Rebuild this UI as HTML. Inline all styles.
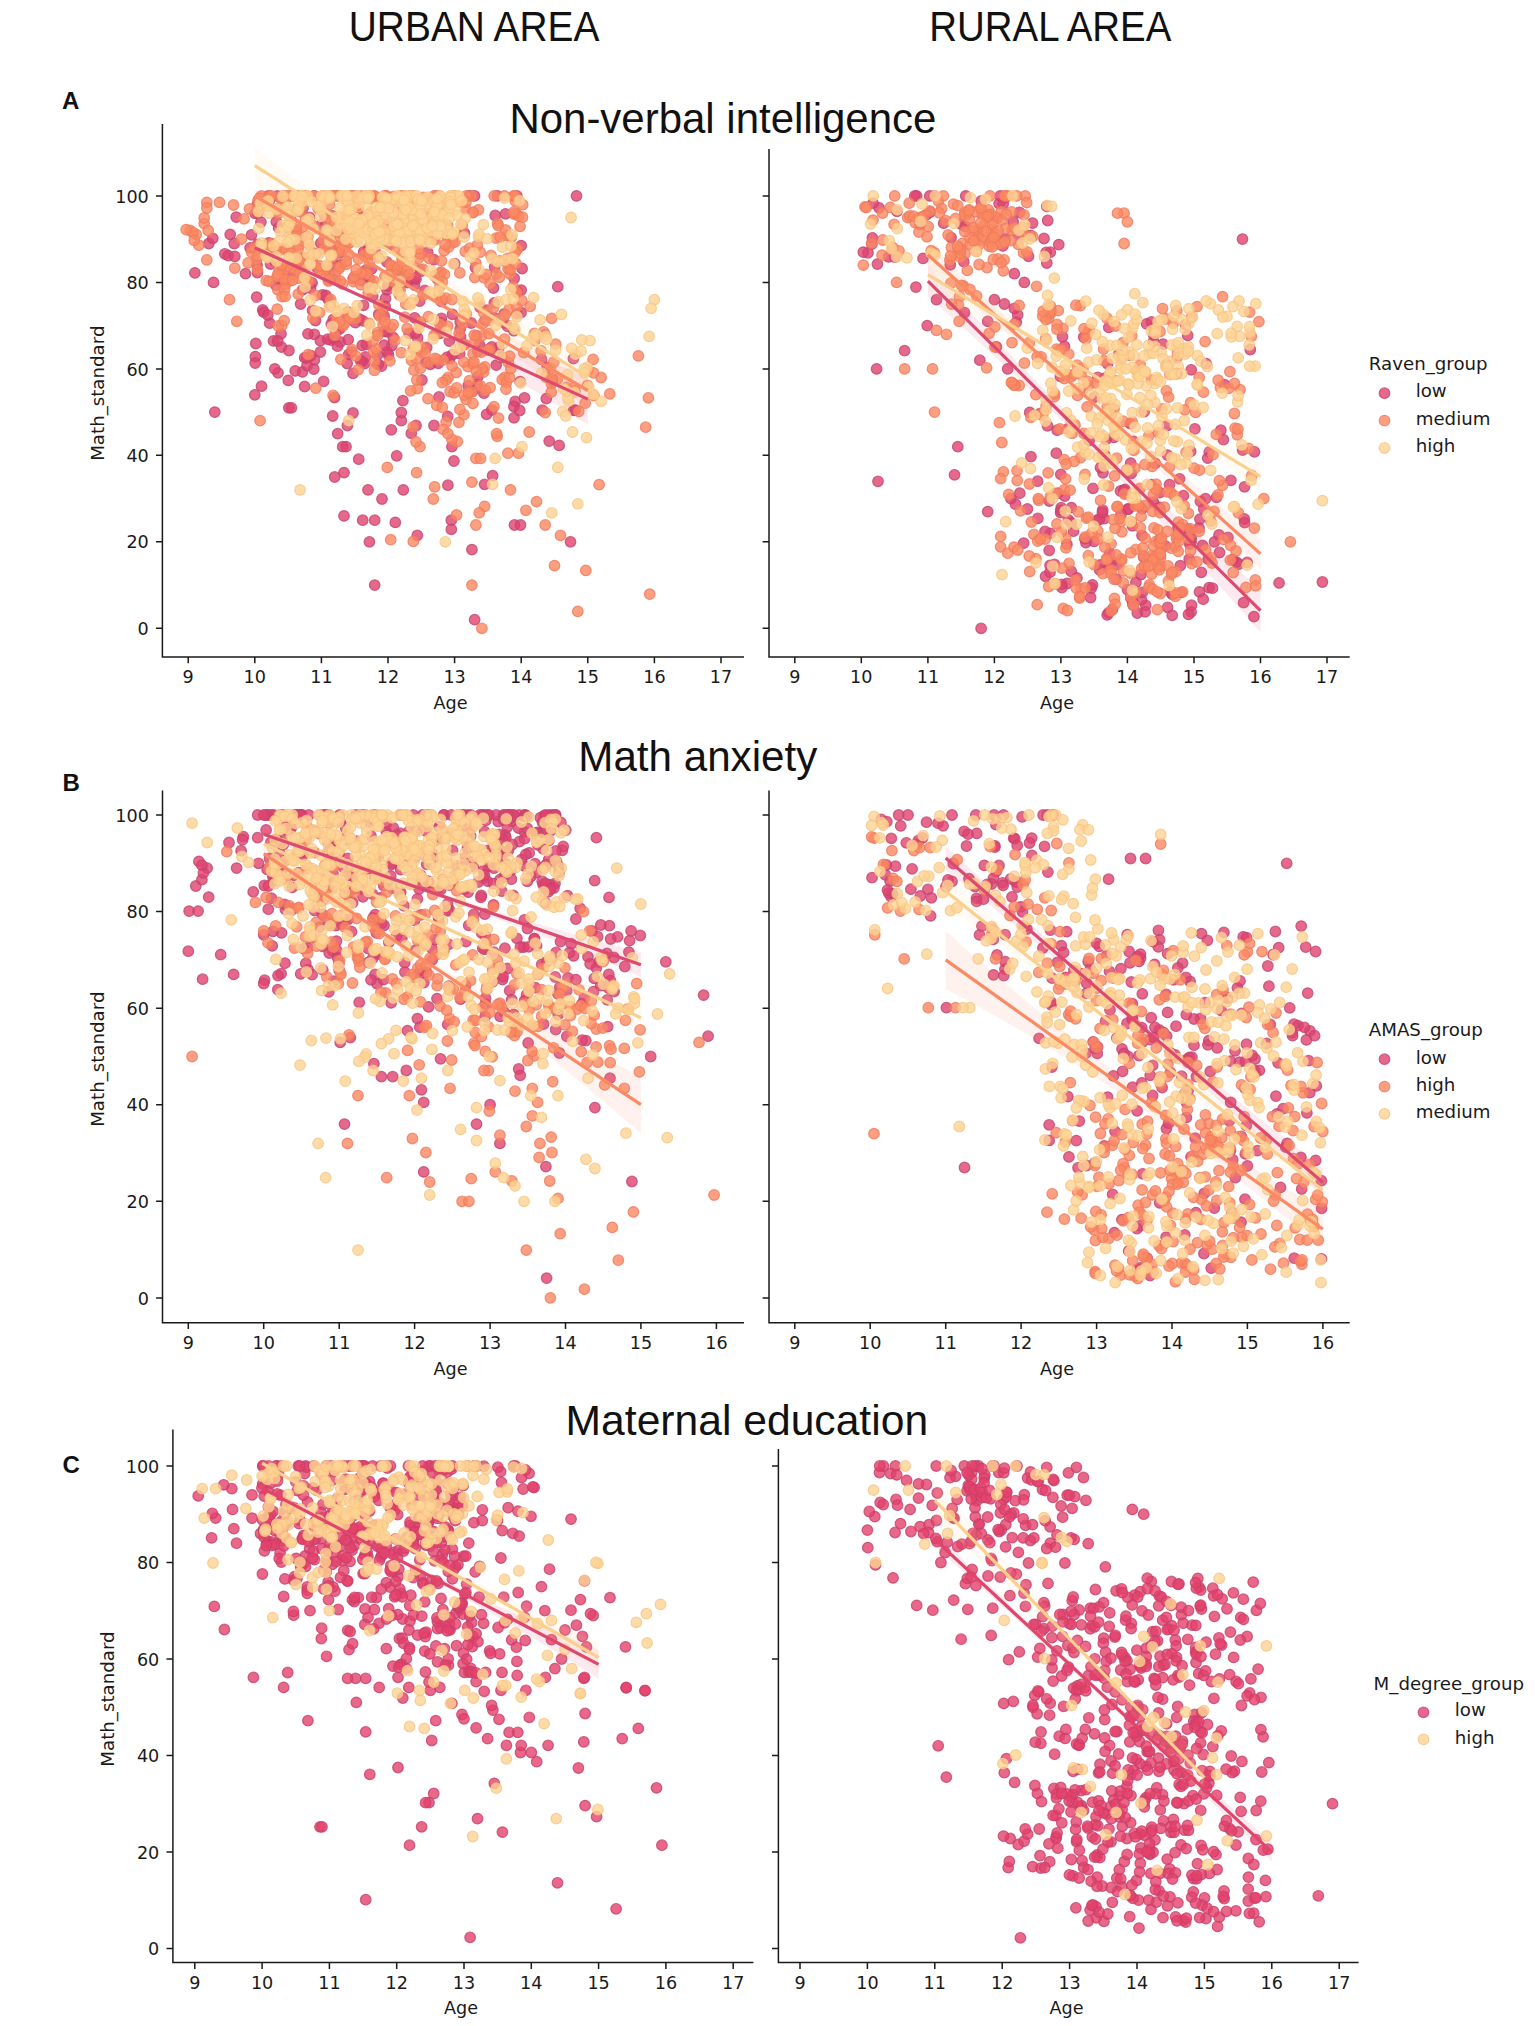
<!DOCTYPE html>
<html lang="en"><head><meta charset="utf-8"><title>Math achievement by age: urban and rural area</title>
<style>html,body{margin:0;padding:0;background:#fff}svg{display:block}text{font-family:"DejaVu Sans","Liberation Sans",sans-serif;font-size:17.6px;fill:#1a1a1a}.pts circle{r:5.3px;fill-opacity:.8;stroke-opacity:.8;stroke-width:1.2px}.h{font-family:"Liberation Sans",sans-serif;font-size:42.2px;fill:#111}.b{font-size:18.2px}.l{font-family:"Liberation Sans",sans-serif;font-weight:bold;font-size:24px;fill:#111}</style></head><body>
<svg width="1535" height="2026" viewBox="0 0 1535 2026" role="img" aria-label="Scatter plots of Math_standard by Age for urban and rural areas">
<rect width="1535" height="2026" fill="#fff"/>
<g class="h">
<text class="h" x="348.8" y="41.2" textLength="250.6" lengthAdjust="spacingAndGlyphs">URBAN AREA</text>
<text class="h" x="929.2" y="41.2" textLength="242.2" lengthAdjust="spacingAndGlyphs">RURAL AREA</text>
</g>
<!-- panel AL -->
<g class="pts">
<g fill="#e0426e" stroke="#c2456f">
<circle cx="491.8" cy="410" r="5.3"/><circle cx="347.4" cy="425.5" r="5.3"/><circle cx="333.3" cy="319.3" r="5.3"/><circle cx="451.3" cy="520.2" r="5.3"/><circle cx="447.7" cy="416.4" r="5.3"/><circle cx="449.6" cy="358.7" r="5.3"/><circle cx="254.8" cy="394.8" r="5.3"/><circle cx="468.2" cy="385.6" r="5.3"/>
<circle cx="522.1" cy="268.5" r="5.3"/><circle cx="401.3" cy="420.7" r="5.3"/><circle cx="245.5" cy="273.7" r="5.3"/><circle cx="333" cy="245.8" r="5.3"/><circle cx="340.6" cy="325.9" r="5.3"/><circle cx="469.3" cy="195.9" r="5.3"/><circle cx="515.2" cy="401.3" r="5.3"/><circle cx="385.5" cy="298.4" r="5.3"/>
<circle cx="337.6" cy="231.9" r="5.3"/><circle cx="260.9" cy="222.1" r="5.3"/><circle cx="386.8" cy="261.8" r="5.3"/><circle cx="387" cy="289.8" r="5.3"/><circle cx="559.2" cy="445.4" r="5.3"/><circle cx="362.2" cy="345.4" r="5.3"/><circle cx="213.5" cy="282.4" r="5.3"/><circle cx="362.5" cy="361.8" r="5.3"/>
<circle cx="355.3" cy="322.6" r="5.3"/><circle cx="291.1" cy="220.5" r="5.3"/><circle cx="359.5" cy="319.1" r="5.3"/><circle cx="498.7" cy="347.7" r="5.3"/><circle cx="409.1" cy="333.5" r="5.3"/><circle cx="494.3" cy="302.9" r="5.3"/><circle cx="507.6" cy="326.4" r="5.3"/><circle cx="414.5" cy="285" r="5.3"/>
<circle cx="314.4" cy="334.3" r="5.3"/><circle cx="552.6" cy="380.9" r="5.3"/><circle cx="276" cy="285.2" r="5.3"/><circle cx="255.8" cy="343.5" r="5.3"/><circle cx="331.3" cy="323.8" r="5.3"/><circle cx="320.4" cy="352" r="5.3"/><circle cx="321.3" cy="224.9" r="5.3"/><circle cx="477.3" cy="384.6" r="5.3"/>
<circle cx="493.5" cy="288" r="5.3"/><circle cx="339.8" cy="252.8" r="5.3"/><circle cx="372.7" cy="295.9" r="5.3"/><circle cx="541.5" cy="359.4" r="5.3"/><circle cx="401.3" cy="412.5" r="5.3"/><circle cx="368.2" cy="285.2" r="5.3"/><circle cx="484.6" cy="484.3" r="5.3"/><circle cx="304.6" cy="386.5" r="5.3"/>
<circle cx="434" cy="425.5" r="5.3"/><circle cx="372.6" cy="253.7" r="5.3"/><circle cx="363.5" cy="305.3" r="5.3"/><circle cx="387.2" cy="331.8" r="5.3"/><circle cx="282.1" cy="285" r="5.3"/><circle cx="257.4" cy="204.5" r="5.3"/><circle cx="302.4" cy="371.9" r="5.3"/><circle cx="382" cy="499" r="5.3"/>
<circle cx="320.4" cy="340.7" r="5.3"/><circle cx="441.4" cy="318.3" r="5.3"/><circle cx="346" cy="446.7" r="5.3"/><circle cx="344" cy="472.6" r="5.3"/><circle cx="340.2" cy="342" r="5.3"/><circle cx="514" cy="417.8" r="5.3"/><circle cx="262.7" cy="310" r="5.3"/><circle cx="324.3" cy="214.5" r="5.3"/>
<circle cx="486.6" cy="414.3" r="5.3"/><circle cx="471.9" cy="549.6" r="5.3"/><circle cx="377.8" cy="256.8" r="5.3"/><circle cx="297.4" cy="195.9" r="5.3"/><circle cx="269.4" cy="200.6" r="5.3"/><circle cx="255.3" cy="356.6" r="5.3"/><circle cx="276.3" cy="221.7" r="5.3"/><circle cx="344.6" cy="244.1" r="5.3"/>
<circle cx="486.8" cy="310.2" r="5.3"/><circle cx="316.9" cy="267.6" r="5.3"/><circle cx="358.7" cy="459.2" r="5.3"/><circle cx="364.6" cy="363.5" r="5.3"/><circle cx="314.4" cy="359.9" r="5.3"/><circle cx="504.6" cy="323.1" r="5.3"/><circle cx="288.3" cy="380.4" r="5.3"/><circle cx="374.7" cy="520.2" r="5.3"/>
<circle cx="391.3" cy="429.8" r="5.3"/><circle cx="332.7" cy="416" r="5.3"/><circle cx="330.1" cy="305.4" r="5.3"/><circle cx="451.9" cy="446.7" r="5.3"/><circle cx="420.7" cy="269.7" r="5.3"/><circle cx="255.2" cy="363.1" r="5.3"/><circle cx="277.2" cy="195.9" r="5.3"/><circle cx="363" cy="217.1" r="5.3"/>
<circle cx="520.1" cy="381.7" r="5.3"/><circle cx="379.4" cy="235" r="5.3"/><circle cx="353.2" cy="278.6" r="5.3"/><circle cx="460.5" cy="336.6" r="5.3"/><circle cx="331" cy="340" r="5.3"/><circle cx="441.3" cy="301.4" r="5.3"/><circle cx="347.6" cy="311.8" r="5.3"/><circle cx="411.3" cy="433.3" r="5.3"/>
<circle cx="255.1" cy="213.4" r="5.3"/><circle cx="388.5" cy="355" r="5.3"/><circle cx="333.9" cy="338.7" r="5.3"/><circle cx="417.6" cy="337.8" r="5.3"/><circle cx="387.4" cy="351.8" r="5.3"/><circle cx="381.5" cy="366.1" r="5.3"/><circle cx="310.8" cy="355.6" r="5.3"/><circle cx="348.2" cy="339.7" r="5.3"/>
<circle cx="504.1" cy="314" r="5.3"/><circle cx="335.7" cy="331.7" r="5.3"/><circle cx="491" cy="349.8" r="5.3"/><circle cx="375.3" cy="251.8" r="5.3"/><circle cx="387.7" cy="286" r="5.3"/><circle cx="463.8" cy="344.7" r="5.3"/><circle cx="365.9" cy="270.2" r="5.3"/><circle cx="322.5" cy="294.8" r="5.3"/>
<circle cx="337.5" cy="346.2" r="5.3"/><circle cx="288.4" cy="275.6" r="5.3"/><circle cx="453" cy="195.9" r="5.3"/><circle cx="263.7" cy="312.2" r="5.3"/><circle cx="420.8" cy="271.4" r="5.3"/><circle cx="274.8" cy="260.9" r="5.3"/><circle cx="251.5" cy="234.8" r="5.3"/><circle cx="347.2" cy="363.5" r="5.3"/>
<circle cx="385.2" cy="306.4" r="5.3"/><circle cx="407.3" cy="282.6" r="5.3"/><circle cx="416.6" cy="231.5" r="5.3"/><circle cx="376.1" cy="215.1" r="5.3"/><circle cx="521" cy="312.5" r="5.3"/><circle cx="234.2" cy="243.5" r="5.3"/><circle cx="441.1" cy="322.8" r="5.3"/><circle cx="514.2" cy="278.3" r="5.3"/>
<circle cx="355.8" cy="195.9" r="5.3"/><circle cx="517.5" cy="291.7" r="5.3"/><circle cx="546.3" cy="398.6" r="5.3"/><circle cx="471.2" cy="323" r="5.3"/><circle cx="521.2" cy="290.1" r="5.3"/><circle cx="362.7" cy="520.2" r="5.3"/><circle cx="513.8" cy="330.8" r="5.3"/><circle cx="545" cy="334.7" r="5.3"/>
<circle cx="270.5" cy="264" r="5.3"/><circle cx="439.2" cy="277.5" r="5.3"/><circle cx="262.5" cy="248.8" r="5.3"/><circle cx="273.5" cy="340.9" r="5.3"/><circle cx="281" cy="333.8" r="5.3"/><circle cx="475.5" cy="267.7" r="5.3"/><circle cx="477.9" cy="376.5" r="5.3"/><circle cx="433.9" cy="259.7" r="5.3"/>
<circle cx="327.8" cy="339.2" r="5.3"/><circle cx="281.5" cy="347.1" r="5.3"/><circle cx="208.8" cy="243.5" r="5.3"/><circle cx="306.7" cy="358" r="5.3"/><circle cx="278" cy="372.8" r="5.3"/><circle cx="549.2" cy="441.1" r="5.3"/><circle cx="353" cy="413" r="5.3"/><circle cx="365.5" cy="357" r="5.3"/>
<circle cx="290.8" cy="195.9" r="5.3"/><circle cx="437.8" cy="279.2" r="5.3"/><circle cx="514.5" cy="525" r="5.3"/><circle cx="440.1" cy="333.3" r="5.3"/><circle cx="274.8" cy="368.9" r="5.3"/><circle cx="286.4" cy="227.5" r="5.3"/><circle cx="294.2" cy="230" r="5.3"/><circle cx="277.7" cy="341" r="5.3"/>
<circle cx="257.1" cy="265.1" r="5.3"/><circle cx="403.3" cy="489.9" r="5.3"/><circle cx="573.7" cy="410.4" r="5.3"/><circle cx="328.3" cy="299.3" r="5.3"/><circle cx="417.3" cy="535.3" r="5.3"/><circle cx="395.3" cy="522.4" r="5.3"/><circle cx="307" cy="365.5" r="5.3"/><circle cx="464.4" cy="233.2" r="5.3"/>
<circle cx="452.5" cy="354.6" r="5.3"/><circle cx="424.8" cy="290.5" r="5.3"/><circle cx="288.9" cy="350.5" r="5.3"/><circle cx="520.5" cy="525" r="5.3"/><circle cx="257.5" cy="272.7" r="5.3"/><circle cx="521.2" cy="245.6" r="5.3"/><circle cx="496.2" cy="365.1" r="5.3"/><circle cx="194.9" cy="272.9" r="5.3"/>
<circle cx="573.4" cy="358.6" r="5.3"/><circle cx="224.8" cy="253.8" r="5.3"/><circle cx="331.8" cy="215.6" r="5.3"/><circle cx="447.9" cy="485.2" r="5.3"/><circle cx="309.6" cy="217.3" r="5.3"/><circle cx="308" cy="333.8" r="5.3"/><circle cx="439" cy="397" r="5.3"/><circle cx="344" cy="515.9" r="5.3"/>
<circle cx="335.1" cy="279.6" r="5.3"/><circle cx="304.7" cy="357.7" r="5.3"/><circle cx="378.2" cy="364.3" r="5.3"/><circle cx="302.6" cy="289.8" r="5.3"/><circle cx="363.7" cy="251.8" r="5.3"/><circle cx="228.2" cy="255.6" r="5.3"/><circle cx="323.6" cy="381.3" r="5.3"/><circle cx="474.5" cy="195.9" r="5.3"/>
<circle cx="421.9" cy="380" r="5.3"/><circle cx="366.4" cy="344.3" r="5.3"/><circle cx="513.9" cy="406.5" r="5.3"/><circle cx="402.9" cy="400.7" r="5.3"/><circle cx="250.1" cy="247.8" r="5.3"/><circle cx="430.4" cy="364.3" r="5.3"/><circle cx="332.1" cy="257.9" r="5.3"/><circle cx="342.7" cy="446.7" r="5.3"/>
<circle cx="351.7" cy="351.9" r="5.3"/><circle cx="257.6" cy="244.3" r="5.3"/><circle cx="516.9" cy="195.9" r="5.3"/><circle cx="414.7" cy="317.8" r="5.3"/><circle cx="295.2" cy="370.9" r="5.3"/><circle cx="329.5" cy="274" r="5.3"/><circle cx="453.9" cy="461" r="5.3"/><circle cx="494.7" cy="317.9" r="5.3"/>
<circle cx="576.5" cy="195.9" r="5.3"/><circle cx="492.6" cy="475.7" r="5.3"/><circle cx="451.3" cy="529.3" r="5.3"/><circle cx="391.9" cy="345.5" r="5.3"/><circle cx="339.5" cy="329.2" r="5.3"/><circle cx="426.7" cy="347.3" r="5.3"/><circle cx="285" cy="269.3" r="5.3"/><circle cx="488.6" cy="349.5" r="5.3"/>
<circle cx="212.8" cy="238.3" r="5.3"/><circle cx="505.5" cy="213.8" r="5.3"/><circle cx="305.9" cy="195.9" r="5.3"/><circle cx="326" cy="295.5" r="5.3"/><circle cx="377.5" cy="355.1" r="5.3"/><circle cx="495.2" cy="215.5" r="5.3"/><circle cx="557.8" cy="286.7" r="5.3"/><circle cx="269.7" cy="323.2" r="5.3"/>
<circle cx="312.1" cy="282.9" r="5.3"/><circle cx="415.6" cy="333.1" r="5.3"/><circle cx="334.5" cy="397.5" r="5.3"/><circle cx="288.8" cy="407.8" r="5.3"/><circle cx="570.5" cy="541.8" r="5.3"/><circle cx="427.7" cy="252.2" r="5.3"/><circle cx="374.7" cy="585.1" r="5.3"/><circle cx="485" cy="320.3" r="5.3"/>
<circle cx="267.8" cy="315" r="5.3"/><circle cx="369.4" cy="541.8" r="5.3"/><circle cx="236.2" cy="217.1" r="5.3"/><circle cx="419.6" cy="301.2" r="5.3"/><circle cx="542.2" cy="410.2" r="5.3"/><circle cx="524.5" cy="397.8" r="5.3"/><circle cx="516.9" cy="313.8" r="5.3"/><circle cx="472.6" cy="391.3" r="5.3"/>
<circle cx="479.5" cy="344.9" r="5.3"/><circle cx="384.1" cy="316.2" r="5.3"/><circle cx="266.5" cy="255.2" r="5.3"/><circle cx="230.2" cy="234.4" r="5.3"/><circle cx="348.7" cy="354.3" r="5.3"/><circle cx="368" cy="489.9" r="5.3"/><circle cx="315.4" cy="320.5" r="5.3"/><circle cx="271.5" cy="252.2" r="5.3"/>
<circle cx="348" cy="315.3" r="5.3"/><circle cx="497.3" cy="195.9" r="5.3"/><circle cx="438.2" cy="363.3" r="5.3"/><circle cx="334.7" cy="477" r="5.3"/><circle cx="268.2" cy="195.9" r="5.3"/><circle cx="574.9" cy="390.9" r="5.3"/><circle cx="350.3" cy="229.7" r="5.3"/><circle cx="501.9" cy="357.4" r="5.3"/>
<circle cx="312.6" cy="310.3" r="5.3"/><circle cx="476.6" cy="336" r="5.3"/><circle cx="483.9" cy="393.2" r="5.3"/><circle cx="384.3" cy="345.1" r="5.3"/><circle cx="460.2" cy="328.8" r="5.3"/><circle cx="416" cy="425.5" r="5.3"/><circle cx="337.7" cy="433.7" r="5.3"/><circle cx="396.7" cy="455.8" r="5.3"/>
<circle cx="460.2" cy="321.8" r="5.3"/><circle cx="547.1" cy="367.3" r="5.3"/><circle cx="257.8" cy="212.9" r="5.3"/><circle cx="491.8" cy="347" r="5.3"/><circle cx="377.7" cy="241.9" r="5.3"/><circle cx="575.5" cy="410.1" r="5.3"/><circle cx="452.4" cy="314.3" r="5.3"/><circle cx="360.5" cy="360.6" r="5.3"/>
<circle cx="314.1" cy="195.9" r="5.3"/><circle cx="303.1" cy="208.1" r="5.3"/><circle cx="480.1" cy="307.3" r="5.3"/><circle cx="261.5" cy="386.2" r="5.3"/><circle cx="384.3" cy="223.1" r="5.3"/><circle cx="449.3" cy="341.1" r="5.3"/><circle cx="406.2" cy="281.1" r="5.3"/><circle cx="384.2" cy="331.4" r="5.3"/>
<circle cx="426.2" cy="362.7" r="5.3"/><circle cx="291.4" cy="407.8" r="5.3"/><circle cx="371.6" cy="268.9" r="5.3"/><circle cx="474.6" cy="619.7" r="5.3"/><circle cx="459.7" cy="353.6" r="5.3"/><circle cx="234.8" cy="256.4" r="5.3"/><circle cx="320.8" cy="243.2" r="5.3"/><circle cx="368.6" cy="247.9" r="5.3"/>
<circle cx="416" cy="279" r="5.3"/><circle cx="390.5" cy="244.4" r="5.3"/><circle cx="353" cy="373.3" r="5.3"/><circle cx="362.9" cy="320.8" r="5.3"/><circle cx="447.2" cy="357.1" r="5.3"/><circle cx="494.6" cy="267" r="5.3"/><circle cx="477.8" cy="351.3" r="5.3"/><circle cx="341" cy="264.7" r="5.3"/>
<circle cx="360.3" cy="280.3" r="5.3"/><circle cx="256.7" cy="297.1" r="5.3"/><circle cx="415.1" cy="277.6" r="5.3"/><circle cx="393.2" cy="337.5" r="5.3"/><circle cx="313.8" cy="369.1" r="5.3"/><circle cx="454.7" cy="263.6" r="5.3"/><circle cx="369.7" cy="279.5" r="5.3"/><circle cx="397.3" cy="269.8" r="5.3"/>
<circle cx="403.6" cy="275.7" r="5.3"/><circle cx="278.6" cy="227.9" r="5.3"/><circle cx="300.6" cy="304" r="5.3"/><circle cx="304.4" cy="257.9" r="5.3"/><circle cx="519.7" cy="410.5" r="5.3"/><circle cx="325.9" cy="224.5" r="5.3"/><circle cx="334.9" cy="265.3" r="5.3"/><circle cx="268.8" cy="242.8" r="5.3"/>
<circle cx="351.9" cy="316.4" r="5.3"/><circle cx="214.8" cy="412.1" r="5.3"/><circle cx="310.5" cy="288" r="5.3"/><circle cx="378.7" cy="314.2" r="5.3"/>
</g>
<path d="M254.8 241.3 Q421.3 333.8 587.8 373.2 L587.8 425.1 Q421.3 313.1 254.8 254.3 Z" fill="#e0426e" fill-opacity=".11" stroke="none"/>
<g fill="#fb8861" stroke="#ef7a5c">
<circle cx="331.7" cy="235" r="5.3"/><circle cx="418.3" cy="258.4" r="5.3"/><circle cx="459.1" cy="333.6" r="5.3"/><circle cx="489.9" cy="349.4" r="5.3"/><circle cx="494" cy="406.7" r="5.3"/><circle cx="458.9" cy="422.3" r="5.3"/><circle cx="304.5" cy="195.9" r="5.3"/><circle cx="393.3" cy="266.1" r="5.3"/>
<circle cx="507.7" cy="263.4" r="5.3"/><circle cx="410.4" cy="195.9" r="5.3"/><circle cx="523.8" cy="352.5" r="5.3"/><circle cx="388.9" cy="205.9" r="5.3"/><circle cx="475.9" cy="263.1" r="5.3"/><circle cx="504.7" cy="377.4" r="5.3"/><circle cx="261.3" cy="195.9" r="5.3"/><circle cx="511.2" cy="237.4" r="5.3"/>
<circle cx="497.2" cy="436.3" r="5.3"/><circle cx="391" cy="327.6" r="5.3"/><circle cx="397.9" cy="286.9" r="5.3"/><circle cx="480.2" cy="252.2" r="5.3"/><circle cx="393.2" cy="324.6" r="5.3"/><circle cx="302.4" cy="205.1" r="5.3"/><circle cx="374.6" cy="361.3" r="5.3"/><circle cx="314.1" cy="195.9" r="5.3"/>
<circle cx="587.5" cy="385.3" r="5.3"/><circle cx="366.6" cy="195.9" r="5.3"/><circle cx="446.4" cy="235.5" r="5.3"/><circle cx="337.8" cy="195.9" r="5.3"/><circle cx="229.5" cy="299.7" r="5.3"/><circle cx="448.2" cy="377.3" r="5.3"/><circle cx="557.4" cy="379" r="5.3"/><circle cx="466.1" cy="399.4" r="5.3"/>
<circle cx="402" cy="259.2" r="5.3"/><circle cx="355.8" cy="318.6" r="5.3"/><circle cx="462.3" cy="225.5" r="5.3"/><circle cx="498.5" cy="418.1" r="5.3"/><circle cx="383.6" cy="240.4" r="5.3"/><circle cx="277.8" cy="289.8" r="5.3"/><circle cx="296.7" cy="270.1" r="5.3"/><circle cx="405.6" cy="271.5" r="5.3"/>
<circle cx="301.8" cy="266.3" r="5.3"/><circle cx="404.9" cy="317.2" r="5.3"/><circle cx="507.9" cy="453.2" r="5.3"/><circle cx="404.3" cy="195.9" r="5.3"/><circle cx="496.3" cy="274" r="5.3"/><circle cx="365.9" cy="273.8" r="5.3"/><circle cx="324.5" cy="269.8" r="5.3"/><circle cx="401.9" cy="254.4" r="5.3"/>
<circle cx="260.7" cy="246.7" r="5.3"/><circle cx="286.2" cy="206.8" r="5.3"/><circle cx="386.1" cy="195.9" r="5.3"/><circle cx="279.1" cy="268.4" r="5.3"/><circle cx="420.3" cy="253.9" r="5.3"/><circle cx="348.3" cy="243.5" r="5.3"/><circle cx="291.1" cy="267.7" r="5.3"/><circle cx="339.1" cy="268.4" r="5.3"/>
<circle cx="513.7" cy="195.9" r="5.3"/><circle cx="306.6" cy="195.9" r="5.3"/><circle cx="283.2" cy="199.3" r="5.3"/><circle cx="251.5" cy="252.1" r="5.3"/><circle cx="377.6" cy="332.7" r="5.3"/><circle cx="315.3" cy="295.5" r="5.3"/><circle cx="241.5" cy="239.1" r="5.3"/><circle cx="379.6" cy="316.2" r="5.3"/>
<circle cx="446.1" cy="422.1" r="5.3"/><circle cx="410.6" cy="195.9" r="5.3"/><circle cx="550.5" cy="368.6" r="5.3"/><circle cx="439.7" cy="324.1" r="5.3"/><circle cx="373.6" cy="351.8" r="5.3"/><circle cx="367.2" cy="273.9" r="5.3"/><circle cx="514" cy="214.1" r="5.3"/><circle cx="316.5" cy="253.3" r="5.3"/>
<circle cx="286.6" cy="208.6" r="5.3"/><circle cx="496.6" cy="433.7" r="5.3"/><circle cx="302.1" cy="236.5" r="5.3"/><circle cx="383" cy="308.4" r="5.3"/><circle cx="529.2" cy="432" r="5.3"/><circle cx="444.2" cy="250.6" r="5.3"/><circle cx="504.6" cy="339.1" r="5.3"/><circle cx="481.3" cy="336.2" r="5.3"/>
<circle cx="423.8" cy="349.3" r="5.3"/><circle cx="480.3" cy="385.7" r="5.3"/><circle cx="366.2" cy="253.9" r="5.3"/><circle cx="443.1" cy="360.1" r="5.3"/><circle cx="404.2" cy="264.1" r="5.3"/><circle cx="346.6" cy="199.1" r="5.3"/><circle cx="282.1" cy="249.2" r="5.3"/><circle cx="536.5" cy="501.6" r="5.3"/>
<circle cx="534.4" cy="333.5" r="5.3"/><circle cx="413.2" cy="348.9" r="5.3"/><circle cx="499.4" cy="277.3" r="5.3"/><circle cx="376" cy="348.8" r="5.3"/><circle cx="427.2" cy="213.7" r="5.3"/><circle cx="385.8" cy="235.5" r="5.3"/><circle cx="297.9" cy="245.6" r="5.3"/><circle cx="374.5" cy="195.9" r="5.3"/>
<circle cx="389.4" cy="239" r="5.3"/><circle cx="504.4" cy="195.9" r="5.3"/><circle cx="375" cy="237.5" r="5.3"/><circle cx="388.2" cy="277" r="5.3"/><circle cx="303.2" cy="274.1" r="5.3"/><circle cx="441.1" cy="272.1" r="5.3"/><circle cx="395.2" cy="340.2" r="5.3"/><circle cx="436.7" cy="359.3" r="5.3"/>
<circle cx="399.3" cy="221.2" r="5.3"/><circle cx="336.3" cy="195.9" r="5.3"/><circle cx="413.3" cy="541.4" r="5.3"/><circle cx="323.5" cy="195.9" r="5.3"/><circle cx="263.3" cy="249.7" r="5.3"/><circle cx="282.4" cy="272.5" r="5.3"/><circle cx="256.6" cy="259.6" r="5.3"/><circle cx="403.6" cy="222.2" r="5.3"/>
<circle cx="450.1" cy="391.5" r="5.3"/><circle cx="297.7" cy="198" r="5.3"/><circle cx="412.6" cy="266" r="5.3"/><circle cx="293" cy="268.1" r="5.3"/><circle cx="645.7" cy="427.2" r="5.3"/><circle cx="343.7" cy="236.1" r="5.3"/><circle cx="280.9" cy="198.2" r="5.3"/><circle cx="325.9" cy="198" r="5.3"/>
<circle cx="430.9" cy="234.6" r="5.3"/><circle cx="534.8" cy="340.7" r="5.3"/><circle cx="649.7" cy="594.1" r="5.3"/><circle cx="439.6" cy="296.5" r="5.3"/><circle cx="244.1" cy="218.8" r="5.3"/><circle cx="518.5" cy="453.2" r="5.3"/><circle cx="593.1" cy="359.4" r="5.3"/><circle cx="484.7" cy="366.9" r="5.3"/>
<circle cx="428.6" cy="362.1" r="5.3"/><circle cx="236.8" cy="321.3" r="5.3"/><circle cx="515.2" cy="201" r="5.3"/><circle cx="464" cy="414.7" r="5.3"/><circle cx="288.8" cy="251.8" r="5.3"/><circle cx="601.1" cy="377.5" r="5.3"/><circle cx="332.2" cy="195.9" r="5.3"/><circle cx="464.5" cy="395" r="5.3"/>
<circle cx="369.3" cy="263" r="5.3"/><circle cx="267.4" cy="248.6" r="5.3"/><circle cx="379.7" cy="198.5" r="5.3"/><circle cx="393.3" cy="281.7" r="5.3"/><circle cx="349.9" cy="242.4" r="5.3"/><circle cx="281.7" cy="325.5" r="5.3"/><circle cx="206.8" cy="202.4" r="5.3"/><circle cx="351.4" cy="223.3" r="5.3"/>
<circle cx="288.5" cy="226" r="5.3"/><circle cx="372.7" cy="285.4" r="5.3"/><circle cx="434.7" cy="275.9" r="5.3"/><circle cx="442.4" cy="205.5" r="5.3"/><circle cx="471.8" cy="195.9" r="5.3"/><circle cx="335.1" cy="273.9" r="5.3"/><circle cx="516.6" cy="248.4" r="5.3"/><circle cx="648.4" cy="397.8" r="5.3"/>
<circle cx="516" cy="213.6" r="5.3"/><circle cx="234.8" cy="268.1" r="5.3"/><circle cx="435.8" cy="195.9" r="5.3"/><circle cx="585.8" cy="570.4" r="5.3"/><circle cx="382.4" cy="242.7" r="5.3"/><circle cx="447.7" cy="326.1" r="5.3"/><circle cx="474.9" cy="341.9" r="5.3"/><circle cx="425.4" cy="222" r="5.3"/>
<circle cx="502.2" cy="379.7" r="5.3"/><circle cx="506.4" cy="382.5" r="5.3"/><circle cx="431.9" cy="223.1" r="5.3"/><circle cx="374.4" cy="370.4" r="5.3"/><circle cx="365.7" cy="229.5" r="5.3"/><circle cx="418.7" cy="248.4" r="5.3"/><circle cx="578.8" cy="411.4" r="5.3"/><circle cx="411" cy="209.8" r="5.3"/>
<circle cx="443.8" cy="208.3" r="5.3"/><circle cx="300.6" cy="201.6" r="5.3"/><circle cx="249.5" cy="208.9" r="5.3"/><circle cx="443.3" cy="429.4" r="5.3"/><circle cx="413.9" cy="370.2" r="5.3"/><circle cx="434.1" cy="335.4" r="5.3"/><circle cx="457.3" cy="441.5" r="5.3"/><circle cx="400.1" cy="289.9" r="5.3"/>
<circle cx="308.3" cy="243.8" r="5.3"/><circle cx="365.3" cy="198" r="5.3"/><circle cx="278.6" cy="213.3" r="5.3"/><circle cx="313" cy="252.9" r="5.3"/><circle cx="484.6" cy="506.4" r="5.3"/><circle cx="446" cy="380.2" r="5.3"/><circle cx="391.6" cy="266.5" r="5.3"/><circle cx="506" cy="389.1" r="5.3"/>
<circle cx="302.2" cy="227.5" r="5.3"/><circle cx="453.3" cy="236.3" r="5.3"/><circle cx="509.5" cy="377.5" r="5.3"/><circle cx="555.7" cy="344.1" r="5.3"/><circle cx="433.3" cy="499" r="5.3"/><circle cx="282.1" cy="296.7" r="5.3"/><circle cx="441.5" cy="260.8" r="5.3"/><circle cx="374.8" cy="237.2" r="5.3"/>
<circle cx="330.7" cy="299.4" r="5.3"/><circle cx="421.2" cy="352" r="5.3"/><circle cx="391.1" cy="265.4" r="5.3"/><circle cx="258" cy="200.4" r="5.3"/><circle cx="423.5" cy="197.5" r="5.3"/><circle cx="471.6" cy="391.9" r="5.3"/><circle cx="467.9" cy="366.6" r="5.3"/><circle cx="342.4" cy="283.9" r="5.3"/>
<circle cx="497.6" cy="223.5" r="5.3"/><circle cx="298.4" cy="278.2" r="5.3"/><circle cx="510.1" cy="274" r="5.3"/><circle cx="336.3" cy="253.3" r="5.3"/><circle cx="465.5" cy="209.2" r="5.3"/><circle cx="364.2" cy="255.2" r="5.3"/><circle cx="566.4" cy="387.3" r="5.3"/><circle cx="452.7" cy="242.7" r="5.3"/>
<circle cx="299.8" cy="272.7" r="5.3"/><circle cx="389.4" cy="217.5" r="5.3"/><circle cx="454.1" cy="392.8" r="5.3"/><circle cx="448.7" cy="247.1" r="5.3"/><circle cx="397.5" cy="268" r="5.3"/><circle cx="509" cy="309.1" r="5.3"/><circle cx="489.3" cy="320.2" r="5.3"/><circle cx="346.8" cy="312.6" r="5.3"/>
<circle cx="327.4" cy="195.9" r="5.3"/><circle cx="525.9" cy="510.3" r="5.3"/><circle cx="420" cy="446.7" r="5.3"/><circle cx="585.2" cy="403.2" r="5.3"/><circle cx="484.1" cy="277.8" r="5.3"/><circle cx="260.1" cy="420.7" r="5.3"/><circle cx="340.2" cy="245.1" r="5.3"/><circle cx="285.5" cy="284.3" r="5.3"/>
<circle cx="323.3" cy="230.5" r="5.3"/><circle cx="494.2" cy="195.9" r="5.3"/><circle cx="396.5" cy="250.5" r="5.3"/><circle cx="277" cy="276.7" r="5.3"/><circle cx="312.8" cy="318.1" r="5.3"/><circle cx="406.9" cy="269.4" r="5.3"/><circle cx="465.3" cy="251.5" r="5.3"/><circle cx="399.2" cy="238.9" r="5.3"/>
<circle cx="204.2" cy="223.6" r="5.3"/><circle cx="439.9" cy="273.5" r="5.3"/><circle cx="508.1" cy="268.8" r="5.3"/><circle cx="297.5" cy="195.9" r="5.3"/><circle cx="434.8" cy="240" r="5.3"/><circle cx="328.4" cy="281" r="5.3"/><circle cx="444.4" cy="274.3" r="5.3"/><circle cx="473.1" cy="212.4" r="5.3"/>
<circle cx="344.7" cy="323" r="5.3"/><circle cx="390.7" cy="539.7" r="5.3"/><circle cx="323.4" cy="273.5" r="5.3"/><circle cx="413.2" cy="426.9" r="5.3"/><circle cx="400.8" cy="195.9" r="5.3"/><circle cx="380.2" cy="225.3" r="5.3"/><circle cx="530.2" cy="306.4" r="5.3"/><circle cx="442" cy="298.9" r="5.3"/>
<circle cx="488.8" cy="333.7" r="5.3"/><circle cx="488.2" cy="350.1" r="5.3"/><circle cx="466.4" cy="195.9" r="5.3"/><circle cx="517.1" cy="249.3" r="5.3"/><circle cx="298.2" cy="249" r="5.3"/><circle cx="208.2" cy="230.5" r="5.3"/><circle cx="411.7" cy="209" r="5.3"/><circle cx="514.7" cy="195.9" r="5.3"/>
<circle cx="490.1" cy="387.6" r="5.3"/><circle cx="254.8" cy="247.9" r="5.3"/><circle cx="483.6" cy="372.1" r="5.3"/><circle cx="329" cy="279.5" r="5.3"/><circle cx="266.3" cy="280.7" r="5.3"/><circle cx="306.1" cy="280.2" r="5.3"/><circle cx="472.9" cy="403.4" r="5.3"/><circle cx="341.9" cy="251.1" r="5.3"/>
<circle cx="482.4" cy="369" r="5.3"/><circle cx="336.9" cy="317.9" r="5.3"/><circle cx="373.1" cy="341.1" r="5.3"/><circle cx="515.3" cy="252.2" r="5.3"/><circle cx="344.4" cy="234.7" r="5.3"/><circle cx="588" cy="370.3" r="5.3"/><circle cx="553.8" cy="362" r="5.3"/><circle cx="282.9" cy="195.9" r="5.3"/>
<circle cx="429.4" cy="258.7" r="5.3"/><circle cx="411.5" cy="360.3" r="5.3"/><circle cx="466.4" cy="313.8" r="5.3"/><circle cx="491" cy="255.3" r="5.3"/><circle cx="339.1" cy="220" r="5.3"/><circle cx="351.4" cy="318.2" r="5.3"/><circle cx="428" cy="398.7" r="5.3"/><circle cx="190.2" cy="230.5" r="5.3"/>
<circle cx="399.6" cy="231.8" r="5.3"/><circle cx="410.4" cy="195.9" r="5.3"/><circle cx="358.4" cy="259.1" r="5.3"/><circle cx="373.3" cy="255.2" r="5.3"/><circle cx="339.9" cy="266.9" r="5.3"/><circle cx="554.5" cy="565.6" r="5.3"/><circle cx="312.2" cy="224.9" r="5.3"/><circle cx="405.8" cy="304.2" r="5.3"/>
<circle cx="273" cy="256.7" r="5.3"/><circle cx="298.7" cy="206.8" r="5.3"/><circle cx="510.2" cy="269.5" r="5.3"/><circle cx="204.2" cy="218" r="5.3"/><circle cx="455.1" cy="241.9" r="5.3"/><circle cx="508.4" cy="362.3" r="5.3"/><circle cx="451.9" cy="439.3" r="5.3"/><circle cx="475.9" cy="458.4" r="5.3"/>
<circle cx="498.3" cy="225.7" r="5.3"/><circle cx="319.9" cy="270.5" r="5.3"/><circle cx="286.6" cy="212" r="5.3"/><circle cx="417.4" cy="388.6" r="5.3"/><circle cx="299.6" cy="210.9" r="5.3"/><circle cx="372.4" cy="221.1" r="5.3"/><circle cx="434" cy="238.7" r="5.3"/><circle cx="289.1" cy="195.9" r="5.3"/>
<circle cx="279.7" cy="207.4" r="5.3"/><circle cx="410.6" cy="390.8" r="5.3"/><circle cx="386.9" cy="242.1" r="5.3"/><circle cx="404" cy="215.4" r="5.3"/><circle cx="196.2" cy="234.4" r="5.3"/><circle cx="439.4" cy="195.9" r="5.3"/><circle cx="192.9" cy="232.7" r="5.3"/><circle cx="277.1" cy="248.6" r="5.3"/>
<circle cx="297.8" cy="262" r="5.3"/><circle cx="361.3" cy="273.2" r="5.3"/><circle cx="474.2" cy="335.1" r="5.3"/><circle cx="473" cy="354" r="5.3"/><circle cx="428.4" cy="316.6" r="5.3"/><circle cx="374.7" cy="196.4" r="5.3"/><circle cx="408.8" cy="274.9" r="5.3"/><circle cx="435.1" cy="358.4" r="5.3"/>
<circle cx="387.3" cy="467.4" r="5.3"/><circle cx="401.3" cy="352.7" r="5.3"/><circle cx="329.5" cy="204.4" r="5.3"/><circle cx="269.1" cy="281.4" r="5.3"/><circle cx="350.8" cy="195.9" r="5.3"/><circle cx="520.1" cy="226.4" r="5.3"/><circle cx="456.7" cy="387.8" r="5.3"/><circle cx="522.7" cy="204.7" r="5.3"/>
<circle cx="386.4" cy="195.9" r="5.3"/><circle cx="465.9" cy="202.2" r="5.3"/><circle cx="409.7" cy="198.4" r="5.3"/><circle cx="472.6" cy="363.7" r="5.3"/><circle cx="447.6" cy="224.8" r="5.3"/><circle cx="509.7" cy="356.1" r="5.3"/><circle cx="541.1" cy="350.9" r="5.3"/><circle cx="409.6" cy="225.9" r="5.3"/>
<circle cx="398.7" cy="288" r="5.3"/><circle cx="291.6" cy="195.9" r="5.3"/><circle cx="269.8" cy="195.9" r="5.3"/><circle cx="319.6" cy="312.6" r="5.3"/><circle cx="186.2" cy="229.6" r="5.3"/><circle cx="499.9" cy="260.8" r="5.3"/><circle cx="349.4" cy="318.4" r="5.3"/><circle cx="293.3" cy="195.9" r="5.3"/>
<circle cx="464.8" cy="344.6" r="5.3"/><circle cx="233.5" cy="205" r="5.3"/><circle cx="384.9" cy="276.1" r="5.3"/><circle cx="372.3" cy="251.7" r="5.3"/><circle cx="277.2" cy="309.1" r="5.3"/><circle cx="318.2" cy="209" r="5.3"/><circle cx="297.8" cy="261.3" r="5.3"/><circle cx="593.9" cy="395.5" r="5.3"/>
<circle cx="289.4" cy="280.9" r="5.3"/><circle cx="353.4" cy="281.6" r="5.3"/><circle cx="299.6" cy="258.6" r="5.3"/><circle cx="406.9" cy="226.4" r="5.3"/><circle cx="507.1" cy="235.6" r="5.3"/><circle cx="340.3" cy="281.1" r="5.3"/><circle cx="345.6" cy="230.6" r="5.3"/><circle cx="490.1" cy="283.7" r="5.3"/>
<circle cx="545.2" cy="525" r="5.3"/><circle cx="505.2" cy="314.8" r="5.3"/><circle cx="346.2" cy="264.3" r="5.3"/><circle cx="257.4" cy="269.7" r="5.3"/><circle cx="284.1" cy="270.1" r="5.3"/><circle cx="516" cy="263.6" r="5.3"/><circle cx="328.6" cy="247.8" r="5.3"/><circle cx="388.2" cy="200.8" r="5.3"/>
<circle cx="291.1" cy="230.2" r="5.3"/><circle cx="428" cy="224" r="5.3"/><circle cx="436.5" cy="333.4" r="5.3"/><circle cx="294" cy="257.9" r="5.3"/><circle cx="334.9" cy="335.3" r="5.3"/><circle cx="389.2" cy="274.5" r="5.3"/><circle cx="358.2" cy="369.7" r="5.3"/><circle cx="516.9" cy="292.8" r="5.3"/>
<circle cx="416.8" cy="380" r="5.3"/><circle cx="440" cy="285.8" r="5.3"/><circle cx="496.1" cy="238.1" r="5.3"/><circle cx="343" cy="325.8" r="5.3"/><circle cx="339.7" cy="321.8" r="5.3"/><circle cx="423" cy="295.3" r="5.3"/><circle cx="638.4" cy="355.9" r="5.3"/><circle cx="545.2" cy="412.5" r="5.3"/>
<circle cx="286.6" cy="195.9" r="5.3"/><circle cx="456.2" cy="372.5" r="5.3"/><circle cx="303.7" cy="276.3" r="5.3"/><circle cx="573.6" cy="388" r="5.3"/><circle cx="369.3" cy="253.7" r="5.3"/><circle cx="312.4" cy="260.3" r="5.3"/><circle cx="445" cy="244.5" r="5.3"/><circle cx="442.3" cy="382.6" r="5.3"/>
<circle cx="377.6" cy="335.4" r="5.3"/><circle cx="309" cy="256.5" r="5.3"/><circle cx="420.5" cy="368.2" r="5.3"/><circle cx="328.4" cy="215.2" r="5.3"/><circle cx="389" cy="238.4" r="5.3"/><circle cx="322.9" cy="195.9" r="5.3"/><circle cx="219.5" cy="202.4" r="5.3"/><circle cx="206.8" cy="208" r="5.3"/>
<circle cx="385.8" cy="217.4" r="5.3"/><circle cx="422.9" cy="269.2" r="5.3"/><circle cx="260.3" cy="206.8" r="5.3"/><circle cx="272" cy="243.6" r="5.3"/><circle cx="368.2" cy="292.9" r="5.3"/><circle cx="348.4" cy="254.4" r="5.3"/><circle cx="424.1" cy="202.4" r="5.3"/><circle cx="510.5" cy="489.9" r="5.3"/>
<circle cx="500.2" cy="237.1" r="5.3"/><circle cx="469.8" cy="248.2" r="5.3"/><circle cx="302.2" cy="195.9" r="5.3"/><circle cx="299.5" cy="211.7" r="5.3"/><circle cx="463.8" cy="362.1" r="5.3"/><circle cx="328.7" cy="223.5" r="5.3"/><circle cx="412.6" cy="195.9" r="5.3"/><circle cx="354.2" cy="276.6" r="5.3"/>
<circle cx="545.9" cy="377.1" r="5.3"/><circle cx="476.2" cy="371.2" r="5.3"/><circle cx="599.1" cy="484.7" r="5.3"/><circle cx="378.9" cy="304.8" r="5.3"/><circle cx="361.5" cy="230.5" r="5.3"/><circle cx="323.6" cy="239.8" r="5.3"/><circle cx="551.4" cy="383.8" r="5.3"/><circle cx="510.8" cy="368.5" r="5.3"/>
<circle cx="340.3" cy="237.5" r="5.3"/><circle cx="499.1" cy="320.1" r="5.3"/><circle cx="266.7" cy="203.3" r="5.3"/><circle cx="308.9" cy="281.2" r="5.3"/><circle cx="410.1" cy="197.2" r="5.3"/><circle cx="433.2" cy="235" r="5.3"/><circle cx="442.3" cy="282" r="5.3"/><circle cx="420" cy="324.1" r="5.3"/>
<circle cx="475.9" cy="525" r="5.3"/><circle cx="374.1" cy="281.1" r="5.3"/><circle cx="436.8" cy="405.4" r="5.3"/><circle cx="551.7" cy="318.3" r="5.3"/><circle cx="425.1" cy="352.7" r="5.3"/><circle cx="311.3" cy="257.7" r="5.3"/><circle cx="479.2" cy="512.8" r="5.3"/><circle cx="257.5" cy="255.8" r="5.3"/>
<circle cx="477.4" cy="245.1" r="5.3"/><circle cx="516.8" cy="307.1" r="5.3"/><circle cx="206.8" cy="259.9" r="5.3"/><circle cx="315.8" cy="388.1" r="5.3"/><circle cx="284.3" cy="279" r="5.3"/><circle cx="259.6" cy="198.1" r="5.3"/><circle cx="406.9" cy="197.5" r="5.3"/><circle cx="442.3" cy="407.3" r="5.3"/>
<circle cx="577.8" cy="611.4" r="5.3"/><circle cx="272.9" cy="256.7" r="5.3"/><circle cx="383.1" cy="324.5" r="5.3"/><circle cx="356.1" cy="269.6" r="5.3"/><circle cx="459.3" cy="201.9" r="5.3"/><circle cx="507.6" cy="258.3" r="5.3"/><circle cx="410.7" cy="303" r="5.3"/><circle cx="299.3" cy="260.1" r="5.3"/>
<circle cx="380.1" cy="241.5" r="5.3"/><circle cx="324.2" cy="248.9" r="5.3"/><circle cx="394" cy="196.5" r="5.3"/><circle cx="394.2" cy="210.5" r="5.3"/><circle cx="416" cy="441.9" r="5.3"/><circle cx="283.9" cy="247.8" r="5.3"/><circle cx="374.1" cy="237.3" r="5.3"/><circle cx="370.4" cy="198.5" r="5.3"/>
<circle cx="438.4" cy="228.7" r="5.3"/><circle cx="276.1" cy="247.5" r="5.3"/><circle cx="292.4" cy="280.3" r="5.3"/><circle cx="277.9" cy="209.9" r="5.3"/><circle cx="560.5" cy="535.3" r="5.3"/><circle cx="518.9" cy="216.1" r="5.3"/><circle cx="346.3" cy="223.7" r="5.3"/><circle cx="435" cy="202.3" r="5.3"/>
<circle cx="513.9" cy="212" r="5.3"/><circle cx="420.6" cy="346.3" r="5.3"/><circle cx="305.5" cy="218.9" r="5.3"/><circle cx="414.1" cy="198.6" r="5.3"/><circle cx="346.3" cy="261.2" r="5.3"/><circle cx="278" cy="273.9" r="5.3"/><circle cx="478.5" cy="209.8" r="5.3"/><circle cx="505.6" cy="230" r="5.3"/>
<circle cx="319.8" cy="265.9" r="5.3"/><circle cx="353.4" cy="195.9" r="5.3"/><circle cx="513.1" cy="286.8" r="5.3"/><circle cx="369.1" cy="323.4" r="5.3"/><circle cx="415.6" cy="198.8" r="5.3"/><circle cx="469.4" cy="380.7" r="5.3"/><circle cx="333.1" cy="395.3" r="5.3"/><circle cx="402.7" cy="261.3" r="5.3"/>
<circle cx="328.2" cy="243.9" r="5.3"/><circle cx="399.4" cy="294.8" r="5.3"/><circle cx="411.7" cy="238.4" r="5.3"/><circle cx="296.3" cy="230.8" r="5.3"/><circle cx="435.1" cy="208" r="5.3"/><circle cx="551.2" cy="392.2" r="5.3"/><circle cx="385.1" cy="321.2" r="5.3"/><circle cx="395.5" cy="275.6" r="5.3"/>
<circle cx="493.6" cy="307.5" r="5.3"/><circle cx="326.6" cy="266.4" r="5.3"/><circle cx="347.1" cy="212.8" r="5.3"/><circle cx="480.6" cy="458.4" r="5.3"/><circle cx="459.9" cy="409.4" r="5.3"/><circle cx="298.2" cy="207.5" r="5.3"/><circle cx="248.1" cy="262.9" r="5.3"/><circle cx="198.9" cy="245.2" r="5.3"/>
<circle cx="418" cy="237.1" r="5.3"/><circle cx="258.1" cy="212.1" r="5.3"/><circle cx="481.3" cy="352.2" r="5.3"/><circle cx="278.1" cy="325.8" r="5.3"/><circle cx="296.1" cy="226.5" r="5.3"/><circle cx="417.2" cy="349.4" r="5.3"/><circle cx="426.4" cy="239.1" r="5.3"/><circle cx="471.9" cy="482.1" r="5.3"/>
<circle cx="407.1" cy="328.5" r="5.3"/><circle cx="194.2" cy="240.4" r="5.3"/><circle cx="357.3" cy="205.4" r="5.3"/><circle cx="358.1" cy="238.8" r="5.3"/><circle cx="291.1" cy="253.1" r="5.3"/><circle cx="287.5" cy="265.9" r="5.3"/><circle cx="445.9" cy="298.1" r="5.3"/><circle cx="284.6" cy="289.3" r="5.3"/>
<circle cx="333.4" cy="195.9" r="5.3"/><circle cx="552.4" cy="379" r="5.3"/><circle cx="307.9" cy="236.9" r="5.3"/><circle cx="483.9" cy="313" r="5.3"/><circle cx="456.6" cy="515" r="5.3"/><circle cx="474.8" cy="277.6" r="5.3"/><circle cx="281.6" cy="264.8" r="5.3"/><circle cx="468.5" cy="392.5" r="5.3"/>
<circle cx="285.1" cy="296.4" r="5.3"/><circle cx="522.5" cy="217.2" r="5.3"/><circle cx="521.9" cy="300.7" r="5.3"/><circle cx="370.4" cy="195.9" r="5.3"/><circle cx="543.5" cy="331.8" r="5.3"/><circle cx="416.6" cy="472.6" r="5.3"/><circle cx="434.6" cy="486.9" r="5.3"/><circle cx="351.9" cy="349.7" r="5.3"/>
<circle cx="310.2" cy="264.6" r="5.3"/><circle cx="414.2" cy="203.7" r="5.3"/><circle cx="424.9" cy="229.9" r="5.3"/><circle cx="481.9" cy="628.3" r="5.3"/><circle cx="361.2" cy="195.9" r="5.3"/><circle cx="298.2" cy="294.1" r="5.3"/><circle cx="358.4" cy="207.6" r="5.3"/><circle cx="371.2" cy="211.8" r="5.3"/>
<circle cx="334.9" cy="224.1" r="5.3"/><circle cx="483" cy="323.4" r="5.3"/><circle cx="271.1" cy="195.9" r="5.3"/><circle cx="452" cy="299.5" r="5.3"/><circle cx="360.8" cy="284.6" r="5.3"/><circle cx="389.9" cy="360.9" r="5.3"/><circle cx="471.9" cy="585.1" r="5.3"/><circle cx="308.2" cy="354.6" r="5.3"/>
<circle cx="384.2" cy="195.9" r="5.3"/><circle cx="447.9" cy="433.7" r="5.3"/><circle cx="395.6" cy="200.4" r="5.3"/><circle cx="331.7" cy="257.6" r="5.3"/><circle cx="593.5" cy="372.9" r="5.3"/><circle cx="416.1" cy="358.5" r="5.3"/><circle cx="474" cy="362" r="5.3"/><circle cx="340.9" cy="359.3" r="5.3"/>
<circle cx="434.1" cy="195.9" r="5.3"/><circle cx="459.8" cy="272.9" r="5.3"/><circle cx="390.4" cy="223.8" r="5.3"/><circle cx="420.4" cy="321.8" r="5.3"/><circle cx="462.5" cy="324" r="5.3"/><circle cx="355.7" cy="355.9" r="5.3"/><circle cx="472.8" cy="212.5" r="5.3"/><circle cx="284.2" cy="320.6" r="5.3"/>
<circle cx="609.8" cy="393.9" r="5.3"/><circle cx="486.1" cy="274.4" r="5.3"/><circle cx="452.1" cy="366.1" r="5.3"/><circle cx="485.3" cy="390.3" r="5.3"/>
</g>
<path d="M254.8 189.4 Q421.3 299.2 587.8 373.2 L587.8 407.8 Q421.3 287.1 254.8 202.4 Z" fill="#fb8861" fill-opacity=".11" stroke="none"/>
<g fill="#fed395" stroke="#f7c582">
<circle cx="502.5" cy="343.9" r="5.3"/><circle cx="562.5" cy="411.7" r="5.3"/><circle cx="403.2" cy="218.9" r="5.3"/><circle cx="451.2" cy="195.9" r="5.3"/><circle cx="333.7" cy="305.7" r="5.3"/><circle cx="395.3" cy="213.4" r="5.3"/><circle cx="345.6" cy="195.9" r="5.3"/><circle cx="294.3" cy="195.9" r="5.3"/>
<circle cx="324.4" cy="199.7" r="5.3"/><circle cx="574.6" cy="392.4" r="5.3"/><circle cx="393.4" cy="228.5" r="5.3"/><circle cx="401.5" cy="197.9" r="5.3"/><circle cx="310" cy="264.1" r="5.3"/><circle cx="414" cy="196.3" r="5.3"/><circle cx="512.5" cy="325.4" r="5.3"/><circle cx="348.3" cy="200.3" r="5.3"/>
<circle cx="565.8" cy="416" r="5.3"/><circle cx="412.8" cy="237.5" r="5.3"/><circle cx="348.5" cy="224.6" r="5.3"/><circle cx="382.6" cy="196.8" r="5.3"/><circle cx="409.8" cy="248.8" r="5.3"/><circle cx="479.5" cy="302.3" r="5.3"/><circle cx="512" cy="234.9" r="5.3"/><circle cx="332.4" cy="326.5" r="5.3"/>
<circle cx="286.4" cy="208" r="5.3"/><circle cx="383.9" cy="239.4" r="5.3"/><circle cx="381.7" cy="256.1" r="5.3"/><circle cx="356.7" cy="195.9" r="5.3"/><circle cx="422.5" cy="232.7" r="5.3"/><circle cx="341.1" cy="195.9" r="5.3"/><circle cx="434" cy="213.5" r="5.3"/><circle cx="465.7" cy="313.2" r="5.3"/>
<circle cx="374.3" cy="235.9" r="5.3"/><circle cx="374.7" cy="217.4" r="5.3"/><circle cx="407.8" cy="224.1" r="5.3"/><circle cx="367.3" cy="219.9" r="5.3"/><circle cx="374.1" cy="214.4" r="5.3"/><circle cx="410.3" cy="195.9" r="5.3"/><circle cx="305" cy="286.9" r="5.3"/><circle cx="355.8" cy="221.8" r="5.3"/>
<circle cx="376.9" cy="244.3" r="5.3"/><circle cx="417.5" cy="220.1" r="5.3"/><circle cx="357.9" cy="232.3" r="5.3"/><circle cx="470.4" cy="257.1" r="5.3"/><circle cx="383.1" cy="197.8" r="5.3"/><circle cx="425.9" cy="231.8" r="5.3"/><circle cx="500.3" cy="355.5" r="5.3"/><circle cx="425.7" cy="241.6" r="5.3"/>
<circle cx="326.8" cy="265" r="5.3"/><circle cx="437.9" cy="213.9" r="5.3"/><circle cx="347.8" cy="205.5" r="5.3"/><circle cx="302.3" cy="201.4" r="5.3"/><circle cx="412.9" cy="210.6" r="5.3"/><circle cx="441.6" cy="232.5" r="5.3"/><circle cx="403.6" cy="220.2" r="5.3"/><circle cx="455.7" cy="209.8" r="5.3"/>
<circle cx="587" cy="367.3" r="5.3"/><circle cx="360.5" cy="219.9" r="5.3"/><circle cx="328.8" cy="195.9" r="5.3"/><circle cx="369.1" cy="195.9" r="5.3"/><circle cx="343" cy="213.2" r="5.3"/><circle cx="453.7" cy="232.2" r="5.3"/><circle cx="432.5" cy="293.1" r="5.3"/><circle cx="455.7" cy="195.9" r="5.3"/>
<circle cx="366.4" cy="206.6" r="5.3"/><circle cx="372.2" cy="241.9" r="5.3"/><circle cx="502.5" cy="247.1" r="5.3"/><circle cx="397.1" cy="219.8" r="5.3"/><circle cx="342.8" cy="195.9" r="5.3"/><circle cx="285.8" cy="231.4" r="5.3"/><circle cx="452.4" cy="195.9" r="5.3"/><circle cx="415.7" cy="213.8" r="5.3"/>
<circle cx="377.4" cy="210.3" r="5.3"/><circle cx="432.8" cy="216" r="5.3"/><circle cx="266" cy="255.6" r="5.3"/><circle cx="546.1" cy="336.4" r="5.3"/><circle cx="261.4" cy="242.9" r="5.3"/><circle cx="326.5" cy="230.2" r="5.3"/><circle cx="307.3" cy="195.9" r="5.3"/><circle cx="561.4" cy="314.4" r="5.3"/>
<circle cx="433.4" cy="319.3" r="5.3"/><circle cx="654.4" cy="299.7" r="5.3"/><circle cx="405.6" cy="251.4" r="5.3"/><circle cx="348.1" cy="220.3" r="5.3"/><circle cx="336.9" cy="311.4" r="5.3"/><circle cx="422.8" cy="226.6" r="5.3"/><circle cx="478.5" cy="236.3" r="5.3"/><circle cx="435.6" cy="231.1" r="5.3"/>
<circle cx="302.8" cy="195.9" r="5.3"/><circle cx="320.8" cy="208.7" r="5.3"/><circle cx="532.9" cy="337.6" r="5.3"/><circle cx="442.9" cy="215.6" r="5.3"/><circle cx="412" cy="230" r="5.3"/><circle cx="366.8" cy="335.1" r="5.3"/><circle cx="327.4" cy="230.3" r="5.3"/><circle cx="404.2" cy="228.5" r="5.3"/>
<circle cx="412.7" cy="214.2" r="5.3"/><circle cx="331.6" cy="255.2" r="5.3"/><circle cx="575.5" cy="354.2" r="5.3"/><circle cx="435.3" cy="221.6" r="5.3"/><circle cx="392.4" cy="205.9" r="5.3"/><circle cx="422.8" cy="203.5" r="5.3"/><circle cx="304.5" cy="277.6" r="5.3"/><circle cx="367.7" cy="215.4" r="5.3"/>
<circle cx="325.9" cy="195.9" r="5.3"/><circle cx="276.6" cy="261.1" r="5.3"/><circle cx="433.2" cy="338.9" r="5.3"/><circle cx="417.4" cy="207.9" r="5.3"/><circle cx="363.2" cy="198.2" r="5.3"/><circle cx="479.1" cy="234.5" r="5.3"/><circle cx="383.4" cy="284.2" r="5.3"/><circle cx="420.9" cy="229.9" r="5.3"/>
<circle cx="427.6" cy="197.1" r="5.3"/><circle cx="307.9" cy="253.8" r="5.3"/><circle cx="455.2" cy="349.9" r="5.3"/><circle cx="395.6" cy="232.2" r="5.3"/><circle cx="458.7" cy="195.9" r="5.3"/><circle cx="347.7" cy="203.5" r="5.3"/><circle cx="426.3" cy="206.4" r="5.3"/><circle cx="261.2" cy="245.8" r="5.3"/>
<circle cx="445.3" cy="541.8" r="5.3"/><circle cx="533.7" cy="297.6" r="5.3"/><circle cx="416.3" cy="211.2" r="5.3"/><circle cx="498.2" cy="301.7" r="5.3"/><circle cx="395.2" cy="216" r="5.3"/><circle cx="313.6" cy="229.1" r="5.3"/><circle cx="443.6" cy="203" r="5.3"/><circle cx="436.6" cy="216.3" r="5.3"/>
<circle cx="412.2" cy="209.6" r="5.3"/><circle cx="396.4" cy="225.4" r="5.3"/><circle cx="310.2" cy="264" r="5.3"/><circle cx="269" cy="213" r="5.3"/><circle cx="355.2" cy="239.6" r="5.3"/><circle cx="327.7" cy="195.9" r="5.3"/><circle cx="360.5" cy="226.1" r="5.3"/><circle cx="300.7" cy="195.9" r="5.3"/>
<circle cx="370.8" cy="243.3" r="5.3"/><circle cx="382.6" cy="228.9" r="5.3"/><circle cx="463.1" cy="301.5" r="5.3"/><circle cx="397.8" cy="199.3" r="5.3"/><circle cx="446.5" cy="227.4" r="5.3"/><circle cx="397.3" cy="233.3" r="5.3"/><circle cx="353.5" cy="233.1" r="5.3"/><circle cx="268.2" cy="200.8" r="5.3"/>
<circle cx="492" cy="258.7" r="5.3"/><circle cx="446" cy="213.7" r="5.3"/><circle cx="307" cy="237.2" r="5.3"/><circle cx="409.5" cy="259.9" r="5.3"/><circle cx="409.8" cy="252.5" r="5.3"/><circle cx="288.4" cy="258.1" r="5.3"/><circle cx="282.4" cy="225.5" r="5.3"/><circle cx="464.3" cy="309.3" r="5.3"/>
<circle cx="446.5" cy="233.4" r="5.3"/><circle cx="394.2" cy="217.4" r="5.3"/><circle cx="406.9" cy="231.4" r="5.3"/><circle cx="403.5" cy="239.2" r="5.3"/><circle cx="288.3" cy="226.3" r="5.3"/><circle cx="405.8" cy="200.6" r="5.3"/><circle cx="448.6" cy="231" r="5.3"/><circle cx="361" cy="227.2" r="5.3"/>
<circle cx="435.7" cy="213.7" r="5.3"/><circle cx="479.1" cy="269.9" r="5.3"/><circle cx="651.1" cy="308.3" r="5.3"/><circle cx="416.8" cy="195.9" r="5.3"/><circle cx="546.6" cy="339.3" r="5.3"/><circle cx="410.3" cy="304.9" r="5.3"/><circle cx="541.6" cy="373.1" r="5.3"/><circle cx="581.1" cy="351.1" r="5.3"/>
<circle cx="309.1" cy="219.1" r="5.3"/><circle cx="294.8" cy="239.6" r="5.3"/><circle cx="418" cy="200.5" r="5.3"/><circle cx="450.3" cy="196.2" r="5.3"/><circle cx="505.9" cy="299.7" r="5.3"/><circle cx="447.3" cy="230.1" r="5.3"/><circle cx="376.5" cy="224.3" r="5.3"/><circle cx="397.3" cy="290.8" r="5.3"/>
<circle cx="356.2" cy="219.6" r="5.3"/><circle cx="357.1" cy="242.1" r="5.3"/><circle cx="460.4" cy="347.2" r="5.3"/><circle cx="306.9" cy="220.8" r="5.3"/><circle cx="351.7" cy="209" r="5.3"/><circle cx="436.7" cy="206.3" r="5.3"/><circle cx="298.2" cy="199.9" r="5.3"/><circle cx="367.7" cy="226.1" r="5.3"/>
<circle cx="369.2" cy="287.8" r="5.3"/><circle cx="590" cy="340.7" r="5.3"/><circle cx="294.7" cy="195.9" r="5.3"/><circle cx="450.3" cy="197.6" r="5.3"/><circle cx="389.6" cy="240.7" r="5.3"/><circle cx="577.8" cy="503.8" r="5.3"/><circle cx="340.1" cy="207.9" r="5.3"/><circle cx="449.2" cy="210.6" r="5.3"/>
<circle cx="440.2" cy="196.8" r="5.3"/><circle cx="568.7" cy="401.1" r="5.3"/><circle cx="353.9" cy="312.4" r="5.3"/><circle cx="404.5" cy="207.8" r="5.3"/><circle cx="400.1" cy="281.5" r="5.3"/><circle cx="383.8" cy="208.1" r="5.3"/><circle cx="375.7" cy="242.3" r="5.3"/><circle cx="276.3" cy="256.8" r="5.3"/>
<circle cx="586.5" cy="437.6" r="5.3"/><circle cx="353.8" cy="224.2" r="5.3"/><circle cx="298.5" cy="203.1" r="5.3"/><circle cx="282.9" cy="196.4" r="5.3"/><circle cx="571.6" cy="348.2" r="5.3"/><circle cx="358.4" cy="236.1" r="5.3"/><circle cx="395.7" cy="240.6" r="5.3"/><circle cx="649.1" cy="336.4" r="5.3"/>
<circle cx="404.5" cy="202.5" r="5.3"/><circle cx="287.6" cy="206.8" r="5.3"/><circle cx="567.5" cy="374.8" r="5.3"/><circle cx="517" cy="316.7" r="5.3"/><circle cx="399.5" cy="233.5" r="5.3"/><circle cx="355.5" cy="219.1" r="5.3"/><circle cx="403.2" cy="241.9" r="5.3"/><circle cx="345.5" cy="239.1" r="5.3"/>
<circle cx="349.5" cy="221.6" r="5.3"/><circle cx="402" cy="242.9" r="5.3"/><circle cx="315.7" cy="311" r="5.3"/><circle cx="452.3" cy="234.2" r="5.3"/><circle cx="420.3" cy="205.2" r="5.3"/><circle cx="403.2" cy="214" r="5.3"/><circle cx="361.6" cy="219.9" r="5.3"/><circle cx="572.5" cy="432" r="5.3"/>
<circle cx="387.5" cy="277.1" r="5.3"/><circle cx="320.9" cy="216.4" r="5.3"/><circle cx="344.1" cy="308.3" r="5.3"/><circle cx="260.3" cy="203.3" r="5.3"/><circle cx="584.2" cy="368.9" r="5.3"/><circle cx="410.2" cy="354.5" r="5.3"/><circle cx="431" cy="231.1" r="5.3"/><circle cx="416.4" cy="225.6" r="5.3"/>
<circle cx="336.6" cy="217.2" r="5.3"/><circle cx="441" cy="222.9" r="5.3"/><circle cx="384.8" cy="233.6" r="5.3"/><circle cx="302.3" cy="196.5" r="5.3"/><circle cx="280.2" cy="232.1" r="5.3"/><circle cx="277" cy="209.3" r="5.3"/><circle cx="359.9" cy="236.7" r="5.3"/><circle cx="593.3" cy="394.4" r="5.3"/>
<circle cx="405.8" cy="195.9" r="5.3"/><circle cx="477.9" cy="297.8" r="5.3"/><circle cx="296.2" cy="258.2" r="5.3"/><circle cx="510.8" cy="289.7" r="5.3"/><circle cx="520.7" cy="383.1" r="5.3"/><circle cx="430.9" cy="243" r="5.3"/><circle cx="378.5" cy="258.2" r="5.3"/><circle cx="464.2" cy="315.5" r="5.3"/>
<circle cx="336.5" cy="230.7" r="5.3"/><circle cx="422.9" cy="219.1" r="5.3"/><circle cx="258.8" cy="228.4" r="5.3"/><circle cx="497.6" cy="261.8" r="5.3"/><circle cx="384.9" cy="198.8" r="5.3"/><circle cx="588.6" cy="386.7" r="5.3"/><circle cx="358.6" cy="223.6" r="5.3"/><circle cx="415.5" cy="346.6" r="5.3"/>
<circle cx="419.9" cy="231.3" r="5.3"/><circle cx="330.6" cy="255.7" r="5.3"/><circle cx="360.7" cy="240.9" r="5.3"/><circle cx="492.6" cy="484.3" r="5.3"/><circle cx="413.2" cy="299.8" r="5.3"/><circle cx="437.6" cy="228.3" r="5.3"/><circle cx="438.5" cy="290.8" r="5.3"/><circle cx="487" cy="238.7" r="5.3"/>
<circle cx="440.2" cy="195.9" r="5.3"/><circle cx="581.7" cy="339.9" r="5.3"/><circle cx="392.6" cy="198.8" r="5.3"/><circle cx="375.5" cy="236.4" r="5.3"/><circle cx="318.4" cy="206.5" r="5.3"/><circle cx="290.7" cy="239.5" r="5.3"/><circle cx="375.1" cy="289" r="5.3"/><circle cx="290" cy="222.5" r="5.3"/>
<circle cx="289.4" cy="215.4" r="5.3"/><circle cx="309.4" cy="244.3" r="5.3"/><circle cx="397.1" cy="195.9" r="5.3"/><circle cx="453.4" cy="263.9" r="5.3"/><circle cx="359" cy="202.9" r="5.3"/><circle cx="441.2" cy="229" r="5.3"/><circle cx="446.1" cy="332.2" r="5.3"/><circle cx="410.6" cy="241.9" r="5.3"/>
<circle cx="347.9" cy="228.9" r="5.3"/><circle cx="383.6" cy="239.5" r="5.3"/><circle cx="363.8" cy="232.7" r="5.3"/><circle cx="397.6" cy="223.8" r="5.3"/><circle cx="298.7" cy="208.4" r="5.3"/><circle cx="279.7" cy="240.7" r="5.3"/><circle cx="321.8" cy="195.9" r="5.3"/><circle cx="367.3" cy="195.9" r="5.3"/>
<circle cx="567.7" cy="398.3" r="5.3"/><circle cx="408" cy="206.6" r="5.3"/><circle cx="378.3" cy="237.2" r="5.3"/><circle cx="450.3" cy="201.7" r="5.3"/><circle cx="465.1" cy="218.3" r="5.3"/><circle cx="483.4" cy="224.7" r="5.3"/><circle cx="463.5" cy="316.3" r="5.3"/><circle cx="437.7" cy="234" r="5.3"/>
<circle cx="348.7" cy="420.7" r="5.3"/><circle cx="423.1" cy="219.9" r="5.3"/><circle cx="421.1" cy="213.9" r="5.3"/><circle cx="510.9" cy="246.2" r="5.3"/><circle cx="340.5" cy="224.5" r="5.3"/><circle cx="386.4" cy="198.2" r="5.3"/><circle cx="412.9" cy="225.5" r="5.3"/><circle cx="514.9" cy="329.2" r="5.3"/>
<circle cx="375.7" cy="228.7" r="5.3"/><circle cx="436.4" cy="214.8" r="5.3"/><circle cx="566.3" cy="391" r="5.3"/><circle cx="405.8" cy="209.8" r="5.3"/><circle cx="380.6" cy="232.3" r="5.3"/><circle cx="418.4" cy="199.2" r="5.3"/><circle cx="369.9" cy="324.7" r="5.3"/><circle cx="521.9" cy="446.7" r="5.3"/>
<circle cx="297.6" cy="210.5" r="5.3"/><circle cx="287" cy="214.3" r="5.3"/><circle cx="527" cy="345.6" r="5.3"/><circle cx="386.4" cy="218.7" r="5.3"/><circle cx="551.8" cy="512.8" r="5.3"/><circle cx="418.9" cy="328.1" r="5.3"/><circle cx="434.2" cy="201.4" r="5.3"/><circle cx="536.4" cy="334.5" r="5.3"/>
<circle cx="401.8" cy="296.6" r="5.3"/><circle cx="383.6" cy="206.5" r="5.3"/><circle cx="267.3" cy="257.6" r="5.3"/><circle cx="555.5" cy="350" r="5.3"/><circle cx="461" cy="224.2" r="5.3"/><circle cx="427.2" cy="228.3" r="5.3"/><circle cx="513.2" cy="298.8" r="5.3"/><circle cx="376.3" cy="207.4" r="5.3"/>
<circle cx="437.4" cy="204.7" r="5.3"/><circle cx="371.3" cy="248.6" r="5.3"/><circle cx="370.9" cy="226.5" r="5.3"/><circle cx="329.9" cy="197.9" r="5.3"/><circle cx="405.2" cy="340.7" r="5.3"/><circle cx="379.5" cy="237.3" r="5.3"/><circle cx="258.5" cy="211.4" r="5.3"/><circle cx="313.2" cy="254.5" r="5.3"/>
<circle cx="368" cy="229.7" r="5.3"/><circle cx="404" cy="199.9" r="5.3"/><circle cx="373.2" cy="227.9" r="5.3"/><circle cx="310.2" cy="300.2" r="5.3"/><circle cx="440.4" cy="226.4" r="5.3"/><circle cx="495.2" cy="458.4" r="5.3"/><circle cx="461.5" cy="200.9" r="5.3"/><circle cx="375.4" cy="234.1" r="5.3"/>
<circle cx="363.2" cy="197" r="5.3"/><circle cx="442.3" cy="214.9" r="5.3"/><circle cx="384.4" cy="214.4" r="5.3"/><circle cx="318.9" cy="253.9" r="5.3"/><circle cx="431.1" cy="270.8" r="5.3"/><circle cx="504.8" cy="260.2" r="5.3"/><circle cx="464" cy="237" r="5.3"/><circle cx="512.5" cy="258.6" r="5.3"/>
<circle cx="457.2" cy="215.3" r="5.3"/><circle cx="436.9" cy="198.5" r="5.3"/><circle cx="432.4" cy="226" r="5.3"/><circle cx="377.8" cy="221.4" r="5.3"/><circle cx="451" cy="204.4" r="5.3"/><circle cx="372.9" cy="223.9" r="5.3"/><circle cx="429.5" cy="291.9" r="5.3"/><circle cx="421.7" cy="200.8" r="5.3"/>
<circle cx="394" cy="225.6" r="5.3"/><circle cx="473.9" cy="253" r="5.3"/><circle cx="418.8" cy="239.1" r="5.3"/><circle cx="267.7" cy="205.9" r="5.3"/><circle cx="563.7" cy="389" r="5.3"/><circle cx="287.9" cy="242.3" r="5.3"/><circle cx="557.8" cy="467.4" r="5.3"/><circle cx="393.5" cy="212.8" r="5.3"/>
<circle cx="347.4" cy="195.9" r="5.3"/><circle cx="504.5" cy="198.1" r="5.3"/><circle cx="329.8" cy="240.8" r="5.3"/><circle cx="329.4" cy="307" r="5.3"/><circle cx="495.7" cy="325.4" r="5.3"/><circle cx="540.1" cy="319.9" r="5.3"/><circle cx="571.1" cy="217.5" r="5.3"/><circle cx="311.4" cy="201.5" r="5.3"/>
<circle cx="396.2" cy="241.2" r="5.3"/><circle cx="434.4" cy="211.9" r="5.3"/><circle cx="388.5" cy="208.4" r="5.3"/><circle cx="584.6" cy="372.8" r="5.3"/><circle cx="357.2" cy="305.6" r="5.3"/><circle cx="300.1" cy="489.9" r="5.3"/><circle cx="289.2" cy="257.9" r="5.3"/><circle cx="368" cy="198" r="5.3"/>
<circle cx="374" cy="223.6" r="5.3"/><circle cx="273.5" cy="245.8" r="5.3"/><circle cx="419.9" cy="240.3" r="5.3"/><circle cx="379.2" cy="232" r="5.3"/><circle cx="449.4" cy="218.1" r="5.3"/><circle cx="349.1" cy="210.1" r="5.3"/><circle cx="380.6" cy="207.5" r="5.3"/><circle cx="601.1" cy="401.3" r="5.3"/>
<circle cx="397.2" cy="224.4" r="5.3"/><circle cx="519.5" cy="200.6" r="5.3"/><circle cx="415.4" cy="346.2" r="5.3"/>
</g>
<path d="M254.8 148.3 Q421.3 275.5 587.8 355.9 L587.8 399.1 Q421.3 267.7 254.8 182.9 Z" fill="#fed395" fill-opacity=".11" stroke="none"/>
</g>
<path d="M254.8 247.8 L587.8 399.1" stroke="#dc4a6f" stroke-width="3.2" fill="none"/>
<path d="M254.8 195.9 L587.8 390.5" stroke="#f98a63" stroke-width="3.2" fill="none"/>
<path d="M254.8 165.6 L587.8 377.5" stroke="#fbd08f" stroke-width="3.2" fill="none"/>
<path d="M162.4 124 V656.9 H744" fill="none" stroke="#1a1a1a" stroke-width="1.5"/>
<path d="M188.2 656.9v6.4M254.8 656.9v6.4M321.4 656.9v6.4M388 656.9v6.4M454.6 656.9v6.4M521.2 656.9v6.4M587.8 656.9v6.4M654.4 656.9v6.4M721 656.9v6.4M162.4 628.3h-6.4M162.4 541.8h-6.4M162.4 455.3h-6.4M162.4 368.9h-6.4M162.4 282.4h-6.4M162.4 195.9h-6.4" stroke="#1a1a1a" stroke-width="1.5" fill="none"/>
<g text-anchor="middle">
<text x="188.2" y="683.1">9</text>
<text x="254.8" y="683.1">10</text>
<text x="321.4" y="683.1">11</text>
<text x="388" y="683.1">12</text>
<text x="454.6" y="683.1">13</text>
<text x="521.2" y="683.1">14</text>
<text x="587.8" y="683.1">15</text>
<text x="654.4" y="683.1">16</text>
<text x="721" y="683.1">17</text>
</g>
<g text-anchor="end">
<text x="148.8" y="634.9">0</text>
<text x="148.8" y="548.4">20</text>
<text x="148.8" y="461.9">40</text>
<text x="148.8" y="375.5">60</text>
<text x="148.8" y="289">80</text>
<text x="148.8" y="202.5">100</text>
</g>
<!-- panel AR -->
<g class="pts">
<g fill="#e0426e" stroke="#c2456f">
<circle cx="1250.3" cy="349.5" r="5.3"/><circle cx="1097.7" cy="377.4" r="5.3"/><circle cx="1172.2" cy="615.3" r="5.3"/><circle cx="1187.9" cy="528.9" r="5.3"/><circle cx="871.9" cy="244.1" r="5.3"/><circle cx="1185.4" cy="324.6" r="5.3"/><circle cx="1170.5" cy="592" r="5.3"/><circle cx="1146.6" cy="323.9" r="5.3"/>
<circle cx="1061.2" cy="507.7" r="5.3"/><circle cx="1060.6" cy="512.5" r="5.3"/><circle cx="1029.7" cy="412.4" r="5.3"/><circle cx="1068.4" cy="519.8" r="5.3"/><circle cx="1047.5" cy="425.8" r="5.3"/><circle cx="916.7" cy="195.9" r="5.3"/><circle cx="1191.2" cy="369.8" r="5.3"/><circle cx="1244.3" cy="519" r="5.3"/>
<circle cx="1104.1" cy="518.7" r="5.3"/><circle cx="1145.7" cy="605.3" r="5.3"/><circle cx="1032.6" cy="223.1" r="5.3"/><circle cx="967.4" cy="213.6" r="5.3"/><circle cx="1102.7" cy="510.2" r="5.3"/><circle cx="1243.6" cy="602.7" r="5.3"/><circle cx="1067.7" cy="428.8" r="5.3"/><circle cx="1016.3" cy="322.2" r="5.3"/>
<circle cx="1118.7" cy="354.2" r="5.3"/><circle cx="957.8" cy="446.7" r="5.3"/><circle cx="1104.8" cy="378.1" r="5.3"/><circle cx="919.9" cy="224.4" r="5.3"/><circle cx="943.7" cy="223.2" r="5.3"/><circle cx="1024.3" cy="282.4" r="5.3"/><circle cx="1179.6" cy="478.8" r="5.3"/><circle cx="1054.5" cy="564.3" r="5.3"/>
<circle cx="1236.5" cy="562.2" r="5.3"/><circle cx="923" cy="258.4" r="5.3"/><circle cx="1191.1" cy="611.9" r="5.3"/><circle cx="1061.9" cy="584.3" r="5.3"/><circle cx="1145.8" cy="564.6" r="5.3"/><circle cx="1049.3" cy="501" r="5.3"/><circle cx="1142" cy="535.3" r="5.3"/><circle cx="1005.4" cy="197.5" r="5.3"/>
<circle cx="979.8" cy="360.2" r="5.3"/><circle cx="1113.9" cy="437.4" r="5.3"/><circle cx="1071.3" cy="571.4" r="5.3"/><circle cx="1159.7" cy="492.6" r="5.3"/><circle cx="951.1" cy="237.6" r="5.3"/><circle cx="1224.5" cy="384.7" r="5.3"/><circle cx="1127.9" cy="509" r="5.3"/><circle cx="1189.2" cy="559.1" r="5.3"/>
<circle cx="1214.5" cy="541.9" r="5.3"/><circle cx="1153.3" cy="327.6" r="5.3"/><circle cx="1209.1" cy="587.7" r="5.3"/><circle cx="1017.7" cy="314.8" r="5.3"/><circle cx="1050.3" cy="252.2" r="5.3"/><circle cx="1004.4" cy="304" r="5.3"/><circle cx="1155.2" cy="463.4" r="5.3"/><circle cx="1097.6" cy="520" r="5.3"/>
<circle cx="1107.6" cy="363.8" r="5.3"/><circle cx="1104.7" cy="454.9" r="5.3"/><circle cx="963.8" cy="261.7" r="5.3"/><circle cx="1071.4" cy="507.6" r="5.3"/><circle cx="1067.3" cy="583.5" r="5.3"/><circle cx="1141.4" cy="599.7" r="5.3"/><circle cx="1046.7" cy="206.3" r="5.3"/><circle cx="1191.1" cy="541.9" r="5.3"/>
<circle cx="1090.6" cy="597.5" r="5.3"/><circle cx="1015.5" cy="504.2" r="5.3"/><circle cx="1083.7" cy="337.1" r="5.3"/><circle cx="872.4" cy="237.8" r="5.3"/><circle cx="1117.2" cy="564.4" r="5.3"/><circle cx="1212.5" cy="588.2" r="5.3"/><circle cx="1219.5" cy="552.5" r="5.3"/><circle cx="1200.4" cy="501.3" r="5.3"/>
<circle cx="1180.3" cy="565.7" r="5.3"/><circle cx="1194.9" cy="428.8" r="5.3"/><circle cx="965.1" cy="226.6" r="5.3"/><circle cx="1030.9" cy="456.7" r="5.3"/><circle cx="1167.6" cy="607.3" r="5.3"/><circle cx="894.9" cy="257.2" r="5.3"/><circle cx="964.5" cy="312.6" r="5.3"/><circle cx="1128.4" cy="509.2" r="5.3"/>
<circle cx="1062.5" cy="336.8" r="5.3"/><circle cx="879.1" cy="207.8" r="5.3"/><circle cx="954.5" cy="474.8" r="5.3"/><circle cx="1050" cy="565.3" r="5.3"/><circle cx="1145.2" cy="611.8" r="5.3"/><circle cx="930.3" cy="212" r="5.3"/><circle cx="1159.4" cy="507.4" r="5.3"/><circle cx="1005.2" cy="239" r="5.3"/>
<circle cx="1191.5" cy="605.2" r="5.3"/><circle cx="1120.5" cy="491" r="5.3"/><circle cx="1153.5" cy="341.4" r="5.3"/><circle cx="1163" cy="344.1" r="5.3"/><circle cx="1023.7" cy="543.1" r="5.3"/><circle cx="996.4" cy="346.8" r="5.3"/><circle cx="1056.3" cy="453.2" r="5.3"/><circle cx="1103" cy="472.8" r="5.3"/>
<circle cx="1037.6" cy="481.2" r="5.3"/><circle cx="1209.3" cy="451.8" r="5.3"/><circle cx="1223.4" cy="439.7" r="5.3"/><circle cx="1045.5" cy="576.3" r="5.3"/><circle cx="1188.5" cy="614.4" r="5.3"/><circle cx="1220.8" cy="430.2" r="5.3"/><circle cx="1010.9" cy="498.5" r="5.3"/><circle cx="1127.5" cy="589.7" r="5.3"/>
<circle cx="1206.2" cy="363.6" r="5.3"/><circle cx="1142.2" cy="508.7" r="5.3"/><circle cx="1199" cy="528" r="5.3"/><circle cx="1191.2" cy="537.8" r="5.3"/><circle cx="1028.5" cy="256.3" r="5.3"/><circle cx="1125.6" cy="493.6" r="5.3"/><circle cx="1242.6" cy="450.1" r="5.3"/><circle cx="1238.9" cy="564.1" r="5.3"/>
<circle cx="926.4" cy="214.8" r="5.3"/><circle cx="1279.1" cy="582.9" r="5.3"/><circle cx="1027.4" cy="509" r="5.3"/><circle cx="1172.4" cy="594.4" r="5.3"/><circle cx="1165.2" cy="545.8" r="5.3"/><circle cx="1060.9" cy="510.3" r="5.3"/><circle cx="1014.3" cy="273.7" r="5.3"/><circle cx="1058.8" cy="244.6" r="5.3"/>
<circle cx="897" cy="211.3" r="5.3"/><circle cx="1060.4" cy="376.4" r="5.3"/><circle cx="1232.8" cy="559.5" r="5.3"/><circle cx="1050.4" cy="533.4" r="5.3"/><circle cx="1199.5" cy="591.9" r="5.3"/><circle cx="1166.5" cy="364.5" r="5.3"/><circle cx="1050" cy="572.2" r="5.3"/><circle cx="1030.6" cy="235.4" r="5.3"/>
<circle cx="1007.7" cy="368.9" r="5.3"/><circle cx="1130.7" cy="597.5" r="5.3"/><circle cx="914.8" cy="195.9" r="5.3"/><circle cx="1190.7" cy="451.3" r="5.3"/><circle cx="1187.7" cy="335.4" r="5.3"/><circle cx="1322.4" cy="582" r="5.3"/><circle cx="934.3" cy="195.9" r="5.3"/><circle cx="1014.3" cy="308.3" r="5.3"/>
<circle cx="1066.9" cy="544.3" r="5.3"/><circle cx="1108.8" cy="327.4" r="5.3"/><circle cx="1089.2" cy="440.3" r="5.3"/><circle cx="1060.8" cy="474.3" r="5.3"/><circle cx="1108.6" cy="612.9" r="5.3"/><circle cx="961.1" cy="224" r="5.3"/><circle cx="1112.4" cy="609.4" r="5.3"/><circle cx="1013.1" cy="221.4" r="5.3"/>
<circle cx="1073.5" cy="531.2" r="5.3"/><circle cx="1205.5" cy="498.7" r="5.3"/><circle cx="1046.8" cy="263" r="5.3"/><circle cx="929.7" cy="195.9" r="5.3"/><circle cx="1199.9" cy="519.1" r="5.3"/><circle cx="1099.3" cy="519.5" r="5.3"/><circle cx="1189.9" cy="530.8" r="5.3"/><circle cx="1091.4" cy="588" r="5.3"/>
<circle cx="1132.4" cy="601.2" r="5.3"/><circle cx="1003.2" cy="203.9" r="5.3"/><circle cx="1045" cy="531.3" r="5.3"/><circle cx="1040" cy="413.6" r="5.3"/><circle cx="936.5" cy="299.7" r="5.3"/><circle cx="1046.1" cy="252.3" r="5.3"/><circle cx="1133.6" cy="441.4" r="5.3"/><circle cx="1167.3" cy="425.5" r="5.3"/>
<circle cx="999.1" cy="203.6" r="5.3"/><circle cx="1018.4" cy="234.8" r="5.3"/><circle cx="1099.6" cy="569.9" r="5.3"/><circle cx="1244.5" cy="486.8" r="5.3"/><circle cx="1106" cy="439.4" r="5.3"/><circle cx="888.6" cy="256.9" r="5.3"/><circle cx="1000.3" cy="195.9" r="5.3"/><circle cx="1244.7" cy="522.7" r="5.3"/>
<circle cx="1111.8" cy="561.2" r="5.3"/><circle cx="1177" cy="373.5" r="5.3"/><circle cx="1102.4" cy="512.5" r="5.3"/><circle cx="1142.4" cy="592.3" r="5.3"/><circle cx="965.7" cy="195.9" r="5.3"/><circle cx="1216.5" cy="497.3" r="5.3"/><circle cx="1002.9" cy="245.9" r="5.3"/><circle cx="1227.9" cy="537.5" r="5.3"/>
<circle cx="1159.3" cy="540.8" r="5.3"/><circle cx="1076.9" cy="577.9" r="5.3"/><circle cx="950.3" cy="264.8" r="5.3"/><circle cx="1094" cy="541.4" r="5.3"/><circle cx="1183.4" cy="495.7" r="5.3"/><circle cx="1044" cy="238.5" r="5.3"/><circle cx="1203.2" cy="599.2" r="5.3"/><circle cx="1047.7" cy="220.5" r="5.3"/>
<circle cx="1137.3" cy="613" r="5.3"/><circle cx="1085.9" cy="542.6" r="5.3"/><circle cx="1116.3" cy="579.2" r="5.3"/><circle cx="1132.4" cy="525.8" r="5.3"/><circle cx="1019.6" cy="212.3" r="5.3"/><circle cx="994.4" cy="299.7" r="5.3"/><circle cx="1144.2" cy="411.7" r="5.3"/><circle cx="1133" cy="605" r="5.3"/>
<circle cx="1130.3" cy="423.5" r="5.3"/><circle cx="1254.5" cy="451.8" r="5.3"/><circle cx="1219" cy="534.9" r="5.3"/><circle cx="878" cy="481.3" r="5.3"/><circle cx="1167.4" cy="455.1" r="5.3"/><circle cx="1064.7" cy="496" r="5.3"/><circle cx="1189.8" cy="544.1" r="5.3"/><circle cx="868" cy="252.8" r="5.3"/>
<circle cx="981.1" cy="628.3" r="5.3"/><circle cx="1151.5" cy="322" r="5.3"/><circle cx="1082.6" cy="389.9" r="5.3"/><circle cx="1094.4" cy="397.2" r="5.3"/><circle cx="876.6" cy="368.9" r="5.3"/><circle cx="1135.9" cy="582.5" r="5.3"/><circle cx="1061.9" cy="587.5" r="5.3"/><circle cx="904.6" cy="350.7" r="5.3"/>
<circle cx="1084.8" cy="538.7" r="5.3"/><circle cx="877.4" cy="264.1" r="5.3"/><circle cx="1131.3" cy="473.3" r="5.3"/><circle cx="1049.2" cy="550.3" r="5.3"/><circle cx="987.7" cy="511.6" r="5.3"/><circle cx="1230.9" cy="480.3" r="5.3"/><circle cx="1123.8" cy="490.3" r="5.3"/><circle cx="915.9" cy="287.1" r="5.3"/>
<circle cx="1242.5" cy="239.1" r="5.3"/><circle cx="1100.3" cy="564.9" r="5.3"/><circle cx="1201.3" cy="572.3" r="5.3"/><circle cx="987.7" cy="321.3" r="5.3"/><circle cx="1181.4" cy="592.3" r="5.3"/><circle cx="1203.7" cy="508.9" r="5.3"/><circle cx="1247.2" cy="562.5" r="5.3"/><circle cx="981.2" cy="201" r="5.3"/>
<circle cx="1058" cy="493.1" r="5.3"/><circle cx="863.3" cy="252.1" r="5.3"/><circle cx="1124.9" cy="489.5" r="5.3"/><circle cx="1253.9" cy="616.6" r="5.3"/><circle cx="1071.1" cy="522.9" r="5.3"/><circle cx="1202.6" cy="545.5" r="5.3"/><circle cx="1121" cy="514.4" r="5.3"/><circle cx="1092.5" cy="584.9" r="5.3"/>
<circle cx="1064.5" cy="346.3" r="5.3"/><circle cx="1207.7" cy="458.1" r="5.3"/><circle cx="1107.2" cy="614.9" r="5.3"/><circle cx="1140.9" cy="574.7" r="5.3"/><circle cx="1178" cy="527.8" r="5.3"/><circle cx="1151.3" cy="484.6" r="5.3"/><circle cx="1153.7" cy="335" r="5.3"/><circle cx="1019.8" cy="493.2" r="5.3"/>
<circle cx="873" cy="203.2" r="5.3"/><circle cx="1130.7" cy="463.1" r="5.3"/><circle cx="1057.2" cy="430.2" r="5.3"/><circle cx="1153.3" cy="502.1" r="5.3"/><circle cx="1108.6" cy="568" r="5.3"/><circle cx="1037.8" cy="518.3" r="5.3"/><circle cx="1093" cy="488.3" r="5.3"/><circle cx="1169.5" cy="484.6" r="5.3"/>
<circle cx="1100.5" cy="467.6" r="5.3"/><circle cx="1143.6" cy="557" r="5.3"/><circle cx="1159.5" cy="539.7" r="5.3"/><circle cx="1208.2" cy="559.2" r="5.3"/><circle cx="1109.7" cy="553.5" r="5.3"/><circle cx="927.2" cy="325.6" r="5.3"/>
</g>
<path d="M927.9 265.9 Q1094.2 450.6 1260.5 589 L1260.5 632.2 Q1094.2 441.1 927.9 296.2 Z" fill="#e0426e" fill-opacity=".11" stroke="none"/>
<g fill="#fb8861" stroke="#ef7a5c">
<circle cx="1004.1" cy="259.8" r="5.3"/><circle cx="1048.4" cy="318.3" r="5.3"/><circle cx="1032.7" cy="236.4" r="5.3"/><circle cx="1114.5" cy="598.4" r="5.3"/><circle cx="1178.4" cy="522.2" r="5.3"/><circle cx="965" cy="253.5" r="5.3"/><circle cx="1000.6" cy="546.8" r="5.3"/><circle cx="1065.6" cy="538.1" r="5.3"/>
<circle cx="1230.3" cy="560.1" r="5.3"/><circle cx="953.5" cy="204.1" r="5.3"/><circle cx="907.7" cy="217.6" r="5.3"/><circle cx="1149.4" cy="584.9" r="5.3"/><circle cx="1024.8" cy="235.5" r="5.3"/><circle cx="1145.1" cy="538.2" r="5.3"/><circle cx="1042.7" cy="316.1" r="5.3"/><circle cx="1210.8" cy="521.1" r="5.3"/>
<circle cx="1169.9" cy="374.4" r="5.3"/><circle cx="980.8" cy="240.1" r="5.3"/><circle cx="997.1" cy="218" r="5.3"/><circle cx="1071.3" cy="376.5" r="5.3"/><circle cx="1025.2" cy="195.9" r="5.3"/><circle cx="1078.2" cy="511.8" r="5.3"/><circle cx="1121" cy="358.1" r="5.3"/><circle cx="957.8" cy="253.6" r="5.3"/>
<circle cx="1079.6" cy="368.5" r="5.3"/><circle cx="959.6" cy="296.5" r="5.3"/><circle cx="1106.5" cy="558.7" r="5.3"/><circle cx="1063.3" cy="608.5" r="5.3"/><circle cx="1140.3" cy="527.7" r="5.3"/><circle cx="1160.4" cy="566" r="5.3"/><circle cx="1036.6" cy="286.3" r="5.3"/><circle cx="978.2" cy="234.5" r="5.3"/>
<circle cx="1043.4" cy="412.2" r="5.3"/><circle cx="1056.5" cy="349.1" r="5.3"/><circle cx="1035.8" cy="394.6" r="5.3"/><circle cx="1086.4" cy="518.2" r="5.3"/><circle cx="964.9" cy="212.4" r="5.3"/><circle cx="994.5" cy="240.7" r="5.3"/><circle cx="1254.4" cy="528.1" r="5.3"/><circle cx="980.6" cy="208.7" r="5.3"/>
<circle cx="1089.5" cy="329.3" r="5.3"/><circle cx="1171.1" cy="548.2" r="5.3"/><circle cx="1173.2" cy="323.3" r="5.3"/><circle cx="1080.3" cy="305.6" r="5.3"/><circle cx="1121.7" cy="560.2" r="5.3"/><circle cx="1156.1" cy="484.2" r="5.3"/><circle cx="1117.6" cy="506.3" r="5.3"/><circle cx="1153.4" cy="494.4" r="5.3"/>
<circle cx="1012" cy="229.8" r="5.3"/><circle cx="1121.3" cy="558.9" r="5.3"/><circle cx="1012" cy="342.7" r="5.3"/><circle cx="1156" cy="489.4" r="5.3"/><circle cx="1001.4" cy="211.7" r="5.3"/><circle cx="1033.9" cy="534.3" r="5.3"/><circle cx="991.8" cy="231" r="5.3"/><circle cx="1008.7" cy="494.4" r="5.3"/>
<circle cx="963.4" cy="285.9" r="5.3"/><circle cx="1155.9" cy="555.4" r="5.3"/><circle cx="1029.3" cy="342.7" r="5.3"/><circle cx="1019.2" cy="385.5" r="5.3"/><circle cx="936.5" cy="330.4" r="5.3"/><circle cx="1007.8" cy="553.2" r="5.3"/><circle cx="977.9" cy="229.5" r="5.3"/><circle cx="932.5" cy="368.9" r="5.3"/>
<circle cx="1064.5" cy="489.6" r="5.3"/><circle cx="1222.5" cy="485.4" r="5.3"/><circle cx="1229.9" cy="371.6" r="5.3"/><circle cx="1149" cy="587.5" r="5.3"/><circle cx="1005.9" cy="195.9" r="5.3"/><circle cx="1152.1" cy="466.4" r="5.3"/><circle cx="1164.4" cy="507.1" r="5.3"/><circle cx="1075.9" cy="305.2" r="5.3"/>
<circle cx="986.6" cy="367.8" r="5.3"/><circle cx="1191.7" cy="563.5" r="5.3"/><circle cx="1107" cy="318.2" r="5.3"/><circle cx="1190.5" cy="550.9" r="5.3"/><circle cx="865" cy="206.8" r="5.3"/><circle cx="950.8" cy="283.2" r="5.3"/><circle cx="992.5" cy="228.9" r="5.3"/><circle cx="1175.5" cy="596.3" r="5.3"/>
<circle cx="1124.5" cy="494" r="5.3"/><circle cx="1024.4" cy="363.1" r="5.3"/><circle cx="934.5" cy="412.1" r="5.3"/><circle cx="976.4" cy="251.3" r="5.3"/><circle cx="1123.3" cy="583" r="5.3"/><circle cx="1210.7" cy="557.7" r="5.3"/><circle cx="962.5" cy="243.4" r="5.3"/><circle cx="1251.8" cy="475.5" r="5.3"/>
<circle cx="1054.4" cy="396.6" r="5.3"/><circle cx="964.8" cy="215.4" r="5.3"/><circle cx="1141.7" cy="568.3" r="5.3"/><circle cx="1157.8" cy="567.6" r="5.3"/><circle cx="1131.4" cy="521.8" r="5.3"/><circle cx="1015.1" cy="385.2" r="5.3"/><circle cx="1087.5" cy="333.5" r="5.3"/><circle cx="1121.9" cy="531.9" r="5.3"/>
<circle cx="1160.5" cy="557.7" r="5.3"/><circle cx="1141.1" cy="516.4" r="5.3"/><circle cx="1003.3" cy="270.9" r="5.3"/><circle cx="976.5" cy="295.8" r="5.3"/><circle cx="1228.7" cy="388.3" r="5.3"/><circle cx="909.7" cy="216" r="5.3"/><circle cx="1014" cy="547.1" r="5.3"/><circle cx="1152.7" cy="511.3" r="5.3"/>
<circle cx="1197" cy="306.6" r="5.3"/><circle cx="1133.8" cy="450.3" r="5.3"/><circle cx="1240.1" cy="389.7" r="5.3"/><circle cx="1135.9" cy="549.3" r="5.3"/><circle cx="1168.4" cy="581.1" r="5.3"/><circle cx="960.2" cy="257.2" r="5.3"/><circle cx="1003.4" cy="471.8" r="5.3"/><circle cx="1088.6" cy="385.4" r="5.3"/>
<circle cx="1017" cy="470.7" r="5.3"/><circle cx="915.3" cy="222.8" r="5.3"/><circle cx="1045.1" cy="539.1" r="5.3"/><circle cx="920.2" cy="217.4" r="5.3"/><circle cx="1064.2" cy="378.5" r="5.3"/><circle cx="1058.3" cy="350.8" r="5.3"/><circle cx="1054.6" cy="393.9" r="5.3"/><circle cx="1255.3" cy="580" r="5.3"/>
<circle cx="918.9" cy="232.1" r="5.3"/><circle cx="1061.4" cy="349.9" r="5.3"/><circle cx="1011.6" cy="211.8" r="5.3"/><circle cx="1035.9" cy="558.7" r="5.3"/><circle cx="994.9" cy="347.1" r="5.3"/><circle cx="1223.4" cy="539.4" r="5.3"/><circle cx="863.3" cy="265.1" r="5.3"/><circle cx="946.5" cy="334.3" r="5.3"/>
<circle cx="1159.9" cy="509.4" r="5.3"/><circle cx="1014" cy="324.3" r="5.3"/><circle cx="1077.2" cy="365.2" r="5.3"/><circle cx="958.5" cy="304.9" r="5.3"/><circle cx="1041.1" cy="356.8" r="5.3"/><circle cx="977.6" cy="231.9" r="5.3"/><circle cx="1096.3" cy="383.1" r="5.3"/><circle cx="1019.2" cy="305.4" r="5.3"/>
<circle cx="1000.7" cy="536.4" r="5.3"/><circle cx="981.4" cy="213.5" r="5.3"/><circle cx="934.4" cy="252.6" r="5.3"/><circle cx="994.9" cy="326.9" r="5.3"/><circle cx="1061.4" cy="531.7" r="5.3"/><circle cx="999.4" cy="422.7" r="5.3"/><circle cx="1212.1" cy="563.1" r="5.3"/><circle cx="1175.9" cy="571.7" r="5.3"/>
<circle cx="1037.7" cy="541.1" r="5.3"/><circle cx="1121.2" cy="521.5" r="5.3"/><circle cx="989.2" cy="217" r="5.3"/><circle cx="938.5" cy="201" r="5.3"/><circle cx="1085.2" cy="537" r="5.3"/><circle cx="1136.7" cy="370.7" r="5.3"/><circle cx="1158.5" cy="432.9" r="5.3"/><circle cx="1068.7" cy="354.2" r="5.3"/>
<circle cx="1152.6" cy="589.1" r="5.3"/><circle cx="1151.7" cy="574.1" r="5.3"/><circle cx="1048.7" cy="586.5" r="5.3"/><circle cx="1126.9" cy="469.7" r="5.3"/><circle cx="1075" cy="425" r="5.3"/><circle cx="1084.1" cy="433.3" r="5.3"/><circle cx="1087.1" cy="406.9" r="5.3"/><circle cx="1106.7" cy="559.7" r="5.3"/>
<circle cx="1245.9" cy="587.4" r="5.3"/><circle cx="987" cy="267.7" r="5.3"/><circle cx="1160.1" cy="512.7" r="5.3"/><circle cx="975.7" cy="211.9" r="5.3"/><circle cx="1023.5" cy="252.8" r="5.3"/><circle cx="923.5" cy="216.2" r="5.3"/><circle cx="995.8" cy="217.3" r="5.3"/><circle cx="1123.1" cy="421.2" r="5.3"/>
<circle cx="1230.6" cy="545.3" r="5.3"/><circle cx="1166.1" cy="318.9" r="5.3"/><circle cx="1152.1" cy="555.3" r="5.3"/><circle cx="1156" cy="541.3" r="5.3"/><circle cx="1129.6" cy="355.4" r="5.3"/><circle cx="951.4" cy="247.5" r="5.3"/><circle cx="1081.1" cy="588.8" r="5.3"/><circle cx="1237.3" cy="434.8" r="5.3"/>
<circle cx="984.1" cy="213.8" r="5.3"/><circle cx="969.1" cy="209.8" r="5.3"/><circle cx="909.2" cy="203.2" r="5.3"/><circle cx="973.2" cy="230.9" r="5.3"/><circle cx="1124.1" cy="213.2" r="5.3"/><circle cx="1111.1" cy="543.8" r="5.3"/><circle cx="1177.5" cy="352.1" r="5.3"/><circle cx="1020.5" cy="510.8" r="5.3"/>
<circle cx="1124.1" cy="243.5" r="5.3"/><circle cx="1151.3" cy="380" r="5.3"/><circle cx="894.7" cy="195.9" r="5.3"/><circle cx="1140.1" cy="488.3" r="5.3"/><circle cx="1258.9" cy="321.7" r="5.3"/><circle cx="1017.8" cy="550" r="5.3"/><circle cx="949.8" cy="260" r="5.3"/><circle cx="1160.4" cy="593.5" r="5.3"/>
<circle cx="950.6" cy="255.8" r="5.3"/><circle cx="1029.7" cy="571.6" r="5.3"/><circle cx="1042.5" cy="415.4" r="5.3"/><circle cx="1176.6" cy="538.7" r="5.3"/><circle cx="1234.4" cy="413.5" r="5.3"/><circle cx="1002.1" cy="220.2" r="5.3"/><circle cx="1159.2" cy="569.8" r="5.3"/><circle cx="1171.5" cy="574.1" r="5.3"/>
<circle cx="1116.7" cy="458.2" r="5.3"/><circle cx="1103.6" cy="349.1" r="5.3"/><circle cx="1050.4" cy="313.7" r="5.3"/><circle cx="1153.7" cy="546" r="5.3"/><circle cx="1152.3" cy="560.4" r="5.3"/><circle cx="1079.6" cy="598.1" r="5.3"/><circle cx="970.1" cy="244.1" r="5.3"/><circle cx="969.9" cy="289.5" r="5.3"/>
<circle cx="1056.9" cy="523.9" r="5.3"/><circle cx="1205.1" cy="341.6" r="5.3"/><circle cx="1235.1" cy="428.1" r="5.3"/><circle cx="890.3" cy="207.4" r="5.3"/><circle cx="1016.7" cy="195.9" r="5.3"/><circle cx="1051.1" cy="310.7" r="5.3"/><circle cx="1050.4" cy="496.5" r="5.3"/><circle cx="1072.1" cy="433.3" r="5.3"/>
<circle cx="990.9" cy="214.1" r="5.3"/><circle cx="1069" cy="563.5" r="5.3"/><circle cx="1100.6" cy="500.4" r="5.3"/><circle cx="1026.7" cy="202.6" r="5.3"/><circle cx="988.4" cy="209.8" r="5.3"/><circle cx="1103.7" cy="360.6" r="5.3"/><circle cx="967.3" cy="270.4" r="5.3"/><circle cx="1076.4" cy="588.2" r="5.3"/>
<circle cx="1170.9" cy="492.6" r="5.3"/><circle cx="1199.2" cy="377.5" r="5.3"/><circle cx="1238.4" cy="512.9" r="5.3"/><circle cx="1116.2" cy="554.9" r="5.3"/><circle cx="1157.2" cy="591.8" r="5.3"/><circle cx="1005.4" cy="228.7" r="5.3"/><circle cx="1115" cy="528.3" r="5.3"/><circle cx="1038.7" cy="500.3" r="5.3"/>
<circle cx="1144.9" cy="505.7" r="5.3"/><circle cx="961.7" cy="285.5" r="5.3"/><circle cx="866.3" cy="207.5" r="5.3"/><circle cx="1018.3" cy="244.3" r="5.3"/><circle cx="1233.2" cy="572.5" r="5.3"/><circle cx="1046" cy="319.7" r="5.3"/><circle cx="1216.3" cy="434.4" r="5.3"/><circle cx="989.4" cy="246.4" r="5.3"/>
<circle cx="1155.9" cy="328.9" r="5.3"/><circle cx="1000.7" cy="478.7" r="5.3"/><circle cx="1038.3" cy="498.6" r="5.3"/><circle cx="1058.3" cy="310.6" r="5.3"/><circle cx="1062.9" cy="328.3" r="5.3"/><circle cx="1154" cy="527.9" r="5.3"/><circle cx="1055.5" cy="583.9" r="5.3"/><circle cx="1067.4" cy="610.5" r="5.3"/>
<circle cx="1137.7" cy="504.5" r="5.3"/><circle cx="1094" cy="564.5" r="5.3"/><circle cx="1006.4" cy="214.4" r="5.3"/><circle cx="1162.5" cy="308.6" r="5.3"/><circle cx="941.7" cy="208.4" r="5.3"/><circle cx="1117.5" cy="213.2" r="5.3"/><circle cx="1085.9" cy="338.9" r="5.3"/><circle cx="969.5" cy="237.1" r="5.3"/>
<circle cx="1160.5" cy="554.9" r="5.3"/><circle cx="873" cy="220.1" r="5.3"/><circle cx="1031.4" cy="522" r="5.3"/><circle cx="1199.2" cy="531.3" r="5.3"/><circle cx="969.3" cy="219.5" r="5.3"/><circle cx="1176.5" cy="537.7" r="5.3"/><circle cx="979.1" cy="264.5" r="5.3"/><circle cx="1119.9" cy="518.4" r="5.3"/>
<circle cx="1048.1" cy="472.8" r="5.3"/><circle cx="1153.1" cy="558.1" r="5.3"/><circle cx="882" cy="255.1" r="5.3"/><circle cx="984.4" cy="225" r="5.3"/><circle cx="1236" cy="551" r="5.3"/><circle cx="1158.1" cy="529.9" r="5.3"/><circle cx="1046.1" cy="406" r="5.3"/><circle cx="1219.4" cy="480.6" r="5.3"/>
<circle cx="1135.5" cy="505.9" r="5.3"/><circle cx="948.1" cy="235" r="5.3"/><circle cx="1169.6" cy="466.8" r="5.3"/><circle cx="1138.5" cy="505.4" r="5.3"/><circle cx="1160.5" cy="539.9" r="5.3"/><circle cx="1213" cy="454.7" r="5.3"/><circle cx="1175.7" cy="546.9" r="5.3"/><circle cx="1127.4" cy="221.8" r="5.3"/>
<circle cx="988.5" cy="214.7" r="5.3"/><circle cx="1130.8" cy="552.8" r="5.3"/><circle cx="959.1" cy="321.3" r="5.3"/><circle cx="987" cy="216.6" r="5.3"/><circle cx="978.9" cy="244.7" r="5.3"/><circle cx="1037.2" cy="604.6" r="5.3"/><circle cx="1196.8" cy="561.9" r="5.3"/><circle cx="1160.9" cy="547.6" r="5.3"/>
<circle cx="1188.4" cy="538.3" r="5.3"/><circle cx="1160" cy="542.5" r="5.3"/><circle cx="1011.8" cy="382.7" r="5.3"/><circle cx="1178.3" cy="551.3" r="5.3"/><circle cx="1070.1" cy="490.2" r="5.3"/><circle cx="1176.8" cy="310.6" r="5.3"/><circle cx="1114.1" cy="408.8" r="5.3"/><circle cx="983.4" cy="236.8" r="5.3"/>
<circle cx="960.2" cy="253.2" r="5.3"/><circle cx="904.6" cy="368.9" r="5.3"/><circle cx="1140.2" cy="364.9" r="5.3"/><circle cx="1088.3" cy="555.7" r="5.3"/><circle cx="1249.7" cy="312.1" r="5.3"/><circle cx="1050.4" cy="306.2" r="5.3"/><circle cx="1161.9" cy="408.8" r="5.3"/><circle cx="1134.8" cy="468.2" r="5.3"/>
<circle cx="1065.5" cy="478.8" r="5.3"/><circle cx="992.7" cy="224.9" r="5.3"/><circle cx="1144.9" cy="464.5" r="5.3"/><circle cx="899" cy="250.8" r="5.3"/><circle cx="1144.4" cy="565.7" r="5.3"/><circle cx="1048.2" cy="307.9" r="5.3"/><circle cx="1218" cy="494.9" r="5.3"/><circle cx="1013.8" cy="385.2" r="5.3"/>
<circle cx="1167.1" cy="531.4" r="5.3"/><circle cx="997.9" cy="259" r="5.3"/><circle cx="990.4" cy="242.4" r="5.3"/><circle cx="882.5" cy="213.2" r="5.3"/><circle cx="1045.7" cy="338.6" r="5.3"/><circle cx="968.9" cy="210.8" r="5.3"/><circle cx="951.7" cy="304.1" r="5.3"/><circle cx="1182.7" cy="524.6" r="5.3"/>
<circle cx="939.4" cy="212.8" r="5.3"/><circle cx="973.5" cy="240.7" r="5.3"/><circle cx="1075.3" cy="580" r="5.3"/><circle cx="1133.6" cy="605.1" r="5.3"/><circle cx="1132.3" cy="422.1" r="5.3"/><circle cx="1176.8" cy="357.9" r="5.3"/><circle cx="1135.6" cy="592.4" r="5.3"/><circle cx="998.3" cy="244" r="5.3"/>
<circle cx="1148.8" cy="435.9" r="5.3"/><circle cx="1263.8" cy="498.6" r="5.3"/><circle cx="991.8" cy="239.7" r="5.3"/><circle cx="1082.9" cy="368.4" r="5.3"/><circle cx="1022.8" cy="227.6" r="5.3"/><circle cx="1115.5" cy="380.6" r="5.3"/><circle cx="1111.3" cy="610.8" r="5.3"/><circle cx="896.6" cy="282.4" r="5.3"/>
<circle cx="1160" cy="331.5" r="5.3"/><circle cx="1220.4" cy="387.7" r="5.3"/><circle cx="1115.2" cy="604.1" r="5.3"/><circle cx="1102.9" cy="573.7" r="5.3"/><circle cx="995.7" cy="234" r="5.3"/><circle cx="1237.9" cy="429" r="5.3"/><circle cx="927" cy="236.8" r="5.3"/><circle cx="1152.7" cy="560.2" r="5.3"/>
<circle cx="1234.5" cy="383.5" r="5.3"/><circle cx="1199.5" cy="470.2" r="5.3"/><circle cx="1178.8" cy="541.1" r="5.3"/><circle cx="931.2" cy="250.6" r="5.3"/><circle cx="957.8" cy="205.6" r="5.3"/><circle cx="1214" cy="511.5" r="5.3"/><circle cx="1180" cy="527.8" r="5.3"/><circle cx="1161.5" cy="538" r="5.3"/>
<circle cx="1027" cy="251.9" r="5.3"/><circle cx="1167.6" cy="491.9" r="5.3"/><circle cx="1148.3" cy="566.3" r="5.3"/><circle cx="955.7" cy="218.5" r="5.3"/><circle cx="943.4" cy="195.9" r="5.3"/><circle cx="973.5" cy="227.7" r="5.3"/><circle cx="1049.8" cy="311.7" r="5.3"/><circle cx="1188.4" cy="513.3" r="5.3"/>
<circle cx="1123.3" cy="571" r="5.3"/><circle cx="1097.8" cy="531" r="5.3"/><circle cx="1029.2" cy="556" r="5.3"/><circle cx="1001.8" cy="442.5" r="5.3"/><circle cx="892.6" cy="247.3" r="5.3"/><circle cx="1290.4" cy="541.8" r="5.3"/><circle cx="1017.2" cy="480.6" r="5.3"/><circle cx="1131.7" cy="336" r="5.3"/>
<circle cx="993.3" cy="259.5" r="5.3"/><circle cx="1043.1" cy="311.2" r="5.3"/><circle cx="1073.9" cy="374.2" r="5.3"/><circle cx="1080.6" cy="457.5" r="5.3"/><circle cx="1061.9" cy="568.2" r="5.3"/><circle cx="1166.4" cy="390.8" r="5.3"/><circle cx="882.8" cy="240" r="5.3"/><circle cx="1104.8" cy="547.2" r="5.3"/>
<circle cx="1107.3" cy="407.1" r="5.3"/><circle cx="1024" cy="214.8" r="5.3"/><circle cx="1218.2" cy="380.2" r="5.3"/><circle cx="960.8" cy="249.6" r="5.3"/><circle cx="980.6" cy="223" r="5.3"/><circle cx="998.2" cy="231" r="5.3"/><circle cx="1030.8" cy="417.3" r="5.3"/><circle cx="1251.3" cy="336.3" r="5.3"/>
<circle cx="1123" cy="342.6" r="5.3"/><circle cx="1160.2" cy="553.5" r="5.3"/><circle cx="1186.1" cy="452.2" r="5.3"/><circle cx="1111.2" cy="570" r="5.3"/><circle cx="990" cy="195.9" r="5.3"/><circle cx="1191.6" cy="316.8" r="5.3"/><circle cx="1098.1" cy="539" r="5.3"/><circle cx="1108.6" cy="486.2" r="5.3"/>
<circle cx="1190.5" cy="529" r="5.3"/><circle cx="1255.7" cy="585.8" r="5.3"/><circle cx="1037.1" cy="356.9" r="5.3"/><circle cx="1074.2" cy="461.4" r="5.3"/><circle cx="1088.2" cy="517.2" r="5.3"/><circle cx="1111.5" cy="414.6" r="5.3"/><circle cx="1182.7" cy="591.9" r="5.3"/><circle cx="945.8" cy="220.7" r="5.3"/>
<circle cx="1064.6" cy="374.2" r="5.3"/><circle cx="980.9" cy="208" r="5.3"/><circle cx="1081" cy="374.5" r="5.3"/><circle cx="1000.9" cy="243.3" r="5.3"/><circle cx="992.3" cy="246.9" r="5.3"/><circle cx="1014.3" cy="227.8" r="5.3"/><circle cx="1194" cy="468.1" r="5.3"/><circle cx="1184.8" cy="409.8" r="5.3"/>
<circle cx="1113.2" cy="519.7" r="5.3"/><circle cx="1057.1" cy="324.3" r="5.3"/><circle cx="1115.6" cy="326" r="5.3"/><circle cx="959" cy="247.7" r="5.3"/><circle cx="913.4" cy="216.2" r="5.3"/><circle cx="1064.2" cy="459.6" r="5.3"/><circle cx="1007.8" cy="195.9" r="5.3"/><circle cx="1203.4" cy="392.2" r="5.3"/>
<circle cx="1029.4" cy="484" r="5.3"/><circle cx="1131" cy="597" r="5.3"/><circle cx="1168.6" cy="397.1" r="5.3"/><circle cx="989.1" cy="333.3" r="5.3"/><circle cx="894.1" cy="224.3" r="5.3"/><circle cx="1059.8" cy="428.9" r="5.3"/><circle cx="1001.1" cy="262.6" r="5.3"/><circle cx="1184.2" cy="505.7" r="5.3"/>
<circle cx="1040.4" cy="539" r="5.3"/><circle cx="1011.4" cy="382.4" r="5.3"/><circle cx="1077.5" cy="395.4" r="5.3"/><circle cx="1066.2" cy="464.1" r="5.3"/><circle cx="871.6" cy="243.2" r="5.3"/><circle cx="1010.9" cy="240.6" r="5.3"/><circle cx="929.5" cy="211" r="5.3"/><circle cx="1142.9" cy="547.9" r="5.3"/>
<circle cx="1130.7" cy="573.2" r="5.3"/><circle cx="985.8" cy="231.2" r="5.3"/><circle cx="1079.6" cy="596.5" r="5.3"/><circle cx="1085.1" cy="587.9" r="5.3"/><circle cx="1110.9" cy="573.3" r="5.3"/><circle cx="1168" cy="565.8" r="5.3"/><circle cx="1143.7" cy="555.9" r="5.3"/><circle cx="1114.6" cy="475.9" r="5.3"/>
<circle cx="1195.6" cy="412.4" r="5.3"/><circle cx="928.3" cy="226.6" r="5.3"/><circle cx="1174.5" cy="495.9" r="5.3"/><circle cx="957.5" cy="246.2" r="5.3"/><circle cx="1190.6" cy="402.7" r="5.3"/><circle cx="1114.1" cy="579.3" r="5.3"/><circle cx="964.8" cy="231.7" r="5.3"/><circle cx="1178.2" cy="533.9" r="5.3"/>
<circle cx="1004.8" cy="242" r="5.3"/><circle cx="1157.3" cy="609.6" r="5.3"/><circle cx="993.7" cy="237.3" r="5.3"/><circle cx="1085" cy="474.4" r="5.3"/><circle cx="1084" cy="328.7" r="5.3"/><circle cx="1172.3" cy="572.1" r="5.3"/><circle cx="1087.3" cy="381.1" r="5.3"/><circle cx="1091.9" cy="532.8" r="5.3"/>
<circle cx="1222.6" cy="296.6" r="5.3"/><circle cx="1116.9" cy="506.8" r="5.3"/><circle cx="1057" cy="329.3" r="5.3"/><circle cx="1205.7" cy="549.7" r="5.3"/><circle cx="1004.6" cy="195.9" r="5.3"/><circle cx="1175.3" cy="592.8" r="5.3"/><circle cx="1248.7" cy="448.4" r="5.3"/><circle cx="1055.3" cy="493.4" r="5.3"/>
<circle cx="1065.9" cy="547.9" r="5.3"/>
</g>
<path d="M927.9 241.7 Q1094.2 406.7 1260.5 538.8 L1260.5 569.1 Q1094.2 401.9 927.9 267.7 Z" fill="#fb8861" fill-opacity=".11" stroke="none"/>
<g fill="#fed395" stroke="#f7c582">
<circle cx="976.1" cy="251.6" r="5.3"/><circle cx="1134.8" cy="293.7" r="5.3"/><circle cx="1176.5" cy="345.9" r="5.3"/><circle cx="1149.7" cy="353.7" r="5.3"/><circle cx="1147.4" cy="484.3" r="5.3"/><circle cx="1054.3" cy="278.1" r="5.3"/><circle cx="1150.7" cy="456.7" r="5.3"/><circle cx="1018.8" cy="230.2" r="5.3"/>
<circle cx="1161.1" cy="352" r="5.3"/><circle cx="1119.6" cy="356.5" r="5.3"/><circle cx="1210.4" cy="303.6" r="5.3"/><circle cx="1046.7" cy="340" r="5.3"/><circle cx="1177.3" cy="441.7" r="5.3"/><circle cx="1188.8" cy="323.3" r="5.3"/><circle cx="1250" cy="332.8" r="5.3"/><circle cx="1047.4" cy="205.4" r="5.3"/>
<circle cx="1088.8" cy="362.1" r="5.3"/><circle cx="1185.1" cy="354" r="5.3"/><circle cx="1154.8" cy="383.5" r="5.3"/><circle cx="1169.2" cy="585.7" r="5.3"/><circle cx="1206.1" cy="300.9" r="5.3"/><circle cx="1048.4" cy="304.8" r="5.3"/><circle cx="1070.8" cy="320.9" r="5.3"/><circle cx="1241.8" cy="444.9" r="5.3"/>
<circle cx="1133.2" cy="493" r="5.3"/><circle cx="1091.4" cy="416.2" r="5.3"/><circle cx="1127.2" cy="470.2" r="5.3"/><circle cx="1103.5" cy="314.8" r="5.3"/><circle cx="1135.1" cy="427.2" r="5.3"/><circle cx="1090.2" cy="394" r="5.3"/><circle cx="1160.4" cy="440.3" r="5.3"/><circle cx="1162" cy="416.1" r="5.3"/>
<circle cx="1048.6" cy="487.7" r="5.3"/><circle cx="1192.6" cy="317" r="5.3"/><circle cx="935.1" cy="195.9" r="5.3"/><circle cx="1021.7" cy="462.8" r="5.3"/><circle cx="1057.2" cy="537.3" r="5.3"/><circle cx="1145.5" cy="371.9" r="5.3"/><circle cx="1132.5" cy="328.6" r="5.3"/><circle cx="1197.4" cy="355.7" r="5.3"/>
<circle cx="1137.4" cy="375.9" r="5.3"/><circle cx="1089.1" cy="562" r="5.3"/><circle cx="1172.6" cy="329.2" r="5.3"/><circle cx="1255.2" cy="366.1" r="5.3"/><circle cx="1194.1" cy="404.9" r="5.3"/><circle cx="1044.3" cy="256.4" r="5.3"/><circle cx="1171.8" cy="344.9" r="5.3"/><circle cx="1100.9" cy="434.2" r="5.3"/>
<circle cx="1243.9" cy="311.4" r="5.3"/><circle cx="1128.6" cy="351.8" r="5.3"/><circle cx="1184.3" cy="420.7" r="5.3"/><circle cx="1147.6" cy="427.9" r="5.3"/><circle cx="1169.6" cy="361.4" r="5.3"/><circle cx="985.5" cy="199.1" r="5.3"/><circle cx="1197.4" cy="385" r="5.3"/><circle cx="1144.1" cy="355.9" r="5.3"/>
<circle cx="870.6" cy="224" r="5.3"/><circle cx="1070.7" cy="419.8" r="5.3"/><circle cx="1151.3" cy="330.8" r="5.3"/><circle cx="1104" cy="466" r="5.3"/><circle cx="1120.8" cy="365.4" r="5.3"/><circle cx="1178.2" cy="366.4" r="5.3"/><circle cx="1142.8" cy="302.7" r="5.3"/><circle cx="1175.7" cy="305.4" r="5.3"/>
<circle cx="1178.4" cy="342.7" r="5.3"/><circle cx="1052" cy="367.2" r="5.3"/><circle cx="1030.5" cy="468.6" r="5.3"/><circle cx="1102.4" cy="398.7" r="5.3"/><circle cx="1174.6" cy="374.1" r="5.3"/><circle cx="1123.5" cy="357.1" r="5.3"/><circle cx="1085.4" cy="452.6" r="5.3"/><circle cx="1084.2" cy="479" r="5.3"/>
<circle cx="1139.8" cy="374.3" r="5.3"/><circle cx="1239.6" cy="336.4" r="5.3"/><circle cx="1166.3" cy="408.8" r="5.3"/><circle cx="1047.6" cy="295.4" r="5.3"/><circle cx="1035.9" cy="562.9" r="5.3"/><circle cx="1129.7" cy="570.5" r="5.3"/><circle cx="1239" cy="300.9" r="5.3"/><circle cx="1175.7" cy="459" r="5.3"/>
<circle cx="1115.4" cy="426" r="5.3"/><circle cx="1076.5" cy="524.3" r="5.3"/><circle cx="1134.9" cy="445.3" r="5.3"/><circle cx="1109.9" cy="345.5" r="5.3"/><circle cx="1142.2" cy="370.1" r="5.3"/><circle cx="1162" cy="319.6" r="5.3"/><circle cx="906.9" cy="257.9" r="5.3"/><circle cx="1136.9" cy="344.8" r="5.3"/>
<circle cx="1154.8" cy="402.4" r="5.3"/><circle cx="1103.5" cy="436.2" r="5.3"/><circle cx="1231.4" cy="336.8" r="5.3"/><circle cx="1200.8" cy="361.1" r="5.3"/><circle cx="1114.7" cy="432.8" r="5.3"/><circle cx="1068.8" cy="391.1" r="5.3"/><circle cx="1066.2" cy="524.3" r="5.3"/><circle cx="1103.5" cy="485" r="5.3"/>
<circle cx="1178.4" cy="354.2" r="5.3"/><circle cx="1146.3" cy="385.9" r="5.3"/><circle cx="1110.5" cy="371.5" r="5.3"/><circle cx="1100.2" cy="392" r="5.3"/><circle cx="1210.7" cy="470.4" r="5.3"/><circle cx="1156.7" cy="377.5" r="5.3"/><circle cx="1066.6" cy="412.8" r="5.3"/><circle cx="1133.8" cy="323.9" r="5.3"/>
<circle cx="1012.7" cy="195.9" r="5.3"/><circle cx="1093.5" cy="526.1" r="5.3"/><circle cx="1046" cy="409.9" r="5.3"/><circle cx="1181.8" cy="319.4" r="5.3"/><circle cx="1227" cy="316.4" r="5.3"/><circle cx="1077.7" cy="371.9" r="5.3"/><circle cx="1128.3" cy="384" r="5.3"/><circle cx="1141.5" cy="441.3" r="5.3"/>
<circle cx="1111.6" cy="383.3" r="5.3"/><circle cx="1051.7" cy="206.4" r="5.3"/><circle cx="1163.5" cy="434.5" r="5.3"/><circle cx="1183.7" cy="348.6" r="5.3"/><circle cx="1155.8" cy="329" r="5.3"/><circle cx="1132.3" cy="412.6" r="5.3"/><circle cx="1104.8" cy="381.1" r="5.3"/><circle cx="1185.3" cy="329.6" r="5.3"/>
<circle cx="1054.6" cy="583.5" r="5.3"/><circle cx="1138.8" cy="374.7" r="5.3"/><circle cx="1002" cy="574.7" r="5.3"/><circle cx="1237.6" cy="401.8" r="5.3"/><circle cx="1099.5" cy="436.6" r="5.3"/><circle cx="1083.7" cy="382.8" r="5.3"/><circle cx="1109" cy="410.3" r="5.3"/><circle cx="1064.3" cy="370.1" r="5.3"/>
<circle cx="1139.9" cy="397.6" r="5.3"/><circle cx="1091" cy="433" r="5.3"/><circle cx="1249.1" cy="344.9" r="5.3"/><circle cx="1052.6" cy="390.8" r="5.3"/><circle cx="1056.3" cy="356.1" r="5.3"/><circle cx="1042.8" cy="330.2" r="5.3"/><circle cx="1027.3" cy="348" r="5.3"/><circle cx="1135.6" cy="498" r="5.3"/>
<circle cx="1024.7" cy="225" r="5.3"/><circle cx="1128.4" cy="337.4" r="5.3"/><circle cx="1085.8" cy="301.2" r="5.3"/><circle cx="1186.1" cy="463.2" r="5.3"/><circle cx="1187.4" cy="454.1" r="5.3"/><circle cx="1238.1" cy="395.8" r="5.3"/><circle cx="1022.4" cy="243.1" r="5.3"/><circle cx="1115" cy="404.4" r="5.3"/>
<circle cx="1127.6" cy="309.7" r="5.3"/><circle cx="1233" cy="306.7" r="5.3"/><circle cx="1157.7" cy="379.6" r="5.3"/><circle cx="1153.3" cy="353.4" r="5.3"/><circle cx="1137.8" cy="383.5" r="5.3"/><circle cx="1110.7" cy="398.5" r="5.3"/><circle cx="1099" cy="310.2" r="5.3"/><circle cx="1180.7" cy="464.5" r="5.3"/>
<circle cx="1126.9" cy="394.3" r="5.3"/><circle cx="1222.2" cy="393.1" r="5.3"/><circle cx="1037.6" cy="363.4" r="5.3"/><circle cx="1065.4" cy="365" r="5.3"/><circle cx="1109.7" cy="373.9" r="5.3"/><circle cx="1181.2" cy="508.6" r="5.3"/><circle cx="1132.2" cy="367.4" r="5.3"/><circle cx="1046.2" cy="400.6" r="5.3"/>
<circle cx="970.4" cy="197.6" r="5.3"/><circle cx="1098.5" cy="457.4" r="5.3"/><circle cx="1218.4" cy="310" r="5.3"/><circle cx="922.1" cy="204" r="5.3"/><circle cx="1255.8" cy="303.7" r="5.3"/><circle cx="1065.3" cy="511.1" r="5.3"/><circle cx="1173.8" cy="440.8" r="5.3"/><circle cx="1078.3" cy="388.7" r="5.3"/>
<circle cx="1106.9" cy="381.2" r="5.3"/><circle cx="1207.9" cy="515.1" r="5.3"/><circle cx="896.6" cy="256.9" r="5.3"/><circle cx="1160.5" cy="381.3" r="5.3"/><circle cx="1099.2" cy="417.8" r="5.3"/><circle cx="1102.4" cy="341.7" r="5.3"/><circle cx="1147.7" cy="404.5" r="5.3"/><circle cx="1045.5" cy="421.1" r="5.3"/>
<circle cx="1105.5" cy="413.6" r="5.3"/><circle cx="1147" cy="443.2" r="5.3"/><circle cx="1211.9" cy="524.1" r="5.3"/><circle cx="891.6" cy="248.8" r="5.3"/><circle cx="889.3" cy="240.7" r="5.3"/><circle cx="1107.8" cy="382.3" r="5.3"/><circle cx="1165.8" cy="367.1" r="5.3"/><circle cx="1155.4" cy="333.3" r="5.3"/>
<circle cx="1112.6" cy="358.2" r="5.3"/><circle cx="1111.3" cy="460.3" r="5.3"/><circle cx="1124.5" cy="328.5" r="5.3"/><circle cx="1117" cy="417.5" r="5.3"/><circle cx="1060" cy="371.6" r="5.3"/><circle cx="1136.8" cy="319.3" r="5.3"/><circle cx="1077.5" cy="447.1" r="5.3"/><circle cx="1186.7" cy="348.8" r="5.3"/>
<circle cx="1120.7" cy="369.2" r="5.3"/><circle cx="1197.1" cy="384.1" r="5.3"/><circle cx="1141.4" cy="412" r="5.3"/><circle cx="1170.7" cy="374.7" r="5.3"/><circle cx="931.2" cy="253.1" r="5.3"/><circle cx="1150.9" cy="395.7" r="5.3"/><circle cx="1234.6" cy="506.7" r="5.3"/><circle cx="1072.9" cy="427.1" r="5.3"/>
<circle cx="897.3" cy="209.7" r="5.3"/><circle cx="1005.7" cy="521.7" r="5.3"/><circle cx="1139.3" cy="376.7" r="5.3"/><circle cx="1050.9" cy="383.2" r="5.3"/><circle cx="1052.4" cy="498.7" r="5.3"/><circle cx="1249.7" cy="366.1" r="5.3"/><circle cx="1091.8" cy="323.2" r="5.3"/><circle cx="1188.9" cy="308.6" r="5.3"/>
<circle cx="1251" cy="480.3" r="5.3"/><circle cx="1158.1" cy="321.4" r="5.3"/><circle cx="1126" cy="368.8" r="5.3"/><circle cx="1177.4" cy="407.9" r="5.3"/><circle cx="1144.8" cy="371.7" r="5.3"/><circle cx="1105.9" cy="397.8" r="5.3"/><circle cx="1133.5" cy="355.5" r="5.3"/><circle cx="934.9" cy="255.1" r="5.3"/>
<circle cx="1086.7" cy="348.2" r="5.3"/><circle cx="1107.2" cy="459" r="5.3"/><circle cx="1177" cy="501.8" r="5.3"/><circle cx="1258.1" cy="504.1" r="5.3"/><circle cx="1095.6" cy="334.4" r="5.3"/><circle cx="873.2" cy="195.9" r="5.3"/><circle cx="1108.4" cy="420.6" r="5.3"/><circle cx="1163.2" cy="358.6" r="5.3"/>
<circle cx="1132.5" cy="590.3" r="5.3"/><circle cx="1069.2" cy="432" r="5.3"/><circle cx="1188.9" cy="445.2" r="5.3"/><circle cx="1125.4" cy="440.1" r="5.3"/><circle cx="1233.6" cy="507" r="5.3"/><circle cx="1102.7" cy="454.8" r="5.3"/><circle cx="1174.1" cy="374.4" r="5.3"/><circle cx="1128.7" cy="384.9" r="5.3"/>
<circle cx="1249.5" cy="326.7" r="5.3"/><circle cx="1122.5" cy="350" r="5.3"/><circle cx="1188.5" cy="347" r="5.3"/><circle cx="1181.7" cy="373.6" r="5.3"/><circle cx="1117.8" cy="435.2" r="5.3"/><circle cx="1108" cy="537.2" r="5.3"/><circle cx="953.9" cy="223.3" r="5.3"/><circle cx="1034.4" cy="415.4" r="5.3"/>
<circle cx="1217.2" cy="333.7" r="5.3"/><circle cx="1029.8" cy="238.9" r="5.3"/><circle cx="1104.2" cy="447.5" r="5.3"/><circle cx="1089" cy="454.3" r="5.3"/><circle cx="1167.4" cy="366.6" r="5.3"/><circle cx="1154.8" cy="346.5" r="5.3"/><circle cx="1119.7" cy="380.4" r="5.3"/><circle cx="1052.7" cy="566.2" r="5.3"/>
<circle cx="1148.4" cy="345.4" r="5.3"/><circle cx="1112.6" cy="463.6" r="5.3"/><circle cx="1096.6" cy="359.9" r="5.3"/><circle cx="1117.4" cy="381.3" r="5.3"/><circle cx="1015" cy="416" r="5.3"/><circle cx="1171.8" cy="457.6" r="5.3"/><circle cx="1097.3" cy="423.7" r="5.3"/><circle cx="1130.3" cy="521.5" r="5.3"/>
<circle cx="1114.2" cy="426.3" r="5.3"/><circle cx="1104.6" cy="385.7" r="5.3"/><circle cx="1173.8" cy="315.9" r="5.3"/><circle cx="1121.5" cy="314.8" r="5.3"/><circle cx="1132" cy="498" r="5.3"/><circle cx="1083.9" cy="444.8" r="5.3"/><circle cx="1322.4" cy="500.7" r="5.3"/><circle cx="897.3" cy="228.6" r="5.3"/>
<circle cx="1160.6" cy="450.8" r="5.3"/><circle cx="1222.8" cy="317.1" r="5.3"/><circle cx="1203.2" cy="407.5" r="5.3"/><circle cx="1237.1" cy="326.5" r="5.3"/><circle cx="1113.9" cy="321.6" r="5.3"/><circle cx="1175.4" cy="424.4" r="5.3"/><circle cx="1207.4" cy="366.5" r="5.3"/><circle cx="1135" cy="314.2" r="5.3"/>
<circle cx="1116.9" cy="345.5" r="5.3"/><circle cx="1231.1" cy="333.2" r="5.3"/><circle cx="1247.2" cy="565.1" r="5.3"/><circle cx="1158.5" cy="425.6" r="5.3"/><circle cx="1131.4" cy="448.7" r="5.3"/><circle cx="920.7" cy="221.4" r="5.3"/><circle cx="1238.2" cy="357.9" r="5.3"/><circle cx="1188.1" cy="351.3" r="5.3"/>
</g>
<path d="M927.9 257.3 Q1094.2 379 1260.5 463.6 L1260.5 489.5 Q1094.2 372.1 927.9 291.9 Z" fill="#fed395" fill-opacity=".11" stroke="none"/>
</g>
<path d="M927.9 281.1 L1260.5 610.6" stroke="#dc4a6f" stroke-width="3.2" fill="none"/>
<path d="M927.9 254.7 L1260.5 553.9" stroke="#f98a63" stroke-width="3.2" fill="none"/>
<path d="M927.9 274.6 L1260.5 476.5" stroke="#fbd08f" stroke-width="3.2" fill="none"/>
<path d="M769 149 V656.9 H1349.7" fill="none" stroke="#1a1a1a" stroke-width="1.5"/>
<path d="M794.8 656.9v6.4M861.3 656.9v6.4M927.9 656.9v6.4M994.4 656.9v6.4M1060.9 656.9v6.4M1127.4 656.9v6.4M1194 656.9v6.4M1260.5 656.9v6.4M1327 656.9v6.4M769 628.3h-6.4M769 541.8h-6.4M769 455.3h-6.4M769 368.9h-6.4M769 282.4h-6.4M769 195.9h-6.4" stroke="#1a1a1a" stroke-width="1.5" fill="none"/>
<g text-anchor="middle">
<text x="794.8" y="683.1">9</text>
<text x="861.3" y="683.1">10</text>
<text x="927.9" y="683.1">11</text>
<text x="994.4" y="683.1">12</text>
<text x="1060.9" y="683.1">13</text>
<text x="1127.4" y="683.1">14</text>
<text x="1194" y="683.1">15</text>
<text x="1260.5" y="683.1">16</text>
<text x="1327" y="683.1">17</text>
</g>
<!-- panel BL -->
<g class="pts">
<g fill="#e0426e" stroke="#c2456f">
<circle cx="494" cy="868.2" r="5.3"/><circle cx="556.8" cy="1008.3" r="5.3"/><circle cx="420.5" cy="874.9" r="5.3"/><circle cx="422.7" cy="853.3" r="5.3"/><circle cx="284.6" cy="904.3" r="5.3"/><circle cx="467.7" cy="815" r="5.3"/><circle cx="236.6" cy="868.1" r="5.3"/><circle cx="594.7" cy="880.7" r="5.3"/>
<circle cx="550.8" cy="830.6" r="5.3"/><circle cx="299.5" cy="815" r="5.3"/><circle cx="294.3" cy="875.4" r="5.3"/><circle cx="518.7" cy="1069" r="5.3"/><circle cx="523.6" cy="947.2" r="5.3"/><circle cx="555" cy="883.5" r="5.3"/><circle cx="270.9" cy="842.5" r="5.3"/><circle cx="462.3" cy="867.4" r="5.3"/>
<circle cx="344.1" cy="886.9" r="5.3"/><circle cx="285.8" cy="860.1" r="5.3"/><circle cx="541.7" cy="964.4" r="5.3"/><circle cx="534.2" cy="939" r="5.3"/><circle cx="386.4" cy="831.9" r="5.3"/><circle cx="301.5" cy="815" r="5.3"/><circle cx="426.5" cy="972.3" r="5.3"/><circle cx="546.1" cy="864.6" r="5.3"/>
<circle cx="268" cy="815" r="5.3"/><circle cx="264.3" cy="885.5" r="5.3"/><circle cx="374.9" cy="877.2" r="5.3"/><circle cx="543.1" cy="884.5" r="5.3"/><circle cx="373.9" cy="1063.7" r="5.3"/><circle cx="253.2" cy="891.8" r="5.3"/><circle cx="485.5" cy="998.2" r="5.3"/><circle cx="346" cy="840.3" r="5.3"/>
<circle cx="377.1" cy="983.8" r="5.3"/><circle cx="285" cy="963.2" r="5.3"/><circle cx="458.9" cy="815" r="5.3"/><circle cx="596.4" cy="837.7" r="5.3"/><circle cx="545.4" cy="903" r="5.3"/><circle cx="345.7" cy="837.9" r="5.3"/><circle cx="373.1" cy="917.8" r="5.3"/><circle cx="396.3" cy="843.9" r="5.3"/>
<circle cx="273.8" cy="815" r="5.3"/><circle cx="504.9" cy="948.2" r="5.3"/><circle cx="510.7" cy="870.8" r="5.3"/><circle cx="543.1" cy="848.9" r="5.3"/><circle cx="555.2" cy="977" r="5.3"/><circle cx="462.9" cy="815" r="5.3"/><circle cx="507.6" cy="815.9" r="5.3"/><circle cx="359.2" cy="1002.3" r="5.3"/>
<circle cx="427.1" cy="815" r="5.3"/><circle cx="387.9" cy="834.8" r="5.3"/><circle cx="541.2" cy="832.6" r="5.3"/><circle cx="286.1" cy="825.6" r="5.3"/><circle cx="357.8" cy="818.7" r="5.3"/><circle cx="518.4" cy="1023.7" r="5.3"/><circle cx="273.8" cy="880.8" r="5.3"/><circle cx="362.7" cy="815" r="5.3"/>
<circle cx="488.6" cy="866.4" r="5.3"/><circle cx="415.2" cy="950.4" r="5.3"/><circle cx="457.4" cy="865.9" r="5.3"/><circle cx="500.2" cy="853.3" r="5.3"/><circle cx="329.5" cy="855.4" r="5.3"/><circle cx="326.5" cy="815" r="5.3"/><circle cx="414.6" cy="920.3" r="5.3"/><circle cx="315.4" cy="891.4" r="5.3"/>
<circle cx="272.2" cy="945.9" r="5.3"/><circle cx="483.8" cy="815" r="5.3"/><circle cx="585.8" cy="1040.6" r="5.3"/><circle cx="400.6" cy="869.5" r="5.3"/><circle cx="229" cy="842.5" r="5.3"/><circle cx="189.1" cy="911.1" r="5.3"/><circle cx="462" cy="829.2" r="5.3"/><circle cx="400.7" cy="892.3" r="5.3"/>
<circle cx="307.6" cy="947.9" r="5.3"/><circle cx="319.5" cy="927.1" r="5.3"/><circle cx="327.5" cy="853.3" r="5.3"/><circle cx="271.4" cy="815" r="5.3"/><circle cx="343.3" cy="867.2" r="5.3"/><circle cx="344.7" cy="920.8" r="5.3"/><circle cx="488.1" cy="850.4" r="5.3"/><circle cx="530.9" cy="876.4" r="5.3"/>
<circle cx="529.2" cy="852.9" r="5.3"/><circle cx="291.2" cy="827.9" r="5.3"/><circle cx="404.9" cy="972.1" r="5.3"/><circle cx="285.4" cy="909.3" r="5.3"/><circle cx="524.5" cy="919.8" r="5.3"/><circle cx="332.8" cy="950.6" r="5.3"/><circle cx="550.4" cy="815.9" r="5.3"/><circle cx="476.5" cy="1124.1" r="5.3"/>
<circle cx="463.1" cy="815" r="5.3"/><circle cx="281.2" cy="864.5" r="5.3"/><circle cx="629.6" cy="940.6" r="5.3"/><circle cx="391.1" cy="1002.9" r="5.3"/><circle cx="328.1" cy="842.7" r="5.3"/><circle cx="524.4" cy="831.9" r="5.3"/><circle cx="241.1" cy="850.7" r="5.3"/><circle cx="383.8" cy="885.7" r="5.3"/>
<circle cx="349.1" cy="889.6" r="5.3"/><circle cx="548.2" cy="823.5" r="5.3"/><circle cx="428.6" cy="1006.9" r="5.3"/><circle cx="584.3" cy="998.1" r="5.3"/><circle cx="568" cy="977.9" r="5.3"/><circle cx="312" cy="937.6" r="5.3"/><circle cx="392.7" cy="1076.7" r="5.3"/><circle cx="448.8" cy="986.1" r="5.3"/>
<circle cx="423.7" cy="1171.9" r="5.3"/><circle cx="526.6" cy="994.7" r="5.3"/><circle cx="542.4" cy="867.8" r="5.3"/><circle cx="319.9" cy="815.1" r="5.3"/><circle cx="563.2" cy="846.5" r="5.3"/><circle cx="608.8" cy="974.4" r="5.3"/><circle cx="464.1" cy="830.6" r="5.3"/><circle cx="279.4" cy="852.8" r="5.3"/>
<circle cx="542.5" cy="822.3" r="5.3"/><circle cx="440.5" cy="1058.8" r="5.3"/><circle cx="376.4" cy="875.4" r="5.3"/><circle cx="470.7" cy="836.1" r="5.3"/><circle cx="485.6" cy="1004.2" r="5.3"/><circle cx="330" cy="858.4" r="5.3"/><circle cx="322.8" cy="969.8" r="5.3"/><circle cx="708.1" cy="1036.2" r="5.3"/>
<circle cx="432.3" cy="949.1" r="5.3"/><circle cx="535.1" cy="863.7" r="5.3"/><circle cx="333.5" cy="981.2" r="5.3"/><circle cx="482.2" cy="815" r="5.3"/><circle cx="545.9" cy="1166.6" r="5.3"/><circle cx="614.1" cy="991.5" r="5.3"/><circle cx="594.3" cy="978.4" r="5.3"/><circle cx="233.6" cy="974.4" r="5.3"/>
<circle cx="365" cy="815" r="5.3"/><circle cx="417.4" cy="898.9" r="5.3"/><circle cx="526.8" cy="816.1" r="5.3"/><circle cx="448.7" cy="944.3" r="5.3"/><circle cx="340.3" cy="821.3" r="5.3"/><circle cx="565.8" cy="830.1" r="5.3"/><circle cx="473.8" cy="914.3" r="5.3"/><circle cx="349.7" cy="900" r="5.3"/>
<circle cx="438.3" cy="888.4" r="5.3"/><circle cx="352.6" cy="902.7" r="5.3"/><circle cx="505.1" cy="835" r="5.3"/><circle cx="384.1" cy="925.3" r="5.3"/><circle cx="302" cy="815" r="5.3"/><circle cx="272.8" cy="876.5" r="5.3"/><circle cx="484.8" cy="914.2" r="5.3"/><circle cx="467.5" cy="847.4" r="5.3"/>
<circle cx="326.1" cy="877.7" r="5.3"/><circle cx="471" cy="866.2" r="5.3"/><circle cx="376.2" cy="856.3" r="5.3"/><circle cx="483.6" cy="870.5" r="5.3"/><circle cx="512.3" cy="817.9" r="5.3"/><circle cx="381.6" cy="923.4" r="5.3"/><circle cx="305" cy="850.8" r="5.3"/><circle cx="318.3" cy="879.5" r="5.3"/>
<circle cx="339.1" cy="853.4" r="5.3"/><circle cx="301.9" cy="857.2" r="5.3"/><circle cx="542.2" cy="881.2" r="5.3"/><circle cx="521.6" cy="859.4" r="5.3"/><circle cx="198.1" cy="911.1" r="5.3"/><circle cx="400.2" cy="815" r="5.3"/><circle cx="498.2" cy="821.5" r="5.3"/><circle cx="513.8" cy="1014.4" r="5.3"/>
<circle cx="339.5" cy="815" r="5.3"/><circle cx="388.8" cy="942.3" r="5.3"/><circle cx="422.9" cy="944.2" r="5.3"/><circle cx="600.6" cy="985.7" r="5.3"/><circle cx="483.6" cy="878.2" r="5.3"/><circle cx="351.5" cy="931.6" r="5.3"/><circle cx="478.2" cy="882" r="5.3"/><circle cx="452.5" cy="833" r="5.3"/>
<circle cx="536.1" cy="872.5" r="5.3"/><circle cx="340.2" cy="1042.4" r="5.3"/><circle cx="485.8" cy="820.4" r="5.3"/><circle cx="325.6" cy="897.6" r="5.3"/><circle cx="452.9" cy="881.8" r="5.3"/><circle cx="454.2" cy="876.1" r="5.3"/><circle cx="555.7" cy="815" r="5.3"/><circle cx="370.2" cy="870.1" r="5.3"/>
<circle cx="243.4" cy="836.7" r="5.3"/><circle cx="502.5" cy="979.5" r="5.3"/><circle cx="281.5" cy="932.9" r="5.3"/><circle cx="375.7" cy="815" r="5.3"/><circle cx="423.8" cy="982.6" r="5.3"/><circle cx="549.4" cy="815" r="5.3"/><circle cx="552.9" cy="821.3" r="5.3"/><circle cx="439.1" cy="826.6" r="5.3"/>
<circle cx="465.5" cy="985.3" r="5.3"/><circle cx="484.6" cy="949.4" r="5.3"/><circle cx="556.5" cy="861.5" r="5.3"/><circle cx="519.4" cy="841.6" r="5.3"/><circle cx="308.1" cy="969.6" r="5.3"/><circle cx="509.7" cy="990.6" r="5.3"/><circle cx="499.1" cy="857.4" r="5.3"/><circle cx="406.3" cy="1070.5" r="5.3"/>
<circle cx="305.8" cy="963.5" r="5.3"/><circle cx="513.3" cy="895.5" r="5.3"/><circle cx="322.5" cy="914.5" r="5.3"/><circle cx="467.4" cy="838.4" r="5.3"/><circle cx="378" cy="954.1" r="5.3"/><circle cx="548.8" cy="840.7" r="5.3"/><circle cx="473.3" cy="866.3" r="5.3"/><circle cx="404.3" cy="867.8" r="5.3"/>
<circle cx="426.7" cy="864.3" r="5.3"/><circle cx="378.4" cy="856.7" r="5.3"/><circle cx="353" cy="889.4" r="5.3"/><circle cx="544.1" cy="815.7" r="5.3"/><circle cx="534.5" cy="938.6" r="5.3"/><circle cx="329.2" cy="953" r="5.3"/><circle cx="562.3" cy="850.4" r="5.3"/><circle cx="289.2" cy="819.4" r="5.3"/>
<circle cx="481.3" cy="895.4" r="5.3"/><circle cx="415.7" cy="830.6" r="5.3"/><circle cx="449.3" cy="909.6" r="5.3"/><circle cx="374.6" cy="875.9" r="5.3"/><circle cx="268.4" cy="886" r="5.3"/><circle cx="404" cy="905.8" r="5.3"/><circle cx="273.4" cy="873.7" r="5.3"/><circle cx="606.9" cy="953.5" r="5.3"/>
<circle cx="292.2" cy="887.4" r="5.3"/><circle cx="553.1" cy="815" r="5.3"/><circle cx="504.8" cy="851.8" r="5.3"/><circle cx="344.5" cy="1124.1" r="5.3"/><circle cx="401.9" cy="937.9" r="5.3"/><circle cx="383.6" cy="979.6" r="5.3"/><circle cx="425.6" cy="944.7" r="5.3"/><circle cx="375.1" cy="974.5" r="5.3"/>
<circle cx="198.9" cy="861.4" r="5.3"/><circle cx="327.3" cy="918.6" r="5.3"/><circle cx="447.9" cy="910.9" r="5.3"/><circle cx="468.2" cy="892.1" r="5.3"/><circle cx="580.2" cy="908.3" r="5.3"/><circle cx="545.2" cy="888.3" r="5.3"/><circle cx="485.1" cy="1016.4" r="5.3"/><circle cx="430.1" cy="862.4" r="5.3"/>
<circle cx="271.4" cy="898.2" r="5.3"/><circle cx="484.6" cy="831.7" r="5.3"/><circle cx="487.3" cy="881.1" r="5.3"/><circle cx="558.2" cy="1014.6" r="5.3"/><circle cx="496.2" cy="815" r="5.3"/><circle cx="479.8" cy="815" r="5.3"/><circle cx="498.3" cy="848.2" r="5.3"/><circle cx="504.6" cy="1012.7" r="5.3"/>
<circle cx="399.7" cy="894.2" r="5.3"/><circle cx="443.1" cy="879.1" r="5.3"/><circle cx="516.9" cy="938.3" r="5.3"/><circle cx="560.5" cy="941.7" r="5.3"/><circle cx="566.8" cy="1036.3" r="5.3"/><circle cx="264.6" cy="980.2" r="5.3"/><circle cx="560.9" cy="822.5" r="5.3"/><circle cx="512.1" cy="844.5" r="5.3"/>
<circle cx="594.9" cy="1107.6" r="5.3"/><circle cx="303.5" cy="948.6" r="5.3"/><circle cx="610.5" cy="980.6" r="5.3"/><circle cx="369.4" cy="821.6" r="5.3"/><circle cx="337.7" cy="957.9" r="5.3"/><circle cx="548.8" cy="859.3" r="5.3"/><circle cx="449.5" cy="885.2" r="5.3"/><circle cx="512.7" cy="815" r="5.3"/>
<circle cx="281.4" cy="871.3" r="5.3"/><circle cx="438.5" cy="917.8" r="5.3"/><circle cx="593.5" cy="991.6" r="5.3"/><circle cx="400.1" cy="833.2" r="5.3"/><circle cx="360.7" cy="889.2" r="5.3"/><circle cx="546.6" cy="1278.1" r="5.3"/><circle cx="345.7" cy="827.9" r="5.3"/><circle cx="277.8" cy="989.7" r="5.3"/>
<circle cx="508.6" cy="815" r="5.3"/><circle cx="373.3" cy="815" r="5.3"/><circle cx="430.7" cy="815" r="5.3"/><circle cx="607.2" cy="999.8" r="5.3"/><circle cx="509.2" cy="815" r="5.3"/><circle cx="281.9" cy="837.6" r="5.3"/><circle cx="501.7" cy="859.8" r="5.3"/><circle cx="322.5" cy="946.3" r="5.3"/>
<circle cx="360.6" cy="815" r="5.3"/><circle cx="467.7" cy="848.8" r="5.3"/><circle cx="582.1" cy="1040.2" r="5.3"/><circle cx="624.8" cy="966.5" r="5.3"/><circle cx="266.1" cy="829.9" r="5.3"/><circle cx="610" cy="1078.2" r="5.3"/><circle cx="376.6" cy="873.5" r="5.3"/><circle cx="519.1" cy="815" r="5.3"/>
<circle cx="511.7" cy="999.6" r="5.3"/><circle cx="525.1" cy="815" r="5.3"/><circle cx="421" cy="914.8" r="5.3"/><circle cx="291.8" cy="909.8" r="5.3"/><circle cx="300.7" cy="973.9" r="5.3"/><circle cx="520.4" cy="947.1" r="5.3"/><circle cx="325.9" cy="815" r="5.3"/><circle cx="437" cy="998.6" r="5.3"/>
<circle cx="528.1" cy="1043" r="5.3"/><circle cx="445.4" cy="837.3" r="5.3"/><circle cx="548.3" cy="891.8" r="5.3"/><circle cx="447.1" cy="833.3" r="5.3"/><circle cx="542.3" cy="832.5" r="5.3"/><circle cx="290.1" cy="908.1" r="5.3"/><circle cx="500.1" cy="1016.4" r="5.3"/><circle cx="465.5" cy="857.4" r="5.3"/>
<circle cx="471.5" cy="821.6" r="5.3"/><circle cx="372.6" cy="958.3" r="5.3"/><circle cx="487.4" cy="815" r="5.3"/><circle cx="525.8" cy="854.4" r="5.3"/><circle cx="420.2" cy="970.6" r="5.3"/><circle cx="268.3" cy="909.2" r="5.3"/><circle cx="592" cy="931" r="5.3"/><circle cx="500" cy="879.7" r="5.3"/>
<circle cx="386.4" cy="823.4" r="5.3"/><circle cx="471.2" cy="862.1" r="5.3"/><circle cx="350.3" cy="1037.6" r="5.3"/><circle cx="290.8" cy="827.7" r="5.3"/><circle cx="403.8" cy="850.7" r="5.3"/><circle cx="512" cy="821.3" r="5.3"/><circle cx="339.1" cy="969.8" r="5.3"/><circle cx="546.7" cy="961.7" r="5.3"/>
<circle cx="371" cy="979.8" r="5.3"/><circle cx="258.5" cy="863.3" r="5.3"/><circle cx="524.6" cy="1000.6" r="5.3"/><circle cx="640.3" cy="935.5" r="5.3"/><circle cx="524.9" cy="815" r="5.3"/><circle cx="558.6" cy="866.4" r="5.3"/><circle cx="511.1" cy="817.8" r="5.3"/><circle cx="650.7" cy="1056.5" r="5.3"/>
<circle cx="507.4" cy="968.5" r="5.3"/><circle cx="609.4" cy="925.7" r="5.3"/><circle cx="443.9" cy="815" r="5.3"/><circle cx="447.7" cy="1024.4" r="5.3"/><circle cx="423.7" cy="1102.3" r="5.3"/><circle cx="376.4" cy="932.9" r="5.3"/><circle cx="628.9" cy="952.1" r="5.3"/><circle cx="263.7" cy="983.5" r="5.3"/>
<circle cx="481.7" cy="933.1" r="5.3"/><circle cx="435.3" cy="840.4" r="5.3"/><circle cx="440.8" cy="889.5" r="5.3"/><circle cx="348" cy="858.5" r="5.3"/><circle cx="417.4" cy="1018.6" r="5.3"/><circle cx="488.9" cy="815" r="5.3"/><circle cx="274.9" cy="844.8" r="5.3"/><circle cx="336.3" cy="949.7" r="5.3"/>
<circle cx="188.3" cy="951.2" r="5.3"/><circle cx="443.7" cy="833.7" r="5.3"/><circle cx="537.7" cy="844.8" r="5.3"/><circle cx="614" cy="957.5" r="5.3"/><circle cx="323.5" cy="815" r="5.3"/><circle cx="381.4" cy="1076.7" r="5.3"/><circle cx="195.8" cy="886" r="5.3"/><circle cx="527.3" cy="828.5" r="5.3"/>
<circle cx="269.6" cy="858.5" r="5.3"/><circle cx="351" cy="869.1" r="5.3"/><circle cx="328.9" cy="884.8" r="5.3"/><circle cx="336.5" cy="941.1" r="5.3"/><circle cx="220.7" cy="954.6" r="5.3"/><circle cx="528.5" cy="946.8" r="5.3"/><circle cx="418.2" cy="878" r="5.3"/><circle cx="338.9" cy="963.5" r="5.3"/>
<circle cx="559.8" cy="987.1" r="5.3"/><circle cx="524.7" cy="838.7" r="5.3"/><circle cx="555.9" cy="851" r="5.3"/><circle cx="505.9" cy="837.6" r="5.3"/><circle cx="426.1" cy="831.2" r="5.3"/><circle cx="207.2" cy="868.1" r="5.3"/><circle cx="598.6" cy="962.1" r="5.3"/><circle cx="499.3" cy="966.9" r="5.3"/>
<circle cx="201.9" cy="879.7" r="5.3"/><circle cx="408.9" cy="831.4" r="5.3"/><circle cx="588" cy="956.8" r="5.3"/><circle cx="356.3" cy="888.1" r="5.3"/><circle cx="508.3" cy="850.5" r="5.3"/><circle cx="308.8" cy="815" r="5.3"/><circle cx="596.3" cy="968" r="5.3"/><circle cx="600.8" cy="925" r="5.3"/>
<circle cx="281.1" cy="973.7" r="5.3"/><circle cx="377.3" cy="952.4" r="5.3"/><circle cx="396.6" cy="935.5" r="5.3"/><circle cx="452.6" cy="850.3" r="5.3"/><circle cx="438.9" cy="921.6" r="5.3"/><circle cx="328.8" cy="991.9" r="5.3"/><circle cx="314.7" cy="910.6" r="5.3"/><circle cx="433" cy="858.6" r="5.3"/>
<circle cx="631.1" cy="930.9" r="5.3"/><circle cx="502.2" cy="838.7" r="5.3"/><circle cx="465.9" cy="941.6" r="5.3"/><circle cx="480.9" cy="897.3" r="5.3"/><circle cx="409" cy="862.4" r="5.3"/><circle cx="375.2" cy="914.7" r="5.3"/><circle cx="503.8" cy="820.2" r="5.3"/><circle cx="503.5" cy="815" r="5.3"/>
<circle cx="504.4" cy="876.1" r="5.3"/><circle cx="348" cy="875.4" r="5.3"/><circle cx="420.5" cy="974.4" r="5.3"/><circle cx="447.6" cy="904" r="5.3"/><circle cx="263.7" cy="934.8" r="5.3"/><circle cx="582" cy="1003.6" r="5.3"/><circle cx="550.4" cy="887.3" r="5.3"/><circle cx="428.1" cy="881.2" r="5.3"/>
<circle cx="501.8" cy="891.2" r="5.3"/><circle cx="282.6" cy="843.3" r="5.3"/><circle cx="266.3" cy="815" r="5.3"/><circle cx="537.3" cy="832.5" r="5.3"/><circle cx="493.3" cy="883.6" r="5.3"/><circle cx="395.4" cy="860.5" r="5.3"/><circle cx="348.1" cy="919.4" r="5.3"/><circle cx="513.4" cy="815" r="5.3"/>
<circle cx="314.3" cy="831" r="5.3"/><circle cx="373" cy="926.6" r="5.3"/><circle cx="567.5" cy="895.7" r="5.3"/><circle cx="296.8" cy="815" r="5.3"/><circle cx="314.5" cy="890.5" r="5.3"/><circle cx="368.4" cy="962.5" r="5.3"/><circle cx="393.3" cy="827.9" r="5.3"/><circle cx="389.4" cy="839.9" r="5.3"/>
<circle cx="535.8" cy="833.2" r="5.3"/><circle cx="665.8" cy="961.8" r="5.3"/><circle cx="330.8" cy="841.6" r="5.3"/><circle cx="460.6" cy="999.2" r="5.3"/><circle cx="540.4" cy="817.7" r="5.3"/><circle cx="524.6" cy="866.2" r="5.3"/><circle cx="329.1" cy="823.1" r="5.3"/><circle cx="524.4" cy="816.5" r="5.3"/>
<circle cx="335" cy="850.1" r="5.3"/><circle cx="429.5" cy="886.3" r="5.3"/><circle cx="527.3" cy="881.3" r="5.3"/><circle cx="499.9" cy="1143.4" r="5.3"/><circle cx="484.4" cy="875" r="5.3"/><circle cx="203.4" cy="872.9" r="5.3"/><circle cx="295.5" cy="815" r="5.3"/><circle cx="432.2" cy="959.9" r="5.3"/>
<circle cx="551.7" cy="958.8" r="5.3"/><circle cx="617.6" cy="936.8" r="5.3"/><circle cx="413.3" cy="815" r="5.3"/><circle cx="407.5" cy="1030.7" r="5.3"/><circle cx="520.2" cy="1075.3" r="5.3"/><circle cx="499.5" cy="834.3" r="5.3"/><circle cx="573.6" cy="955.9" r="5.3"/><circle cx="202.6" cy="979.2" r="5.3"/>
<circle cx="545.6" cy="815" r="5.3"/><circle cx="267.1" cy="869.4" r="5.3"/><circle cx="468.9" cy="831" r="5.3"/><circle cx="482.8" cy="948.2" r="5.3"/><circle cx="294.7" cy="815" r="5.3"/><circle cx="575.9" cy="919" r="5.3"/><circle cx="278" cy="975.6" r="5.3"/><circle cx="390.7" cy="875.9" r="5.3"/>
<circle cx="283.1" cy="844.8" r="5.3"/><circle cx="527.5" cy="928.5" r="5.3"/><circle cx="397" cy="835" r="5.3"/><circle cx="273" cy="931.4" r="5.3"/><circle cx="608.6" cy="988.2" r="5.3"/><circle cx="590.1" cy="963.8" r="5.3"/><circle cx="404.7" cy="962.7" r="5.3"/><circle cx="335.5" cy="840.5" r="5.3"/>
<circle cx="355.9" cy="815" r="5.3"/><circle cx="555.3" cy="815" r="5.3"/><circle cx="559" cy="872.4" r="5.3"/><circle cx="492.5" cy="981.9" r="5.3"/><circle cx="298.6" cy="872.7" r="5.3"/><circle cx="503.1" cy="976.5" r="5.3"/><circle cx="443.8" cy="815" r="5.3"/><circle cx="631.9" cy="1181.5" r="5.3"/>
<circle cx="703.6" cy="995.1" r="5.3"/><circle cx="470.7" cy="815" r="5.3"/><circle cx="364" cy="870.1" r="5.3"/><circle cx="429.1" cy="882.4" r="5.3"/><circle cx="304.1" cy="852.5" r="5.3"/><circle cx="399.6" cy="853.1" r="5.3"/><circle cx="396.7" cy="845.4" r="5.3"/><circle cx="381" cy="897.7" r="5.3"/>
<circle cx="549.9" cy="884.8" r="5.3"/><circle cx="414.6" cy="857.7" r="5.3"/><circle cx="432.2" cy="853.6" r="5.3"/><circle cx="555.7" cy="1029.6" r="5.3"/><circle cx="492.8" cy="849.1" r="5.3"/><circle cx="371" cy="836" r="5.3"/><circle cx="312.1" cy="974.7" r="5.3"/><circle cx="536.6" cy="945.8" r="5.3"/>
<circle cx="553.9" cy="888" r="5.3"/><circle cx="392.5" cy="888" r="5.3"/><circle cx="391.4" cy="862.9" r="5.3"/><circle cx="557.9" cy="993.9" r="5.3"/><circle cx="208.7" cy="897.1" r="5.3"/><circle cx="440.1" cy="827.3" r="5.3"/><circle cx="468.7" cy="925.3" r="5.3"/><circle cx="300.5" cy="815" r="5.3"/>
<circle cx="571.3" cy="943.8" r="5.3"/><circle cx="507.3" cy="826.8" r="5.3"/><circle cx="326.4" cy="864.6" r="5.3"/><circle cx="328.9" cy="815" r="5.3"/><circle cx="280.7" cy="815" r="5.3"/><circle cx="597.7" cy="936.6" r="5.3"/><circle cx="494" cy="852.4" r="5.3"/><circle cx="274.3" cy="875.2" r="5.3"/>
<circle cx="575.9" cy="979.6" r="5.3"/><circle cx="333.1" cy="873.9" r="5.3"/><circle cx="493.5" cy="904.9" r="5.3"/><circle cx="419.8" cy="1027.1" r="5.3"/><circle cx="485.3" cy="935.9" r="5.3"/><circle cx="426.2" cy="856.1" r="5.3"/><circle cx="391.2" cy="864.5" r="5.3"/><circle cx="467" cy="823.8" r="5.3"/>
<circle cx="276.5" cy="839.4" r="5.3"/><circle cx="464.7" cy="889.3" r="5.3"/><circle cx="505" cy="815" r="5.3"/><circle cx="469.9" cy="829.2" r="5.3"/><circle cx="462.3" cy="831.6" r="5.3"/><circle cx="569.4" cy="952.7" r="5.3"/><circle cx="511.4" cy="879.2" r="5.3"/><circle cx="422.4" cy="815" r="5.3"/>
<circle cx="423.3" cy="825.5" r="5.3"/><circle cx="518.5" cy="828" r="5.3"/><circle cx="257.7" cy="815" r="5.3"/><circle cx="286.6" cy="830.4" r="5.3"/><circle cx="566.8" cy="990.4" r="5.3"/><circle cx="342" cy="924.1" r="5.3"/><circle cx="609" cy="897.4" r="5.3"/><circle cx="559.4" cy="1053" r="5.3"/>
<circle cx="610.6" cy="939" r="5.3"/><circle cx="283" cy="815" r="5.3"/><circle cx="372.5" cy="894.1" r="5.3"/><circle cx="257.7" cy="837.7" r="5.3"/><circle cx="306.7" cy="837.2" r="5.3"/><circle cx="435" cy="939.7" r="5.3"/><circle cx="490.1" cy="1104.7" r="5.3"/><circle cx="296.3" cy="855.7" r="5.3"/>
<circle cx="607.7" cy="1026.6" r="5.3"/><circle cx="556.1" cy="952.3" r="5.3"/><circle cx="263.8" cy="815" r="5.3"/><circle cx="451.5" cy="879.5" r="5.3"/><circle cx="335.9" cy="925.5" r="5.3"/><circle cx="507.9" cy="815" r="5.3"/><circle cx="535.2" cy="987.6" r="5.3"/><circle cx="356.6" cy="841.2" r="5.3"/>
<circle cx="545.8" cy="883.6" r="5.3"/><circle cx="289.7" cy="820.6" r="5.3"/><circle cx="493.9" cy="952.1" r="5.3"/><circle cx="368.2" cy="948.6" r="5.3"/><circle cx="299.1" cy="844.3" r="5.3"/><circle cx="543.6" cy="1024.1" r="5.3"/><circle cx="201.9" cy="865.2" r="5.3"/><circle cx="352.5" cy="876" r="5.3"/>
<circle cx="451.4" cy="815" r="5.3"/><circle cx="362.9" cy="896.8" r="5.3"/><circle cx="419.1" cy="888.9" r="5.3"/><circle cx="437.6" cy="839.3" r="5.3"/><circle cx="506.6" cy="864.5" r="5.3"/><circle cx="550.4" cy="889.2" r="5.3"/><circle cx="329.8" cy="924.9" r="5.3"/><circle cx="454.9" cy="835.6" r="5.3"/>
<circle cx="242.6" cy="839.6" r="5.3"/><circle cx="421.4" cy="1089.8" r="5.3"/>
</g>
<path d="M263.7 828.5 Q452.3 903.2 640.9 952.6 L640.9 976.8 Q452.3 895.8 263.7 840.1 Z" fill="#e0426e" fill-opacity=".11" stroke="none"/>
<g fill="#fb8861" stroke="#ef7a5c">
<circle cx="412.4" cy="1138.5" r="5.3"/><circle cx="551.2" cy="1137.1" r="5.3"/><circle cx="514.5" cy="1035.6" r="5.3"/><circle cx="414.3" cy="977.4" r="5.3"/><circle cx="340.5" cy="973.1" r="5.3"/><circle cx="269.7" cy="866.7" r="5.3"/><circle cx="609.5" cy="1045.7" r="5.3"/><circle cx="594.2" cy="1015.1" r="5.3"/>
<circle cx="565.5" cy="984.7" r="5.3"/><circle cx="537.6" cy="1102.3" r="5.3"/><circle cx="570.5" cy="1006.7" r="5.3"/><circle cx="633.4" cy="1211.9" r="5.3"/><circle cx="424.4" cy="1027.3" r="5.3"/><circle cx="495.3" cy="1171.9" r="5.3"/><circle cx="358" cy="1095.6" r="5.3"/><circle cx="511.9" cy="1181" r="5.3"/>
<circle cx="289.4" cy="905.9" r="5.3"/><circle cx="354.4" cy="892.6" r="5.3"/><circle cx="618.3" cy="1260.2" r="5.3"/><circle cx="561" cy="1004.6" r="5.3"/><circle cx="357.4" cy="957.5" r="5.3"/><circle cx="321.9" cy="901" r="5.3"/><circle cx="386.7" cy="1177.7" r="5.3"/><circle cx="488.3" cy="1070.6" r="5.3"/>
<circle cx="604.7" cy="1084.9" r="5.3"/><circle cx="449.7" cy="1018.6" r="5.3"/><circle cx="537.9" cy="974.7" r="5.3"/><circle cx="381.5" cy="880.4" r="5.3"/><circle cx="392.4" cy="979" r="5.3"/><circle cx="597.9" cy="1062.2" r="5.3"/><circle cx="419.2" cy="1064.8" r="5.3"/><circle cx="550.4" cy="1297.9" r="5.3"/>
<circle cx="536.1" cy="1004.9" r="5.3"/><circle cx="462.1" cy="1201.3" r="5.3"/><circle cx="526.3" cy="1250.1" r="5.3"/><circle cx="332" cy="888.5" r="5.3"/><circle cx="610.2" cy="1062.7" r="5.3"/><circle cx="470.6" cy="980.6" r="5.3"/><circle cx="560.2" cy="1233.7" r="5.3"/><circle cx="564.9" cy="1024.9" r="5.3"/>
<circle cx="316.1" cy="922.4" r="5.3"/><circle cx="417.7" cy="968.2" r="5.3"/><circle cx="699" cy="1042.4" r="5.3"/><circle cx="472.6" cy="954.8" r="5.3"/><circle cx="374.7" cy="928.6" r="5.3"/><circle cx="473.9" cy="1043.3" r="5.3"/><circle cx="564.9" cy="967.8" r="5.3"/><circle cx="581.2" cy="1051.7" r="5.3"/>
<circle cx="428.2" cy="934.9" r="5.3"/><circle cx="417.7" cy="940.6" r="5.3"/><circle cx="489.8" cy="1012.4" r="5.3"/><circle cx="379.3" cy="933.6" r="5.3"/><circle cx="406.4" cy="851.5" r="5.3"/><circle cx="333.6" cy="947.2" r="5.3"/><circle cx="500" cy="1003.2" r="5.3"/><circle cx="624.3" cy="1048.4" r="5.3"/>
<circle cx="549.7" cy="1181" r="5.3"/><circle cx="314.6" cy="852.5" r="5.3"/><circle cx="449.9" cy="990.3" r="5.3"/><circle cx="596.2" cy="1029" r="5.3"/><circle cx="714.1" cy="1195" r="5.3"/><circle cx="603.3" cy="961.3" r="5.3"/><circle cx="299.1" cy="907.5" r="5.3"/><circle cx="577.2" cy="1009.1" r="5.3"/>
<circle cx="525.3" cy="1003.7" r="5.3"/><circle cx="440.1" cy="1006" r="5.3"/><circle cx="488.5" cy="1026.9" r="5.3"/><circle cx="460" cy="997.5" r="5.3"/><circle cx="493.4" cy="906.9" r="5.3"/><circle cx="226.8" cy="851.7" r="5.3"/><circle cx="473.2" cy="1020.1" r="5.3"/><circle cx="446.7" cy="1010.3" r="5.3"/>
<circle cx="386.7" cy="892.1" r="5.3"/><circle cx="534.2" cy="1055.9" r="5.3"/><circle cx="407.6" cy="1050.4" r="5.3"/><circle cx="349" cy="1034.8" r="5.3"/><circle cx="324.9" cy="865.1" r="5.3"/><circle cx="527.8" cy="1060.5" r="5.3"/><circle cx="584.4" cy="1289.2" r="5.3"/><circle cx="532.3" cy="1026.7" r="5.3"/>
<circle cx="438" cy="914.1" r="5.3"/><circle cx="489.3" cy="1111" r="5.3"/><circle cx="454.2" cy="1021.9" r="5.3"/><circle cx="440.2" cy="931.3" r="5.3"/><circle cx="436" cy="927.8" r="5.3"/><circle cx="311.1" cy="937.2" r="5.3"/><circle cx="475" cy="1045.7" r="5.3"/><circle cx="385.8" cy="992.8" r="5.3"/>
<circle cx="499.9" cy="1135.2" r="5.3"/><circle cx="347.5" cy="1143.4" r="5.3"/><circle cx="420.5" cy="1001.8" r="5.3"/><circle cx="407.3" cy="996.9" r="5.3"/><circle cx="558" cy="1198.4" r="5.3"/><circle cx="278.3" cy="902.4" r="5.3"/><circle cx="298.1" cy="908.2" r="5.3"/><circle cx="305.6" cy="841.1" r="5.3"/>
<circle cx="552.7" cy="1081.6" r="5.3"/><circle cx="436.6" cy="954.6" r="5.3"/><circle cx="432.8" cy="894.5" r="5.3"/><circle cx="275.6" cy="925.8" r="5.3"/><circle cx="345.1" cy="927.4" r="5.3"/><circle cx="380.9" cy="992.5" r="5.3"/><circle cx="429.7" cy="1182" r="5.3"/><circle cx="426.5" cy="1025.7" r="5.3"/>
<circle cx="367.2" cy="941.4" r="5.3"/><circle cx="541.6" cy="1016.2" r="5.3"/><circle cx="331.1" cy="921.4" r="5.3"/><circle cx="580.9" cy="1005.8" r="5.3"/><circle cx="296.7" cy="926.8" r="5.3"/><circle cx="380.9" cy="917.8" r="5.3"/><circle cx="316.7" cy="946.2" r="5.3"/><circle cx="548.6" cy="1005" r="5.3"/>
<circle cx="358.9" cy="961.4" r="5.3"/><circle cx="425.2" cy="914.3" r="5.3"/><circle cx="541.5" cy="989.6" r="5.3"/><circle cx="471.2" cy="1178.6" r="5.3"/><circle cx="308.1" cy="867.3" r="5.3"/><circle cx="486.4" cy="943.6" r="5.3"/><circle cx="429.9" cy="958.3" r="5.3"/><circle cx="549.6" cy="1008.5" r="5.3"/>
<circle cx="338.4" cy="983.6" r="5.3"/><circle cx="434.7" cy="910.3" r="5.3"/><circle cx="319.6" cy="833.8" r="5.3"/><circle cx="263.7" cy="930.9" r="5.3"/><circle cx="492.2" cy="1056.9" r="5.3"/><circle cx="451.7" cy="1060" r="5.3"/><circle cx="636.7" cy="983.6" r="5.3"/><circle cx="624.3" cy="1088.3" r="5.3"/>
<circle cx="416.6" cy="916.5" r="5.3"/><circle cx="579.1" cy="989.8" r="5.3"/><circle cx="562.4" cy="987.8" r="5.3"/><circle cx="611" cy="1049.2" r="5.3"/><circle cx="331.3" cy="942" r="5.3"/><circle cx="444" cy="950.8" r="5.3"/><circle cx="492.6" cy="969.5" r="5.3"/><circle cx="612.3" cy="1227.4" r="5.3"/>
<circle cx="437.1" cy="985.7" r="5.3"/><circle cx="539.1" cy="1157.4" r="5.3"/><circle cx="475.2" cy="1020.5" r="5.3"/><circle cx="514.9" cy="1030.9" r="5.3"/><circle cx="481.3" cy="1036.7" r="5.3"/><circle cx="532.3" cy="1088.3" r="5.3"/><circle cx="501.8" cy="1007.5" r="5.3"/><circle cx="517" cy="1031.7" r="5.3"/>
<circle cx="482.3" cy="1007.7" r="5.3"/><circle cx="591.3" cy="1001" r="5.3"/><circle cx="339.6" cy="960.9" r="5.3"/><circle cx="340.9" cy="974.3" r="5.3"/><circle cx="538.1" cy="1026.4" r="5.3"/><circle cx="425.9" cy="1152.5" r="5.3"/><circle cx="455.8" cy="964.9" r="5.3"/><circle cx="396.6" cy="983.4" r="5.3"/>
<circle cx="255.4" cy="902.4" r="5.3"/><circle cx="497.2" cy="959.9" r="5.3"/><circle cx="514.5" cy="984.8" r="5.3"/><circle cx="437.6" cy="978.9" r="5.3"/><circle cx="365.4" cy="942.2" r="5.3"/><circle cx="627.5" cy="1009.1" r="5.3"/><circle cx="585.1" cy="1008.5" r="5.3"/><circle cx="352.5" cy="983" r="5.3"/>
<circle cx="306.2" cy="869" r="5.3"/><circle cx="307.2" cy="826.3" r="5.3"/><circle cx="625.4" cy="1020.3" r="5.3"/><circle cx="559.4" cy="994.4" r="5.3"/><circle cx="409.3" cy="1095.6" r="5.3"/><circle cx="602.8" cy="1028.1" r="5.3"/><circle cx="583.6" cy="911.6" r="5.3"/><circle cx="510.6" cy="1032.3" r="5.3"/>
<circle cx="285.3" cy="879.2" r="5.3"/><circle cx="192.1" cy="1056.5" r="5.3"/><circle cx="554.7" cy="1008.2" r="5.3"/><circle cx="310.2" cy="933.2" r="5.3"/><circle cx="294.5" cy="948.1" r="5.3"/><circle cx="266.1" cy="897.4" r="5.3"/><circle cx="385.5" cy="958.3" r="5.3"/><circle cx="516.7" cy="973.6" r="5.3"/>
<circle cx="532.2" cy="1051.4" r="5.3"/><circle cx="497.9" cy="1004.4" r="5.3"/><circle cx="551.9" cy="1152.5" r="5.3"/><circle cx="403.9" cy="999.3" r="5.3"/><circle cx="529.1" cy="1009.9" r="5.3"/><circle cx="589.6" cy="930.9" r="5.3"/><circle cx="539.9" cy="1143.4" r="5.3"/><circle cx="453.3" cy="988.9" r="5.3"/>
<circle cx="333.8" cy="866.9" r="5.3"/><circle cx="456.8" cy="890.8" r="5.3"/><circle cx="529.1" cy="991" r="5.3"/><circle cx="305.5" cy="936.9" r="5.3"/><circle cx="450.1" cy="1088.3" r="5.3"/><circle cx="359.8" cy="967.3" r="5.3"/><circle cx="326.7" cy="976.8" r="5.3"/><circle cx="411.1" cy="974.7" r="5.3"/>
<circle cx="268" cy="942.9" r="5.3"/><circle cx="358.7" cy="956.7" r="5.3"/><circle cx="353.7" cy="947" r="5.3"/><circle cx="572.4" cy="1031.5" r="5.3"/><circle cx="331.1" cy="860.4" r="5.3"/><circle cx="468.9" cy="1201.3" r="5.3"/><circle cx="526.3" cy="1126.5" r="5.3"/><circle cx="640.1" cy="1029.8" r="5.3"/>
<circle cx="473.3" cy="919.6" r="5.3"/><circle cx="340.6" cy="915.7" r="5.3"/><circle cx="570.5" cy="1015.5" r="5.3"/><circle cx="376.5" cy="902" r="5.3"/><circle cx="384.9" cy="959.4" r="5.3"/><circle cx="532.3" cy="1115.8" r="5.3"/><circle cx="395.5" cy="915.8" r="5.3"/><circle cx="515" cy="1091.2" r="5.3"/>
<circle cx="315" cy="896.3" r="5.3"/><circle cx="429" cy="975.1" r="5.3"/><circle cx="485.3" cy="1051.4" r="5.3"/><circle cx="372.9" cy="919.6" r="5.3"/><circle cx="639.4" cy="1071.9" r="5.3"/><circle cx="326.4" cy="894.2" r="5.3"/><circle cx="596.1" cy="1046.9" r="5.3"/><circle cx="307.7" cy="953.4" r="5.3"/>
<circle cx="447.4" cy="1041" r="5.3"/><circle cx="420.7" cy="964.6" r="5.3"/><circle cx="553.7" cy="1047.8" r="5.3"/><circle cx="587.1" cy="1062.3" r="5.3"/><circle cx="475.2" cy="1032.3" r="5.3"/><circle cx="334.6" cy="863.7" r="5.3"/><circle cx="591" cy="1023.5" r="5.3"/><circle cx="465.1" cy="991" r="5.3"/>
<circle cx="542.9" cy="968.6" r="5.3"/><circle cx="324.9" cy="916.1" r="5.3"/><circle cx="487" cy="986.2" r="5.3"/><circle cx="610.6" cy="987.6" r="5.3"/><circle cx="355.2" cy="884.6" r="5.3"/><circle cx="484" cy="1070.5" r="5.3"/><circle cx="356" cy="950.5" r="5.3"/><circle cx="426.3" cy="965.3" r="5.3"/>
<circle cx="345.4" cy="894" r="5.3"/><circle cx="486.3" cy="990" r="5.3"/><circle cx="332" cy="913.6" r="5.3"/><circle cx="356.6" cy="918.4" r="5.3"/><circle cx="493.8" cy="939.3" r="5.3"/>
</g>
<path d="M263.7 844 Q452.3 989.8 640.9 1075.8 L640.9 1133.7 Q452.3 968.6 263.7 863.3 Z" fill="#fb8861" fill-opacity=".11" stroke="none"/>
<g fill="#fed395" stroke="#f7c582">
<circle cx="367.7" cy="867" r="5.3"/><circle cx="535.3" cy="943.2" r="5.3"/><circle cx="633.7" cy="996.8" r="5.3"/><circle cx="522.1" cy="1006" r="5.3"/><circle cx="473.5" cy="856.8" r="5.3"/><circle cx="431.9" cy="1049.3" r="5.3"/><circle cx="616.8" cy="868.1" r="5.3"/><circle cx="489.3" cy="1056.5" r="5.3"/>
<circle cx="426" cy="881.5" r="5.3"/><circle cx="543" cy="1053.6" r="5.3"/><circle cx="410.3" cy="837.6" r="5.3"/><circle cx="456.7" cy="832" r="5.3"/><circle cx="406.5" cy="815" r="5.3"/><circle cx="556.8" cy="901.8" r="5.3"/><circle cx="370.3" cy="963" r="5.3"/><circle cx="541.4" cy="1117.3" r="5.3"/>
<circle cx="458.4" cy="875.1" r="5.3"/><circle cx="426.9" cy="826.5" r="5.3"/><circle cx="346.6" cy="952.4" r="5.3"/><circle cx="555.3" cy="819.1" r="5.3"/><circle cx="324.4" cy="866.6" r="5.3"/><circle cx="547" cy="905" r="5.3"/><circle cx="388.6" cy="1038.8" r="5.3"/><circle cx="275.2" cy="839.7" r="5.3"/>
<circle cx="320.8" cy="967.8" r="5.3"/><circle cx="403" cy="866.2" r="5.3"/><circle cx="321" cy="944" r="5.3"/><circle cx="284.4" cy="861.6" r="5.3"/><circle cx="406" cy="981.7" r="5.3"/><circle cx="455.8" cy="916.9" r="5.3"/><circle cx="410.4" cy="987.7" r="5.3"/><circle cx="404.6" cy="849.9" r="5.3"/>
<circle cx="288.8" cy="913.5" r="5.3"/><circle cx="280.4" cy="829.3" r="5.3"/><circle cx="333.3" cy="851.8" r="5.3"/><circle cx="447.8" cy="884.6" r="5.3"/><circle cx="376.4" cy="879.1" r="5.3"/><circle cx="372.3" cy="856.7" r="5.3"/><circle cx="391.6" cy="837.7" r="5.3"/><circle cx="298.6" cy="838" r="5.3"/>
<circle cx="418.5" cy="930" r="5.3"/><circle cx="511.1" cy="933.3" r="5.3"/><circle cx="344.4" cy="892.2" r="5.3"/><circle cx="415.4" cy="871.7" r="5.3"/><circle cx="493.9" cy="891.2" r="5.3"/><circle cx="618.1" cy="1008.2" r="5.3"/><circle cx="592.9" cy="1054.9" r="5.3"/><circle cx="471.9" cy="887" r="5.3"/>
<circle cx="353.4" cy="846.5" r="5.3"/><circle cx="420" cy="845.6" r="5.3"/><circle cx="512.6" cy="910.7" r="5.3"/><circle cx="309.3" cy="936.1" r="5.3"/><circle cx="328.8" cy="879.7" r="5.3"/><circle cx="293.4" cy="939.5" r="5.3"/><circle cx="400.6" cy="918.6" r="5.3"/><circle cx="517" cy="862.9" r="5.3"/>
<circle cx="466.6" cy="842" r="5.3"/><circle cx="491" cy="838.4" r="5.3"/><circle cx="461" cy="887.1" r="5.3"/><circle cx="558.1" cy="963" r="5.3"/><circle cx="272.4" cy="847.6" r="5.3"/><circle cx="321.7" cy="930.7" r="5.3"/><circle cx="374" cy="949.6" r="5.3"/><circle cx="344.2" cy="884.9" r="5.3"/>
<circle cx="406.3" cy="917.8" r="5.3"/><circle cx="290" cy="855" r="5.3"/><circle cx="396.3" cy="920.9" r="5.3"/><circle cx="382" cy="973" r="5.3"/><circle cx="301.8" cy="822.7" r="5.3"/><circle cx="385.2" cy="877.1" r="5.3"/><circle cx="370.8" cy="856.5" r="5.3"/><circle cx="487.3" cy="978.5" r="5.3"/>
<circle cx="361.5" cy="840.6" r="5.3"/><circle cx="345.8" cy="874.5" r="5.3"/><circle cx="549.8" cy="958.7" r="5.3"/><circle cx="496" cy="847.2" r="5.3"/><circle cx="443.1" cy="954.3" r="5.3"/><circle cx="302.8" cy="880.4" r="5.3"/><circle cx="594.9" cy="1168.5" r="5.3"/><circle cx="440.8" cy="858.5" r="5.3"/>
<circle cx="412" cy="1038.8" r="5.3"/><circle cx="495.3" cy="1163.2" r="5.3"/><circle cx="327.3" cy="817.8" r="5.3"/><circle cx="471.3" cy="1005.5" r="5.3"/><circle cx="275.7" cy="872.9" r="5.3"/><circle cx="386.5" cy="843.9" r="5.3"/><circle cx="378.7" cy="819.3" r="5.3"/><circle cx="435.8" cy="832.5" r="5.3"/>
<circle cx="339.3" cy="840.7" r="5.3"/><circle cx="416.7" cy="937.1" r="5.3"/><circle cx="340.7" cy="840.3" r="5.3"/><circle cx="385.7" cy="838.7" r="5.3"/><circle cx="572.7" cy="1041.3" r="5.3"/><circle cx="399.2" cy="894.6" r="5.3"/><circle cx="531.3" cy="866.1" r="5.3"/><circle cx="320.4" cy="907.1" r="5.3"/>
<circle cx="554.1" cy="907.3" r="5.3"/><circle cx="357.5" cy="819.2" r="5.3"/><circle cx="309.8" cy="926.7" r="5.3"/><circle cx="447.8" cy="1070.5" r="5.3"/><circle cx="306.7" cy="820.5" r="5.3"/><circle cx="351.5" cy="815" r="5.3"/><circle cx="286" cy="828.4" r="5.3"/><circle cx="404.9" cy="854.8" r="5.3"/>
<circle cx="476.5" cy="1107.6" r="5.3"/><circle cx="443" cy="948.3" r="5.3"/><circle cx="316.3" cy="870.8" r="5.3"/><circle cx="492.7" cy="840.2" r="5.3"/><circle cx="494.7" cy="844.3" r="5.3"/><circle cx="342.9" cy="815" r="5.3"/><circle cx="377.1" cy="820.1" r="5.3"/><circle cx="493.5" cy="835.1" r="5.3"/>
<circle cx="384.2" cy="844.6" r="5.3"/><circle cx="506.2" cy="818.8" r="5.3"/><circle cx="340.8" cy="848.9" r="5.3"/><circle cx="539.1" cy="998.9" r="5.3"/><circle cx="350.5" cy="903.9" r="5.3"/><circle cx="349.9" cy="836.8" r="5.3"/><circle cx="497.5" cy="1030" r="5.3"/><circle cx="418.7" cy="873.5" r="5.3"/>
<circle cx="632.3" cy="957.9" r="5.3"/><circle cx="516.4" cy="1017.9" r="5.3"/><circle cx="316" cy="876.8" r="5.3"/><circle cx="404" cy="837.7" r="5.3"/><circle cx="510" cy="895.5" r="5.3"/><circle cx="416.1" cy="852.6" r="5.3"/><circle cx="484.5" cy="1022.3" r="5.3"/><circle cx="446.9" cy="833" r="5.3"/>
<circle cx="312" cy="893.6" r="5.3"/><circle cx="279.2" cy="879.3" r="5.3"/><circle cx="515.7" cy="867.7" r="5.3"/><circle cx="289.3" cy="886.7" r="5.3"/><circle cx="494.5" cy="834.5" r="5.3"/><circle cx="318.1" cy="1143.4" r="5.3"/><circle cx="309.2" cy="837.9" r="5.3"/><circle cx="426.8" cy="847.4" r="5.3"/>
<circle cx="481.2" cy="849.4" r="5.3"/><circle cx="408.8" cy="846.7" r="5.3"/><circle cx="460.2" cy="901.4" r="5.3"/><circle cx="480.3" cy="851" r="5.3"/><circle cx="374.1" cy="950.5" r="5.3"/><circle cx="396.1" cy="858.3" r="5.3"/><circle cx="507" cy="847.1" r="5.3"/><circle cx="585.9" cy="1159.3" r="5.3"/>
<circle cx="341.2" cy="862.1" r="5.3"/><circle cx="456.1" cy="824.6" r="5.3"/><circle cx="429.9" cy="857.9" r="5.3"/><circle cx="581.2" cy="935" r="5.3"/><circle cx="241.9" cy="856.5" r="5.3"/><circle cx="315.7" cy="882.9" r="5.3"/><circle cx="634.4" cy="1003.4" r="5.3"/><circle cx="564.6" cy="897.7" r="5.3"/>
<circle cx="492.6" cy="954.2" r="5.3"/><circle cx="387.5" cy="815" r="5.3"/><circle cx="374.7" cy="865.6" r="5.3"/><circle cx="548.7" cy="839.6" r="5.3"/><circle cx="443.6" cy="880.8" r="5.3"/><circle cx="280" cy="876" r="5.3"/><circle cx="536.6" cy="841.6" r="5.3"/><circle cx="431.7" cy="839.2" r="5.3"/>
<circle cx="568.1" cy="1013.7" r="5.3"/><circle cx="336.3" cy="901.9" r="5.3"/><circle cx="453.6" cy="877.9" r="5.3"/><circle cx="505.3" cy="866.3" r="5.3"/><circle cx="382" cy="864.4" r="5.3"/><circle cx="192.1" cy="823.2" r="5.3"/><circle cx="320.1" cy="815.8" r="5.3"/><circle cx="445.7" cy="847.9" r="5.3"/>
<circle cx="399.7" cy="815" r="5.3"/><circle cx="376.5" cy="875.2" r="5.3"/><circle cx="328.9" cy="862.1" r="5.3"/><circle cx="528.9" cy="817.1" r="5.3"/><circle cx="637.9" cy="1042.8" r="5.3"/><circle cx="569.2" cy="1000.3" r="5.3"/><circle cx="358.6" cy="868.3" r="5.3"/><circle cx="374.4" cy="841.3" r="5.3"/>
<circle cx="404.8" cy="866.6" r="5.3"/><circle cx="545.4" cy="867.5" r="5.3"/><circle cx="377.8" cy="849.2" r="5.3"/><circle cx="503.6" cy="1177.7" r="5.3"/><circle cx="559" cy="875.7" r="5.3"/><circle cx="483.7" cy="943.5" r="5.3"/><circle cx="336.3" cy="835.8" r="5.3"/><circle cx="311.5" cy="848.6" r="5.3"/>
<circle cx="521.5" cy="822" r="5.3"/><circle cx="371.5" cy="815" r="5.3"/><circle cx="358.3" cy="947.8" r="5.3"/><circle cx="469.6" cy="836.5" r="5.3"/><circle cx="416.3" cy="848.4" r="5.3"/><circle cx="379.2" cy="842.1" r="5.3"/><circle cx="327" cy="821" r="5.3"/><circle cx="323.3" cy="940" r="5.3"/>
<circle cx="479.1" cy="959.5" r="5.3"/><circle cx="462.5" cy="836.9" r="5.3"/><circle cx="429.7" cy="1195" r="5.3"/><circle cx="536.9" cy="842.2" r="5.3"/><circle cx="327.6" cy="838.2" r="5.3"/><circle cx="292.3" cy="815" r="5.3"/><circle cx="543.6" cy="892" r="5.3"/><circle cx="428.2" cy="840.3" r="5.3"/>
<circle cx="410.4" cy="856" r="5.3"/><circle cx="280.4" cy="816.2" r="5.3"/><circle cx="447.7" cy="996.4" r="5.3"/><circle cx="330.8" cy="865.2" r="5.3"/><circle cx="322.8" cy="884.9" r="5.3"/><circle cx="376.9" cy="826" r="5.3"/><circle cx="328.2" cy="985.9" r="5.3"/><circle cx="418.5" cy="819.5" r="5.3"/>
<circle cx="365.1" cy="926.9" r="5.3"/><circle cx="440.4" cy="819.3" r="5.3"/><circle cx="277.6" cy="819.7" r="5.3"/><circle cx="419.9" cy="983.3" r="5.3"/><circle cx="487.3" cy="929.1" r="5.3"/><circle cx="382.4" cy="869.4" r="5.3"/><circle cx="558.5" cy="1009.3" r="5.3"/><circle cx="384.7" cy="847" r="5.3"/>
<circle cx="381.4" cy="901.1" r="5.3"/><circle cx="438" cy="914.4" r="5.3"/><circle cx="338.1" cy="851.9" r="5.3"/><circle cx="412.2" cy="838.9" r="5.3"/><circle cx="405.6" cy="945.8" r="5.3"/><circle cx="394.7" cy="929.4" r="5.3"/><circle cx="352" cy="819.5" r="5.3"/><circle cx="334.5" cy="896.9" r="5.3"/>
<circle cx="300.1" cy="848.8" r="5.3"/><circle cx="634.7" cy="998.7" r="5.3"/><circle cx="274.7" cy="859.1" r="5.3"/><circle cx="451.2" cy="863.9" r="5.3"/><circle cx="393.3" cy="998" r="5.3"/><circle cx="370" cy="816.4" r="5.3"/><circle cx="354.1" cy="866.7" r="5.3"/><circle cx="358.4" cy="1012.9" r="5.3"/>
<circle cx="467.5" cy="885.4" r="5.3"/><circle cx="338.3" cy="966.5" r="5.3"/><circle cx="465.4" cy="870.9" r="5.3"/><circle cx="375.6" cy="849.4" r="5.3"/><circle cx="343.8" cy="905.4" r="5.3"/><circle cx="347.3" cy="864.7" r="5.3"/><circle cx="312.4" cy="868.6" r="5.3"/><circle cx="493.2" cy="973.3" r="5.3"/>
<circle cx="457" cy="943.9" r="5.3"/><circle cx="461.8" cy="831.7" r="5.3"/><circle cx="432.7" cy="1033.3" r="5.3"/><circle cx="472.2" cy="816.7" r="5.3"/><circle cx="376.9" cy="815" r="5.3"/><circle cx="325.4" cy="875.3" r="5.3"/><circle cx="471.2" cy="884.7" r="5.3"/><circle cx="443.9" cy="939.6" r="5.3"/>
<circle cx="342.4" cy="883.8" r="5.3"/><circle cx="455.7" cy="818" r="5.3"/><circle cx="537.7" cy="953.7" r="5.3"/><circle cx="411.6" cy="819.5" r="5.3"/><circle cx="483.9" cy="836.6" r="5.3"/><circle cx="360" cy="822.8" r="5.3"/><circle cx="412.7" cy="880.5" r="5.3"/><circle cx="513.9" cy="954.4" r="5.3"/>
<circle cx="398.3" cy="859.4" r="5.3"/><circle cx="480.5" cy="857.2" r="5.3"/><circle cx="337.7" cy="882.6" r="5.3"/><circle cx="561" cy="832.9" r="5.3"/><circle cx="334.9" cy="985.6" r="5.3"/><circle cx="430.3" cy="815" r="5.3"/><circle cx="299.6" cy="884.6" r="5.3"/><circle cx="401.5" cy="849.2" r="5.3"/>
<circle cx="669.6" cy="973.9" r="5.3"/><circle cx="305.9" cy="864.5" r="5.3"/><circle cx="439.1" cy="885.7" r="5.3"/><circle cx="510.6" cy="866.3" r="5.3"/><circle cx="536.4" cy="897.2" r="5.3"/><circle cx="347.8" cy="830.6" r="5.3"/><circle cx="528.8" cy="982.3" r="5.3"/><circle cx="326.4" cy="864.9" r="5.3"/>
<circle cx="512.5" cy="1003.3" r="5.3"/><circle cx="657.5" cy="1014" r="5.3"/><circle cx="442.5" cy="920.7" r="5.3"/><circle cx="286.7" cy="815" r="5.3"/><circle cx="320.9" cy="855.1" r="5.3"/><circle cx="436" cy="869.8" r="5.3"/><circle cx="581.5" cy="948.5" r="5.3"/><circle cx="550.9" cy="819.5" r="5.3"/>
<circle cx="451.6" cy="879.6" r="5.3"/><circle cx="562.2" cy="955.6" r="5.3"/><circle cx="394.7" cy="841.5" r="5.3"/><circle cx="394" cy="1053.6" r="5.3"/><circle cx="358.4" cy="818.2" r="5.3"/><circle cx="376" cy="866.2" r="5.3"/><circle cx="346.1" cy="907" r="5.3"/><circle cx="537.5" cy="974.2" r="5.3"/>
<circle cx="314" cy="896.8" r="5.3"/><circle cx="667.3" cy="1137.6" r="5.3"/><circle cx="601.2" cy="957.1" r="5.3"/><circle cx="389.4" cy="884.5" r="5.3"/><circle cx="443" cy="875" r="5.3"/><circle cx="453.1" cy="829" r="5.3"/><circle cx="545.1" cy="822.7" r="5.3"/><circle cx="301.1" cy="947.1" r="5.3"/>
<circle cx="344.2" cy="844.9" r="5.3"/><circle cx="418.2" cy="853.8" r="5.3"/><circle cx="501.7" cy="882.8" r="5.3"/><circle cx="640.8" cy="904" r="5.3"/><circle cx="431.7" cy="837.6" r="5.3"/><circle cx="416.9" cy="1110.1" r="5.3"/><circle cx="288.3" cy="873.3" r="5.3"/><circle cx="294.5" cy="861" r="5.3"/>
<circle cx="410.3" cy="884.7" r="5.3"/><circle cx="296.9" cy="873.7" r="5.3"/><circle cx="403.2" cy="883.2" r="5.3"/><circle cx="274.8" cy="883.9" r="5.3"/><circle cx="322.1" cy="887.6" r="5.3"/><circle cx="279.4" cy="829.7" r="5.3"/><circle cx="370.3" cy="886.7" r="5.3"/><circle cx="628.4" cy="1009.7" r="5.3"/>
<circle cx="379.9" cy="1001.3" r="5.3"/><circle cx="499.9" cy="1080.6" r="5.3"/><circle cx="280.2" cy="880.9" r="5.3"/><circle cx="442.9" cy="857.3" r="5.3"/><circle cx="380.5" cy="850.3" r="5.3"/><circle cx="408.7" cy="955.8" r="5.3"/><circle cx="385.5" cy="856.2" r="5.3"/><circle cx="412.4" cy="876.6" r="5.3"/>
<circle cx="527.8" cy="1018.1" r="5.3"/><circle cx="332.7" cy="1004.8" r="5.3"/><circle cx="431.8" cy="815" r="5.3"/><circle cx="437.5" cy="848" r="5.3"/><circle cx="306.4" cy="833.1" r="5.3"/><circle cx="323.9" cy="881.6" r="5.3"/><circle cx="472" cy="922" r="5.3"/><circle cx="384.8" cy="843" r="5.3"/>
<circle cx="442" cy="828.9" r="5.3"/><circle cx="366.1" cy="1053.8" r="5.3"/><circle cx="297.6" cy="850.8" r="5.3"/><circle cx="288.3" cy="815" r="5.3"/><circle cx="441.2" cy="940.1" r="5.3"/><circle cx="459.8" cy="815" r="5.3"/><circle cx="207.2" cy="842.5" r="5.3"/><circle cx="484.4" cy="853.9" r="5.3"/>
<circle cx="593.3" cy="941.9" r="5.3"/><circle cx="492" cy="981.3" r="5.3"/><circle cx="237.3" cy="828" r="5.3"/><circle cx="375.4" cy="998.8" r="5.3"/><circle cx="414.4" cy="860.9" r="5.3"/><circle cx="445.1" cy="906.3" r="5.3"/><circle cx="417.9" cy="821.1" r="5.3"/><circle cx="540.7" cy="839.4" r="5.3"/>
<circle cx="511.8" cy="931.9" r="5.3"/><circle cx="505.8" cy="869.7" r="5.3"/><circle cx="328.7" cy="848.5" r="5.3"/><circle cx="329.1" cy="815" r="5.3"/><circle cx="347.4" cy="935.7" r="5.3"/><circle cx="291.3" cy="836.1" r="5.3"/><circle cx="463.4" cy="886.8" r="5.3"/><circle cx="433.6" cy="881.4" r="5.3"/>
<circle cx="334.3" cy="819.4" r="5.3"/><circle cx="316.3" cy="878" r="5.3"/><circle cx="359.8" cy="853.1" r="5.3"/><circle cx="396" cy="1030.4" r="5.3"/><circle cx="478.7" cy="874.9" r="5.3"/><circle cx="385.3" cy="951.7" r="5.3"/><circle cx="416.8" cy="845.4" r="5.3"/><circle cx="602.1" cy="960.6" r="5.3"/>
<circle cx="405.3" cy="815" r="5.3"/><circle cx="271.6" cy="871.1" r="5.3"/><circle cx="386.8" cy="836.6" r="5.3"/><circle cx="463.8" cy="863.8" r="5.3"/><circle cx="357.7" cy="847.8" r="5.3"/><circle cx="443.1" cy="838.2" r="5.3"/><circle cx="555.5" cy="860.6" r="5.3"/><circle cx="324.7" cy="840.3" r="5.3"/>
<circle cx="577.7" cy="899" r="5.3"/><circle cx="411.7" cy="883.7" r="5.3"/><circle cx="477.6" cy="856.1" r="5.3"/><circle cx="358.2" cy="944.9" r="5.3"/><circle cx="373.1" cy="1070.5" r="5.3"/><circle cx="279.9" cy="815" r="5.3"/><circle cx="532.6" cy="1025.2" r="5.3"/><circle cx="614" cy="985.9" r="5.3"/>
<circle cx="403.8" cy="929.1" r="5.3"/><circle cx="356.9" cy="877.4" r="5.3"/><circle cx="396.9" cy="885.9" r="5.3"/><circle cx="448.6" cy="872" r="5.3"/><circle cx="528.1" cy="873.8" r="5.3"/><circle cx="374.1" cy="818.1" r="5.3"/><circle cx="332.4" cy="817.6" r="5.3"/><circle cx="361.9" cy="874.9" r="5.3"/>
<circle cx="446.5" cy="862.6" r="5.3"/><circle cx="558" cy="1095.6" r="5.3"/><circle cx="338.7" cy="817.4" r="5.3"/><circle cx="406.8" cy="815" r="5.3"/><circle cx="384" cy="816.9" r="5.3"/><circle cx="363.3" cy="846" r="5.3"/><circle cx="390.2" cy="953.6" r="5.3"/><circle cx="516.1" cy="898.8" r="5.3"/>
<circle cx="524.1" cy="961.1" r="5.3"/><circle cx="313" cy="907" r="5.3"/><circle cx="308.8" cy="905" r="5.3"/><circle cx="309.9" cy="930.3" r="5.3"/><circle cx="340.2" cy="879.5" r="5.3"/><circle cx="446.6" cy="838.8" r="5.3"/><circle cx="500.3" cy="967.4" r="5.3"/><circle cx="421.2" cy="939" r="5.3"/>
<circle cx="338.8" cy="916.1" r="5.3"/><circle cx="421.9" cy="877.3" r="5.3"/><circle cx="431.2" cy="844.4" r="5.3"/><circle cx="284.5" cy="816.3" r="5.3"/><circle cx="364.4" cy="839" r="5.3"/><circle cx="446.7" cy="855.9" r="5.3"/><circle cx="547.1" cy="1000.3" r="5.3"/><circle cx="470.4" cy="818.9" r="5.3"/>
<circle cx="555.3" cy="871.7" r="5.3"/><circle cx="457" cy="840" r="5.3"/><circle cx="458.6" cy="817.3" r="5.3"/><circle cx="492.1" cy="833.9" r="5.3"/><circle cx="374.2" cy="858.2" r="5.3"/><circle cx="625.9" cy="1133.2" r="5.3"/><circle cx="401.8" cy="899.3" r="5.3"/><circle cx="411.7" cy="865.5" r="5.3"/>
<circle cx="531.1" cy="917" r="5.3"/><circle cx="615.8" cy="1013.8" r="5.3"/><circle cx="340.5" cy="1038.8" r="5.3"/><circle cx="484.8" cy="979" r="5.3"/><circle cx="529" cy="991.1" r="5.3"/><circle cx="382.3" cy="815" r="5.3"/><circle cx="358" cy="1250.1" r="5.3"/><circle cx="413.4" cy="843.6" r="5.3"/>
<circle cx="493.5" cy="864.8" r="5.3"/><circle cx="292.1" cy="818.7" r="5.3"/><circle cx="432.5" cy="816.8" r="5.3"/><circle cx="404.5" cy="837.1" r="5.3"/><circle cx="394.8" cy="858.5" r="5.3"/><circle cx="559.7" cy="906.5" r="5.3"/><circle cx="292.9" cy="860.1" r="5.3"/><circle cx="307.6" cy="875.5" r="5.3"/>
<circle cx="521.7" cy="983.1" r="5.3"/><circle cx="321.6" cy="990.6" r="5.3"/><circle cx="555.9" cy="1021.5" r="5.3"/><circle cx="460.5" cy="820.2" r="5.3"/><circle cx="365.8" cy="815" r="5.3"/><circle cx="521.9" cy="1025.1" r="5.3"/><circle cx="313.5" cy="830" r="5.3"/><circle cx="389.3" cy="940.2" r="5.3"/>
<circle cx="412.1" cy="837.1" r="5.3"/><circle cx="366.1" cy="826.7" r="5.3"/><circle cx="424.9" cy="945.8" r="5.3"/><circle cx="592.3" cy="1010.9" r="5.3"/><circle cx="409.6" cy="932" r="5.3"/><circle cx="306.4" cy="972" r="5.3"/><circle cx="322.2" cy="823" r="5.3"/><circle cx="481.4" cy="860.2" r="5.3"/>
<circle cx="603.5" cy="984.1" r="5.3"/><circle cx="436" cy="867.3" r="5.3"/><circle cx="345.2" cy="1081.1" r="5.3"/><circle cx="462.6" cy="960.5" r="5.3"/><circle cx="292.1" cy="923.5" r="5.3"/><circle cx="331.6" cy="829.7" r="5.3"/><circle cx="277.5" cy="864.1" r="5.3"/><circle cx="476.3" cy="927.7" r="5.3"/>
<circle cx="468.4" cy="996.4" r="5.3"/><circle cx="459.2" cy="869.1" r="5.3"/><circle cx="469" cy="972.2" r="5.3"/><circle cx="364.5" cy="1057.3" r="5.3"/><circle cx="429.4" cy="845.5" r="5.3"/><circle cx="326" cy="1038.1" r="5.3"/><circle cx="552.7" cy="822.1" r="5.3"/><circle cx="472.8" cy="846.1" r="5.3"/>
<circle cx="381.2" cy="815.4" r="5.3"/><circle cx="455.1" cy="837.7" r="5.3"/><circle cx="491.9" cy="840" r="5.3"/><circle cx="397.1" cy="850.2" r="5.3"/><circle cx="310.5" cy="853" r="5.3"/><circle cx="467.1" cy="1026.8" r="5.3"/><circle cx="564" cy="830.1" r="5.3"/><circle cx="507" cy="872" r="5.3"/>
<circle cx="542.8" cy="901.3" r="5.3"/><circle cx="248.7" cy="862.3" r="5.3"/><circle cx="411.3" cy="838.3" r="5.3"/><circle cx="427.7" cy="822.2" r="5.3"/><circle cx="300" cy="1065.1" r="5.3"/><circle cx="456.2" cy="858" r="5.3"/><circle cx="504.7" cy="1030" r="5.3"/><circle cx="311.3" cy="1040.5" r="5.3"/>
<circle cx="281.1" cy="993.2" r="5.3"/><circle cx="546.5" cy="850.6" r="5.3"/><circle cx="408.2" cy="820.3" r="5.3"/><circle cx="483.3" cy="818.2" r="5.3"/><circle cx="362.5" cy="883.1" r="5.3"/><circle cx="295.7" cy="823.6" r="5.3"/><circle cx="496" cy="854.7" r="5.3"/><circle cx="514" cy="1021.6" r="5.3"/>
<circle cx="392.2" cy="817.9" r="5.3"/><circle cx="362.6" cy="861.1" r="5.3"/><circle cx="275.2" cy="820.6" r="5.3"/><circle cx="356.3" cy="845.8" r="5.3"/><circle cx="355.5" cy="856" r="5.3"/><circle cx="318.7" cy="815" r="5.3"/><circle cx="560.2" cy="1003.8" r="5.3"/><circle cx="465.3" cy="852.8" r="5.3"/>
<circle cx="476.5" cy="1140.5" r="5.3"/><circle cx="411.5" cy="827" r="5.3"/><circle cx="524" cy="1201.3" r="5.3"/><circle cx="495.7" cy="857.8" r="5.3"/><circle cx="421.4" cy="1078.2" r="5.3"/><circle cx="549.3" cy="966.3" r="5.3"/><circle cx="373.7" cy="855.2" r="5.3"/><circle cx="373.7" cy="849.4" r="5.3"/>
<circle cx="613.2" cy="986.5" r="5.3"/><circle cx="325.6" cy="1177.7" r="5.3"/><circle cx="350.6" cy="838.8" r="5.3"/><circle cx="487.8" cy="988.5" r="5.3"/><circle cx="549.8" cy="956.5" r="5.3"/><circle cx="406.8" cy="870.2" r="5.3"/><circle cx="458.9" cy="912.9" r="5.3"/><circle cx="460.6" cy="1129.4" r="5.3"/>
<circle cx="414.2" cy="849.4" r="5.3"/><circle cx="476.7" cy="824.6" r="5.3"/><circle cx="426.1" cy="943.8" r="5.3"/><circle cx="542.8" cy="870" r="5.3"/><circle cx="597.4" cy="976.3" r="5.3"/><circle cx="377.3" cy="821.3" r="5.3"/><circle cx="354.7" cy="847.3" r="5.3"/><circle cx="490.9" cy="838.3" r="5.3"/>
<circle cx="346.7" cy="915.3" r="5.3"/><circle cx="460.9" cy="981.7" r="5.3"/><circle cx="533.1" cy="1001.7" r="5.3"/><circle cx="426.2" cy="857.4" r="5.3"/><circle cx="530.8" cy="1095.6" r="5.3"/><circle cx="588.1" cy="1078.2" r="5.3"/><circle cx="416.2" cy="990.8" r="5.3"/><circle cx="561.3" cy="868.1" r="5.3"/>
<circle cx="548.7" cy="990.3" r="5.3"/><circle cx="336.8" cy="835.5" r="5.3"/><circle cx="452.2" cy="1030.7" r="5.3"/><circle cx="409.5" cy="920.5" r="5.3"/><circle cx="551.3" cy="828.6" r="5.3"/><circle cx="395.6" cy="847.8" r="5.3"/><circle cx="515" cy="1185.9" r="5.3"/><circle cx="412.7" cy="1003.2" r="5.3"/>
<circle cx="459.4" cy="962.8" r="5.3"/><circle cx="405.4" cy="840.9" r="5.3"/><circle cx="489.2" cy="858" r="5.3"/><circle cx="310.2" cy="890.4" r="5.3"/><circle cx="360.4" cy="815" r="5.3"/><circle cx="366.7" cy="832.1" r="5.3"/><circle cx="474.6" cy="1009.3" r="5.3"/><circle cx="542.9" cy="1063.7" r="5.3"/>
<circle cx="509.1" cy="1021.1" r="5.3"/><circle cx="275.8" cy="959.4" r="5.3"/><circle cx="425" cy="927.1" r="5.3"/><circle cx="529" cy="978.9" r="5.3"/><circle cx="382.1" cy="815" r="5.3"/><circle cx="508.1" cy="857.9" r="5.3"/><circle cx="583.6" cy="1020.7" r="5.3"/><circle cx="388.4" cy="841.2" r="5.3"/>
<circle cx="414.9" cy="904.5" r="5.3"/><circle cx="330.1" cy="925.8" r="5.3"/><circle cx="301.2" cy="837.3" r="5.3"/><circle cx="388" cy="951.3" r="5.3"/><circle cx="381.4" cy="1043.6" r="5.3"/><circle cx="472.2" cy="868.2" r="5.3"/><circle cx="508.1" cy="1017.6" r="5.3"/><circle cx="482.6" cy="930.3" r="5.3"/>
<circle cx="554.9" cy="1201.3" r="5.3"/><circle cx="369.4" cy="879.7" r="5.3"/><circle cx="515.8" cy="963.2" r="5.3"/><circle cx="370" cy="858" r="5.3"/><circle cx="402.6" cy="815" r="5.3"/><circle cx="532" cy="833.1" r="5.3"/><circle cx="305.4" cy="833.5" r="5.3"/><circle cx="428.6" cy="849.8" r="5.3"/>
<circle cx="411" cy="1037.3" r="5.3"/><circle cx="333.5" cy="818.5" r="5.3"/><circle cx="350.5" cy="827.2" r="5.3"/><circle cx="384.1" cy="913.6" r="5.3"/><circle cx="384.7" cy="850.3" r="5.3"/><circle cx="443.6" cy="882.4" r="5.3"/><circle cx="330.4" cy="834.4" r="5.3"/><circle cx="376.6" cy="948.6" r="5.3"/>
<circle cx="472.1" cy="827.8" r="5.3"/><circle cx="282.6" cy="843.7" r="5.3"/><circle cx="313.3" cy="935.4" r="5.3"/><circle cx="321.8" cy="832.6" r="5.3"/><circle cx="456.4" cy="834.2" r="5.3"/><circle cx="484.4" cy="1030.5" r="5.3"/><circle cx="474.6" cy="846.1" r="5.3"/><circle cx="612.2" cy="989" r="5.3"/>
<circle cx="403.3" cy="1081.1" r="5.3"/><circle cx="417.8" cy="951.8" r="5.3"/><circle cx="464.5" cy="822.6" r="5.3"/><circle cx="487.4" cy="962.1" r="5.3"/><circle cx="457.7" cy="815" r="5.3"/><circle cx="322.4" cy="939.5" r="5.3"/><circle cx="368.5" cy="891.7" r="5.3"/><circle cx="358.8" cy="1061.3" r="5.3"/>
<circle cx="362.6" cy="879.6" r="5.3"/><circle cx="425.8" cy="815" r="5.3"/><circle cx="328.3" cy="898.5" r="5.3"/><circle cx="379.4" cy="902.6" r="5.3"/><circle cx="382.1" cy="840.3" r="5.3"/><circle cx="295.4" cy="838.3" r="5.3"/><circle cx="519.2" cy="973" r="5.3"/><circle cx="460" cy="874.5" r="5.3"/>
<circle cx="476.4" cy="822.4" r="5.3"/><circle cx="314.9" cy="832.5" r="5.3"/><circle cx="448.2" cy="987" r="5.3"/><circle cx="575.4" cy="899.2" r="5.3"/><circle cx="303" cy="916" r="5.3"/><circle cx="429.6" cy="864.3" r="5.3"/><circle cx="397.8" cy="989.6" r="5.3"/><circle cx="231.3" cy="919.8" r="5.3"/>
<circle cx="274.3" cy="863.7" r="5.3"/><circle cx="394.2" cy="843.2" r="5.3"/><circle cx="299.7" cy="851.4" r="5.3"/><circle cx="464.4" cy="959.5" r="5.3"/><circle cx="335.5" cy="886.4" r="5.3"/><circle cx="322.6" cy="820.7" r="5.3"/><circle cx="501.2" cy="867.2" r="5.3"/><circle cx="355.4" cy="818.5" r="5.3"/>
<circle cx="338.3" cy="822.5" r="5.3"/><circle cx="545.5" cy="1013.4" r="5.3"/><circle cx="418.7" cy="831" r="5.3"/><circle cx="458.3" cy="834.9" r="5.3"/><circle cx="378.5" cy="826.1" r="5.3"/><circle cx="525.7" cy="878.8" r="5.3"/><circle cx="366.1" cy="862.5" r="5.3"/><circle cx="356.3" cy="886.2" r="5.3"/>
<circle cx="397.3" cy="956.8" r="5.3"/>
</g>
<path d="M263.7 838.2 Q452.3 934.6 640.9 1005.7 L640.9 1029.9 Q452.3 927.2 263.7 849.8 Z" fill="#fed395" fill-opacity=".11" stroke="none"/>
</g>
<path d="M263.7 834.3 L640.9 964.7" stroke="#dc4a6f" stroke-width="3.2" fill="none"/>
<path d="M263.7 853.6 L640.9 1104.7" stroke="#f98a63" stroke-width="3.2" fill="none"/>
<path d="M263.7 844 L640.9 1017.8" stroke="#fbd08f" stroke-width="3.2" fill="none"/>
<path d="M162.5 790.5 V1322.7 H744" fill="none" stroke="#1a1a1a" stroke-width="1.5"/>
<path d="M188.3 1322.7v6.4M263.7 1322.7v6.4M339.2 1322.7v6.4M414.6 1322.7v6.4M490.1 1322.7v6.4M565.5 1322.7v6.4M640.9 1322.7v6.4M716.4 1322.7v6.4M162.5 1297.9h-6.4M162.5 1201.3h-6.4M162.5 1104.7h-6.4M162.5 1008.2h-6.4M162.5 911.6h-6.4M162.5 815h-6.4" stroke="#1a1a1a" stroke-width="1.5" fill="none"/>
<g text-anchor="middle">
<text x="188.3" y="1348.9">9</text>
<text x="263.7" y="1348.9">10</text>
<text x="339.2" y="1348.9">11</text>
<text x="414.6" y="1348.9">12</text>
<text x="490.1" y="1348.9">13</text>
<text x="565.5" y="1348.9">14</text>
<text x="640.9" y="1348.9">15</text>
<text x="716.4" y="1348.9">16</text>
</g>
<g text-anchor="end">
<text x="148.9" y="1304.5">0</text>
<text x="148.9" y="1207.9">20</text>
<text x="148.9" y="1111.3">40</text>
<text x="148.9" y="1014.8">60</text>
<text x="148.9" y="918.2">80</text>
<text x="148.9" y="821.6">100</text>
</g>
<!-- panel BR -->
<g class="pts">
<g fill="#e0426e" stroke="#c2456f">
<circle cx="1129.1" cy="951.5" r="5.3"/><circle cx="1286.7" cy="863.3" r="5.3"/><circle cx="1127" cy="1023.5" r="5.3"/><circle cx="1309.9" cy="1030.8" r="5.3"/><circle cx="1051.2" cy="815" r="5.3"/><circle cx="1104.3" cy="1145.8" r="5.3"/><circle cx="938" cy="823.2" r="5.3"/><circle cx="1275.4" cy="931.5" r="5.3"/>
<circle cx="926.5" cy="822.2" r="5.3"/><circle cx="891.3" cy="838.3" r="5.3"/><circle cx="1085.9" cy="1053.2" r="5.3"/><circle cx="1268.9" cy="986.2" r="5.3"/><circle cx="1301.7" cy="1189" r="5.3"/><circle cx="1044.5" cy="846.3" r="5.3"/><circle cx="1267.8" cy="966" r="5.3"/><circle cx="1283.1" cy="1108.7" r="5.3"/>
<circle cx="976.5" cy="898.3" r="5.3"/><circle cx="1246.5" cy="1044.2" r="5.3"/><circle cx="994.9" cy="845.8" r="5.3"/><circle cx="1150.2" cy="1075.3" r="5.3"/><circle cx="993.4" cy="939.3" r="5.3"/><circle cx="1147.2" cy="1258.1" r="5.3"/><circle cx="1130.5" cy="858.5" r="5.3"/><circle cx="1051.2" cy="1004.8" r="5.3"/>
<circle cx="976.6" cy="901.4" r="5.3"/><circle cx="1099.3" cy="946.4" r="5.3"/><circle cx="1214.3" cy="1208.1" r="5.3"/><circle cx="1190.1" cy="981.5" r="5.3"/><circle cx="1094.8" cy="1163" r="5.3"/><circle cx="1200.5" cy="1018.3" r="5.3"/><circle cx="1255" cy="1059" r="5.3"/><circle cx="1051.9" cy="1067.1" r="5.3"/>
<circle cx="1298" cy="1025.7" r="5.3"/><circle cx="1273.1" cy="954.6" r="5.3"/><circle cx="898.7" cy="815" r="5.3"/><circle cx="1138.9" cy="1055.7" r="5.3"/><circle cx="1159.7" cy="1202.9" r="5.3"/><circle cx="974.9" cy="886.6" r="5.3"/><circle cx="994" cy="815" r="5.3"/><circle cx="1184.8" cy="1234.8" r="5.3"/>
<circle cx="996.1" cy="871.4" r="5.3"/><circle cx="885.4" cy="874.9" r="5.3"/><circle cx="1294.2" cy="1258.2" r="5.3"/><circle cx="994.8" cy="847.2" r="5.3"/><circle cx="1121.9" cy="1219.6" r="5.3"/><circle cx="1163.6" cy="1032.6" r="5.3"/><circle cx="1031.7" cy="838.1" r="5.3"/><circle cx="1047" cy="815" r="5.3"/>
<circle cx="993.4" cy="878.3" r="5.3"/><circle cx="1004.9" cy="969.1" r="5.3"/><circle cx="1061.3" cy="945.7" r="5.3"/><circle cx="1203.9" cy="1253.5" r="5.3"/><circle cx="1152.6" cy="1095.5" r="5.3"/><circle cx="1166.4" cy="1128.6" r="5.3"/><circle cx="1012" cy="896.8" r="5.3"/><circle cx="1020.9" cy="906.9" r="5.3"/>
<circle cx="964.1" cy="831.3" r="5.3"/><circle cx="1277" cy="1113.9" r="5.3"/><circle cx="1230.5" cy="1150.3" r="5.3"/><circle cx="1003.5" cy="815" r="5.3"/><circle cx="1167.6" cy="1012.4" r="5.3"/><circle cx="999" cy="865.5" r="5.3"/><circle cx="1022.5" cy="911.8" r="5.3"/><circle cx="1026.9" cy="929" r="5.3"/>
<circle cx="1314.6" cy="1035.7" r="5.3"/><circle cx="1140.3" cy="1267.9" r="5.3"/><circle cx="1049.1" cy="1124.8" r="5.3"/><circle cx="1088.2" cy="961.5" r="5.3"/><circle cx="1175" cy="1054.9" r="5.3"/><circle cx="952" cy="815" r="5.3"/><circle cx="916.9" cy="844.5" r="5.3"/><circle cx="1015.7" cy="882" r="5.3"/>
<circle cx="1159.3" cy="1030" r="5.3"/><circle cx="1287.1" cy="1143.4" r="5.3"/><circle cx="1244.8" cy="1088.1" r="5.3"/><circle cx="1065.6" cy="977.4" r="5.3"/><circle cx="1217.2" cy="1047.9" r="5.3"/><circle cx="1115" cy="1131.3" r="5.3"/><circle cx="984.3" cy="865.4" r="5.3"/><circle cx="1186" cy="977.3" r="5.3"/>
<circle cx="1013.7" cy="838.2" r="5.3"/><circle cx="1204.2" cy="1193.3" r="5.3"/><circle cx="966.5" cy="846" r="5.3"/><circle cx="1196.4" cy="1076.7" r="5.3"/><circle cx="1081.7" cy="973.8" r="5.3"/><circle cx="1128.1" cy="1056.4" r="5.3"/><circle cx="891.1" cy="896.8" r="5.3"/><circle cx="1254.3" cy="1070.3" r="5.3"/>
<circle cx="1235" cy="1050.9" r="5.3"/><circle cx="1189.4" cy="1057.5" r="5.3"/><circle cx="1308.5" cy="1060.7" r="5.3"/><circle cx="1113.4" cy="1075.9" r="5.3"/><circle cx="1184.8" cy="1093.3" r="5.3"/><circle cx="1139.8" cy="1225.8" r="5.3"/><circle cx="1141.7" cy="1027.7" r="5.3"/><circle cx="1112.6" cy="1194.3" r="5.3"/>
<circle cx="1246.3" cy="1125.6" r="5.3"/><circle cx="1285.8" cy="1147.2" r="5.3"/><circle cx="991.6" cy="884" r="5.3"/><circle cx="1289.7" cy="1007.8" r="5.3"/><circle cx="1043.1" cy="815" r="5.3"/><circle cx="1122" cy="1048.9" r="5.3"/><circle cx="1051.1" cy="1002.1" r="5.3"/><circle cx="922.5" cy="838" r="5.3"/>
<circle cx="1321.4" cy="1180.7" r="5.3"/><circle cx="1275.9" cy="1096.1" r="5.3"/><circle cx="1195.2" cy="1138.2" r="5.3"/><circle cx="1210.2" cy="1071.4" r="5.3"/><circle cx="931.4" cy="897.8" r="5.3"/><circle cx="1014.8" cy="838.7" r="5.3"/><circle cx="1049.2" cy="1140.4" r="5.3"/><circle cx="995.9" cy="824.7" r="5.3"/>
<circle cx="953.3" cy="863.5" r="5.3"/><circle cx="1186.5" cy="1102.5" r="5.3"/><circle cx="1232.7" cy="1159.7" r="5.3"/><circle cx="1031.9" cy="855.4" r="5.3"/><circle cx="1132.3" cy="1017.9" r="5.3"/><circle cx="1137.7" cy="956.4" r="5.3"/><circle cx="1166.7" cy="1036.1" r="5.3"/><circle cx="1315.6" cy="951.5" r="5.3"/>
<circle cx="1162.1" cy="1087.6" r="5.3"/><circle cx="952" cy="881.4" r="5.3"/><circle cx="1166.1" cy="1237.1" r="5.3"/><circle cx="1155" cy="1027.3" r="5.3"/><circle cx="1245" cy="1199.2" r="5.3"/><circle cx="1107.6" cy="1097.1" r="5.3"/><circle cx="1142.7" cy="1173.8" r="5.3"/><circle cx="993.5" cy="974.9" r="5.3"/>
<circle cx="1241.1" cy="1222.1" r="5.3"/><circle cx="1316.3" cy="1085.9" r="5.3"/><circle cx="1170.4" cy="1072.4" r="5.3"/><circle cx="1097.6" cy="1046.9" r="5.3"/><circle cx="927.9" cy="889.3" r="5.3"/><circle cx="1005.1" cy="934.7" r="5.3"/><circle cx="1292.3" cy="1032.9" r="5.3"/><circle cx="1221.2" cy="1010.6" r="5.3"/>
<circle cx="1113" cy="977.9" r="5.3"/><circle cx="895.4" cy="866.2" r="5.3"/><circle cx="948" cy="879.9" r="5.3"/><circle cx="1154.6" cy="964.4" r="5.3"/><circle cx="1315.6" cy="1160.4" r="5.3"/><circle cx="1018.3" cy="882.3" r="5.3"/><circle cx="1131.3" cy="982" r="5.3"/><circle cx="1066.7" cy="931.7" r="5.3"/>
<circle cx="1105.6" cy="1021" r="5.3"/><circle cx="1145.6" cy="858.5" r="5.3"/><circle cx="1207.4" cy="940.3" r="5.3"/><circle cx="892.6" cy="894" r="5.3"/><circle cx="1128.7" cy="1250.9" r="5.3"/><circle cx="1201.5" cy="933.6" r="5.3"/><circle cx="1229.4" cy="1120.8" r="5.3"/><circle cx="1176" cy="1026.2" r="5.3"/>
<circle cx="1235.3" cy="1177.7" r="5.3"/><circle cx="1239.4" cy="1062.1" r="5.3"/><circle cx="1132.4" cy="1003.7" r="5.3"/><circle cx="1073.8" cy="970.6" r="5.3"/><circle cx="1185.7" cy="1218.8" r="5.3"/><circle cx="1292.6" cy="1035.7" r="5.3"/><circle cx="1153.7" cy="1037.6" r="5.3"/><circle cx="1266.6" cy="1043.5" r="5.3"/>
<circle cx="1159.6" cy="939.7" r="5.3"/><circle cx="1095.2" cy="1048.3" r="5.3"/><circle cx="1309.8" cy="1092.7" r="5.3"/><circle cx="906.3" cy="842.8" r="5.3"/><circle cx="1024" cy="926.4" r="5.3"/><circle cx="1304.4" cy="1027.3" r="5.3"/><circle cx="1300.9" cy="1157.5" r="5.3"/><circle cx="1255.4" cy="1072.9" r="5.3"/>
<circle cx="1245.3" cy="1153.9" r="5.3"/><circle cx="1207.9" cy="1044.8" r="5.3"/><circle cx="1168.6" cy="1123.2" r="5.3"/><circle cx="1194" cy="1045.2" r="5.3"/><circle cx="1270.2" cy="1024.5" r="5.3"/><circle cx="1005.2" cy="961.7" r="5.3"/><circle cx="1114.4" cy="1232.6" r="5.3"/><circle cx="890.1" cy="881.1" r="5.3"/>
<circle cx="1158.3" cy="946.9" r="5.3"/><circle cx="1321.5" cy="1258.8" r="5.3"/><circle cx="1003.8" cy="975.6" r="5.3"/><circle cx="912.1" cy="868.8" r="5.3"/><circle cx="976.7" cy="833.4" r="5.3"/><circle cx="1140.6" cy="958" r="5.3"/><circle cx="1259.4" cy="1070.3" r="5.3"/><circle cx="1152.7" cy="1065.3" r="5.3"/>
<circle cx="918.2" cy="840.7" r="5.3"/><circle cx="1167.6" cy="953.6" r="5.3"/><circle cx="1301.2" cy="926.1" r="5.3"/><circle cx="1306.4" cy="1039.9" r="5.3"/><circle cx="1078" cy="1167.8" r="5.3"/><circle cx="1306.9" cy="1112.9" r="5.3"/><circle cx="1186.8" cy="1059.3" r="5.3"/><circle cx="1150.1" cy="1275.6" r="5.3"/>
<circle cx="1120.9" cy="968.6" r="5.3"/><circle cx="1090.4" cy="969" r="5.3"/><circle cx="1136.9" cy="1228.7" r="5.3"/><circle cx="1186.3" cy="1014.6" r="5.3"/><circle cx="1241.7" cy="1013.5" r="5.3"/><circle cx="1195.9" cy="1212.6" r="5.3"/><circle cx="930.6" cy="915.9" r="5.3"/><circle cx="1010.6" cy="878.9" r="5.3"/>
<circle cx="945.9" cy="886.6" r="5.3"/><circle cx="1321.6" cy="1208.3" r="5.3"/><circle cx="1123.9" cy="1053.4" r="5.3"/><circle cx="1137.6" cy="1269.3" r="5.3"/><circle cx="1130" cy="962.9" r="5.3"/><circle cx="1142" cy="1042.6" r="5.3"/><circle cx="1151.2" cy="1017.7" r="5.3"/><circle cx="946.4" cy="1007.7" r="5.3"/>
<circle cx="920.4" cy="895.9" r="5.3"/><circle cx="1230.4" cy="1061.1" r="5.3"/><circle cx="1137.1" cy="1110.8" r="5.3"/><circle cx="1139" cy="961.4" r="5.3"/><circle cx="1096.7" cy="943.4" r="5.3"/><circle cx="1278.1" cy="1062.8" r="5.3"/><circle cx="1039.1" cy="1038.3" r="5.3"/><circle cx="975.8" cy="815" r="5.3"/>
<circle cx="1231.8" cy="1212.3" r="5.3"/><circle cx="987.1" cy="884.3" r="5.3"/><circle cx="1237.4" cy="987.8" r="5.3"/><circle cx="1029.5" cy="843" r="5.3"/><circle cx="1149.8" cy="1039.6" r="5.3"/><circle cx="1109.5" cy="971.3" r="5.3"/><circle cx="1230.7" cy="1102.3" r="5.3"/><circle cx="1166.1" cy="994.3" r="5.3"/>
<circle cx="1182.6" cy="963.1" r="5.3"/><circle cx="1245.4" cy="1061.1" r="5.3"/><circle cx="1223.9" cy="932.3" r="5.3"/><circle cx="1181.6" cy="1076.2" r="5.3"/><circle cx="1252.2" cy="1055.5" r="5.3"/><circle cx="886.8" cy="821.7" r="5.3"/><circle cx="1106.8" cy="955.4" r="5.3"/><circle cx="1227.7" cy="998.3" r="5.3"/>
<circle cx="1294" cy="1024.2" r="5.3"/><circle cx="1280.5" cy="1187.4" r="5.3"/><circle cx="910.9" cy="889.2" r="5.3"/><circle cx="1050.4" cy="930.1" r="5.3"/><circle cx="1243.2" cy="936.9" r="5.3"/><circle cx="1063.6" cy="952.4" r="5.3"/><circle cx="1140.4" cy="954.1" r="5.3"/><circle cx="1152.9" cy="941.7" r="5.3"/>
<circle cx="1307.7" cy="993.1" r="5.3"/><circle cx="943.1" cy="825.8" r="5.3"/><circle cx="1116.8" cy="1038.1" r="5.3"/><circle cx="886.3" cy="865" r="5.3"/><circle cx="1246.5" cy="937.6" r="5.3"/><circle cx="1278.7" cy="947.6" r="5.3"/><circle cx="1111.4" cy="977.4" r="5.3"/><circle cx="1177.8" cy="968" r="5.3"/>
<circle cx="1086.3" cy="993.3" r="5.3"/><circle cx="1122.6" cy="1071.3" r="5.3"/><circle cx="1170.1" cy="1052.6" r="5.3"/><circle cx="981.9" cy="926.1" r="5.3"/><circle cx="979.5" cy="934.9" r="5.3"/><circle cx="1191" cy="1156.8" r="5.3"/><circle cx="1042.9" cy="948" r="5.3"/><circle cx="1079.3" cy="1121.1" r="5.3"/>
<circle cx="1188.2" cy="1090.4" r="5.3"/><circle cx="964.5" cy="1167.5" r="5.3"/><circle cx="872" cy="877.7" r="5.3"/><circle cx="1086.8" cy="983.4" r="5.3"/><circle cx="1108.6" cy="879.2" r="5.3"/><circle cx="1017.3" cy="887.1" r="5.3"/><circle cx="1127.2" cy="934.6" r="5.3"/><circle cx="992.2" cy="928.9" r="5.3"/>
<circle cx="1132.5" cy="1087.2" r="5.3"/><circle cx="1132.5" cy="1019.7" r="5.3"/><circle cx="1211.2" cy="1268.1" r="5.3"/><circle cx="1173.4" cy="979.8" r="5.3"/><circle cx="1141.9" cy="1082.9" r="5.3"/><circle cx="1002.5" cy="882.8" r="5.3"/><circle cx="1057.4" cy="962.3" r="5.3"/><circle cx="1052.2" cy="978.2" r="5.3"/>
<circle cx="1086.4" cy="1165.5" r="5.3"/><circle cx="1158.4" cy="930.3" r="5.3"/><circle cx="1305.7" cy="947.1" r="5.3"/><circle cx="1017.2" cy="845.4" r="5.3"/><circle cx="908" cy="815" r="5.3"/><circle cx="1205" cy="1002.7" r="5.3"/><circle cx="1247.4" cy="1165.9" r="5.3"/><circle cx="1022.1" cy="816.9" r="5.3"/>
<circle cx="1047.9" cy="872.1" r="5.3"/><circle cx="881.2" cy="819.5" r="5.3"/><circle cx="983.5" cy="899.2" r="5.3"/><circle cx="1257.4" cy="1150.6" r="5.3"/><circle cx="888.7" cy="893" r="5.3"/><circle cx="1241.3" cy="1136.5" r="5.3"/><circle cx="1003.1" cy="885.4" r="5.3"/><circle cx="1173.6" cy="1056.8" r="5.3"/>
<circle cx="1240" cy="980.9" r="5.3"/><circle cx="1093.1" cy="1041.8" r="5.3"/><circle cx="1110" cy="1009.9" r="5.3"/><circle cx="1053.2" cy="815" r="5.3"/><circle cx="1142.3" cy="993.8" r="5.3"/><circle cx="1067.9" cy="1096.6" r="5.3"/><circle cx="1186.4" cy="1117.4" r="5.3"/><circle cx="1191.9" cy="1057.2" r="5.3"/>
<circle cx="1076.3" cy="1140.6" r="5.3"/><circle cx="1160" cy="1077.2" r="5.3"/><circle cx="1225.2" cy="996.5" r="5.3"/><circle cx="968" cy="834.1" r="5.3"/><circle cx="1194" cy="1019" r="5.3"/><circle cx="1097.3" cy="1053.4" r="5.3"/><circle cx="1068.9" cy="1156.9" r="5.3"/><circle cx="900.7" cy="825.9" r="5.3"/>
<circle cx="997" cy="955" r="5.3"/><circle cx="887.5" cy="890.1" r="5.3"/><circle cx="969" cy="878.7" r="5.3"/><circle cx="1208.8" cy="1040.6" r="5.3"/>
</g>
<path d="M945.7 845.9 Q1134.3 1022.6 1322.9 1168 L1322.9 1197 Q1134.3 1017.8 945.7 870.1 Z" fill="#e0426e" fill-opacity=".11" stroke="none"/>
<g fill="#fb8861" stroke="#ef7a5c">
<circle cx="1152.1" cy="1264.4" r="5.3"/><circle cx="1293.5" cy="1158.6" r="5.3"/><circle cx="1247.3" cy="1235.6" r="5.3"/><circle cx="1109.1" cy="1183.8" r="5.3"/><circle cx="1312.6" cy="1219.5" r="5.3"/><circle cx="997.3" cy="869.3" r="5.3"/><circle cx="1101.5" cy="958.5" r="5.3"/><circle cx="1145.5" cy="1145.2" r="5.3"/>
<circle cx="1241.8" cy="1237.3" r="5.3"/><circle cx="874.8" cy="934.8" r="5.3"/><circle cx="1129.2" cy="1003.1" r="5.3"/><circle cx="1175.4" cy="1281.8" r="5.3"/><circle cx="1314.2" cy="1226.6" r="5.3"/><circle cx="1211.7" cy="1143.8" r="5.3"/><circle cx="1095.4" cy="1240.5" r="5.3"/><circle cx="1070.3" cy="1082.6" r="5.3"/>
<circle cx="1010" cy="915.6" r="5.3"/><circle cx="1149" cy="1158.5" r="5.3"/><circle cx="1174.3" cy="1171.5" r="5.3"/><circle cx="1147" cy="1220.4" r="5.3"/><circle cx="1165.1" cy="1154" r="5.3"/><circle cx="1288.4" cy="1107.8" r="5.3"/><circle cx="1051.2" cy="910.5" r="5.3"/><circle cx="1142.2" cy="1124.2" r="5.3"/>
<circle cx="1183" cy="1170.4" r="5.3"/><circle cx="1291" cy="1085.4" r="5.3"/><circle cx="1146.8" cy="1258.5" r="5.3"/><circle cx="1249.6" cy="1204.5" r="5.3"/><circle cx="1068.7" cy="1014.6" r="5.3"/><circle cx="1135.8" cy="960.3" r="5.3"/><circle cx="1177.9" cy="1182" r="5.3"/><circle cx="1322.3" cy="1202" r="5.3"/>
<circle cx="1216.1" cy="1263.4" r="5.3"/><circle cx="1201.7" cy="1199.6" r="5.3"/><circle cx="1037.3" cy="909.3" r="5.3"/><circle cx="1279.8" cy="1243.3" r="5.3"/><circle cx="1064.4" cy="1219.1" r="5.3"/><circle cx="1187.3" cy="1109.7" r="5.3"/><circle cx="1171.6" cy="1178.6" r="5.3"/><circle cx="1222.6" cy="1119.1" r="5.3"/>
<circle cx="1204.9" cy="1028.3" r="5.3"/><circle cx="1096.5" cy="1000.5" r="5.3"/><circle cx="1065.3" cy="1141.9" r="5.3"/><circle cx="1064.9" cy="984.1" r="5.3"/><circle cx="1108.6" cy="1238.5" r="5.3"/><circle cx="1098.9" cy="1177.2" r="5.3"/><circle cx="1188" cy="1062.3" r="5.3"/><circle cx="904.2" cy="958.9" r="5.3"/>
<circle cx="1124.4" cy="1167.7" r="5.3"/><circle cx="1138.2" cy="1205.2" r="5.3"/><circle cx="1139.6" cy="1212.1" r="5.3"/><circle cx="1137.8" cy="1278.6" r="5.3"/><circle cx="1233.3" cy="1166.2" r="5.3"/><circle cx="991.9" cy="934.1" r="5.3"/><circle cx="1094" cy="1229.8" r="5.3"/><circle cx="1143.4" cy="1039.2" r="5.3"/>
<circle cx="1142.9" cy="1148.7" r="5.3"/><circle cx="1267.3" cy="1154.1" r="5.3"/><circle cx="1238.2" cy="1136.7" r="5.3"/><circle cx="1205.5" cy="1132.9" r="5.3"/><circle cx="1212.2" cy="1249.2" r="5.3"/><circle cx="913.9" cy="850.5" r="5.3"/><circle cx="1228.7" cy="1186.7" r="5.3"/><circle cx="1120.7" cy="1275.1" r="5.3"/>
<circle cx="900.4" cy="911.1" r="5.3"/><circle cx="1151.5" cy="1102.9" r="5.3"/><circle cx="1289.1" cy="1145.3" r="5.3"/><circle cx="1270.5" cy="1269.2" r="5.3"/><circle cx="1169.8" cy="1170.4" r="5.3"/><circle cx="1014.2" cy="906.8" r="5.3"/><circle cx="990.2" cy="846.6" r="5.3"/><circle cx="1321.6" cy="1103.5" r="5.3"/>
<circle cx="1303" cy="1092.8" r="5.3"/><circle cx="1096.4" cy="988.3" r="5.3"/><circle cx="1143.4" cy="1256.5" r="5.3"/><circle cx="1128.1" cy="1174.7" r="5.3"/><circle cx="1072.6" cy="1120.6" r="5.3"/><circle cx="1070.5" cy="1016.4" r="5.3"/><circle cx="1267.7" cy="1024.6" r="5.3"/><circle cx="1125.1" cy="1109.4" r="5.3"/>
<circle cx="1273.1" cy="1032.6" r="5.3"/><circle cx="1194.5" cy="1279.4" r="5.3"/><circle cx="1160.7" cy="844" r="5.3"/><circle cx="1277.3" cy="1172.7" r="5.3"/><circle cx="1137.7" cy="1043.3" r="5.3"/><circle cx="1266.5" cy="1140.1" r="5.3"/><circle cx="1165.7" cy="1115.4" r="5.3"/><circle cx="1101.1" cy="1214.8" r="5.3"/>
<circle cx="984.5" cy="889.6" r="5.3"/><circle cx="1284.1" cy="1064.9" r="5.3"/><circle cx="1279.1" cy="1126.2" r="5.3"/><circle cx="1112.3" cy="1145.3" r="5.3"/><circle cx="874" cy="1133.7" r="5.3"/><circle cx="1225.1" cy="1253.9" r="5.3"/><circle cx="1170.5" cy="1225.5" r="5.3"/><circle cx="1023.1" cy="884.4" r="5.3"/>
<circle cx="1184" cy="1129" r="5.3"/><circle cx="1108.2" cy="1118.8" r="5.3"/><circle cx="1180.2" cy="979.9" r="5.3"/><circle cx="1216.8" cy="1200.5" r="5.3"/><circle cx="1134.9" cy="1276.1" r="5.3"/><circle cx="1172.8" cy="1213.2" r="5.3"/><circle cx="1168" cy="1064" r="5.3"/><circle cx="1059.7" cy="966.5" r="5.3"/>
<circle cx="1247.5" cy="951.8" r="5.3"/><circle cx="1100.4" cy="1133.5" r="5.3"/><circle cx="1101.2" cy="980.7" r="5.3"/><circle cx="1167.2" cy="1076.7" r="5.3"/><circle cx="891.9" cy="850.6" r="5.3"/><circle cx="1158.9" cy="1245.6" r="5.3"/><circle cx="1075.6" cy="981" r="5.3"/><circle cx="1226.8" cy="945.7" r="5.3"/>
<circle cx="1173.3" cy="950.7" r="5.3"/><circle cx="1143.9" cy="1270.5" r="5.3"/><circle cx="1206.5" cy="1205.9" r="5.3"/><circle cx="1164" cy="1201.1" r="5.3"/><circle cx="1147.5" cy="1121.2" r="5.3"/><circle cx="1095.1" cy="1271.6" r="5.3"/><circle cx="1215.9" cy="1181.9" r="5.3"/><circle cx="1141.3" cy="1011.5" r="5.3"/>
<circle cx="1209.4" cy="1150.8" r="5.3"/><circle cx="1093.9" cy="1042.3" r="5.3"/><circle cx="1161.4" cy="1248.6" r="5.3"/><circle cx="1208.7" cy="1123.5" r="5.3"/><circle cx="1299.8" cy="1239.5" r="5.3"/><circle cx="1230.8" cy="1257.4" r="5.3"/><circle cx="1287.6" cy="1070.2" r="5.3"/><circle cx="1172.5" cy="1184.5" r="5.3"/>
<circle cx="1115.7" cy="976.9" r="5.3"/><circle cx="1160.6" cy="1172.9" r="5.3"/><circle cx="1248.9" cy="1007.1" r="5.3"/><circle cx="1135.2" cy="1024.8" r="5.3"/><circle cx="1081.2" cy="1218.2" r="5.3"/><circle cx="1123.1" cy="1220.8" r="5.3"/><circle cx="1205.2" cy="1176.8" r="5.3"/><circle cx="1128.4" cy="1217.6" r="5.3"/>
<circle cx="1133.2" cy="1142.5" r="5.3"/><circle cx="1166.5" cy="1206.8" r="5.3"/><circle cx="1207" cy="1244.3" r="5.3"/><circle cx="1216" cy="1140.8" r="5.3"/><circle cx="1059.9" cy="931.7" r="5.3"/><circle cx="1165.8" cy="1138.8" r="5.3"/><circle cx="1297.8" cy="1164.1" r="5.3"/><circle cx="1177.7" cy="1163.7" r="5.3"/>
<circle cx="1276.8" cy="1225.4" r="5.3"/><circle cx="1246.2" cy="1017.5" r="5.3"/><circle cx="1163.3" cy="1033.3" r="5.3"/><circle cx="1301" cy="1086.5" r="5.3"/><circle cx="1142.8" cy="1215.3" r="5.3"/><circle cx="1015" cy="854.6" r="5.3"/><circle cx="1230.3" cy="1148.1" r="5.3"/><circle cx="1219.8" cy="1269" r="5.3"/>
<circle cx="1070.6" cy="1011.2" r="5.3"/><circle cx="1153.3" cy="1271.8" r="5.3"/><circle cx="1152.6" cy="1194.9" r="5.3"/><circle cx="1223.7" cy="1257" r="5.3"/><circle cx="1142.1" cy="1189.9" r="5.3"/><circle cx="1219" cy="1170.7" r="5.3"/><circle cx="1187.8" cy="1213.8" r="5.3"/><circle cx="1293.1" cy="1130.7" r="5.3"/>
<circle cx="1200.9" cy="1219.4" r="5.3"/><circle cx="1233.4" cy="1237.7" r="5.3"/><circle cx="1132.7" cy="1260.7" r="5.3"/><circle cx="1211.3" cy="1139.1" r="5.3"/><circle cx="1199.8" cy="1177.6" r="5.3"/><circle cx="1249.6" cy="943.4" r="5.3"/><circle cx="1181.5" cy="1263" r="5.3"/><circle cx="1196.7" cy="1065.3" r="5.3"/>
<circle cx="1303.9" cy="1181.9" r="5.3"/><circle cx="1239.6" cy="1227.4" r="5.3"/><circle cx="1255.6" cy="1217.9" r="5.3"/><circle cx="1104.2" cy="1152.5" r="5.3"/><circle cx="1200.7" cy="1124.8" r="5.3"/><circle cx="1172.3" cy="1263.5" r="5.3"/><circle cx="1095.6" cy="1117.1" r="5.3"/><circle cx="1224.3" cy="1149.9" r="5.3"/>
<circle cx="1202.8" cy="1154.4" r="5.3"/><circle cx="1234" cy="1218.2" r="5.3"/><circle cx="1223.1" cy="989.9" r="5.3"/><circle cx="1189.8" cy="1098.4" r="5.3"/><circle cx="1116.5" cy="1270.8" r="5.3"/><circle cx="1166.4" cy="1143.2" r="5.3"/><circle cx="1244.2" cy="954.9" r="5.3"/><circle cx="1143.3" cy="1254.1" r="5.3"/>
<circle cx="1094.9" cy="1165.5" r="5.3"/><circle cx="1208.7" cy="1190.2" r="5.3"/><circle cx="1118.9" cy="1180.5" r="5.3"/><circle cx="1089" cy="958.5" r="5.3"/><circle cx="1173.1" cy="1241.5" r="5.3"/><circle cx="1102.7" cy="1237.3" r="5.3"/><circle cx="1275.1" cy="1194.6" r="5.3"/><circle cx="1221.8" cy="1137.9" r="5.3"/>
<circle cx="1165.9" cy="1197" r="5.3"/><circle cx="1216.7" cy="994.6" r="5.3"/><circle cx="883.5" cy="864.5" r="5.3"/><circle cx="919.1" cy="909.4" r="5.3"/><circle cx="1250.8" cy="1076.6" r="5.3"/><circle cx="1183.3" cy="1182.3" r="5.3"/><circle cx="1101.8" cy="1228.6" r="5.3"/><circle cx="1241.5" cy="1084.8" r="5.3"/>
<circle cx="1047" cy="1212.2" r="5.3"/><circle cx="1223.8" cy="1222.6" r="5.3"/><circle cx="893.2" cy="878.4" r="5.3"/><circle cx="1261" cy="1234" r="5.3"/><circle cx="1222.6" cy="1245.5" r="5.3"/><circle cx="1315.7" cy="1199.4" r="5.3"/><circle cx="1211.1" cy="1136.8" r="5.3"/><circle cx="1114.1" cy="1140.8" r="5.3"/>
<circle cx="887.6" cy="907.9" r="5.3"/><circle cx="1251.9" cy="1259.9" r="5.3"/><circle cx="928.3" cy="1007.7" r="5.3"/><circle cx="1044.7" cy="897.8" r="5.3"/><circle cx="1210.1" cy="1140.4" r="5.3"/><circle cx="930.2" cy="847.5" r="5.3"/><circle cx="1064.1" cy="979.8" r="5.3"/><circle cx="1230.2" cy="1130.8" r="5.3"/>
<circle cx="1123.1" cy="1163.7" r="5.3"/><circle cx="1276" cy="1013" r="5.3"/><circle cx="1222.4" cy="1231.8" r="5.3"/><circle cx="1272.4" cy="1116.7" r="5.3"/><circle cx="1082.1" cy="1194.9" r="5.3"/><circle cx="1137.9" cy="1035.3" r="5.3"/><circle cx="1177.6" cy="1184.1" r="5.3"/><circle cx="1129.3" cy="1155.3" r="5.3"/>
<circle cx="1185.9" cy="1173.4" r="5.3"/><circle cx="1120.7" cy="1170.2" r="5.3"/><circle cx="1197.4" cy="1242.7" r="5.3"/><circle cx="1122.2" cy="1134.6" r="5.3"/><circle cx="1159.3" cy="999.8" r="5.3"/><circle cx="1161.9" cy="974.5" r="5.3"/><circle cx="1301.9" cy="1264.3" r="5.3"/><circle cx="1105" cy="1123.8" r="5.3"/>
<circle cx="1056.8" cy="843.5" r="5.3"/><circle cx="1185.1" cy="1263.4" r="5.3"/><circle cx="1028.1" cy="904.1" r="5.3"/><circle cx="1230.5" cy="1172.2" r="5.3"/><circle cx="1112.8" cy="1019.7" r="5.3"/><circle cx="1068.9" cy="862.8" r="5.3"/><circle cx="1165.1" cy="996.4" r="5.3"/><circle cx="1192.9" cy="1155.9" r="5.3"/>
<circle cx="874.3" cy="838.1" r="5.3"/><circle cx="1218.5" cy="1146.7" r="5.3"/><circle cx="1169" cy="1266" r="5.3"/><circle cx="1155.4" cy="1190.8" r="5.3"/><circle cx="1283.5" cy="1263.2" r="5.3"/><circle cx="1156.3" cy="1047.9" r="5.3"/><circle cx="1244.2" cy="1116.7" r="5.3"/><circle cx="1047.3" cy="963.2" r="5.3"/>
<circle cx="1165.8" cy="1242.7" r="5.3"/><circle cx="1203" cy="1024.1" r="5.3"/><circle cx="1129.7" cy="1274.9" r="5.3"/><circle cx="1060.1" cy="984.5" r="5.3"/><circle cx="957.2" cy="859.7" r="5.3"/><circle cx="1090" cy="1105.4" r="5.3"/><circle cx="1206" cy="1149.1" r="5.3"/><circle cx="1052.2" cy="1193.8" r="5.3"/>
<circle cx="1118.7" cy="1268.3" r="5.3"/><circle cx="1132.2" cy="1174.5" r="5.3"/><circle cx="1241.1" cy="1170.5" r="5.3"/><circle cx="1160.6" cy="1083.8" r="5.3"/><circle cx="1103.9" cy="1147.7" r="5.3"/><circle cx="1317.7" cy="1195.2" r="5.3"/><circle cx="1096.8" cy="1047.3" r="5.3"/><circle cx="1307.3" cy="1240.2" r="5.3"/>
<circle cx="1154.8" cy="1106.3" r="5.3"/><circle cx="1096.9" cy="1186.3" r="5.3"/><circle cx="1169" cy="1191.3" r="5.3"/><circle cx="1179.8" cy="1171" r="5.3"/><circle cx="1056.2" cy="1132.6" r="5.3"/><circle cx="1229.8" cy="1202.9" r="5.3"/><circle cx="1205.4" cy="1114.8" r="5.3"/><circle cx="1100.1" cy="1028.5" r="5.3"/>
<circle cx="1051.3" cy="943.9" r="5.3"/><circle cx="1317.1" cy="1062.5" r="5.3"/><circle cx="1294.8" cy="1116.6" r="5.3"/><circle cx="1025.2" cy="880" r="5.3"/><circle cx="1274.8" cy="1246.9" r="5.3"/><circle cx="1212.9" cy="1081.8" r="5.3"/><circle cx="1175.7" cy="1146.4" r="5.3"/><circle cx="1146.8" cy="1134.2" r="5.3"/>
<circle cx="1093.4" cy="973.3" r="5.3"/><circle cx="1095.8" cy="1211.5" r="5.3"/><circle cx="1090.7" cy="1226.9" r="5.3"/><circle cx="1295.2" cy="1227.9" r="5.3"/><circle cx="1296.5" cy="1178.6" r="5.3"/><circle cx="955.5" cy="1007.7" r="5.3"/><circle cx="1026.1" cy="942.1" r="5.3"/><circle cx="1193.5" cy="1197.3" r="5.3"/>
<circle cx="1262" cy="951.7" r="5.3"/><circle cx="1124.9" cy="1149.2" r="5.3"/><circle cx="1187.1" cy="1265.3" r="5.3"/><circle cx="1163.4" cy="970.3" r="5.3"/><circle cx="1187.9" cy="1084.3" r="5.3"/><circle cx="1075.6" cy="1018.9" r="5.3"/><circle cx="1310.2" cy="1220.5" r="5.3"/><circle cx="1322.8" cy="1131.5" r="5.3"/>
<circle cx="1169.5" cy="1155.9" r="5.3"/><circle cx="1117.1" cy="1235.2" r="5.3"/><circle cx="1077.5" cy="1191.8" r="5.3"/><circle cx="1217.1" cy="1067" r="5.3"/><circle cx="1273.6" cy="1201.1" r="5.3"/><circle cx="1300.3" cy="1261.2" r="5.3"/><circle cx="1209.7" cy="1241.2" r="5.3"/><circle cx="871.7" cy="837" r="5.3"/>
<circle cx="1095.3" cy="1273.4" r="5.3"/><circle cx="1260.5" cy="1138" r="5.3"/><circle cx="1318.2" cy="1240.2" r="5.3"/><circle cx="1216.2" cy="1125.3" r="5.3"/><circle cx="1114.9" cy="1265.2" r="5.3"/><circle cx="896.9" cy="881.4" r="5.3"/><circle cx="1058.5" cy="988.9" r="5.3"/><circle cx="1129.3" cy="1063.4" r="5.3"/>
<circle cx="1250.1" cy="1089.5" r="5.3"/><circle cx="1302" cy="1259.8" r="5.3"/><circle cx="1195.5" cy="1146.9" r="5.3"/><circle cx="1314.1" cy="1126.5" r="5.3"/><circle cx="995.5" cy="958.9" r="5.3"/><circle cx="1038.8" cy="972.4" r="5.3"/><circle cx="1309.5" cy="1164.7" r="5.3"/><circle cx="1243.7" cy="1140.8" r="5.3"/>
<circle cx="1145.4" cy="1202.5" r="5.3"/><circle cx="1197.7" cy="1161.2" r="5.3"/><circle cx="1230.6" cy="1014.1" r="5.3"/><circle cx="1307.6" cy="1214.2" r="5.3"/><circle cx="1185.6" cy="1272" r="5.3"/><circle cx="919.5" cy="847.7" r="5.3"/><circle cx="1190" cy="1249.1" r="5.3"/><circle cx="1246.3" cy="1152" r="5.3"/>
<circle cx="1193.6" cy="1269.7" r="5.3"/>
</g>
<path d="M945.7 930.9 Q1134.3 1101.4 1322.9 1210 L1322.9 1248.6 Q1134.3 1087.8 945.7 988.8 Z" fill="#fb8861" fill-opacity=".11" stroke="none"/>
<g fill="#fed395" stroke="#f7c582">
<circle cx="1053.4" cy="827" r="5.3"/><circle cx="1022.1" cy="926" r="5.3"/><circle cx="1320.4" cy="1142.8" r="5.3"/><circle cx="1089.4" cy="1186.4" r="5.3"/><circle cx="1234.5" cy="1214.4" r="5.3"/><circle cx="1188" cy="1007" r="5.3"/><circle cx="1113.6" cy="939.6" r="5.3"/><circle cx="1286.2" cy="1272.2" r="5.3"/>
<circle cx="1191.9" cy="1162.2" r="5.3"/><circle cx="1253.4" cy="1238.9" r="5.3"/><circle cx="1119.1" cy="1002.7" r="5.3"/><circle cx="1006.9" cy="817.6" r="5.3"/><circle cx="1113.5" cy="1027.6" r="5.3"/><circle cx="1061.7" cy="1002.1" r="5.3"/><circle cx="1188.9" cy="1037.3" r="5.3"/><circle cx="1036.9" cy="860.1" r="5.3"/>
<circle cx="1028.4" cy="919.4" r="5.3"/><circle cx="1096.6" cy="968.3" r="5.3"/><circle cx="1313" cy="1083.3" r="5.3"/><circle cx="1216.4" cy="1185.9" r="5.3"/><circle cx="1025.1" cy="865.5" r="5.3"/><circle cx="1025.1" cy="862.6" r="5.3"/><circle cx="1088.9" cy="1252.2" r="5.3"/><circle cx="1100.5" cy="1219.7" r="5.3"/>
<circle cx="1198.7" cy="1002.9" r="5.3"/><circle cx="1062.9" cy="819.8" r="5.3"/><circle cx="1011" cy="829.2" r="5.3"/><circle cx="1079.9" cy="1183.1" r="5.3"/><circle cx="1146.3" cy="1267.9" r="5.3"/><circle cx="1100.4" cy="1275.5" r="5.3"/><circle cx="1294" cy="1090.2" r="5.3"/><circle cx="1229.8" cy="1207.8" r="5.3"/>
<circle cx="1262" cy="1179.3" r="5.3"/><circle cx="1131.2" cy="1242.8" r="5.3"/><circle cx="1123.3" cy="1058.5" r="5.3"/><circle cx="1232.7" cy="1015.2" r="5.3"/><circle cx="1177.5" cy="1058.3" r="5.3"/><circle cx="1036.9" cy="991.8" r="5.3"/><circle cx="974.4" cy="883.6" r="5.3"/><circle cx="1321" cy="1282.6" r="5.3"/>
<circle cx="1151" cy="940.7" r="5.3"/><circle cx="1117.5" cy="1038.8" r="5.3"/><circle cx="1085.5" cy="974" r="5.3"/><circle cx="1119.4" cy="995.1" r="5.3"/><circle cx="1249.7" cy="1068.4" r="5.3"/><circle cx="1226.6" cy="1001.8" r="5.3"/><circle cx="1085.4" cy="944.3" r="5.3"/><circle cx="1257.8" cy="933.6" r="5.3"/>
<circle cx="1234.4" cy="1139" r="5.3"/><circle cx="1302.6" cy="1200.5" r="5.3"/><circle cx="883.3" cy="825" r="5.3"/><circle cx="1132.6" cy="1225.9" r="5.3"/><circle cx="1231" cy="1241.2" r="5.3"/><circle cx="1139.7" cy="979.8" r="5.3"/><circle cx="897.3" cy="893.6" r="5.3"/><circle cx="1189.5" cy="1100.2" r="5.3"/>
<circle cx="1214.5" cy="1036.8" r="5.3"/><circle cx="1186" cy="1091.3" r="5.3"/><circle cx="1228.8" cy="1147.8" r="5.3"/><circle cx="1116.2" cy="955.9" r="5.3"/><circle cx="1154.1" cy="1241" r="5.3"/><circle cx="1166.9" cy="1226.2" r="5.3"/><circle cx="1246.2" cy="1087.6" r="5.3"/><circle cx="1213.5" cy="1223.4" r="5.3"/>
<circle cx="1205" cy="988.9" r="5.3"/><circle cx="1026.7" cy="892.4" r="5.3"/><circle cx="1147.9" cy="1067.4" r="5.3"/><circle cx="1180.1" cy="1120.1" r="5.3"/><circle cx="1244.5" cy="993.1" r="5.3"/><circle cx="1238.9" cy="993.5" r="5.3"/><circle cx="928.8" cy="876.2" r="5.3"/><circle cx="874.1" cy="816.3" r="5.3"/>
<circle cx="1090.7" cy="860" r="5.3"/><circle cx="1009.8" cy="969" r="5.3"/><circle cx="1117.2" cy="1266.7" r="5.3"/><circle cx="969.8" cy="1007.7" r="5.3"/><circle cx="874.8" cy="929.9" r="5.3"/><circle cx="1302" cy="1135.2" r="5.3"/><circle cx="947.6" cy="885.3" r="5.3"/><circle cx="1140.4" cy="1275.3" r="5.3"/>
<circle cx="1044.7" cy="1002.5" r="5.3"/><circle cx="1133.3" cy="1010.1" r="5.3"/><circle cx="1053.6" cy="830.8" r="5.3"/><circle cx="1273.5" cy="1056" r="5.3"/><circle cx="1148.3" cy="1129" r="5.3"/><circle cx="1121.1" cy="1030.8" r="5.3"/><circle cx="1016.8" cy="940.9" r="5.3"/><circle cx="991.3" cy="867.1" r="5.3"/>
<circle cx="1043.4" cy="864.6" r="5.3"/><circle cx="1080.9" cy="1101" r="5.3"/><circle cx="1194" cy="1037.3" r="5.3"/><circle cx="1110.1" cy="1203.6" r="5.3"/><circle cx="1210.8" cy="1153.5" r="5.3"/><circle cx="1241.4" cy="1015.1" r="5.3"/><circle cx="1314.2" cy="1233.7" r="5.3"/><circle cx="990.9" cy="938.6" r="5.3"/>
<circle cx="1160.7" cy="1077" r="5.3"/><circle cx="912.1" cy="845.3" r="5.3"/><circle cx="1316.2" cy="1075" r="5.3"/><circle cx="1156.2" cy="1273.3" r="5.3"/><circle cx="1048.3" cy="996.1" r="5.3"/><circle cx="1132.1" cy="1134.7" r="5.3"/><circle cx="1293.8" cy="1084.4" r="5.3"/><circle cx="1286.7" cy="1065.9" r="5.3"/>
<circle cx="1148.5" cy="1227.8" r="5.3"/><circle cx="1278.7" cy="1116.8" r="5.3"/><circle cx="1061.1" cy="1097.8" r="5.3"/><circle cx="1045.6" cy="1042.9" r="5.3"/><circle cx="1097.8" cy="928.9" r="5.3"/><circle cx="1251.1" cy="1217" r="5.3"/><circle cx="1048.7" cy="943.6" r="5.3"/><circle cx="1095" cy="920" r="5.3"/>
<circle cx="1160.7" cy="834.3" r="5.3"/><circle cx="1201.2" cy="947.6" r="5.3"/><circle cx="871.6" cy="825.4" r="5.3"/><circle cx="1248" cy="1146.2" r="5.3"/><circle cx="989.2" cy="843.7" r="5.3"/><circle cx="1088.8" cy="1007" r="5.3"/><circle cx="1044.9" cy="1140" r="5.3"/><circle cx="959.3" cy="1126.5" r="5.3"/>
<circle cx="1120" cy="1198.5" r="5.3"/><circle cx="1210.6" cy="1002.1" r="5.3"/><circle cx="1060.2" cy="1086.4" r="5.3"/><circle cx="1130" cy="1270.6" r="5.3"/><circle cx="1176.1" cy="1096.2" r="5.3"/><circle cx="1227.2" cy="1016.5" r="5.3"/><circle cx="1082.7" cy="824.9" r="5.3"/><circle cx="1091.6" cy="895.1" r="5.3"/>
<circle cx="1189.6" cy="1192.9" r="5.3"/><circle cx="991.7" cy="926.6" r="5.3"/><circle cx="1250" cy="1100.3" r="5.3"/><circle cx="1074.2" cy="1044.5" r="5.3"/><circle cx="1112.3" cy="1123.5" r="5.3"/><circle cx="969.8" cy="884" r="5.3"/><circle cx="1138.1" cy="1136" r="5.3"/><circle cx="1203.8" cy="1084.6" r="5.3"/>
<circle cx="1169.7" cy="1101.9" r="5.3"/><circle cx="1217.2" cy="1008.6" r="5.3"/><circle cx="1073.7" cy="1209.8" r="5.3"/><circle cx="1126.3" cy="939.8" r="5.3"/><circle cx="1092.8" cy="1072" r="5.3"/><circle cx="1175.2" cy="997.1" r="5.3"/><circle cx="1100.2" cy="1097.7" r="5.3"/><circle cx="1163.7" cy="979.1" r="5.3"/>
<circle cx="1221.4" cy="937.5" r="5.3"/><circle cx="1265" cy="1178.1" r="5.3"/><circle cx="1286.1" cy="1063.8" r="5.3"/><circle cx="1281.5" cy="1247.7" r="5.3"/><circle cx="995.5" cy="895.4" r="5.3"/><circle cx="1063.9" cy="896.2" r="5.3"/><circle cx="1289.3" cy="1029.6" r="5.3"/><circle cx="1260.6" cy="1042.9" r="5.3"/>
<circle cx="1150.6" cy="978.6" r="5.3"/><circle cx="1228" cy="1152.2" r="5.3"/><circle cx="1021" cy="934.1" r="5.3"/><circle cx="1218" cy="1082.8" r="5.3"/><circle cx="1057.9" cy="1043" r="5.3"/><circle cx="963" cy="1007.7" r="5.3"/><circle cx="985.2" cy="886.3" r="5.3"/><circle cx="1211.7" cy="1021.8" r="5.3"/>
<circle cx="1135" cy="1026.8" r="5.3"/><circle cx="1259.4" cy="1005" r="5.3"/><circle cx="1165.9" cy="1221.7" r="5.3"/><circle cx="1230.1" cy="1218.8" r="5.3"/><circle cx="1047.6" cy="973.2" r="5.3"/><circle cx="1224" cy="1039.1" r="5.3"/><circle cx="887.6" cy="988.4" r="5.3"/><circle cx="1119.8" cy="978.7" r="5.3"/>
<circle cx="1227.4" cy="1114.4" r="5.3"/><circle cx="1147.5" cy="1175.7" r="5.3"/><circle cx="1302.3" cy="937" r="5.3"/><circle cx="1169.9" cy="979" r="5.3"/><circle cx="1023.2" cy="946.7" r="5.3"/><circle cx="1205.8" cy="1009.8" r="5.3"/><circle cx="1012.8" cy="963.1" r="5.3"/><circle cx="984.7" cy="815" r="5.3"/>
<circle cx="1105.6" cy="945" r="5.3"/><circle cx="1265.2" cy="1214" r="5.3"/><circle cx="1073.2" cy="903.6" r="5.3"/><circle cx="1105.6" cy="1248.3" r="5.3"/><circle cx="1047" cy="1017.2" r="5.3"/><circle cx="1175.5" cy="1232.8" r="5.3"/><circle cx="1234.7" cy="977.3" r="5.3"/><circle cx="1253.9" cy="1077" r="5.3"/>
<circle cx="1061.5" cy="899.5" r="5.3"/><circle cx="1200.1" cy="1178.3" r="5.3"/><circle cx="1068.6" cy="848.4" r="5.3"/><circle cx="1297.6" cy="1052.7" r="5.3"/><circle cx="939.9" cy="815.9" r="5.3"/><circle cx="1239.4" cy="945.2" r="5.3"/><circle cx="1025.9" cy="872.6" r="5.3"/><circle cx="1172.7" cy="1166.8" r="5.3"/>
<circle cx="923.1" cy="835.7" r="5.3"/><circle cx="1072.7" cy="1120.1" r="5.3"/><circle cx="1193" cy="1266.7" r="5.3"/><circle cx="1247.1" cy="969.1" r="5.3"/><circle cx="1316.3" cy="1121.5" r="5.3"/><circle cx="1148.9" cy="1216.3" r="5.3"/><circle cx="1084.1" cy="1101.4" r="5.3"/><circle cx="1183.2" cy="952.7" r="5.3"/>
<circle cx="950.5" cy="910.7" r="5.3"/><circle cx="1120.4" cy="1036" r="5.3"/><circle cx="1081.7" cy="1056.2" r="5.3"/><circle cx="1247.7" cy="1094.4" r="5.3"/><circle cx="1265.4" cy="1147.7" r="5.3"/><circle cx="1131.9" cy="1104.2" r="5.3"/><circle cx="1026.2" cy="976.3" r="5.3"/><circle cx="1059.6" cy="1024.6" r="5.3"/>
<circle cx="1082.7" cy="1156.5" r="5.3"/><circle cx="1182.7" cy="1253.5" r="5.3"/><circle cx="1078.8" cy="1100.3" r="5.3"/><circle cx="1166.8" cy="1242" r="5.3"/><circle cx="1171.6" cy="955.9" r="5.3"/><circle cx="917.5" cy="881.5" r="5.3"/><circle cx="1183.3" cy="997.5" r="5.3"/><circle cx="1133" cy="1216.2" r="5.3"/>
<circle cx="1063.5" cy="1145.9" r="5.3"/><circle cx="1204.9" cy="1280.3" r="5.3"/><circle cx="1051.1" cy="815" r="5.3"/><circle cx="1218" cy="1131" r="5.3"/><circle cx="1184.7" cy="1240.1" r="5.3"/><circle cx="986.4" cy="940.8" r="5.3"/><circle cx="1267.9" cy="1189.7" r="5.3"/><circle cx="1172.7" cy="1113" r="5.3"/>
<circle cx="1075.7" cy="945.8" r="5.3"/><circle cx="1064.4" cy="1133.8" r="5.3"/><circle cx="1218.6" cy="1152.7" r="5.3"/><circle cx="978.1" cy="958.9" r="5.3"/><circle cx="1306.5" cy="1106.9" r="5.3"/><circle cx="1128.4" cy="935.8" r="5.3"/><circle cx="924.1" cy="875.9" r="5.3"/><circle cx="1101.6" cy="1000.7" r="5.3"/>
<circle cx="1179.6" cy="1082.7" r="5.3"/><circle cx="1241.9" cy="1209.4" r="5.3"/><circle cx="1185.3" cy="1222.9" r="5.3"/><circle cx="1072" cy="1057" r="5.3"/><circle cx="1257.8" cy="1102.6" r="5.3"/><circle cx="1049.3" cy="1086.4" r="5.3"/><circle cx="1206" cy="970" r="5.3"/><circle cx="1207.9" cy="1220.2" r="5.3"/>
<circle cx="1106.4" cy="963.5" r="5.3"/><circle cx="1109.9" cy="1107.7" r="5.3"/><circle cx="973.6" cy="820.9" r="5.3"/><circle cx="1108.3" cy="1176.9" r="5.3"/><circle cx="1053.8" cy="1041.5" r="5.3"/><circle cx="1320.7" cy="1259.8" r="5.3"/><circle cx="1077" cy="992.7" r="5.3"/><circle cx="1173.6" cy="1138.9" r="5.3"/>
<circle cx="925.8" cy="910.3" r="5.3"/><circle cx="1047.9" cy="925.6" r="5.3"/><circle cx="1076.2" cy="1200.8" r="5.3"/><circle cx="1014.1" cy="876.3" r="5.3"/><circle cx="1000" cy="819" r="5.3"/><circle cx="1074.3" cy="978.3" r="5.3"/><circle cx="1319.6" cy="1127.8" r="5.3"/><circle cx="1048.8" cy="895.9" r="5.3"/>
<circle cx="1096.4" cy="1161.6" r="5.3"/><circle cx="1218.3" cy="1279.6" r="5.3"/><circle cx="1111.4" cy="977.6" r="5.3"/><circle cx="1183.2" cy="946" r="5.3"/><circle cx="1108.4" cy="1104.4" r="5.3"/><circle cx="1303" cy="1061.4" r="5.3"/><circle cx="1088.6" cy="1187.7" r="5.3"/><circle cx="1049" cy="816.7" r="5.3"/>
<circle cx="1099.6" cy="1149.6" r="5.3"/><circle cx="1181.4" cy="1171.7" r="5.3"/><circle cx="1107.1" cy="1003.7" r="5.3"/><circle cx="1174.7" cy="974.5" r="5.3"/><circle cx="1218.2" cy="1022.3" r="5.3"/><circle cx="1252.1" cy="1074.3" r="5.3"/><circle cx="1141.8" cy="1053.7" r="5.3"/><circle cx="1191.3" cy="932.8" r="5.3"/>
<circle cx="1248.8" cy="1153.4" r="5.3"/><circle cx="1152.8" cy="966.6" r="5.3"/><circle cx="1297.7" cy="1225.1" r="5.3"/><circle cx="1035.2" cy="867.8" r="5.3"/><circle cx="1079.9" cy="829.6" r="5.3"/><circle cx="1224.7" cy="1060.6" r="5.3"/><circle cx="1120.6" cy="946.8" r="5.3"/><circle cx="1110.5" cy="992.6" r="5.3"/>
<circle cx="1184.7" cy="996.8" r="5.3"/><circle cx="1177.1" cy="1214.7" r="5.3"/><circle cx="1104.3" cy="1030.4" r="5.3"/><circle cx="1055.2" cy="1012.2" r="5.3"/><circle cx="1191.9" cy="1002.6" r="5.3"/><circle cx="1161.8" cy="1199.2" r="5.3"/><circle cx="1285.3" cy="1127.1" r="5.3"/><circle cx="1127.5" cy="1123.9" r="5.3"/>
<circle cx="1299.2" cy="1219.8" r="5.3"/><circle cx="1041.5" cy="919.7" r="5.3"/><circle cx="1228.4" cy="1218.7" r="5.3"/><circle cx="956.9" cy="907.7" r="5.3"/><circle cx="939.2" cy="867.7" r="5.3"/><circle cx="1225.9" cy="1025.8" r="5.3"/><circle cx="1261.9" cy="1254.6" r="5.3"/><circle cx="995.7" cy="932.1" r="5.3"/>
<circle cx="1236" cy="1069.5" r="5.3"/><circle cx="1095.4" cy="879.1" r="5.3"/><circle cx="1137.6" cy="982.8" r="5.3"/><circle cx="1075.5" cy="917.3" r="5.3"/><circle cx="1076.3" cy="1108" r="5.3"/><circle cx="1064.9" cy="1039.2" r="5.3"/><circle cx="1216.8" cy="960.9" r="5.3"/><circle cx="1001.8" cy="828.1" r="5.3"/>
<circle cx="1247" cy="1052.9" r="5.3"/><circle cx="1081.6" cy="1044.3" r="5.3"/><circle cx="1204.9" cy="1235.4" r="5.3"/><circle cx="1128.3" cy="1126.6" r="5.3"/><circle cx="1122.3" cy="1095.3" r="5.3"/><circle cx="1316" cy="1174.7" r="5.3"/><circle cx="1266.9" cy="1047.9" r="5.3"/><circle cx="1068.9" cy="868.9" r="5.3"/>
<circle cx="1047.2" cy="1022.5" r="5.3"/><circle cx="1313.7" cy="1172.5" r="5.3"/><circle cx="1132.6" cy="1010.6" r="5.3"/><circle cx="1028.9" cy="815" r="5.3"/><circle cx="1279.7" cy="1002.5" r="5.3"/><circle cx="1155.6" cy="1107.1" r="5.3"/><circle cx="1258" cy="1012.7" r="5.3"/><circle cx="1178.1" cy="1278.3" r="5.3"/>
<circle cx="915.2" cy="902" r="5.3"/><circle cx="1218.7" cy="1000.4" r="5.3"/><circle cx="1124.1" cy="1147.8" r="5.3"/><circle cx="1129.7" cy="1179.5" r="5.3"/><circle cx="1038.8" cy="956.2" r="5.3"/><circle cx="1145.3" cy="1087.6" r="5.3"/><circle cx="1142.4" cy="1088.2" r="5.3"/><circle cx="1092.5" cy="888.2" r="5.3"/>
<circle cx="1234.8" cy="1045" r="5.3"/><circle cx="1233.2" cy="1253.2" r="5.3"/><circle cx="1191.9" cy="987.3" r="5.3"/><circle cx="1196.1" cy="1217" r="5.3"/><circle cx="1156.4" cy="972" r="5.3"/><circle cx="1059.4" cy="978.9" r="5.3"/><circle cx="1082.4" cy="1050.1" r="5.3"/><circle cx="1078.8" cy="1177.1" r="5.3"/>
<circle cx="1075.3" cy="967.3" r="5.3"/><circle cx="1083.8" cy="1165.4" r="5.3"/><circle cx="1310" cy="1226.1" r="5.3"/><circle cx="1100.2" cy="1185.8" r="5.3"/><circle cx="1286.2" cy="987.2" r="5.3"/><circle cx="1062.6" cy="874.3" r="5.3"/><circle cx="1091.4" cy="1222.1" r="5.3"/><circle cx="1130" cy="1174.2" r="5.3"/>
<circle cx="1167.9" cy="1044.3" r="5.3"/><circle cx="1112.3" cy="953.6" r="5.3"/><circle cx="1222.2" cy="985.7" r="5.3"/><circle cx="1264.5" cy="1018.2" r="5.3"/><circle cx="1169.9" cy="1053.6" r="5.3"/><circle cx="1311.1" cy="1221.4" r="5.3"/><circle cx="1073.5" cy="978" r="5.3"/><circle cx="942.3" cy="840.4" r="5.3"/>
<circle cx="1150" cy="1172.8" r="5.3"/><circle cx="1286.9" cy="1235.5" r="5.3"/><circle cx="992.6" cy="818.8" r="5.3"/><circle cx="1066.5" cy="1135" r="5.3"/><circle cx="1194.5" cy="956.2" r="5.3"/><circle cx="1045.7" cy="1001.6" r="5.3"/><circle cx="1141.6" cy="1270.9" r="5.3"/><circle cx="1109.2" cy="995.5" r="5.3"/>
<circle cx="1083.7" cy="937" r="5.3"/><circle cx="1243.4" cy="1246.3" r="5.3"/><circle cx="1081.2" cy="841" r="5.3"/><circle cx="926.8" cy="954.1" r="5.3"/><circle cx="1199.9" cy="1077" r="5.3"/><circle cx="1118" cy="979.6" r="5.3"/><circle cx="1089.6" cy="936.8" r="5.3"/><circle cx="1287.8" cy="1121.4" r="5.3"/>
<circle cx="1274.6" cy="954.8" r="5.3"/><circle cx="1045.4" cy="1068.9" r="5.3"/><circle cx="1221.6" cy="1248.7" r="5.3"/><circle cx="1096.6" cy="986.2" r="5.3"/><circle cx="879.8" cy="837.9" r="5.3"/><circle cx="1160.1" cy="985.2" r="5.3"/><circle cx="1062.8" cy="1088.7" r="5.3"/><circle cx="1276" cy="1042.2" r="5.3"/>
<circle cx="1181.7" cy="1098.2" r="5.3"/><circle cx="1227.9" cy="952.1" r="5.3"/><circle cx="905.4" cy="908.6" r="5.3"/><circle cx="1065.6" cy="981.4" r="5.3"/><circle cx="1115.4" cy="1103.9" r="5.3"/><circle cx="1070.9" cy="1185.5" r="5.3"/><circle cx="1074.1" cy="987" r="5.3"/><circle cx="1111.6" cy="933" r="5.3"/>
<circle cx="942.6" cy="892.7" r="5.3"/><circle cx="1128.6" cy="1240.4" r="5.3"/><circle cx="1089.7" cy="993.5" r="5.3"/><circle cx="1129.9" cy="1251.6" r="5.3"/><circle cx="880" cy="871.3" r="5.3"/><circle cx="1217" cy="1063.6" r="5.3"/><circle cx="1159.2" cy="1081" r="5.3"/><circle cx="1076.7" cy="1014.6" r="5.3"/>
<circle cx="893.5" cy="904.9" r="5.3"/><circle cx="1087.5" cy="1262.6" r="5.3"/><circle cx="999.8" cy="901.5" r="5.3"/><circle cx="1115.2" cy="1282.6" r="5.3"/><circle cx="1047.3" cy="833.3" r="5.3"/><circle cx="1292.2" cy="969" r="5.3"/><circle cx="1232.4" cy="997.2" r="5.3"/><circle cx="1225.2" cy="1197.5" r="5.3"/>
<circle cx="901.7" cy="902.3" r="5.3"/><circle cx="1088.5" cy="829.9" r="5.3"/><circle cx="1160.7" cy="1260.6" r="5.3"/><circle cx="1055.6" cy="815" r="5.3"/><circle cx="1052.7" cy="1063.3" r="5.3"/><circle cx="936.2" cy="847" r="5.3"/><circle cx="1110.2" cy="996.4" r="5.3"/><circle cx="1259.2" cy="1107.6" r="5.3"/>
<circle cx="1085.7" cy="1065" r="5.3"/><circle cx="1270.8" cy="1008.8" r="5.3"/><circle cx="881.7" cy="822.6" r="5.3"/>
</g>
<path d="M945.7 876.8 Q1134.3 1042.2 1322.9 1175.7 L1322.9 1204.7 Q1134.3 1039.3 945.7 905.8 Z" fill="#fed395" fill-opacity=".11" stroke="none"/>
</g>
<path d="M945.7 858 L1322.9 1182.5" stroke="#dc4a6f" stroke-width="3.2" fill="none"/>
<path d="M945.7 959.9 L1322.9 1229.3" stroke="#f98a63" stroke-width="3.2" fill="none"/>
<path d="M945.7 891.3 L1322.9 1190.2" stroke="#fbd08f" stroke-width="3.2" fill="none"/>
<path d="M769 790.5 V1322.7 H1349.7" fill="none" stroke="#1a1a1a" stroke-width="1.5"/>
<path d="M794.8 1322.7v6.4M870.2 1322.7v6.4M945.7 1322.7v6.4M1021.1 1322.7v6.4M1096.6 1322.7v6.4M1172 1322.7v6.4M1247.4 1322.7v6.4M1322.9 1322.7v6.4M769 1297.9h-6.4M769 1201.3h-6.4M769 1104.7h-6.4M769 1008.2h-6.4M769 911.6h-6.4M769 815h-6.4" stroke="#1a1a1a" stroke-width="1.5" fill="none"/>
<g text-anchor="middle">
<text x="794.8" y="1348.9">9</text>
<text x="870.2" y="1348.9">10</text>
<text x="945.7" y="1348.9">11</text>
<text x="1021.1" y="1348.9">12</text>
<text x="1096.6" y="1348.9">13</text>
<text x="1172" y="1348.9">14</text>
<text x="1247.4" y="1348.9">15</text>
<text x="1322.9" y="1348.9">16</text>
</g>
<!-- panel CL -->
<g class="pts">
<g fill="#e3416a" stroke="#c8406a">
<circle cx="300.3" cy="1561.2" r="5.3"/><circle cx="393.2" cy="1554.6" r="5.3"/><circle cx="342.3" cy="1466" r="5.3"/><circle cx="401" cy="1593.3" r="5.3"/><circle cx="326.4" cy="1560.4" r="5.3"/><circle cx="470.8" cy="1668.5" r="5.3"/><circle cx="411.8" cy="1505" r="5.3"/><circle cx="428.7" cy="1516.6" r="5.3"/>
<circle cx="525.2" cy="1640.5" r="5.3"/><circle cx="347.1" cy="1540.7" r="5.3"/><circle cx="268.4" cy="1506.8" r="5.3"/><circle cx="436.1" cy="1492" r="5.3"/><circle cx="448.1" cy="1529.9" r="5.3"/><circle cx="380.9" cy="1556.8" r="5.3"/><circle cx="321.4" cy="1538.7" r="5.3"/><circle cx="593.2" cy="1615.5" r="5.3"/>
<circle cx="455.3" cy="1520.7" r="5.3"/><circle cx="352.4" cy="1599.8" r="5.3"/><circle cx="224.4" cy="1629.5" r="5.3"/><circle cx="423.1" cy="1582.7" r="5.3"/><circle cx="529.1" cy="1473.3" r="5.3"/><circle cx="390.1" cy="1587.1" r="5.3"/><circle cx="578.4" cy="1768" r="5.3"/><circle cx="444.5" cy="1648.6" r="5.3"/>
<circle cx="369.8" cy="1774.3" r="5.3"/><circle cx="458" cy="1564.8" r="5.3"/><circle cx="489.6" cy="1650.8" r="5.3"/><circle cx="316.7" cy="1490.3" r="5.3"/><circle cx="502.2" cy="1530.6" r="5.3"/><circle cx="463.5" cy="1653.2" r="5.3"/><circle cx="453.3" cy="1495.7" r="5.3"/><circle cx="336.4" cy="1524.1" r="5.3"/>
<circle cx="313.2" cy="1487.8" r="5.3"/><circle cx="326.2" cy="1466" r="5.3"/><circle cx="376.9" cy="1493.3" r="5.3"/><circle cx="369.6" cy="1511" r="5.3"/><circle cx="276.7" cy="1466" r="5.3"/><circle cx="270.4" cy="1526.8" r="5.3"/><circle cx="341" cy="1546.1" r="5.3"/><circle cx="466.6" cy="1584.1" r="5.3"/>
<circle cx="368.9" cy="1534.3" r="5.3"/><circle cx="414.2" cy="1537.7" r="5.3"/><circle cx="381" cy="1466" r="5.3"/><circle cx="314.5" cy="1559.7" r="5.3"/><circle cx="585.1" cy="1713.5" r="5.3"/><circle cx="523.1" cy="1489" r="5.3"/><circle cx="431.7" cy="1740.5" r="5.3"/><circle cx="376.3" cy="1597.5" r="5.3"/>
<circle cx="305.2" cy="1555.9" r="5.3"/><circle cx="435.9" cy="1645.9" r="5.3"/><circle cx="296.1" cy="1558.4" r="5.3"/><circle cx="548.1" cy="1745.3" r="5.3"/><circle cx="332.2" cy="1564.4" r="5.3"/><circle cx="307.2" cy="1586.8" r="5.3"/><circle cx="449.6" cy="1502.7" r="5.3"/><circle cx="402.7" cy="1619" r="5.3"/>
<circle cx="448.4" cy="1665.2" r="5.3"/><circle cx="379" cy="1623.3" r="5.3"/><circle cx="473.2" cy="1636.6" r="5.3"/><circle cx="450.1" cy="1629.9" r="5.3"/><circle cx="432.4" cy="1536.6" r="5.3"/><circle cx="463.7" cy="1556.2" r="5.3"/><circle cx="337.3" cy="1524.8" r="5.3"/><circle cx="286" cy="1504.3" r="5.3"/>
<circle cx="299" cy="1523.6" r="5.3"/><circle cx="500.9" cy="1558" r="5.3"/><circle cx="275" cy="1524.9" r="5.3"/><circle cx="435.7" cy="1720.7" r="5.3"/><circle cx="303.7" cy="1485.8" r="5.3"/><circle cx="582.4" cy="1636.3" r="5.3"/><circle cx="407.3" cy="1545.1" r="5.3"/><circle cx="393.7" cy="1552.4" r="5.3"/>
<circle cx="366.9" cy="1485" r="5.3"/><circle cx="231.8" cy="1488.7" r="5.3"/><circle cx="354.2" cy="1545.6" r="5.3"/><circle cx="476.4" cy="1466" r="5.3"/><circle cx="513.6" cy="1466" r="5.3"/><circle cx="267.9" cy="1541.4" r="5.3"/><circle cx="344.5" cy="1514.6" r="5.3"/><circle cx="473.9" cy="1522.6" r="5.3"/>
<circle cx="453.8" cy="1569.3" r="5.3"/><circle cx="410.8" cy="1595.2" r="5.3"/><circle cx="415.3" cy="1548.6" r="5.3"/><circle cx="329.2" cy="1515.9" r="5.3"/><circle cx="422.4" cy="1471" r="5.3"/><circle cx="438.2" cy="1516" r="5.3"/><circle cx="448.2" cy="1659" r="5.3"/><circle cx="469.3" cy="1636.5" r="5.3"/>
<circle cx="367.4" cy="1484.6" r="5.3"/><circle cx="456.5" cy="1645.7" r="5.3"/><circle cx="455.6" cy="1566.8" r="5.3"/><circle cx="349" cy="1649.6" r="5.3"/><circle cx="460.7" cy="1497.2" r="5.3"/><circle cx="367.9" cy="1556.3" r="5.3"/><circle cx="352" cy="1550.2" r="5.3"/><circle cx="398.7" cy="1550.1" r="5.3"/>
<circle cx="260.5" cy="1533.5" r="5.3"/><circle cx="586.5" cy="1646.9" r="5.3"/><circle cx="458.9" cy="1502.6" r="5.3"/><circle cx="392.9" cy="1666.1" r="5.3"/><circle cx="365.8" cy="1555" r="5.3"/><circle cx="352.6" cy="1643.7" r="5.3"/><circle cx="360.1" cy="1480.9" r="5.3"/><circle cx="198.2" cy="1495.9" r="5.3"/>
<circle cx="434.5" cy="1560.8" r="5.3"/><circle cx="263" cy="1466" r="5.3"/><circle cx="545.4" cy="1677.3" r="5.3"/><circle cx="394.9" cy="1505" r="5.3"/><circle cx="410.2" cy="1525.4" r="5.3"/><circle cx="298.3" cy="1466" r="5.3"/><circle cx="462" cy="1602.9" r="5.3"/><circle cx="451.9" cy="1703.3" r="5.3"/>
<circle cx="371" cy="1535.2" r="5.3"/><circle cx="497.5" cy="1520.5" r="5.3"/><circle cx="329.4" cy="1467.5" r="5.3"/><circle cx="406.6" cy="1668.7" r="5.3"/><circle cx="512.8" cy="1533.3" r="5.3"/><circle cx="435.9" cy="1489.7" r="5.3"/><circle cx="501" cy="1690.3" r="5.3"/><circle cx="439.8" cy="1687.4" r="5.3"/>
<circle cx="346" cy="1479.2" r="5.3"/><circle cx="394.6" cy="1596.8" r="5.3"/><circle cx="334.6" cy="1507.3" r="5.3"/><circle cx="371.4" cy="1487" r="5.3"/><circle cx="440.7" cy="1627.9" r="5.3"/><circle cx="331" cy="1522.4" r="5.3"/><circle cx="280.1" cy="1552.9" r="5.3"/><circle cx="280.7" cy="1495.2" r="5.3"/>
<circle cx="345.9" cy="1525.7" r="5.3"/><circle cx="271.7" cy="1542" r="5.3"/><circle cx="433.6" cy="1513" r="5.3"/><circle cx="474.4" cy="1466" r="5.3"/><circle cx="426.2" cy="1632.2" r="5.3"/><circle cx="414.4" cy="1525.8" r="5.3"/><circle cx="425.4" cy="1672" r="5.3"/><circle cx="458.5" cy="1514.8" r="5.3"/>
<circle cx="504.5" cy="1622.8" r="5.3"/><circle cx="266.8" cy="1543.2" r="5.3"/><circle cx="429" cy="1802.7" r="5.3"/><circle cx="453.5" cy="1516.9" r="5.3"/><circle cx="447.2" cy="1472.1" r="5.3"/><circle cx="428.4" cy="1522.6" r="5.3"/><circle cx="347.6" cy="1528.6" r="5.3"/><circle cx="358.3" cy="1597.7" r="5.3"/>
<circle cx="571" cy="1519.1" r="5.3"/><circle cx="386.2" cy="1546" r="5.3"/><circle cx="456.1" cy="1613.1" r="5.3"/><circle cx="214.3" cy="1606.4" r="5.3"/><circle cx="388.7" cy="1608.7" r="5.3"/><circle cx="363.1" cy="1573.6" r="5.3"/><circle cx="468.8" cy="1543.1" r="5.3"/><circle cx="445.2" cy="1665.1" r="5.3"/>
<circle cx="321.8" cy="1517.9" r="5.3"/><circle cx="364.8" cy="1573.7" r="5.3"/><circle cx="347.5" cy="1530.2" r="5.3"/><circle cx="464.8" cy="1594.1" r="5.3"/><circle cx="215.7" cy="1518.1" r="5.3"/><circle cx="304.1" cy="1536.5" r="5.3"/><circle cx="468.6" cy="1672" r="5.3"/><circle cx="268.2" cy="1516.4" r="5.3"/>
<circle cx="462" cy="1714.4" r="5.3"/><circle cx="661.9" cy="1845.2" r="5.3"/><circle cx="500.6" cy="1471.6" r="5.3"/><circle cx="420.7" cy="1575.8" r="5.3"/><circle cx="625.5" cy="1646.9" r="5.3"/><circle cx="460" cy="1609.6" r="5.3"/><circle cx="436.2" cy="1481.2" r="5.3"/><circle cx="304.6" cy="1473.6" r="5.3"/>
<circle cx="499" cy="1719.3" r="5.3"/><circle cx="386.5" cy="1619" r="5.3"/><circle cx="423.5" cy="1495.7" r="5.3"/><circle cx="418.1" cy="1531.5" r="5.3"/><circle cx="410.2" cy="1477.5" r="5.3"/><circle cx="347.7" cy="1630.3" r="5.3"/><circle cx="531" cy="1516.3" r="5.3"/><circle cx="268.5" cy="1466" r="5.3"/>
<circle cx="379.3" cy="1560.4" r="5.3"/><circle cx="329.6" cy="1545.7" r="5.3"/><circle cx="439.2" cy="1466" r="5.3"/><circle cx="459.3" cy="1606.8" r="5.3"/><circle cx="428.7" cy="1521.1" r="5.3"/><circle cx="367.4" cy="1508.6" r="5.3"/><circle cx="408.4" cy="1466" r="5.3"/><circle cx="315.1" cy="1539.4" r="5.3"/>
<circle cx="377.2" cy="1546.1" r="5.3"/><circle cx="452.4" cy="1578.9" r="5.3"/><circle cx="432.8" cy="1496" r="5.3"/><circle cx="354.6" cy="1537.7" r="5.3"/><circle cx="335" cy="1591.1" r="5.3"/><circle cx="421.6" cy="1826.8" r="5.3"/><circle cx="448.3" cy="1571.4" r="5.3"/><circle cx="430.1" cy="1466" r="5.3"/>
<circle cx="427.9" cy="1522" r="5.3"/><circle cx="525.9" cy="1690.3" r="5.3"/><circle cx="452.4" cy="1549.1" r="5.3"/><circle cx="583.8" cy="1741.9" r="5.3"/><circle cx="424.7" cy="1651.1" r="5.3"/><circle cx="293.6" cy="1580.4" r="5.3"/><circle cx="284.7" cy="1537.6" r="5.3"/><circle cx="284.4" cy="1512.6" r="5.3"/>
<circle cx="520.5" cy="1752.5" r="5.3"/><circle cx="350" cy="1561.4" r="5.3"/><circle cx="467.5" cy="1466" r="5.3"/><circle cx="455.4" cy="1508.1" r="5.3"/><circle cx="408.8" cy="1687.4" r="5.3"/><circle cx="300" cy="1520.3" r="5.3"/><circle cx="355.6" cy="1678.3" r="5.3"/><circle cx="387.4" cy="1468" r="5.3"/>
<circle cx="464.4" cy="1672.4" r="5.3"/><circle cx="427.7" cy="1517.4" r="5.3"/><circle cx="462.8" cy="1614.2" r="5.3"/><circle cx="326.6" cy="1656.3" r="5.3"/><circle cx="281.3" cy="1562.1" r="5.3"/><circle cx="445.3" cy="1466.6" r="5.3"/><circle cx="549.5" cy="1569.2" r="5.3"/><circle cx="645" cy="1690.3" r="5.3"/>
<circle cx="363.1" cy="1470.4" r="5.3"/><circle cx="502" cy="1672.4" r="5.3"/><circle cx="348.8" cy="1522.4" r="5.3"/><circle cx="350.3" cy="1547.8" r="5.3"/><circle cx="503.7" cy="1597.2" r="5.3"/><circle cx="484.2" cy="1691.3" r="5.3"/><circle cx="470.2" cy="1671.5" r="5.3"/><circle cx="428.9" cy="1466" r="5.3"/>
<circle cx="350.1" cy="1631.5" r="5.3"/><circle cx="442.4" cy="1554.4" r="5.3"/><circle cx="394.3" cy="1571.2" r="5.3"/><circle cx="425.2" cy="1636.6" r="5.3"/><circle cx="367" cy="1552" r="5.3"/><circle cx="429.8" cy="1653.9" r="5.3"/><circle cx="379.1" cy="1491.2" r="5.3"/><circle cx="344.2" cy="1466" r="5.3"/>
<circle cx="236.5" cy="1543.2" r="5.3"/><circle cx="399.4" cy="1638.5" r="5.3"/><circle cx="439.5" cy="1471.2" r="5.3"/><circle cx="482.3" cy="1520.6" r="5.3"/><circle cx="443.7" cy="1622.2" r="5.3"/><circle cx="333.7" cy="1470.9" r="5.3"/><circle cx="390.8" cy="1565.7" r="5.3"/><circle cx="422.9" cy="1583.9" r="5.3"/>
<circle cx="357.3" cy="1499.8" r="5.3"/><circle cx="508.1" cy="1507.7" r="5.3"/><circle cx="443.5" cy="1470" r="5.3"/><circle cx="397.7" cy="1514.7" r="5.3"/><circle cx="323.9" cy="1477.7" r="5.3"/><circle cx="401.7" cy="1664.2" r="5.3"/><circle cx="378.7" cy="1500.4" r="5.3"/><circle cx="354.4" cy="1485.8" r="5.3"/>
<circle cx="541.4" cy="1586.6" r="5.3"/><circle cx="498.1" cy="1627.5" r="5.3"/><circle cx="383.5" cy="1483.3" r="5.3"/><circle cx="282.2" cy="1541" r="5.3"/><circle cx="407.1" cy="1537.1" r="5.3"/><circle cx="310" cy="1610.7" r="5.3"/><circle cx="584.5" cy="1580.8" r="5.3"/><circle cx="475.2" cy="1571.9" r="5.3"/>
<circle cx="571" cy="1610.2" r="5.3"/><circle cx="307.9" cy="1720.7" r="5.3"/><circle cx="479.1" cy="1597.1" r="5.3"/><circle cx="309.6" cy="1548.6" r="5.3"/><circle cx="438.1" cy="1583.3" r="5.3"/><circle cx="263.8" cy="1531.5" r="5.3"/><circle cx="398" cy="1677.3" r="5.3"/><circle cx="347.7" cy="1581" r="5.3"/>
<circle cx="458" cy="1607.5" r="5.3"/><circle cx="262.5" cy="1519.9" r="5.3"/><circle cx="402.3" cy="1596.8" r="5.3"/><circle cx="360" cy="1492.9" r="5.3"/><circle cx="501.5" cy="1482.5" r="5.3"/><circle cx="253.4" cy="1677.3" r="5.3"/><circle cx="342.6" cy="1560.5" r="5.3"/><circle cx="354.3" cy="1601.5" r="5.3"/>
<circle cx="497.9" cy="1467.2" r="5.3"/><circle cx="348.5" cy="1466" r="5.3"/><circle cx="436.4" cy="1542.6" r="5.3"/><circle cx="398" cy="1767.5" r="5.3"/><circle cx="397.4" cy="1557.7" r="5.3"/><circle cx="413.3" cy="1475.2" r="5.3"/><circle cx="273" cy="1511.5" r="5.3"/><circle cx="269.6" cy="1519.2" r="5.3"/>
<circle cx="445.4" cy="1510.6" r="5.3"/><circle cx="394.4" cy="1510.3" r="5.3"/><circle cx="517.9" cy="1511.1" r="5.3"/><circle cx="364.8" cy="1624.4" r="5.3"/><circle cx="502.4" cy="1832.1" r="5.3"/><circle cx="264" cy="1537.1" r="5.3"/><circle cx="335" cy="1552.8" r="5.3"/><circle cx="274.6" cy="1544.6" r="5.3"/>
<circle cx="390.1" cy="1570.2" r="5.3"/><circle cx="322.9" cy="1504.4" r="5.3"/><circle cx="303.8" cy="1563.7" r="5.3"/><circle cx="328.2" cy="1582" r="5.3"/><circle cx="616.1" cy="1908.8" r="5.3"/><circle cx="576.4" cy="1625.2" r="5.3"/><circle cx="397.7" cy="1614.6" r="5.3"/><circle cx="529.3" cy="1717.3" r="5.3"/>
<circle cx="483.6" cy="1623.3" r="5.3"/><circle cx="343.8" cy="1570.7" r="5.3"/><circle cx="252" cy="1494.9" r="5.3"/><circle cx="492.9" cy="1710.1" r="5.3"/><circle cx="365.7" cy="1731.8" r="5.3"/><circle cx="499.7" cy="1653.9" r="5.3"/><circle cx="596.6" cy="1816.7" r="5.3"/><circle cx="262.8" cy="1466" r="5.3"/>
<circle cx="441.4" cy="1542.9" r="5.3"/><circle cx="448.6" cy="1531.2" r="5.3"/><circle cx="526.6" cy="1606.1" r="5.3"/><circle cx="419.8" cy="1559.9" r="5.3"/><circle cx="580.4" cy="1599.6" r="5.3"/><circle cx="279.2" cy="1558.4" r="5.3"/><circle cx="417.6" cy="1635.1" r="5.3"/><circle cx="223.7" cy="1484.8" r="5.3"/>
<circle cx="430.2" cy="1546.2" r="5.3"/><circle cx="278.5" cy="1474" r="5.3"/><circle cx="280" cy="1534.5" r="5.3"/><circle cx="361.1" cy="1539.5" r="5.3"/><circle cx="364.7" cy="1555.5" r="5.3"/><circle cx="402.2" cy="1638.1" r="5.3"/><circle cx="441" cy="1466" r="5.3"/><circle cx="382.1" cy="1553.9" r="5.3"/>
<circle cx="415.7" cy="1570.6" r="5.3"/><circle cx="287.4" cy="1521.3" r="5.3"/><circle cx="448.5" cy="1506.1" r="5.3"/><circle cx="338.2" cy="1609.5" r="5.3"/><circle cx="364.6" cy="1526.2" r="5.3"/><circle cx="365" cy="1539.8" r="5.3"/><circle cx="437.5" cy="1628.6" r="5.3"/><circle cx="268.6" cy="1491.6" r="5.3"/>
<circle cx="373.6" cy="1628.8" r="5.3"/><circle cx="320" cy="1826.8" r="5.3"/><circle cx="322" cy="1826.8" r="5.3"/><circle cx="463.1" cy="1663.7" r="5.3"/><circle cx="270.6" cy="1514.4" r="5.3"/><circle cx="418.7" cy="1495.2" r="5.3"/><circle cx="403.6" cy="1643.4" r="5.3"/><circle cx="390.3" cy="1507.7" r="5.3"/>
<circle cx="479.7" cy="1566.5" r="5.3"/><circle cx="432.9" cy="1473.9" r="5.3"/><circle cx="331.7" cy="1480.6" r="5.3"/><circle cx="435.2" cy="1466" r="5.3"/><circle cx="645" cy="1690.8" r="5.3"/><circle cx="283.6" cy="1687.4" r="5.3"/><circle cx="389.9" cy="1489.3" r="5.3"/><circle cx="352.8" cy="1516.2" r="5.3"/>
<circle cx="472.3" cy="1646.7" r="5.3"/><circle cx="429.8" cy="1587.5" r="5.3"/><circle cx="410" cy="1621.1" r="5.3"/><circle cx="437.4" cy="1621.6" r="5.3"/><circle cx="302.1" cy="1539.1" r="5.3"/><circle cx="399.7" cy="1588.8" r="5.3"/><circle cx="444.8" cy="1549.9" r="5.3"/><circle cx="369.6" cy="1527.2" r="5.3"/>
<circle cx="262.7" cy="1483.8" r="5.3"/><circle cx="425.6" cy="1802.7" r="5.3"/><circle cx="422.7" cy="1466" r="5.3"/><circle cx="534.1" cy="1487.5" r="5.3"/><circle cx="413.5" cy="1539.8" r="5.3"/><circle cx="381" cy="1548.2" r="5.3"/><circle cx="379.2" cy="1687.4" r="5.3"/><circle cx="272" cy="1545.3" r="5.3"/>
<circle cx="390.4" cy="1466" r="5.3"/><circle cx="264.4" cy="1550.9" r="5.3"/><circle cx="277.3" cy="1524.1" r="5.3"/><circle cx="424.5" cy="1535.9" r="5.3"/><circle cx="425.8" cy="1545.2" r="5.3"/><circle cx="454.6" cy="1556.3" r="5.3"/><circle cx="448.9" cy="1629.1" r="5.3"/><circle cx="386.3" cy="1582.7" r="5.3"/>
<circle cx="369.8" cy="1543.5" r="5.3"/><circle cx="466.7" cy="1659.1" r="5.3"/><circle cx="449.5" cy="1624" r="5.3"/><circle cx="450" cy="1617.6" r="5.3"/><circle cx="439.2" cy="1502.6" r="5.3"/><circle cx="398.1" cy="1576.8" r="5.3"/><circle cx="359" cy="1532.4" r="5.3"/><circle cx="455.6" cy="1623.8" r="5.3"/>
<circle cx="626.2" cy="1687.9" r="5.3"/><circle cx="459" cy="1509.1" r="5.3"/><circle cx="561.6" cy="1659" r="5.3"/><circle cx="391.3" cy="1571.9" r="5.3"/><circle cx="351.7" cy="1466" r="5.3"/><circle cx="447.2" cy="1630.9" r="5.3"/><circle cx="494.3" cy="1783.4" r="5.3"/><circle cx="361.5" cy="1466" r="5.3"/>
<circle cx="277.4" cy="1481" r="5.3"/><circle cx="286.6" cy="1523.2" r="5.3"/><circle cx="285.4" cy="1512.7" r="5.3"/><circle cx="465.8" cy="1556.1" r="5.3"/><circle cx="476.1" cy="1681.6" r="5.3"/><circle cx="313.5" cy="1551.1" r="5.3"/><circle cx="359.2" cy="1466" r="5.3"/><circle cx="297.2" cy="1490.6" r="5.3"/>
<circle cx="462.6" cy="1506" r="5.3"/><circle cx="358.1" cy="1527.8" r="5.3"/><circle cx="413.4" cy="1615.1" r="5.3"/><circle cx="421.8" cy="1616.1" r="5.3"/><circle cx="441" cy="1598.4" r="5.3"/><circle cx="447.2" cy="1483.4" r="5.3"/><circle cx="471.6" cy="1622.5" r="5.3"/><circle cx="638.3" cy="1728.4" r="5.3"/>
<circle cx="482.4" cy="1509.8" r="5.3"/><circle cx="333" cy="1586.9" r="5.3"/><circle cx="444.6" cy="1536.5" r="5.3"/><circle cx="266.2" cy="1545.5" r="5.3"/><circle cx="336.2" cy="1545.3" r="5.3"/><circle cx="459.1" cy="1606.3" r="5.3"/><circle cx="274.5" cy="1530.4" r="5.3"/><circle cx="408.7" cy="1483" r="5.3"/>
<circle cx="314.6" cy="1527.3" r="5.3"/><circle cx="420" cy="1515.5" r="5.3"/><circle cx="400.5" cy="1664.6" r="5.3"/><circle cx="321.8" cy="1548.7" r="5.3"/><circle cx="405.6" cy="1494.1" r="5.3"/><circle cx="656.5" cy="1787.8" r="5.3"/><circle cx="403.6" cy="1551" r="5.3"/><circle cx="294.6" cy="1576.6" r="5.3"/>
<circle cx="506.4" cy="1745.3" r="5.3"/><circle cx="465.9" cy="1592.6" r="5.3"/><circle cx="307.2" cy="1590.2" r="5.3"/><circle cx="294.6" cy="1508.1" r="5.3"/><circle cx="435.5" cy="1501" r="5.3"/><circle cx="532.8" cy="1486.8" r="5.3"/><circle cx="369.5" cy="1481.5" r="5.3"/><circle cx="451.5" cy="1469.2" r="5.3"/>
<circle cx="626.2" cy="1687.4" r="5.3"/><circle cx="463.2" cy="1485.6" r="5.3"/><circle cx="440.9" cy="1560.4" r="5.3"/><circle cx="364.6" cy="1466" r="5.3"/><circle cx="337.2" cy="1498.6" r="5.3"/><circle cx="531.3" cy="1752.5" r="5.3"/><circle cx="303.6" cy="1535.3" r="5.3"/><circle cx="345" cy="1489.3" r="5.3"/>
<circle cx="328.5" cy="1599.7" r="5.3"/><circle cx="409.5" cy="1845.2" r="5.3"/><circle cx="622.2" cy="1738.6" r="5.3"/><circle cx="413.2" cy="1577.6" r="5.3"/><circle cx="411.4" cy="1541.2" r="5.3"/><circle cx="323.6" cy="1570.2" r="5.3"/><circle cx="372.7" cy="1466" r="5.3"/><circle cx="287.7" cy="1672.5" r="5.3"/>
<circle cx="321.2" cy="1473.6" r="5.3"/><circle cx="383" cy="1483.1" r="5.3"/><circle cx="511.7" cy="1639.9" r="5.3"/><circle cx="518.2" cy="1592.5" r="5.3"/><circle cx="409.7" cy="1605.6" r="5.3"/><circle cx="315.1" cy="1521.3" r="5.3"/><circle cx="284.9" cy="1578.9" r="5.3"/><circle cx="365" cy="1609" r="5.3"/>
<circle cx="345.7" cy="1525.5" r="5.3"/><circle cx="374.4" cy="1525.4" r="5.3"/><circle cx="402.8" cy="1698" r="5.3"/><circle cx="371.7" cy="1597.2" r="5.3"/><circle cx="321.7" cy="1628.2" r="5.3"/><circle cx="395.7" cy="1581.4" r="5.3"/><circle cx="362.8" cy="1559.5" r="5.3"/><circle cx="491.6" cy="1705.3" r="5.3"/>
<circle cx="365.7" cy="1678.3" r="5.3"/><circle cx="583.8" cy="1678.3" r="5.3"/><circle cx="262.4" cy="1574" r="5.3"/><circle cx="232.5" cy="1509.4" r="5.3"/><circle cx="347.6" cy="1678.3" r="5.3"/><circle cx="396" cy="1595" r="5.3"/><circle cx="516.4" cy="1647.2" r="5.3"/><circle cx="544.8" cy="1610.7" r="5.3"/>
<circle cx="305.5" cy="1566.7" r="5.3"/><circle cx="478" cy="1641.7" r="5.3"/><circle cx="386.2" cy="1466" r="5.3"/><circle cx="325" cy="1530" r="5.3"/><circle cx="436.9" cy="1617.8" r="5.3"/><circle cx="472.3" cy="1672.4" r="5.3"/><circle cx="391.6" cy="1615.7" r="5.3"/><circle cx="395.5" cy="1538.8" r="5.3"/>
<circle cx="277.5" cy="1476.7" r="5.3"/><circle cx="437.5" cy="1661.8" r="5.3"/><circle cx="359.1" cy="1478.3" r="5.3"/><circle cx="327" cy="1525.8" r="5.3"/><circle cx="374.4" cy="1609.6" r="5.3"/><circle cx="477.5" cy="1818.6" r="5.3"/><circle cx="584.5" cy="1677.3" r="5.3"/><circle cx="348.9" cy="1522.4" r="5.3"/>
<circle cx="427.2" cy="1535.3" r="5.3"/><circle cx="335.7" cy="1504.7" r="5.3"/><circle cx="487.6" cy="1738.6" r="5.3"/><circle cx="453.1" cy="1512" r="5.3"/><circle cx="327.7" cy="1561.1" r="5.3"/><circle cx="342.6" cy="1555.9" r="5.3"/><circle cx="470.1" cy="1937.3" r="5.3"/><circle cx="300.7" cy="1566.7" r="5.3"/>
<circle cx="443.2" cy="1562.4" r="5.3"/><circle cx="305.5" cy="1466" r="5.3"/><circle cx="261.9" cy="1488" r="5.3"/><circle cx="312.3" cy="1558.2" r="5.3"/><circle cx="590.5" cy="1613.6" r="5.3"/><circle cx="384.6" cy="1553" r="5.3"/><circle cx="509.1" cy="1732.3" r="5.3"/><circle cx="410.1" cy="1476.7" r="5.3"/>
<circle cx="467.8" cy="1644.7" r="5.3"/><circle cx="437.5" cy="1518.4" r="5.3"/><circle cx="450.5" cy="1493.8" r="5.3"/><circle cx="462.1" cy="1604.3" r="5.3"/><circle cx="396.4" cy="1492.7" r="5.3"/><circle cx="321.3" cy="1638.6" r="5.3"/><circle cx="524.5" cy="1617.1" r="5.3"/><circle cx="425.4" cy="1543.4" r="5.3"/>
<circle cx="351.1" cy="1530.1" r="5.3"/><circle cx="333.7" cy="1529" r="5.3"/><circle cx="476.1" cy="1633.7" r="5.3"/><circle cx="252" cy="1518.1" r="5.3"/><circle cx="332.9" cy="1509.5" r="5.3"/><circle cx="211.6" cy="1537.9" r="5.3"/><circle cx="433.5" cy="1551.3" r="5.3"/><circle cx="361.5" cy="1526.2" r="5.3"/>
<circle cx="554.9" cy="1668.6" r="5.3"/><circle cx="342" cy="1536" r="5.3"/><circle cx="445" cy="1526.9" r="5.3"/><circle cx="464" cy="1718.8" r="5.3"/><circle cx="481.4" cy="1614.6" r="5.3"/><circle cx="453.7" cy="1487.5" r="5.3"/><circle cx="345.5" cy="1540" r="5.3"/><circle cx="365.7" cy="1899.7" r="5.3"/>
<circle cx="354.2" cy="1501.7" r="5.3"/><circle cx="293.6" cy="1615.2" r="5.3"/><circle cx="431.6" cy="1580.4" r="5.3"/><circle cx="270.8" cy="1483.2" r="5.3"/><circle cx="417.6" cy="1521.9" r="5.3"/><circle cx="283.7" cy="1596.5" r="5.3"/><circle cx="368" cy="1617.3" r="5.3"/><circle cx="275.9" cy="1525" r="5.3"/>
<circle cx="307.6" cy="1501.8" r="5.3"/><circle cx="485.6" cy="1672.4" r="5.3"/><circle cx="336" cy="1561.6" r="5.3"/><circle cx="521.2" cy="1745.3" r="5.3"/><circle cx="424.7" cy="1601.8" r="5.3"/><circle cx="307.3" cy="1593.3" r="5.3"/><circle cx="277.1" cy="1494" r="5.3"/><circle cx="515.4" cy="1466" r="5.3"/>
<circle cx="536.7" cy="1761.7" r="5.3"/><circle cx="420.4" cy="1478.8" r="5.3"/><circle cx="233.8" cy="1528.7" r="5.3"/><circle cx="283.3" cy="1527.4" r="5.3"/><circle cx="585.1" cy="1805.6" r="5.3"/><circle cx="414.5" cy="1532.4" r="5.3"/><circle cx="276.1" cy="1466" r="5.3"/><circle cx="343.2" cy="1481.7" r="5.3"/>
<circle cx="323.6" cy="1588.8" r="5.3"/><circle cx="404.9" cy="1548" r="5.3"/><circle cx="328.3" cy="1550.1" r="5.3"/><circle cx="296.9" cy="1578.4" r="5.3"/><circle cx="398.8" cy="1667.3" r="5.3"/><circle cx="374.2" cy="1496.7" r="5.3"/><circle cx="363.4" cy="1489.5" r="5.3"/><circle cx="408.9" cy="1630" r="5.3"/>
<circle cx="449.5" cy="1565.4" r="5.3"/><circle cx="433.7" cy="1793.5" r="5.3"/><circle cx="347.3" cy="1580.9" r="5.3"/><circle cx="490.6" cy="1653.3" r="5.3"/><circle cx="293.4" cy="1611.4" r="5.3"/><circle cx="356.3" cy="1702.4" r="5.3"/><circle cx="557.5" cy="1882.8" r="5.3"/><circle cx="610" cy="1597.7" r="5.3"/>
<circle cx="381.3" cy="1589.1" r="5.3"/><circle cx="483.9" cy="1466.2" r="5.3"/><circle cx="525.4" cy="1469.9" r="5.3"/><circle cx="521.5" cy="1477.7" r="5.3"/><circle cx="476.2" cy="1673" r="5.3"/><circle cx="328.5" cy="1586" r="5.3"/><circle cx="436.6" cy="1581" r="5.3"/><circle cx="303.4" cy="1495" r="5.3"/>
<circle cx="409.4" cy="1647.6" r="5.3"/><circle cx="313.5" cy="1539.3" r="5.3"/><circle cx="386.3" cy="1648.6" r="5.3"/><circle cx="409.4" cy="1649.5" r="5.3"/><circle cx="517.2" cy="1675.4" r="5.3"/><circle cx="469.8" cy="1615.8" r="5.3"/><circle cx="476.1" cy="1727.9" r="5.3"/><circle cx="433.8" cy="1531.6" r="5.3"/>
<circle cx="517.8" cy="1732.3" r="5.3"/><circle cx="291.3" cy="1507.1" r="5.3"/><circle cx="306.5" cy="1467.1" r="5.3"/><circle cx="364.8" cy="1481.9" r="5.3"/><circle cx="519.2" cy="1536.1" r="5.3"/><circle cx="424.2" cy="1633.2" r="5.3"/><circle cx="474.5" cy="1466" r="5.3"/><circle cx="516.9" cy="1661.4" r="5.3"/>
<circle cx="274.4" cy="1469.3" r="5.3"/><circle cx="406.3" cy="1658.6" r="5.3"/><circle cx="346.5" cy="1557.8" r="5.3"/><circle cx="365" cy="1515.3" r="5.3"/><circle cx="264.2" cy="1496" r="5.3"/><circle cx="326.3" cy="1571.9" r="5.3"/><circle cx="413.7" cy="1544.8" r="5.3"/><circle cx="419.1" cy="1534.3" r="5.3"/>
<circle cx="459.8" cy="1603.3" r="5.3"/><circle cx="452.6" cy="1466" r="5.3"/><circle cx="430.4" cy="1690.3" r="5.3"/><circle cx="295.8" cy="1481.7" r="5.3"/><circle cx="354.5" cy="1597.3" r="5.3"/><circle cx="363.5" cy="1466" r="5.3"/><circle cx="421" cy="1484.4" r="5.3"/><circle cx="302.7" cy="1538.9" r="5.3"/>
<circle cx="551.5" cy="1639.7" r="5.3"/><circle cx="283.8" cy="1545.9" r="5.3"/><circle cx="308.4" cy="1541.3" r="5.3"/><circle cx="321.1" cy="1512.6" r="5.3"/><circle cx="565" cy="1630" r="5.3"/><circle cx="299.7" cy="1466" r="5.3"/><circle cx="507.5" cy="1619.3" r="5.3"/><circle cx="212.3" cy="1513.3" r="5.3"/>
<circle cx="429" cy="1682.1" r="5.3"/><circle cx="410" cy="1522.2" r="5.3"/><circle cx="340.5" cy="1577.3" r="5.3"/><circle cx="283.5" cy="1537.3" r="5.3"/><circle cx="352.7" cy="1528.5" r="5.3"/><circle cx="342.2" cy="1518.2" r="5.3"/><circle cx="418.8" cy="1517.9" r="5.3"/><circle cx="398.8" cy="1569.2" r="5.3"/>
<circle cx="313.6" cy="1466" r="5.3"/><circle cx="331" cy="1466" r="5.3"/><circle cx="281.5" cy="1521.2" r="5.3"/><circle cx="263.7" cy="1529.2" r="5.3"/><circle cx="467.8" cy="1627" r="5.3"/><circle cx="441.5" cy="1466" r="5.3"/><circle cx="442.9" cy="1609.6" r="5.3"/><circle cx="281.1" cy="1466" r="5.3"/>
<circle cx="269.5" cy="1473.4" r="5.3"/>
</g>
<path d="M262.1 1482.4 Q430.4 1581.1 598.6 1649.8 L598.6 1678.7 Q430.4 1571.3 262.1 1494 Z" fill="#e3416a" fill-opacity=".11" stroke="none"/>
<g fill="#fed395" stroke="#f7c582">
<circle cx="424.3" cy="1728.4" r="5.3"/><circle cx="271.5" cy="1468.3" r="5.3"/><circle cx="371.5" cy="1491.1" r="5.3"/><circle cx="433.7" cy="1682.1" r="5.3"/><circle cx="286.5" cy="1538" r="5.3"/><circle cx="332.4" cy="1536.7" r="5.3"/><circle cx="344.2" cy="1525" r="5.3"/><circle cx="521.2" cy="1697.1" r="5.3"/>
<circle cx="383" cy="1524.2" r="5.3"/><circle cx="414.6" cy="1506.4" r="5.3"/><circle cx="444.7" cy="1497" r="5.3"/><circle cx="398.7" cy="1498.9" r="5.3"/><circle cx="339.6" cy="1466" r="5.3"/><circle cx="448.5" cy="1466" r="5.3"/><circle cx="335.6" cy="1512.2" r="5.3"/><circle cx="425.1" cy="1508.1" r="5.3"/>
<circle cx="276.8" cy="1524.1" r="5.3"/><circle cx="321.3" cy="1529.4" r="5.3"/><circle cx="452.6" cy="1488.4" r="5.3"/><circle cx="382.2" cy="1526.1" r="5.3"/><circle cx="394.8" cy="1479" r="5.3"/><circle cx="288.4" cy="1524.8" r="5.3"/><circle cx="421.5" cy="1557.1" r="5.3"/><circle cx="515.3" cy="1633" r="5.3"/>
<circle cx="364.8" cy="1547.6" r="5.3"/><circle cx="539.4" cy="1681.6" r="5.3"/><circle cx="329.2" cy="1610.6" r="5.3"/><circle cx="273.8" cy="1471.7" r="5.3"/><circle cx="467.1" cy="1466" r="5.3"/><circle cx="506.4" cy="1758.8" r="5.3"/><circle cx="213" cy="1563" r="5.3"/><circle cx="368" cy="1562.1" r="5.3"/>
<circle cx="442.9" cy="1516.5" r="5.3"/><circle cx="462.6" cy="1484.4" r="5.3"/><circle cx="430.3" cy="1539.3" r="5.3"/><circle cx="444.3" cy="1466" r="5.3"/><circle cx="466.6" cy="1634.1" r="5.3"/><circle cx="471.2" cy="1611.3" r="5.3"/><circle cx="522.9" cy="1512.6" r="5.3"/><circle cx="504.5" cy="1579.4" r="5.3"/>
<circle cx="597.9" cy="1809.5" r="5.3"/><circle cx="231.8" cy="1475.2" r="5.3"/><circle cx="409.9" cy="1496.3" r="5.3"/><circle cx="424.4" cy="1530.9" r="5.3"/><circle cx="420.3" cy="1700.4" r="5.3"/><circle cx="305.8" cy="1524" r="5.3"/><circle cx="379.1" cy="1531.1" r="5.3"/><circle cx="342.5" cy="1500.4" r="5.3"/>
<circle cx="452.4" cy="1539.7" r="5.3"/><circle cx="319.2" cy="1520.5" r="5.3"/><circle cx="296.1" cy="1584.5" r="5.3"/><circle cx="454.6" cy="1602.1" r="5.3"/><circle cx="443" cy="1529.3" r="5.3"/><circle cx="404.2" cy="1532.9" r="5.3"/><circle cx="461.7" cy="1531.4" r="5.3"/><circle cx="328.3" cy="1533.9" r="5.3"/>
<circle cx="299.3" cy="1488.3" r="5.3"/><circle cx="483.9" cy="1479.2" r="5.3"/><circle cx="286.5" cy="1466" r="5.3"/><circle cx="270.6" cy="1498" r="5.3"/><circle cx="366.1" cy="1471" r="5.3"/><circle cx="338.8" cy="1496.4" r="5.3"/><circle cx="419.6" cy="1690.3" r="5.3"/><circle cx="462.5" cy="1513.5" r="5.3"/>
<circle cx="324.3" cy="1469.7" r="5.3"/><circle cx="343" cy="1467.6" r="5.3"/><circle cx="371.7" cy="1534.9" r="5.3"/><circle cx="365.7" cy="1571.5" r="5.3"/><circle cx="409.5" cy="1726.5" r="5.3"/><circle cx="385.9" cy="1540.5" r="5.3"/><circle cx="473" cy="1475.5" r="5.3"/><circle cx="415.7" cy="1515.8" r="5.3"/>
<circle cx="660.5" cy="1604.4" r="5.3"/><circle cx="450.6" cy="1536.9" r="5.3"/><circle cx="335.6" cy="1546.8" r="5.3"/><circle cx="379.6" cy="1537.5" r="5.3"/><circle cx="463" cy="1483.7" r="5.3"/><circle cx="308.2" cy="1535" r="5.3"/><circle cx="505.7" cy="1685.5" r="5.3"/><circle cx="337.8" cy="1526.7" r="5.3"/>
<circle cx="476.2" cy="1466" r="5.3"/><circle cx="426.4" cy="1516.7" r="5.3"/><circle cx="409.4" cy="1497.5" r="5.3"/><circle cx="544.1" cy="1723.6" r="5.3"/><circle cx="328.8" cy="1486.1" r="5.3"/><circle cx="288" cy="1559.7" r="5.3"/><circle cx="459.2" cy="1532.7" r="5.3"/><circle cx="421.5" cy="1517.2" r="5.3"/>
<circle cx="326.5" cy="1529.3" r="5.3"/><circle cx="507.2" cy="1491.8" r="5.3"/><circle cx="390.4" cy="1515.1" r="5.3"/><circle cx="477.3" cy="1496.4" r="5.3"/><circle cx="312.8" cy="1587.2" r="5.3"/><circle cx="287" cy="1519.1" r="5.3"/><circle cx="365" cy="1506.1" r="5.3"/><circle cx="327.1" cy="1533.5" r="5.3"/>
<circle cx="342" cy="1466" r="5.3"/><circle cx="439.8" cy="1466" r="5.3"/><circle cx="369.6" cy="1630.5" r="5.3"/><circle cx="443.8" cy="1671" r="5.3"/><circle cx="354.8" cy="1511.2" r="5.3"/><circle cx="268.8" cy="1506.8" r="5.3"/><circle cx="268.7" cy="1472.8" r="5.3"/><circle cx="370.4" cy="1488.7" r="5.3"/>
<circle cx="597.9" cy="1563.4" r="5.3"/><circle cx="427.7" cy="1485.5" r="5.3"/><circle cx="329.5" cy="1500.5" r="5.3"/><circle cx="406.7" cy="1541.3" r="5.3"/><circle cx="499.1" cy="1492.4" r="5.3"/><circle cx="398.6" cy="1499.7" r="5.3"/><circle cx="215.7" cy="1488.7" r="5.3"/><circle cx="522" cy="1618.8" r="5.3"/>
<circle cx="344.5" cy="1518.3" r="5.3"/><circle cx="388.5" cy="1615.7" r="5.3"/><circle cx="287.4" cy="1504.7" r="5.3"/><circle cx="416.6" cy="1605.1" r="5.3"/><circle cx="441.9" cy="1650.4" r="5.3"/><circle cx="326.5" cy="1589.4" r="5.3"/><circle cx="647.1" cy="1643" r="5.3"/><circle cx="464.7" cy="1690.3" r="5.3"/>
<circle cx="314.8" cy="1466" r="5.3"/><circle cx="408.8" cy="1575.9" r="5.3"/><circle cx="436.9" cy="1505" r="5.3"/><circle cx="403.5" cy="1505.1" r="5.3"/><circle cx="353.1" cy="1479.6" r="5.3"/><circle cx="411.8" cy="1485.2" r="5.3"/><circle cx="426.4" cy="1591.4" r="5.3"/><circle cx="548.3" cy="1540" r="5.3"/>
<circle cx="352.9" cy="1466" r="5.3"/><circle cx="313.8" cy="1523.9" r="5.3"/><circle cx="312.7" cy="1507.6" r="5.3"/><circle cx="482.8" cy="1674.4" r="5.3"/><circle cx="450.5" cy="1703.3" r="5.3"/><circle cx="571.7" cy="1668.6" r="5.3"/><circle cx="340.5" cy="1480" r="5.3"/><circle cx="272.7" cy="1617.6" r="5.3"/>
<circle cx="449.9" cy="1483.2" r="5.3"/><circle cx="265.6" cy="1529.2" r="5.3"/><circle cx="521.6" cy="1468.5" r="5.3"/><circle cx="348.8" cy="1518.7" r="5.3"/><circle cx="446.9" cy="1487.1" r="5.3"/><circle cx="326.2" cy="1482.4" r="5.3"/><circle cx="384.2" cy="1489.2" r="5.3"/><circle cx="319.1" cy="1470.6" r="5.3"/>
<circle cx="518.8" cy="1570.8" r="5.3"/><circle cx="362.9" cy="1473.5" r="5.3"/><circle cx="362.1" cy="1536.3" r="5.3"/><circle cx="281.9" cy="1524.3" r="5.3"/><circle cx="283.9" cy="1511.4" r="5.3"/><circle cx="267.4" cy="1479.4" r="5.3"/><circle cx="636.3" cy="1622.3" r="5.3"/><circle cx="513.6" cy="1467.1" r="5.3"/>
<circle cx="291.4" cy="1542.7" r="5.3"/><circle cx="204.2" cy="1518.1" r="5.3"/><circle cx="387.1" cy="1503.8" r="5.3"/><circle cx="497.7" cy="1515.2" r="5.3"/><circle cx="436.3" cy="1538.5" r="5.3"/><circle cx="398.9" cy="1477.1" r="5.3"/><circle cx="454.3" cy="1513.9" r="5.3"/><circle cx="428.2" cy="1512" r="5.3"/>
<circle cx="551.5" cy="1620.4" r="5.3"/><circle cx="468.9" cy="1505.9" r="5.3"/><circle cx="295.7" cy="1476.6" r="5.3"/><circle cx="318.2" cy="1532.2" r="5.3"/><circle cx="369.8" cy="1533.5" r="5.3"/><circle cx="418.4" cy="1476" r="5.3"/><circle cx="363.4" cy="1536.5" r="5.3"/><circle cx="270.4" cy="1498.6" r="5.3"/>
<circle cx="466.1" cy="1466" r="5.3"/><circle cx="473.4" cy="1698" r="5.3"/><circle cx="414.4" cy="1466.2" r="5.3"/><circle cx="300.2" cy="1508.9" r="5.3"/><circle cx="351.7" cy="1490.4" r="5.3"/><circle cx="290.8" cy="1542.6" r="5.3"/><circle cx="346" cy="1515.5" r="5.3"/><circle cx="317.8" cy="1520" r="5.3"/>
<circle cx="355.9" cy="1466" r="5.3"/><circle cx="431.1" cy="1504.4" r="5.3"/><circle cx="457.4" cy="1515.3" r="5.3"/><circle cx="294.3" cy="1517.8" r="5.3"/><circle cx="416.1" cy="1569.8" r="5.3"/><circle cx="322.9" cy="1473.6" r="5.3"/><circle cx="299.7" cy="1572.9" r="5.3"/><circle cx="437.4" cy="1513.9" r="5.3"/>
<circle cx="347.1" cy="1512.7" r="5.3"/><circle cx="325.9" cy="1572.3" r="5.3"/><circle cx="315.4" cy="1481.3" r="5.3"/><circle cx="312.4" cy="1577.5" r="5.3"/><circle cx="334.9" cy="1470.3" r="5.3"/><circle cx="410.3" cy="1466" r="5.3"/><circle cx="334" cy="1466" r="5.3"/><circle cx="349.7" cy="1482.4" r="5.3"/>
<circle cx="292.3" cy="1508.1" r="5.3"/><circle cx="439.4" cy="1466" r="5.3"/><circle cx="410.4" cy="1536.8" r="5.3"/><circle cx="318.4" cy="1572.4" r="5.3"/><circle cx="565" cy="1649.3" r="5.3"/><circle cx="360" cy="1502.3" r="5.3"/><circle cx="407.5" cy="1670.7" r="5.3"/><circle cx="428.1" cy="1542.3" r="5.3"/>
<circle cx="374.9" cy="1533.2" r="5.3"/><circle cx="353.6" cy="1509.3" r="5.3"/><circle cx="414.7" cy="1472" r="5.3"/><circle cx="369.3" cy="1508.4" r="5.3"/><circle cx="334.6" cy="1520.6" r="5.3"/><circle cx="447" cy="1510.5" r="5.3"/><circle cx="472.7" cy="1836.5" r="5.3"/><circle cx="338.9" cy="1510.1" r="5.3"/>
<circle cx="430.1" cy="1506.6" r="5.3"/><circle cx="325.4" cy="1481" r="5.3"/><circle cx="331.2" cy="1517.8" r="5.3"/><circle cx="537.6" cy="1623.6" r="5.3"/><circle cx="264.9" cy="1531.1" r="5.3"/><circle cx="396.4" cy="1538.9" r="5.3"/><circle cx="288.3" cy="1494.4" r="5.3"/><circle cx="202.2" cy="1488.7" r="5.3"/>
<circle cx="386" cy="1466" r="5.3"/><circle cx="455.9" cy="1518.4" r="5.3"/><circle cx="330.8" cy="1532.2" r="5.3"/><circle cx="245.9" cy="1508.5" r="5.3"/><circle cx="426.4" cy="1543.1" r="5.3"/><circle cx="431.4" cy="1494.8" r="5.3"/><circle cx="354.5" cy="1503.6" r="5.3"/><circle cx="367.9" cy="1521.8" r="5.3"/>
<circle cx="274.6" cy="1478.5" r="5.3"/><circle cx="486.4" cy="1469.3" r="5.3"/><circle cx="440.4" cy="1532" r="5.3"/><circle cx="283.5" cy="1466" r="5.3"/><circle cx="423.6" cy="1496.5" r="5.3"/><circle cx="490.7" cy="1598.9" r="5.3"/><circle cx="357.5" cy="1489.2" r="5.3"/><circle cx="420.5" cy="1489.5" r="5.3"/>
<circle cx="424.7" cy="1480.4" r="5.3"/><circle cx="246.6" cy="1480" r="5.3"/><circle cx="463.6" cy="1497.6" r="5.3"/><circle cx="460.3" cy="1466" r="5.3"/><circle cx="366.2" cy="1503.7" r="5.3"/><circle cx="507.5" cy="1488.9" r="5.3"/><circle cx="355.8" cy="1494.1" r="5.3"/><circle cx="646.4" cy="1613.6" r="5.3"/>
<circle cx="331.3" cy="1537.5" r="5.3"/><circle cx="325.3" cy="1562.1" r="5.3"/><circle cx="368.8" cy="1569.6" r="5.3"/><circle cx="362.8" cy="1482.9" r="5.3"/><circle cx="502.4" cy="1685.5" r="5.3"/><circle cx="386.4" cy="1498.8" r="5.3"/><circle cx="333.2" cy="1518.6" r="5.3"/><circle cx="453.5" cy="1483" r="5.3"/>
<circle cx="448.5" cy="1466.7" r="5.3"/><circle cx="382.5" cy="1466" r="5.3"/><circle cx="263.2" cy="1516" r="5.3"/><circle cx="349.9" cy="1501.5" r="5.3"/><circle cx="402.3" cy="1479.8" r="5.3"/><circle cx="595.9" cy="1562.5" r="5.3"/><circle cx="282" cy="1533.3" r="5.3"/><circle cx="325.2" cy="1487.4" r="5.3"/>
<circle cx="370.8" cy="1469.4" r="5.3"/><circle cx="277.5" cy="1528.3" r="5.3"/><circle cx="442.7" cy="1466" r="5.3"/><circle cx="299.8" cy="1513.6" r="5.3"/><circle cx="431.5" cy="1484" r="5.3"/><circle cx="505.6" cy="1620.6" r="5.3"/><circle cx="496.3" cy="1788.2" r="5.3"/><circle cx="473.9" cy="1466" r="5.3"/>
<circle cx="346.2" cy="1515.5" r="5.3"/><circle cx="329.8" cy="1502.4" r="5.3"/><circle cx="440.3" cy="1480.2" r="5.3"/><circle cx="382.5" cy="1466.4" r="5.3"/><circle cx="584.5" cy="1580.3" r="5.3"/><circle cx="385.7" cy="1486.9" r="5.3"/><circle cx="338" cy="1466" r="5.3"/><circle cx="333.6" cy="1526.5" r="5.3"/>
<circle cx="430" cy="1589.8" r="5.3"/><circle cx="536.7" cy="1679.2" r="5.3"/><circle cx="367.1" cy="1500.7" r="5.3"/><circle cx="299.9" cy="1562.2" r="5.3"/><circle cx="410.7" cy="1487.2" r="5.3"/><circle cx="418.4" cy="1487.4" r="5.3"/><circle cx="480.3" cy="1567.4" r="5.3"/><circle cx="325.7" cy="1553.3" r="5.3"/>
<circle cx="340.8" cy="1488.7" r="5.3"/><circle cx="580.4" cy="1693.7" r="5.3"/><circle cx="556.2" cy="1818.6" r="5.3"/><circle cx="384.6" cy="1535.7" r="5.3"/><circle cx="444.9" cy="1466.6" r="5.3"/><circle cx="385.7" cy="1494.8" r="5.3"/><circle cx="425.9" cy="1526.4" r="5.3"/><circle cx="325.9" cy="1466" r="5.3"/>
<circle cx="443.8" cy="1614.8" r="5.3"/><circle cx="496.4" cy="1520" r="5.3"/><circle cx="547.5" cy="1655.3" r="5.3"/><circle cx="412.7" cy="1509.2" r="5.3"/><circle cx="377.5" cy="1524.5" r="5.3"/><circle cx="397.4" cy="1693.2" r="5.3"/><circle cx="365.6" cy="1512.1" r="5.3"/><circle cx="387.9" cy="1517.5" r="5.3"/>
<circle cx="350.1" cy="1479.8" r="5.3"/><circle cx="420.2" cy="1506" r="5.3"/><circle cx="421.4" cy="1473.7" r="5.3"/><circle cx="262.1" cy="1476" r="5.3"/><circle cx="393" cy="1481.1" r="5.3"/><circle cx="580.4" cy="1693.2" r="5.3"/><circle cx="400.2" cy="1493.4" r="5.3"/><circle cx="376.6" cy="1569" r="5.3"/>
<circle cx="355.4" cy="1513.1" r="5.3"/><circle cx="301" cy="1487" r="5.3"/><circle cx="394" cy="1566" r="5.3"/><circle cx="432.1" cy="1533.3" r="5.3"/>
</g>
<path d="M262.1 1453.5 Q430.4 1563.7 598.6 1643 L598.6 1672 Q430.4 1556.9 262.1 1472.8 Z" fill="#fed395" fill-opacity=".11" stroke="none"/>
</g>
<path d="M262.1 1488.2 L598.6 1664.3" stroke="#e0466c" stroke-width="3.2" fill="none"/>
<path d="M262.1 1463.1 L598.6 1657.5" stroke="#fbd08f" stroke-width="3.2" fill="none"/>
<path d="M172.9 1429.5 V1962.5 H753.4" fill="none" stroke="#1a1a1a" stroke-width="1.5"/>
<path d="M194.8 1962.5v6.4M262.1 1962.5v6.4M329.4 1962.5v6.4M396.7 1962.5v6.4M464 1962.5v6.4M531.3 1962.5v6.4M598.6 1962.5v6.4M665.9 1962.5v6.4M733.2 1962.5v6.4M172.9 1948.4h-6.4M172.9 1851.9h-6.4M172.9 1755.4h-6.4M172.9 1659h-6.4M172.9 1562.5h-6.4M172.9 1466h-6.4" stroke="#1a1a1a" stroke-width="1.5" fill="none"/>
<g text-anchor="middle">
<text x="194.8" y="1988.7">9</text>
<text x="262.1" y="1988.7">10</text>
<text x="329.4" y="1988.7">11</text>
<text x="396.7" y="1988.7">12</text>
<text x="464" y="1988.7">13</text>
<text x="531.3" y="1988.7">14</text>
<text x="598.6" y="1988.7">15</text>
<text x="665.9" y="1988.7">16</text>
<text x="733.2" y="1988.7">17</text>
</g>
<g text-anchor="end">
<text x="159.3" y="1955">0</text>
<text x="159.3" y="1858.5">20</text>
<text x="159.3" y="1762">40</text>
<text x="159.3" y="1665.6">60</text>
<text x="159.3" y="1569.1">80</text>
<text x="159.3" y="1472.6">100</text>
</g>
<!-- panel CR -->
<g class="pts">
<g fill="#e3416a" stroke="#c8406a">
<circle cx="1098.6" cy="1772.9" r="5.3"/><circle cx="1190.2" cy="1763.1" r="5.3"/><circle cx="1180.3" cy="1747" r="5.3"/><circle cx="1248.3" cy="1858.5" r="5.3"/><circle cx="1044" cy="1628.7" r="5.3"/><circle cx="1081.3" cy="1790.7" r="5.3"/><circle cx="1196.4" cy="1720.7" r="5.3"/><circle cx="1141.6" cy="1726.2" r="5.3"/>
<circle cx="1076.5" cy="1841.5" r="5.3"/><circle cx="1160.2" cy="1873.3" r="5.3"/><circle cx="940.9" cy="1562.5" r="5.3"/><circle cx="1059.2" cy="1736.2" r="5.3"/><circle cx="926.4" cy="1484.5" r="5.3"/><circle cx="1174.4" cy="1760.9" r="5.3"/><circle cx="1176.7" cy="1717.3" r="5.3"/><circle cx="1111.9" cy="1704.5" r="5.3"/>
<circle cx="1179.1" cy="1758.5" r="5.3"/><circle cx="1106.5" cy="1814.2" r="5.3"/><circle cx="1146.1" cy="1766.3" r="5.3"/><circle cx="1206.1" cy="1642.1" r="5.3"/><circle cx="1171.9" cy="1653.7" r="5.3"/><circle cx="1109.5" cy="1745.4" r="5.3"/><circle cx="1171.1" cy="1748.3" r="5.3"/><circle cx="1194.7" cy="1714.5" r="5.3"/>
<circle cx="1130.1" cy="1669.3" r="5.3"/><circle cx="1248.4" cy="1877.1" r="5.3"/><circle cx="1092.3" cy="1836.8" r="5.3"/><circle cx="1131" cy="1795.6" r="5.3"/><circle cx="938.2" cy="1745.8" r="5.3"/><circle cx="1140.3" cy="1863.2" r="5.3"/><circle cx="957.1" cy="1499.4" r="5.3"/><circle cx="971" cy="1487.1" r="5.3"/>
<circle cx="1050.2" cy="1703.2" r="5.3"/><circle cx="1053.9" cy="1788.5" r="5.3"/><circle cx="1174" cy="1770.1" r="5.3"/><circle cx="976.4" cy="1534.8" r="5.3"/><circle cx="880.2" cy="1502.5" r="5.3"/><circle cx="969.6" cy="1543.6" r="5.3"/><circle cx="992.7" cy="1608.2" r="5.3"/><circle cx="1005.6" cy="1546.9" r="5.3"/>
<circle cx="965.4" cy="1583.7" r="5.3"/><circle cx="1030.4" cy="1540.5" r="5.3"/><circle cx="1100" cy="1764.2" r="5.3"/><circle cx="1171.4" cy="1581.5" r="5.3"/><circle cx="1200.6" cy="1731.8" r="5.3"/><circle cx="1010.2" cy="1838.5" r="5.3"/><circle cx="953.7" cy="1600.1" r="5.3"/><circle cx="1016.4" cy="1574.1" r="5.3"/>
<circle cx="937.1" cy="1541.7" r="5.3"/><circle cx="971.2" cy="1541.2" r="5.3"/><circle cx="1074.8" cy="1496.7" r="5.3"/><circle cx="1126.8" cy="1838.5" r="5.3"/><circle cx="1234.5" cy="1771.1" r="5.3"/><circle cx="1204.5" cy="1897.8" r="5.3"/><circle cx="1114.9" cy="1637" r="5.3"/><circle cx="1099.1" cy="1674.3" r="5.3"/>
<circle cx="975.9" cy="1491.8" r="5.3"/><circle cx="1041" cy="1732" r="5.3"/><circle cx="1240.7" cy="1617.4" r="5.3"/><circle cx="1169.7" cy="1868.9" r="5.3"/><circle cx="1163.5" cy="1665.1" r="5.3"/><circle cx="1111" cy="1841.8" r="5.3"/><circle cx="1115.1" cy="1691.9" r="5.3"/><circle cx="1104.8" cy="1670.5" r="5.3"/>
<circle cx="1198.7" cy="1673.6" r="5.3"/><circle cx="1206" cy="1918.6" r="5.3"/><circle cx="1197.4" cy="1651.2" r="5.3"/><circle cx="1107.3" cy="1687.2" r="5.3"/><circle cx="1116.8" cy="1878.1" r="5.3"/><circle cx="955.5" cy="1476.3" r="5.3"/><circle cx="1235.9" cy="1910.8" r="5.3"/><circle cx="1173.6" cy="1761.6" r="5.3"/>
<circle cx="1179.2" cy="1784.4" r="5.3"/><circle cx="974.4" cy="1489.9" r="5.3"/><circle cx="1181" cy="1786.4" r="5.3"/><circle cx="1140.2" cy="1833.9" r="5.3"/><circle cx="1039.2" cy="1829" r="5.3"/><circle cx="1110.8" cy="1806.4" r="5.3"/><circle cx="987.8" cy="1539.9" r="5.3"/><circle cx="1116.9" cy="1731.6" r="5.3"/>
<circle cx="1217.6" cy="1926.4" r="5.3"/><circle cx="1088.1" cy="1828.2" r="5.3"/><circle cx="1140.3" cy="1591.6" r="5.3"/><circle cx="1038.8" cy="1691.8" r="5.3"/><circle cx="1077.3" cy="1685.8" r="5.3"/><circle cx="1099.2" cy="1606.9" r="5.3"/><circle cx="874.8" cy="1516.6" r="5.3"/><circle cx="1065.1" cy="1738.4" r="5.3"/>
<circle cx="1082.1" cy="1860.7" r="5.3"/><circle cx="1149.8" cy="1849.3" r="5.3"/><circle cx="1140.4" cy="1731.3" r="5.3"/><circle cx="1049.7" cy="1861.7" r="5.3"/><circle cx="1109.2" cy="1626.3" r="5.3"/><circle cx="1193.3" cy="1891.8" r="5.3"/><circle cx="900.5" cy="1523.6" r="5.3"/><circle cx="1050.3" cy="1543.1" r="5.3"/>
<circle cx="1051.9" cy="1637.7" r="5.3"/><circle cx="964.3" cy="1466" r="5.3"/><circle cx="1092.1" cy="1625.6" r="5.3"/><circle cx="1099.7" cy="1771.9" r="5.3"/><circle cx="1151.1" cy="1645.7" r="5.3"/><circle cx="1140.3" cy="1716.7" r="5.3"/><circle cx="1139.8" cy="1763.6" r="5.3"/><circle cx="1261" cy="1697.3" r="5.3"/>
<circle cx="1079.1" cy="1610" r="5.3"/><circle cx="1163.7" cy="1746.1" r="5.3"/><circle cx="1168.7" cy="1628.8" r="5.3"/><circle cx="1224.2" cy="1898.5" r="5.3"/><circle cx="1181.4" cy="1772.8" r="5.3"/><circle cx="1097.1" cy="1856.7" r="5.3"/><circle cx="1133.9" cy="1714.5" r="5.3"/><circle cx="1184" cy="1803.7" r="5.3"/>
<circle cx="1184.6" cy="1830.2" r="5.3"/><circle cx="1144" cy="1729.5" r="5.3"/><circle cx="1243.4" cy="1619.3" r="5.3"/><circle cx="1075" cy="1789.9" r="5.3"/><circle cx="1050.1" cy="1526.8" r="5.3"/><circle cx="1154.1" cy="1678.4" r="5.3"/><circle cx="1151" cy="1909.4" r="5.3"/><circle cx="1042.5" cy="1489.6" r="5.3"/>
<circle cx="1096.3" cy="1917.8" r="5.3"/><circle cx="952.2" cy="1508.4" r="5.3"/><circle cx="1185.7" cy="1922.1" r="5.3"/><circle cx="1000.4" cy="1512.9" r="5.3"/><circle cx="1090.3" cy="1628.8" r="5.3"/><circle cx="1040.8" cy="1743.3" r="5.3"/><circle cx="1018.4" cy="1552.3" r="5.3"/><circle cx="1181.4" cy="1614.8" r="5.3"/>
<circle cx="1150.1" cy="1832.6" r="5.3"/><circle cx="1072.8" cy="1794.7" r="5.3"/><circle cx="1171.7" cy="1625.7" r="5.3"/><circle cx="1104.7" cy="1719.6" r="5.3"/><circle cx="1105.1" cy="1751.3" r="5.3"/><circle cx="910.1" cy="1509.4" r="5.3"/><circle cx="1254.4" cy="1898" r="5.3"/><circle cx="1121.7" cy="1886.6" r="5.3"/>
<circle cx="1265.4" cy="1880.4" r="5.3"/><circle cx="1088.6" cy="1675.3" r="5.3"/><circle cx="1130.6" cy="1822.7" r="5.3"/><circle cx="1256.4" cy="1610.4" r="5.3"/><circle cx="989.8" cy="1542.7" r="5.3"/><circle cx="1124.9" cy="1657.5" r="5.3"/><circle cx="1046.7" cy="1467.3" r="5.3"/><circle cx="1130" cy="1716.4" r="5.3"/>
<circle cx="929" cy="1524.7" r="5.3"/><circle cx="1253.2" cy="1582.1" r="5.3"/><circle cx="1203.3" cy="1754.5" r="5.3"/><circle cx="1318.3" cy="1895.8" r="5.3"/><circle cx="1158.7" cy="1605.8" r="5.3"/><circle cx="979" cy="1523.8" r="5.3"/><circle cx="1166.7" cy="1723.8" r="5.3"/><circle cx="1248.3" cy="1901" r="5.3"/>
<circle cx="1130.8" cy="1707.1" r="5.3"/><circle cx="1199.1" cy="1587.2" r="5.3"/><circle cx="1072.1" cy="1508.3" r="5.3"/><circle cx="1332.5" cy="1803.7" r="5.3"/><circle cx="1081.4" cy="1624.8" r="5.3"/><circle cx="1069.3" cy="1623.5" r="5.3"/><circle cx="1249.7" cy="1693" r="5.3"/><circle cx="1117.4" cy="1891.6" r="5.3"/>
<circle cx="1078.9" cy="1745.4" r="5.3"/><circle cx="1040.7" cy="1868.1" r="5.3"/><circle cx="1150.9" cy="1873.5" r="5.3"/><circle cx="1073.6" cy="1688.1" r="5.3"/><circle cx="1196" cy="1662.5" r="5.3"/><circle cx="1218.9" cy="1637.8" r="5.3"/><circle cx="1162.7" cy="1677.6" r="5.3"/><circle cx="1067.2" cy="1495.2" r="5.3"/>
<circle cx="1216" cy="1854.6" r="5.3"/><circle cx="1102.2" cy="1886" r="5.3"/><circle cx="952.9" cy="1517.4" r="5.3"/><circle cx="1003.7" cy="1703.4" r="5.3"/><circle cx="1052.1" cy="1667.9" r="5.3"/><circle cx="1230.4" cy="1632.1" r="5.3"/><circle cx="1236.1" cy="1681.5" r="5.3"/><circle cx="1088.2" cy="1921" r="5.3"/>
<circle cx="978.5" cy="1466" r="5.3"/><circle cx="971.6" cy="1472.6" r="5.3"/><circle cx="896" cy="1499.3" r="5.3"/><circle cx="1112.3" cy="1902.3" r="5.3"/><circle cx="1175.3" cy="1640" r="5.3"/><circle cx="1093" cy="1905" r="5.3"/><circle cx="918.5" cy="1483.9" r="5.3"/><circle cx="1200.2" cy="1606.1" r="5.3"/>
<circle cx="1109.7" cy="1612.9" r="5.3"/><circle cx="1126.9" cy="1786.5" r="5.3"/><circle cx="1076.6" cy="1744" r="5.3"/><circle cx="1176.2" cy="1645.9" r="5.3"/><circle cx="1112.5" cy="1773.2" r="5.3"/><circle cx="1090.1" cy="1910.1" r="5.3"/><circle cx="1094.5" cy="1733.8" r="5.3"/><circle cx="1156.3" cy="1902.2" r="5.3"/>
<circle cx="1167.2" cy="1629.6" r="5.3"/><circle cx="1197.8" cy="1578.4" r="5.3"/><circle cx="1081.5" cy="1805.6" r="5.3"/><circle cx="1139" cy="1928.1" r="5.3"/><circle cx="1202.1" cy="1905.1" r="5.3"/><circle cx="1229.7" cy="1828.7" r="5.3"/><circle cx="1119.7" cy="1817.1" r="5.3"/><circle cx="1146.1" cy="1663.8" r="5.3"/>
<circle cx="1187.8" cy="1639.3" r="5.3"/><circle cx="954.1" cy="1518.3" r="5.3"/><circle cx="1136.3" cy="1759.4" r="5.3"/><circle cx="1052.9" cy="1497.3" r="5.3"/><circle cx="1200.7" cy="1590" r="5.3"/><circle cx="1119.3" cy="1869.6" r="5.3"/><circle cx="991.2" cy="1635.4" r="5.3"/><circle cx="1151.7" cy="1827.1" r="5.3"/>
<circle cx="1193.6" cy="1878.7" r="5.3"/><circle cx="1151.3" cy="1581.5" r="5.3"/><circle cx="1084.8" cy="1687.7" r="5.3"/><circle cx="979.1" cy="1524.3" r="5.3"/><circle cx="1092.5" cy="1802.1" r="5.3"/><circle cx="1006.6" cy="1492.5" r="5.3"/><circle cx="1195.7" cy="1647.4" r="5.3"/><circle cx="1195.6" cy="1652.1" r="5.3"/>
<circle cx="1083.7" cy="1867.5" r="5.3"/><circle cx="1067.8" cy="1645.5" r="5.3"/><circle cx="992.5" cy="1466" r="5.3"/><circle cx="975.7" cy="1495.9" r="5.3"/><circle cx="1055.8" cy="1815.7" r="5.3"/><circle cx="1209.8" cy="1771.4" r="5.3"/><circle cx="1158.6" cy="1713" r="5.3"/><circle cx="1088.8" cy="1717.8" r="5.3"/>
<circle cx="1056.9" cy="1650.8" r="5.3"/><circle cx="1152.6" cy="1732.1" r="5.3"/><circle cx="1191.7" cy="1897.2" r="5.3"/><circle cx="1119.3" cy="1795.9" r="5.3"/><circle cx="990.5" cy="1498.8" r="5.3"/><circle cx="1216.7" cy="1795.4" r="5.3"/><circle cx="1077.4" cy="1640.4" r="5.3"/><circle cx="1101.1" cy="1675.4" r="5.3"/>
<circle cx="1136.5" cy="1880.5" r="5.3"/><circle cx="1202.2" cy="1732.6" r="5.3"/><circle cx="1179" cy="1583.8" r="5.3"/><circle cx="1118.6" cy="1754" r="5.3"/><circle cx="1256.2" cy="1810.5" r="5.3"/><circle cx="1253.8" cy="1864.5" r="5.3"/><circle cx="1025.6" cy="1525.3" r="5.3"/><circle cx="1170" cy="1896.8" r="5.3"/>
<circle cx="936.4" cy="1520.5" r="5.3"/><circle cx="1038.3" cy="1481.1" r="5.3"/><circle cx="1094.7" cy="1626.8" r="5.3"/><circle cx="976.6" cy="1500.9" r="5.3"/><circle cx="1238.2" cy="1831.9" r="5.3"/><circle cx="1020.4" cy="1937.8" r="5.3"/><circle cx="1132.2" cy="1604.9" r="5.3"/><circle cx="935.9" cy="1538.5" r="5.3"/>
<circle cx="1183.5" cy="1784.3" r="5.3"/><circle cx="1057" cy="1534.9" r="5.3"/><circle cx="1241.4" cy="1705.5" r="5.3"/><circle cx="1224.4" cy="1826.1" r="5.3"/><circle cx="1263.1" cy="1736.8" r="5.3"/><circle cx="1083.5" cy="1477.5" r="5.3"/><circle cx="1085.5" cy="1646.4" r="5.3"/><circle cx="999.3" cy="1531.5" r="5.3"/>
<circle cx="1024.3" cy="1494.7" r="5.3"/><circle cx="1219.3" cy="1917.2" r="5.3"/><circle cx="1217.1" cy="1869.5" r="5.3"/><circle cx="1147.4" cy="1588.5" r="5.3"/><circle cx="1037.6" cy="1657.1" r="5.3"/><circle cx="1159.3" cy="1596.1" r="5.3"/><circle cx="1027.6" cy="1478" r="5.3"/><circle cx="1035.6" cy="1624.3" r="5.3"/>
<circle cx="879.5" cy="1472.5" r="5.3"/><circle cx="1120.5" cy="1836.2" r="5.3"/><circle cx="1104.2" cy="1678.2" r="5.3"/><circle cx="1103.9" cy="1921.4" r="5.3"/><circle cx="1182.5" cy="1741.2" r="5.3"/><circle cx="1083.5" cy="1810.4" r="5.3"/><circle cx="1196.3" cy="1588.2" r="5.3"/><circle cx="1162.6" cy="1699.2" r="5.3"/>
<circle cx="1168.4" cy="1873.5" r="5.3"/><circle cx="869.3" cy="1511.5" r="5.3"/><circle cx="1175.6" cy="1916.8" r="5.3"/><circle cx="1130.8" cy="1774.6" r="5.3"/><circle cx="1160.3" cy="1809.8" r="5.3"/><circle cx="1119.5" cy="1813.7" r="5.3"/><circle cx="1140.8" cy="1848" r="5.3"/><circle cx="1096" cy="1906.7" r="5.3"/>
<circle cx="1023.1" cy="1537.9" r="5.3"/><circle cx="1132.3" cy="1509.4" r="5.3"/><circle cx="975.9" cy="1585.6" r="5.3"/><circle cx="1156.8" cy="1787.7" r="5.3"/><circle cx="1127" cy="1660.7" r="5.3"/><circle cx="1196.1" cy="1654.1" r="5.3"/><circle cx="1155" cy="1839.9" r="5.3"/><circle cx="867.4" cy="1530.1" r="5.3"/>
<circle cx="1170.6" cy="1743.1" r="5.3"/><circle cx="1167.2" cy="1859.1" r="5.3"/><circle cx="1162.5" cy="1794.7" r="5.3"/><circle cx="1181" cy="1844.9" r="5.3"/><circle cx="1098.6" cy="1622.2" r="5.3"/><circle cx="1142" cy="1610.8" r="5.3"/><circle cx="1171" cy="1832.3" r="5.3"/><circle cx="1105.3" cy="1566.8" r="5.3"/>
<circle cx="1049.6" cy="1715.2" r="5.3"/><circle cx="1137.7" cy="1705.3" r="5.3"/><circle cx="1120.7" cy="1670" r="5.3"/><circle cx="947.2" cy="1542.2" r="5.3"/><circle cx="1193.7" cy="1721.4" r="5.3"/><circle cx="1162.7" cy="1620.2" r="5.3"/><circle cx="946.3" cy="1777.1" r="5.3"/><circle cx="1231.2" cy="1756" r="5.3"/>
<circle cx="1134.6" cy="1595.1" r="5.3"/><circle cx="1091" cy="1666.7" r="5.3"/><circle cx="1122.3" cy="1826.3" r="5.3"/><circle cx="1001.3" cy="1529.8" r="5.3"/><circle cx="975.3" cy="1516.7" r="5.3"/><circle cx="1097.2" cy="1854.9" r="5.3"/><circle cx="1125" cy="1661.2" r="5.3"/><circle cx="1231.6" cy="1830.8" r="5.3"/>
<circle cx="1072.8" cy="1875.9" r="5.3"/><circle cx="1144.6" cy="1835.3" r="5.3"/><circle cx="972.1" cy="1569.5" r="5.3"/><circle cx="1068.6" cy="1667.2" r="5.3"/><circle cx="1060.7" cy="1787.5" r="5.3"/><circle cx="1080.4" cy="1807.4" r="5.3"/><circle cx="1200.7" cy="1810.3" r="5.3"/><circle cx="1130" cy="1895.7" r="5.3"/>
<circle cx="928.5" cy="1532.5" r="5.3"/><circle cx="1148.3" cy="1615" r="5.3"/><circle cx="1139.4" cy="1741.5" r="5.3"/><circle cx="1127.3" cy="1681.7" r="5.3"/><circle cx="932.2" cy="1505.3" r="5.3"/><circle cx="1097.6" cy="1675" r="5.3"/><circle cx="1031.6" cy="1479.9" r="5.3"/><circle cx="1138.3" cy="1679.8" r="5.3"/>
<circle cx="1008.2" cy="1867.6" r="5.3"/><circle cx="1212.8" cy="1746.6" r="5.3"/><circle cx="1192.9" cy="1795.7" r="5.3"/><circle cx="975" cy="1507.7" r="5.3"/><circle cx="1140.8" cy="1666.6" r="5.3"/><circle cx="1097.2" cy="1877.1" r="5.3"/><circle cx="1131.3" cy="1623.4" r="5.3"/><circle cx="1159" cy="1735.3" r="5.3"/>
<circle cx="1097.8" cy="1825.8" r="5.3"/><circle cx="1195.6" cy="1903.1" r="5.3"/><circle cx="1070.7" cy="1796.7" r="5.3"/><circle cx="1150" cy="1854.3" r="5.3"/><circle cx="945.1" cy="1552.5" r="5.3"/><circle cx="1232.2" cy="1772.7" r="5.3"/><circle cx="1226.4" cy="1820.5" r="5.3"/><circle cx="967" cy="1490.9" r="5.3"/>
<circle cx="1136.9" cy="1650.2" r="5.3"/><circle cx="1190.8" cy="1781.1" r="5.3"/><circle cx="1166.4" cy="1617.4" r="5.3"/><circle cx="1095.1" cy="1675.2" r="5.3"/><circle cx="936.2" cy="1466" r="5.3"/><circle cx="1159" cy="1890.8" r="5.3"/><circle cx="1139.7" cy="1664.9" r="5.3"/><circle cx="1013.3" cy="1701.3" r="5.3"/>
<circle cx="1176.2" cy="1742.3" r="5.3"/><circle cx="1052.2" cy="1626.2" r="5.3"/><circle cx="1056.4" cy="1794.1" r="5.3"/><circle cx="1115.2" cy="1731.5" r="5.3"/><circle cx="1076.2" cy="1821.8" r="5.3"/><circle cx="897.5" cy="1505.2" r="5.3"/><circle cx="1181.2" cy="1607.2" r="5.3"/><circle cx="1163.9" cy="1801" r="5.3"/>
<circle cx="890.6" cy="1473.5" r="5.3"/><circle cx="1188.5" cy="1830.3" r="5.3"/><circle cx="1209.4" cy="1873.4" r="5.3"/><circle cx="1076.8" cy="1839.5" r="5.3"/><circle cx="1013.7" cy="1513" r="5.3"/><circle cx="991.9" cy="1560.7" r="5.3"/><circle cx="1224" cy="1891" r="5.3"/><circle cx="1103.5" cy="1602.7" r="5.3"/>
<circle cx="1163.5" cy="1820.8" r="5.3"/><circle cx="1201.3" cy="1874.5" r="5.3"/><circle cx="1178" cy="1584.4" r="5.3"/><circle cx="1223.2" cy="1896.3" r="5.3"/><circle cx="1116.1" cy="1590.8" r="5.3"/><circle cx="1217.9" cy="1735.7" r="5.3"/><circle cx="1153.1" cy="1852.2" r="5.3"/><circle cx="1255.9" cy="1839.6" r="5.3"/>
<circle cx="1071.2" cy="1624.4" r="5.3"/><circle cx="950" cy="1477.7" r="5.3"/><circle cx="1213.9" cy="1698.3" r="5.3"/><circle cx="1171.3" cy="1605.3" r="5.3"/><circle cx="1226.1" cy="1769.1" r="5.3"/><circle cx="1160.1" cy="1656.2" r="5.3"/><circle cx="1003.6" cy="1499.2" r="5.3"/><circle cx="1009.9" cy="1595.6" r="5.3"/>
<circle cx="1187.6" cy="1775" r="5.3"/><circle cx="1122.1" cy="1809.4" r="5.3"/><circle cx="1103.1" cy="1812.7" r="5.3"/><circle cx="1138.6" cy="1900.1" r="5.3"/><circle cx="1023.5" cy="1499.8" r="5.3"/><circle cx="1090.3" cy="1608.2" r="5.3"/><circle cx="1209.9" cy="1776.2" r="5.3"/><circle cx="893" cy="1577.9" r="5.3"/>
<circle cx="1006" cy="1497" r="5.3"/><circle cx="1099.9" cy="1857.6" r="5.3"/><circle cx="1247.1" cy="1636.5" r="5.3"/><circle cx="961.9" cy="1544.1" r="5.3"/><circle cx="1037.7" cy="1481.7" r="5.3"/><circle cx="1253.7" cy="1913.2" r="5.3"/><circle cx="1201.8" cy="1712.7" r="5.3"/><circle cx="1233.4" cy="1592.8" r="5.3"/>
<circle cx="1034.7" cy="1695.3" r="5.3"/><circle cx="1091.2" cy="1881.2" r="5.3"/><circle cx="1053.9" cy="1480.6" r="5.3"/><circle cx="1037.4" cy="1793.4" r="5.3"/><circle cx="984.8" cy="1475" r="5.3"/><circle cx="1176.6" cy="1657.3" r="5.3"/><circle cx="972.8" cy="1533.5" r="5.3"/><circle cx="1127.7" cy="1597.3" r="5.3"/>
<circle cx="968.3" cy="1485.5" r="5.3"/><circle cx="1010.8" cy="1573" r="5.3"/><circle cx="1054.6" cy="1754.2" r="5.3"/><circle cx="1079.2" cy="1744.6" r="5.3"/><circle cx="1056.2" cy="1836.8" r="5.3"/><circle cx="1056" cy="1838.7" r="5.3"/><circle cx="1139.3" cy="1853.9" r="5.3"/><circle cx="1240.2" cy="1797.4" r="5.3"/>
<circle cx="1240.3" cy="1640" r="5.3"/><circle cx="1236" cy="1845" r="5.3"/><circle cx="1212.8" cy="1588.2" r="5.3"/><circle cx="1175.1" cy="1852.7" r="5.3"/><circle cx="1196.5" cy="1878.8" r="5.3"/><circle cx="1024" cy="1593.1" r="5.3"/><circle cx="1155.3" cy="1889.5" r="5.3"/><circle cx="1161.2" cy="1596.8" r="5.3"/>
<circle cx="1188" cy="1755.1" r="5.3"/><circle cx="1094.8" cy="1658.8" r="5.3"/><circle cx="1129.8" cy="1741.9" r="5.3"/><circle cx="1018.2" cy="1844.5" r="5.3"/><circle cx="1133" cy="1898.3" r="5.3"/><circle cx="1126" cy="1674" r="5.3"/><circle cx="1055.5" cy="1547.2" r="5.3"/><circle cx="970.1" cy="1489.9" r="5.3"/>
<circle cx="1183.2" cy="1920.1" r="5.3"/><circle cx="1175.5" cy="1872.8" r="5.3"/><circle cx="1121.5" cy="1588.8" r="5.3"/><circle cx="1041.5" cy="1801.6" r="5.3"/><circle cx="1103.7" cy="1638.1" r="5.3"/><circle cx="1203.6" cy="1793.9" r="5.3"/><circle cx="1006.4" cy="1758.7" r="5.3"/><circle cx="1033.9" cy="1537.9" r="5.3"/>
<circle cx="994.1" cy="1466" r="5.3"/><circle cx="1028.5" cy="1563" r="5.3"/><circle cx="1134.2" cy="1833.5" r="5.3"/><circle cx="1158.9" cy="1771.3" r="5.3"/><circle cx="1085.9" cy="1789.7" r="5.3"/><circle cx="1176.1" cy="1660.9" r="5.3"/><circle cx="1019.3" cy="1651.8" r="5.3"/><circle cx="1133.9" cy="1770.2" r="5.3"/>
<circle cx="1051.8" cy="1660" r="5.3"/><circle cx="1075.9" cy="1907.8" r="5.3"/><circle cx="967.8" cy="1609.3" r="5.3"/><circle cx="976" cy="1494.5" r="5.3"/><circle cx="1104.6" cy="1737.9" r="5.3"/><circle cx="1069.2" cy="1495.1" r="5.3"/><circle cx="937.3" cy="1493" r="5.3"/><circle cx="1142.9" cy="1662.5" r="5.3"/>
<circle cx="1131.8" cy="1885.2" r="5.3"/><circle cx="1067" cy="1670.5" r="5.3"/><circle cx="1195.1" cy="1724.6" r="5.3"/><circle cx="1076.4" cy="1467.3" r="5.3"/><circle cx="1005.8" cy="1524.5" r="5.3"/><circle cx="1198.9" cy="1722.1" r="5.3"/><circle cx="971.6" cy="1479.2" r="5.3"/><circle cx="1121.9" cy="1654.8" r="5.3"/>
<circle cx="1221.7" cy="1645.1" r="5.3"/><circle cx="1024.2" cy="1841.1" r="5.3"/><circle cx="1122.1" cy="1699.9" r="5.3"/><circle cx="1158.5" cy="1758.1" r="5.3"/><circle cx="1072.8" cy="1647.9" r="5.3"/><circle cx="1268.8" cy="1762.6" r="5.3"/><circle cx="1208.9" cy="1783" r="5.3"/><circle cx="1011" cy="1514.2" r="5.3"/>
<circle cx="1200.6" cy="1742.9" r="5.3"/><circle cx="981.3" cy="1533.6" r="5.3"/><circle cx="1095.4" cy="1589.5" r="5.3"/><circle cx="998.8" cy="1472.6" r="5.3"/><circle cx="1027.6" cy="1834.2" r="5.3"/><circle cx="957.7" cy="1546.5" r="5.3"/><circle cx="1177.9" cy="1675.3" r="5.3"/><circle cx="1177" cy="1920.8" r="5.3"/>
<circle cx="1166.5" cy="1763.8" r="5.3"/><circle cx="1127.3" cy="1793.5" r="5.3"/><circle cx="1155.8" cy="1881.7" r="5.3"/><circle cx="1141.8" cy="1831.1" r="5.3"/><circle cx="1077.5" cy="1802.5" r="5.3"/><circle cx="1177.6" cy="1803" r="5.3"/><circle cx="1063.1" cy="1614.5" r="5.3"/><circle cx="883.2" cy="1504.5" r="5.3"/>
<circle cx="1026" cy="1584.7" r="5.3"/><circle cx="1003.5" cy="1836.1" r="5.3"/><circle cx="1111" cy="1761" r="5.3"/><circle cx="1082.2" cy="1738.1" r="5.3"/><circle cx="1147.2" cy="1751.7" r="5.3"/><circle cx="1015.2" cy="1500.7" r="5.3"/><circle cx="1247.1" cy="1695.9" r="5.3"/><circle cx="1074.2" cy="1539.4" r="5.3"/>
<circle cx="1057.1" cy="1833" r="5.3"/><circle cx="1206.6" cy="1787.7" r="5.3"/><circle cx="1120.3" cy="1791.1" r="5.3"/><circle cx="1135.6" cy="1836.8" r="5.3"/><circle cx="1113.6" cy="1800.1" r="5.3"/><circle cx="1258.1" cy="1669.1" r="5.3"/><circle cx="1137.1" cy="1775" r="5.3"/><circle cx="1059.8" cy="1614.5" r="5.3"/>
<circle cx="1213.6" cy="1851.6" r="5.3"/><circle cx="1149" cy="1853.1" r="5.3"/><circle cx="1219.4" cy="1678.9" r="5.3"/><circle cx="1053.1" cy="1815.3" r="5.3"/><circle cx="1241.9" cy="1761.4" r="5.3"/><circle cx="1107.9" cy="1842.1" r="5.3"/><circle cx="1063" cy="1621.8" r="5.3"/><circle cx="1003.7" cy="1472.8" r="5.3"/>
<circle cx="1045.6" cy="1490.5" r="5.3"/><circle cx="987.7" cy="1517" r="5.3"/><circle cx="1017" cy="1466" r="5.3"/><circle cx="1179.1" cy="1677" r="5.3"/><circle cx="1191.9" cy="1875.1" r="5.3"/><circle cx="1033" cy="1707.3" r="5.3"/><circle cx="1207.5" cy="1724.5" r="5.3"/><circle cx="1035.2" cy="1742.2" r="5.3"/>
<circle cx="1165" cy="1664.4" r="5.3"/><circle cx="1214.4" cy="1616.3" r="5.3"/><circle cx="1109" cy="1829.1" r="5.3"/><circle cx="1138.1" cy="1707.3" r="5.3"/><circle cx="1221.3" cy="1731" r="5.3"/><circle cx="1182.1" cy="1665.7" r="5.3"/><circle cx="1125.6" cy="1620.2" r="5.3"/><circle cx="1144.8" cy="1799.6" r="5.3"/>
<circle cx="1152.2" cy="1830.2" r="5.3"/><circle cx="1201.1" cy="1845.4" r="5.3"/><circle cx="895.1" cy="1532.5" r="5.3"/><circle cx="1030.5" cy="1471.9" r="5.3"/><circle cx="1033.8" cy="1624.4" r="5.3"/><circle cx="1146.2" cy="1656.4" r="5.3"/><circle cx="981.8" cy="1497.7" r="5.3"/><circle cx="1073.2" cy="1771.3" r="5.3"/>
<circle cx="1173.4" cy="1819.4" r="5.3"/><circle cx="984.2" cy="1477.9" r="5.3"/><circle cx="991" cy="1558.3" r="5.3"/><circle cx="910.9" cy="1531.5" r="5.3"/><circle cx="1174.1" cy="1832.3" r="5.3"/><circle cx="1142.7" cy="1709.7" r="5.3"/><circle cx="1172.5" cy="1879" r="5.3"/><circle cx="1157.6" cy="1640.9" r="5.3"/>
<circle cx="1146" cy="1797.6" r="5.3"/><circle cx="1074.1" cy="1614.5" r="5.3"/><circle cx="1233.6" cy="1657.4" r="5.3"/><circle cx="1103.3" cy="1643.2" r="5.3"/><circle cx="1158" cy="1697.4" r="5.3"/><circle cx="975.4" cy="1466" r="5.3"/><circle cx="1056.4" cy="1797.8" r="5.3"/><circle cx="1222.2" cy="1598.8" r="5.3"/>
<circle cx="1176.9" cy="1773.6" r="5.3"/><circle cx="1128.1" cy="1769.9" r="5.3"/><circle cx="1115.3" cy="1635.3" r="5.3"/><circle cx="971.2" cy="1499" r="5.3"/><circle cx="1102.9" cy="1849.1" r="5.3"/><circle cx="1129.4" cy="1725.1" r="5.3"/><circle cx="916.7" cy="1605.4" r="5.3"/><circle cx="1095.4" cy="1839" r="5.3"/>
<circle cx="1129.7" cy="1916.7" r="5.3"/><circle cx="1062.6" cy="1636.4" r="5.3"/><circle cx="1061.7" cy="1676" r="5.3"/><circle cx="1177.7" cy="1706.5" r="5.3"/><circle cx="1186.2" cy="1848.6" r="5.3"/><circle cx="1127.7" cy="1780.6" r="5.3"/><circle cx="967.3" cy="1578.3" r="5.3"/><circle cx="1088.2" cy="1543.6" r="5.3"/>
<circle cx="906.6" cy="1480.4" r="5.3"/><circle cx="1135" cy="1682" r="5.3"/><circle cx="1249.4" cy="1913.3" r="5.3"/><circle cx="1186.4" cy="1918.1" r="5.3"/><circle cx="1122.4" cy="1592.7" r="5.3"/><circle cx="1260.3" cy="1603.5" r="5.3"/><circle cx="1041.6" cy="1631.1" r="5.3"/><circle cx="1241.1" cy="1811.3" r="5.3"/>
<circle cx="1196.8" cy="1875.8" r="5.3"/><circle cx="1095.3" cy="1824.7" r="5.3"/><circle cx="1146.2" cy="1648.2" r="5.3"/><circle cx="1065.9" cy="1729.4" r="5.3"/><circle cx="1137.8" cy="1597" r="5.3"/><circle cx="1094.6" cy="1857.1" r="5.3"/><circle cx="867.8" cy="1547.6" r="5.3"/><circle cx="968.7" cy="1475" r="5.3"/>
<circle cx="1132.5" cy="1757.9" r="5.3"/><circle cx="971" cy="1577.2" r="5.3"/><circle cx="883.4" cy="1466" r="5.3"/><circle cx="1173.1" cy="1679.8" r="5.3"/><circle cx="1203.7" cy="1675.4" r="5.3"/><circle cx="1088" cy="1869.6" r="5.3"/><circle cx="1124.3" cy="1861.5" r="5.3"/><circle cx="1125.9" cy="1616.1" r="5.3"/>
<circle cx="1046.7" cy="1698.8" r="5.3"/><circle cx="1048.9" cy="1843.8" r="5.3"/><circle cx="1093.1" cy="1608.4" r="5.3"/><circle cx="1106.2" cy="1661.2" r="5.3"/><circle cx="982" cy="1468.7" r="5.3"/><circle cx="1000.8" cy="1504.4" r="5.3"/><circle cx="1091.9" cy="1905.4" r="5.3"/><circle cx="1155.7" cy="1793.8" r="5.3"/>
<circle cx="1155.8" cy="1685" r="5.3"/><circle cx="1098.5" cy="1800.9" r="5.3"/><circle cx="1000.2" cy="1577" r="5.3"/><circle cx="1087.6" cy="1826.2" r="5.3"/><circle cx="1188.7" cy="1800.9" r="5.3"/><circle cx="1213.6" cy="1595.9" r="5.3"/><circle cx="1099.3" cy="1912.4" r="5.3"/><circle cx="1157.1" cy="1739.6" r="5.3"/>
<circle cx="1267.9" cy="1849.2" r="5.3"/><circle cx="1053.1" cy="1681.1" r="5.3"/><circle cx="1148.7" cy="1900.1" r="5.3"/><circle cx="1207.1" cy="1908.2" r="5.3"/><circle cx="1034.9" cy="1785.5" r="5.3"/><circle cx="1177.9" cy="1902.8" r="5.3"/><circle cx="1149.5" cy="1843.6" r="5.3"/><circle cx="1158.8" cy="1666.6" r="5.3"/>
<circle cx="1136.3" cy="1736.1" r="5.3"/><circle cx="1004.3" cy="1772.7" r="5.3"/><circle cx="1248.2" cy="1889.1" r="5.3"/><circle cx="1009.5" cy="1516.8" r="5.3"/><circle cx="1023.2" cy="1518.8" r="5.3"/><circle cx="1201.5" cy="1609.1" r="5.3"/><circle cx="1179.7" cy="1748.8" r="5.3"/><circle cx="1058.9" cy="1808.8" r="5.3"/>
<circle cx="1115.1" cy="1765.7" r="5.3"/><circle cx="1205.6" cy="1670.9" r="5.3"/><circle cx="1045.2" cy="1520.7" r="5.3"/><circle cx="1196.3" cy="1799.1" r="5.3"/><circle cx="961.1" cy="1639.2" r="5.3"/><circle cx="1097" cy="1886.3" r="5.3"/><circle cx="1254.5" cy="1699.5" r="5.3"/><circle cx="1182.2" cy="1744.2" r="5.3"/>
<circle cx="982" cy="1492.1" r="5.3"/><circle cx="1204.6" cy="1784.1" r="5.3"/><circle cx="1032.6" cy="1866.6" r="5.3"/><circle cx="972.1" cy="1466" r="5.3"/><circle cx="1068.4" cy="1472.8" r="5.3"/><circle cx="1146.8" cy="1851.6" r="5.3"/><circle cx="1202.1" cy="1770.6" r="5.3"/><circle cx="1196.6" cy="1748.5" r="5.3"/>
<circle cx="1261.7" cy="1772" r="5.3"/><circle cx="1213.6" cy="1911.6" r="5.3"/><circle cx="1160.7" cy="1828.4" r="5.3"/><circle cx="988" cy="1576" r="5.3"/><circle cx="1125.5" cy="1817.7" r="5.3"/><circle cx="998.1" cy="1529.6" r="5.3"/><circle cx="1044.7" cy="1606.1" r="5.3"/><circle cx="1260.8" cy="1801.1" r="5.3"/>
<circle cx="1062.6" cy="1517.2" r="5.3"/><circle cx="1111.1" cy="1887.5" r="5.3"/><circle cx="986.4" cy="1497.6" r="5.3"/><circle cx="1130.3" cy="1895.4" r="5.3"/><circle cx="1014.6" cy="1782.3" r="5.3"/><circle cx="1208.3" cy="1775.3" r="5.3"/><circle cx="1100.8" cy="1805.5" r="5.3"/><circle cx="1141.2" cy="1668.1" r="5.3"/>
<circle cx="1012.2" cy="1537.7" r="5.3"/><circle cx="1176.8" cy="1802.4" r="5.3"/><circle cx="1104.4" cy="1710" r="5.3"/><circle cx="920.1" cy="1526.6" r="5.3"/><circle cx="1111.8" cy="1790.8" r="5.3"/><circle cx="1152.6" cy="1631.7" r="5.3"/><circle cx="1071.1" cy="1611.3" r="5.3"/><circle cx="1260.9" cy="1729.6" r="5.3"/>
<circle cx="1165.1" cy="1741.1" r="5.3"/><circle cx="1069.4" cy="1874.8" r="5.3"/><circle cx="1151" cy="1762.9" r="5.3"/><circle cx="1170.8" cy="1826.7" r="5.3"/><circle cx="1039.8" cy="1648.4" r="5.3"/><circle cx="1144.4" cy="1806.9" r="5.3"/><circle cx="1256" cy="1897.9" r="5.3"/><circle cx="1149.9" cy="1793.7" r="5.3"/>
<circle cx="1066.7" cy="1793.9" r="5.3"/><circle cx="1043.9" cy="1602.7" r="5.3"/><circle cx="1144.2" cy="1802" r="5.3"/><circle cx="1263.3" cy="1850.1" r="5.3"/><circle cx="1195" cy="1727.3" r="5.3"/><circle cx="932.8" cy="1610.2" r="5.3"/><circle cx="1046.7" cy="1548.5" r="5.3"/><circle cx="1217.5" cy="1594.6" r="5.3"/>
<circle cx="1259.2" cy="1921.9" r="5.3"/><circle cx="1085.9" cy="1500.3" r="5.3"/><circle cx="1166.5" cy="1736.5" r="5.3"/><circle cx="1032.9" cy="1705.2" r="5.3"/><circle cx="1201" cy="1656.5" r="5.3"/><circle cx="1090.5" cy="1616.2" r="5.3"/><circle cx="1132.4" cy="1716.5" r="5.3"/><circle cx="1167.1" cy="1654.4" r="5.3"/>
<circle cx="1121.6" cy="1652.4" r="5.3"/><circle cx="1008.6" cy="1659.7" r="5.3"/><circle cx="1063.6" cy="1706.3" r="5.3"/><circle cx="1071.3" cy="1859.5" r="5.3"/><circle cx="1265.9" cy="1896.7" r="5.3"/><circle cx="1187.5" cy="1825.4" r="5.3"/><circle cx="895.4" cy="1466" r="5.3"/><circle cx="1076.4" cy="1690.9" r="5.3"/>
<circle cx="1227" cy="1608.8" r="5.3"/><circle cx="1175.7" cy="1736.1" r="5.3"/><circle cx="1226.4" cy="1911.3" r="5.3"/><circle cx="1197.4" cy="1863.7" r="5.3"/><circle cx="1078.9" cy="1689.4" r="5.3"/><circle cx="879.7" cy="1466" r="5.3"/><circle cx="1120.7" cy="1878.9" r="5.3"/><circle cx="1079.2" cy="1878" r="5.3"/>
<circle cx="1075.3" cy="1699" r="5.3"/><circle cx="1215.5" cy="1654.2" r="5.3"/><circle cx="1064.9" cy="1563" r="5.3"/><circle cx="1155.8" cy="1631.3" r="5.3"/><circle cx="1037.9" cy="1691" r="5.3"/><circle cx="1040" cy="1855.6" r="5.3"/><circle cx="1096" cy="1816.7" r="5.3"/><circle cx="1187.3" cy="1729.2" r="5.3"/>
<circle cx="1072.2" cy="1802.2" r="5.3"/><circle cx="1220.2" cy="1643.8" r="5.3"/><circle cx="1146.2" cy="1666.3" r="5.3"/><circle cx="1166.6" cy="1601.3" r="5.3"/><circle cx="969.4" cy="1486.8" r="5.3"/><circle cx="1032.5" cy="1524.6" r="5.3"/><circle cx="1127.1" cy="1854.5" r="5.3"/><circle cx="1199.6" cy="1917.7" r="5.3"/>
<circle cx="1070.9" cy="1537.9" r="5.3"/><circle cx="1098.9" cy="1810.6" r="5.3"/><circle cx="918.5" cy="1498.1" r="5.3"/><circle cx="1107.8" cy="1914" r="5.3"/><circle cx="1243.3" cy="1599.2" r="5.3"/><circle cx="1148.7" cy="1751.9" r="5.3"/><circle cx="1061.6" cy="1793.5" r="5.3"/><circle cx="1077.6" cy="1769.4" r="5.3"/>
<circle cx="1061.1" cy="1506" r="5.3"/><circle cx="1250.9" cy="1678.9" r="5.3"/><circle cx="974.2" cy="1489.6" r="5.3"/><circle cx="1163" cy="1917.6" r="5.3"/><circle cx="1143.7" cy="1514.2" r="5.3"/><circle cx="980.7" cy="1488.2" r="5.3"/><circle cx="1072.2" cy="1600.6" r="5.3"/><circle cx="984.1" cy="1482.7" r="5.3"/>
<circle cx="1149.5" cy="1751.3" r="5.3"/><circle cx="967.1" cy="1472.7" r="5.3"/><circle cx="1105.6" cy="1652.2" r="5.3"/><circle cx="1238.4" cy="1683.7" r="5.3"/><circle cx="1147.3" cy="1578.2" r="5.3"/><circle cx="1155.3" cy="1679.7" r="5.3"/><circle cx="1004.4" cy="1468.2" r="5.3"/><circle cx="1073.2" cy="1597" r="5.3"/>
<circle cx="1229.6" cy="1674.7" r="5.3"/><circle cx="1183.1" cy="1623.2" r="5.3"/><circle cx="1135.5" cy="1732.7" r="5.3"/><circle cx="1053.2" cy="1479.3" r="5.3"/><circle cx="1075.6" cy="1829.3" r="5.3"/><circle cx="1139.6" cy="1872" r="5.3"/><circle cx="1134.2" cy="1681.1" r="5.3"/><circle cx="1160.2" cy="1767.2" r="5.3"/>
<circle cx="1211.4" cy="1681.5" r="5.3"/><circle cx="1025.4" cy="1606.3" r="5.3"/><circle cx="1188.5" cy="1610.6" r="5.3"/><circle cx="1069.1" cy="1801" r="5.3"/><circle cx="875.5" cy="1564.9" r="5.3"/><circle cx="1192.1" cy="1625.2" r="5.3"/><circle cx="1154.9" cy="1641.5" r="5.3"/><circle cx="1155.1" cy="1590.9" r="5.3"/>
<circle cx="1175.1" cy="1826.2" r="5.3"/><circle cx="1174.1" cy="1630.3" r="5.3"/><circle cx="1131.1" cy="1628.7" r="5.3"/><circle cx="1061.8" cy="1822.8" r="5.3"/><circle cx="1042.6" cy="1616.7" r="5.3"/><circle cx="1074" cy="1652.5" r="5.3"/><circle cx="951.1" cy="1470.5" r="5.3"/><circle cx="1025.2" cy="1828.9" r="5.3"/>
<circle cx="1195.8" cy="1625.4" r="5.3"/><circle cx="1071" cy="1811.9" r="5.3"/><circle cx="1110.9" cy="1658.1" r="5.3"/><circle cx="1009.3" cy="1861.4" r="5.3"/><circle cx="989.6" cy="1490.3" r="5.3"/><circle cx="1048" cy="1583.4" r="5.3"/><circle cx="1037.1" cy="1713.8" r="5.3"/><circle cx="1147.7" cy="1770.2" r="5.3"/>
<circle cx="1167.5" cy="1905.9" r="5.3"/><circle cx="1195.6" cy="1582.6" r="5.3"/><circle cx="1115.7" cy="1804.1" r="5.3"/><circle cx="1124" cy="1802.7" r="5.3"/><circle cx="1079.3" cy="1850.2" r="5.3"/><circle cx="1163.3" cy="1896" r="5.3"/><circle cx="1085.3" cy="1729.4" r="5.3"/><circle cx="1006.7" cy="1492.1" r="5.3"/>
<circle cx="1202.8" cy="1849.9" r="5.3"/><circle cx="896.7" cy="1474.9" r="5.3"/><circle cx="1133.2" cy="1732.6" r="5.3"/><circle cx="1081.2" cy="1684.5" r="5.3"/><circle cx="1146.3" cy="1746.1" r="5.3"/><circle cx="923.6" cy="1533.7" r="5.3"/><circle cx="1200.7" cy="1605.1" r="5.3"/><circle cx="1004.6" cy="1509.3" r="5.3"/>
<circle cx="1085.8" cy="1690.8" r="5.3"/><circle cx="1189.5" cy="1685.1" r="5.3"/><circle cx="1044.8" cy="1867.6" r="5.3"/><circle cx="1111.3" cy="1818.7" r="5.3"/><circle cx="1057.8" cy="1848.2" r="5.3"/><circle cx="1170.7" cy="1752" r="5.3"/>
</g>
<path d="M934.8 1532.1 Q1103.3 1697.6 1271.8 1842.3 L1271.8 1861.6 Q1103.3 1693.7 934.8 1546.6 Z" fill="#e3416a" fill-opacity=".11" stroke="none"/>
<g fill="#fed395" stroke="#f7c582">
<circle cx="1207.8" cy="1864.5" r="5.3"/><circle cx="1171.4" cy="1736.6" r="5.3"/><circle cx="1042" cy="1562.5" r="5.3"/><circle cx="1197" cy="1820.1" r="5.3"/><circle cx="905.1" cy="1466" r="5.3"/><circle cx="1212.5" cy="1757.9" r="5.3"/><circle cx="1002.9" cy="1763.6" r="5.3"/><circle cx="1200.4" cy="1645.9" r="5.3"/>
<circle cx="1066.9" cy="1541.3" r="5.3"/><circle cx="1227.3" cy="1840.8" r="5.3"/><circle cx="1157.2" cy="1870.3" r="5.3"/><circle cx="1266.4" cy="1645.9" r="5.3"/><circle cx="1266.4" cy="1836" r="5.3"/><circle cx="1015.7" cy="1466" r="5.3"/><circle cx="1073.6" cy="1768" r="5.3"/><circle cx="1141" cy="1803.2" r="5.3"/>
<circle cx="1106" cy="1834.6" r="5.3"/><circle cx="1090.5" cy="1786.3" r="5.3"/><circle cx="908.5" cy="1490.1" r="5.3"/><circle cx="1139.7" cy="1661.4" r="5.3"/><circle cx="1216.5" cy="1774.7" r="5.3"/><circle cx="1124.9" cy="1894.4" r="5.3"/><circle cx="1000.9" cy="1484.3" r="5.3"/><circle cx="1219.2" cy="1578.4" r="5.3"/>
<circle cx="1071.6" cy="1705.3" r="5.3"/><circle cx="924.7" cy="1544.1" r="5.3"/><circle cx="1035.9" cy="1474.7" r="5.3"/><circle cx="1152.5" cy="1646.9" r="5.3"/><circle cx="992.8" cy="1466" r="5.3"/><circle cx="1082.4" cy="1769.4" r="5.3"/><circle cx="1147.8" cy="1726.5" r="5.3"/><circle cx="1143.7" cy="1636.3" r="5.3"/>
<circle cx="947.6" cy="1533.5" r="5.3"/><circle cx="1044" cy="1517.6" r="5.3"/><circle cx="946.3" cy="1466" r="5.3"/><circle cx="873.5" cy="1490.1" r="5.3"/><circle cx="1004.2" cy="1620.4" r="5.3"/><circle cx="1164.6" cy="1722.6" r="5.3"/><circle cx="1170.7" cy="1604" r="5.3"/><circle cx="1061.5" cy="1537.4" r="5.3"/>
<circle cx="1116.1" cy="1682.6" r="5.3"/><circle cx="1216.5" cy="1738.1" r="5.3"/><circle cx="1182.8" cy="1674.9" r="5.3"/><circle cx="875.5" cy="1562.5" r="5.3"/><circle cx="1217.9" cy="1682.1" r="5.3"/><circle cx="1015.7" cy="1755" r="5.3"/><circle cx="949.6" cy="1515.7" r="5.3"/><circle cx="1042" cy="1563.4" r="5.3"/>
<circle cx="1044.7" cy="1658.5" r="5.3"/><circle cx="1185.5" cy="1712" r="5.3"/><circle cx="1116.1" cy="1812.4" r="5.3"/><circle cx="1044" cy="1474.7" r="5.3"/><circle cx="1121.5" cy="1774.7" r="5.3"/><circle cx="1153.8" cy="1717.3" r="5.3"/><circle cx="1081.1" cy="1812.4" r="5.3"/><circle cx="955.7" cy="1492.5" r="5.3"/>
<circle cx="996.8" cy="1494.5" r="5.3"/><circle cx="1203.7" cy="1710.6" r="5.3"/>
</g>
<path d="M934.8 1481 Q1069.6 1640.9 1204.4 1758.3 L1204.4 1796.9 Q1069.6 1637 934.8 1519.5 Z" fill="#fed395" fill-opacity=".11" stroke="none"/>
</g>
<path d="M934.8 1539.3 L1271.8 1851.9" stroke="#e0466c" stroke-width="3.2" fill="none"/>
<path d="M934.8 1500.3 L1204.4 1777.6" stroke="#fbd08f" stroke-width="3.2" fill="none"/>
<path d="M778.4 1449 V1962.5 H1358.6" fill="none" stroke="#1a1a1a" stroke-width="1.5"/>
<path d="M800 1962.5v6.4M867.4 1962.5v6.4M934.8 1962.5v6.4M1002.2 1962.5v6.4M1069.6 1962.5v6.4M1137 1962.5v6.4M1204.4 1962.5v6.4M1271.8 1962.5v6.4M1339.2 1962.5v6.4M778.4 1948.4h-6.4M778.4 1851.9h-6.4M778.4 1755.4h-6.4M778.4 1659h-6.4M778.4 1562.5h-6.4M778.4 1466h-6.4" stroke="#1a1a1a" stroke-width="1.5" fill="none"/>
<g text-anchor="middle">
<text x="800" y="1988.7">9</text>
<text x="867.4" y="1988.7">10</text>
<text x="934.8" y="1988.7">11</text>
<text x="1002.2" y="1988.7">12</text>
<text x="1069.6" y="1988.7">13</text>
<text x="1137" y="1988.7">14</text>
<text x="1204.4" y="1988.7">15</text>
<text x="1271.8" y="1988.7">16</text>
<text x="1339.2" y="1988.7">17</text>
</g>
<rect x="500" y="96" width="450" height="52" fill="#fff"/>
<rect x="560" y="734" width="280" height="54" fill="#fff"/>
<rect x="555" y="1398" width="385" height="50" fill="#fff"/>
<text class="h" x="509.4" y="133.3" textLength="427" lengthAdjust="spacingAndGlyphs">Non-verbal intelligence</text>
<text class="h" x="578.3" y="770.7" textLength="239" lengthAdjust="spacingAndGlyphs">Math anxiety</text>
<text class="h" x="565.6" y="1435.1" textLength="362.5" lengthAdjust="spacingAndGlyphs">Maternal education</text>
<text class="l" x="62" y="109.3">A</text>
<text class="l" x="62.5" y="790.5">B</text>
<text class="l" x="62.5" y="1472.5">C</text>
<g text-anchor="middle">
<text x="450.6" y="708.8">Age</text>
<text x="1057" y="708.8">Age</text>
<text x="450.6" y="1374.6">Age</text>
<text x="1057" y="1374.6">Age</text>
<text x="461" y="2014.4">Age</text>
<text x="1066.5" y="2014.4">Age</text>
<text class="b" transform="translate(104.2 393.2) rotate(-90)">Math_standard</text>
<text class="b" transform="translate(104.2 1059.2) rotate(-90)">Math_standard</text>
<text class="b" transform="translate(113.7 1699) rotate(-90)">Math_standard</text>
</g>
<text class="b" x="1368.8" y="369.8">Raven_group</text>
<text class="b" x="1415.7" y="397.3">low</text>
<text class="b" x="1415.7" y="424.6">medium</text>
<text class="b" x="1415.7" y="451.9">high</text>
<text class="b" x="1368.8" y="1036.2">AMAS_group</text>
<text class="b" x="1415.7" y="1063.5">low</text>
<text class="b" x="1415.7" y="1090.8">high</text>
<text class="b" x="1415.7" y="1118.1">medium</text>
<text class="b" x="1373.6" y="1689.5">M_degree_group</text>
<text class="b" x="1454.8" y="1716.4">low</text>
<text class="b" x="1454.8" y="1743.7">high</text>
<g class="pts">
<g fill="#e0426e" stroke="#c2456f"><circle cx="1384.5" cy="393.2"/><circle cx="1384.5" cy="1059.2"/><circle cx="1423.5" cy="1712.3" r="5.3"/></g>
<g fill="#fb8861" stroke="#ef7a5c"><circle cx="1384.5" cy="420.6"/><circle cx="1384.5" cy="1086.6"/></g>
<g fill="#fed395" stroke="#f7c582"><circle cx="1384.5" cy="448"/><circle cx="1384.5" cy="1113.8"/><circle cx="1423.5" cy="1739.4" r="5.3"/></g>
</g>
</svg></body></html>
